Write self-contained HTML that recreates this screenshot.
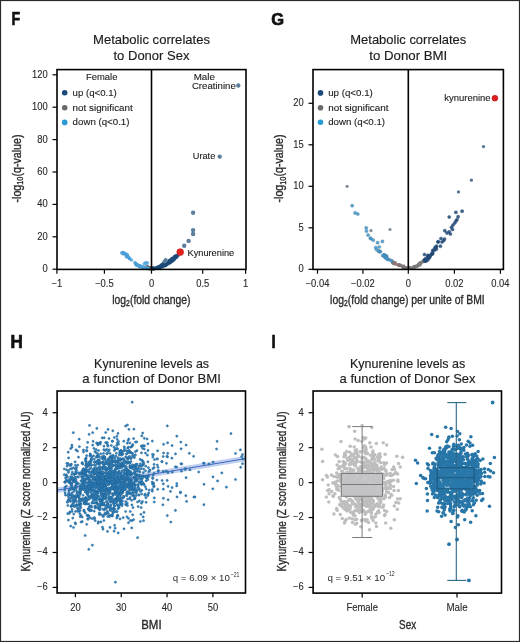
<!DOCTYPE html>
<html><head><meta charset="utf-8"><style>
html,body{margin:0;padding:0;background:#fff;}
svg{display:block;font-family:"Liberation Sans", sans-serif;will-change:transform;}
</style></head><body>
<svg width="520" height="642" viewBox="0 0 520 642">
<rect x="0.5" y="0.5" width="519" height="641" fill="#fff" stroke="#2a2a2a" stroke-width="1.2"/>
<text transform="translate(11.60,24.60) scale(0.800,1)" font-size="17.6" text-anchor="start" fill="#111" font-weight="bold" stroke="#111" stroke-width="0.7">F</text>
<text transform="translate(271.30,24.50) scale(0.970,1)" font-size="17.0" text-anchor="start" fill="#111" font-weight="bold" stroke="#111" stroke-width="0.7">G</text>
<text transform="translate(10.60,348.20) scale(0.970,1)" font-size="17.6" text-anchor="start" fill="#111" font-weight="bold" stroke="#111" stroke-width="0.7">H</text>
<text transform="translate(271.40,348.00) scale(0.850,1)" font-size="17.6" text-anchor="start" fill="#111" font-weight="bold" stroke="#111" stroke-width="0.7">I</text>
<text transform="translate(151.50,44.30)" font-size="13" text-anchor="middle" fill="#1e1b1c" textLength="117" lengthAdjust="spacingAndGlyphs" stroke="#1e1b1c" stroke-width="0.15">Metabolic correlates</text>
<text transform="translate(151.50,59.60)" font-size="13" text-anchor="middle" fill="#1e1b1c" textLength="76" lengthAdjust="spacingAndGlyphs" stroke="#1e1b1c" stroke-width="0.15">to Donor Sex</text>
<text transform="translate(408.30,44.30)" font-size="13" text-anchor="middle" fill="#1e1b1c" textLength="116" lengthAdjust="spacingAndGlyphs" stroke="#1e1b1c" stroke-width="0.15">Metabolic correlates</text>
<text transform="translate(408.30,59.60)" font-size="13" text-anchor="middle" fill="#1e1b1c" textLength="78" lengthAdjust="spacingAndGlyphs" stroke="#1e1b1c" stroke-width="0.15">to Donor BMI</text>
<text transform="translate(151.60,368.30)" font-size="13" text-anchor="middle" fill="#1e1b1c" textLength="115" lengthAdjust="spacingAndGlyphs" stroke="#1e1b1c" stroke-width="0.15">Kynurenine levels as</text>
<text transform="translate(151.60,383.40)" font-size="13" text-anchor="middle" fill="#1e1b1c" textLength="138.5" lengthAdjust="spacingAndGlyphs" stroke="#1e1b1c" stroke-width="0.15">a function of Donor BMI</text>
<text transform="translate(407.60,368.30)" font-size="13" text-anchor="middle" fill="#1e1b1c" textLength="115.4" lengthAdjust="spacingAndGlyphs" stroke="#1e1b1c" stroke-width="0.15">Kynurenine levels as</text>
<text transform="translate(407.60,383.40)" font-size="13" text-anchor="middle" fill="#1e1b1c" textLength="136" lengthAdjust="spacingAndGlyphs" stroke="#1e1b1c" stroke-width="0.15">a function of Donor Sex</text>
<line x1="52.50" y1="269.20" x2="57.00" y2="269.20" stroke="#000" stroke-width="1.2"/>
<text transform="translate(47.70,272.10) scale(0.940,1)" font-size="10" text-anchor="end" fill="#2a2a2a" stroke="#2a2a2a" stroke-width="0.12">0</text>
<line x1="52.50" y1="236.80" x2="57.00" y2="236.80" stroke="#000" stroke-width="1.2"/>
<text transform="translate(47.70,239.70) scale(0.940,1)" font-size="10" text-anchor="end" fill="#2a2a2a" stroke="#2a2a2a" stroke-width="0.12">20</text>
<line x1="52.50" y1="204.40" x2="57.00" y2="204.40" stroke="#000" stroke-width="1.2"/>
<text transform="translate(47.70,207.30) scale(0.940,1)" font-size="10" text-anchor="end" fill="#2a2a2a" stroke="#2a2a2a" stroke-width="0.12">40</text>
<line x1="52.50" y1="172.00" x2="57.00" y2="172.00" stroke="#000" stroke-width="1.2"/>
<text transform="translate(47.70,174.90) scale(0.940,1)" font-size="10" text-anchor="end" fill="#2a2a2a" stroke="#2a2a2a" stroke-width="0.12">60</text>
<line x1="52.50" y1="139.60" x2="57.00" y2="139.60" stroke="#000" stroke-width="1.2"/>
<text transform="translate(47.70,142.50) scale(0.940,1)" font-size="10" text-anchor="end" fill="#2a2a2a" stroke="#2a2a2a" stroke-width="0.12">80</text>
<line x1="52.50" y1="107.20" x2="57.00" y2="107.20" stroke="#000" stroke-width="1.2"/>
<text transform="translate(47.70,110.10) scale(0.940,1)" font-size="10" text-anchor="end" fill="#2a2a2a" stroke="#2a2a2a" stroke-width="0.12">100</text>
<line x1="52.50" y1="74.80" x2="57.00" y2="74.80" stroke="#000" stroke-width="1.2"/>
<text transform="translate(47.70,77.70) scale(0.940,1)" font-size="10" text-anchor="end" fill="#2a2a2a" stroke="#2a2a2a" stroke-width="0.12">120</text>
<line x1="56.90" y1="269.40" x2="56.90" y2="273.70" stroke="#000" stroke-width="1.2"/>
<text transform="translate(56.90,287.00) scale(0.940,1)" font-size="10" text-anchor="middle" fill="#2a2a2a" stroke="#2a2a2a" stroke-width="0.12">&#8722;1</text>
<line x1="104.40" y1="269.40" x2="104.40" y2="273.70" stroke="#000" stroke-width="1.2"/>
<text transform="translate(104.40,287.00) scale(0.940,1)" font-size="10" text-anchor="middle" fill="#2a2a2a" stroke="#2a2a2a" stroke-width="0.12">&#8722;0.5</text>
<line x1="151.50" y1="269.40" x2="151.50" y2="273.70" stroke="#000" stroke-width="1.2"/>
<text transform="translate(151.50,287.00) scale(0.940,1)" font-size="10" text-anchor="middle" fill="#2a2a2a" stroke="#2a2a2a" stroke-width="0.12">0</text>
<line x1="202.70" y1="269.40" x2="202.70" y2="273.70" stroke="#000" stroke-width="1.2"/>
<text transform="translate(202.70,287.00) scale(0.940,1)" font-size="10" text-anchor="middle" fill="#2a2a2a" stroke="#2a2a2a" stroke-width="0.12">0.5</text>
<line x1="245.60" y1="269.40" x2="245.60" y2="273.70" stroke="#000" stroke-width="1.2"/>
<text transform="translate(245.60,287.00) scale(0.940,1)" font-size="10" text-anchor="middle" fill="#2a2a2a" stroke="#2a2a2a" stroke-width="0.12">1</text>
<text transform="translate(151.4,303.8) scale(0.765,1)" font-size="13.6" text-anchor="middle" fill="#2a2a2a" stroke="#2a2a2a" stroke-width="0.35">log<tspan font-size="9" dy="2.6">2</tspan><tspan dy="-2.6">(fold change)</tspan></text>
<text transform="translate(20.8,168.5) rotate(-90) scale(0.81,1)" font-size="13.2" text-anchor="middle" fill="#2a2a2a" stroke="#2a2a2a" stroke-width="0.35">-log<tspan font-size="9" dy="2.6">10</tspan><tspan dy="-2.6">(q-value)</tspan></text>
<line x1="308.50" y1="269.30" x2="313.00" y2="269.30" stroke="#000" stroke-width="1.2"/>
<text transform="translate(303.70,272.20) scale(0.940,1)" font-size="10" text-anchor="end" fill="#2a2a2a" stroke="#2a2a2a" stroke-width="0.12">0</text>
<line x1="308.50" y1="227.80" x2="313.00" y2="227.80" stroke="#000" stroke-width="1.2"/>
<text transform="translate(303.70,230.70) scale(0.940,1)" font-size="10" text-anchor="end" fill="#2a2a2a" stroke="#2a2a2a" stroke-width="0.12">5</text>
<line x1="308.50" y1="186.30" x2="313.00" y2="186.30" stroke="#000" stroke-width="1.2"/>
<text transform="translate(303.70,189.20) scale(0.940,1)" font-size="10" text-anchor="end" fill="#2a2a2a" stroke="#2a2a2a" stroke-width="0.12">10</text>
<line x1="308.50" y1="144.80" x2="313.00" y2="144.80" stroke="#000" stroke-width="1.2"/>
<text transform="translate(303.70,147.70) scale(0.940,1)" font-size="10" text-anchor="end" fill="#2a2a2a" stroke="#2a2a2a" stroke-width="0.12">15</text>
<line x1="308.50" y1="103.30" x2="313.00" y2="103.30" stroke="#000" stroke-width="1.2"/>
<text transform="translate(303.70,106.20) scale(0.940,1)" font-size="10" text-anchor="end" fill="#2a2a2a" stroke="#2a2a2a" stroke-width="0.12">20</text>
<line x1="317.50" y1="269.40" x2="317.50" y2="273.70" stroke="#000" stroke-width="1.2"/>
<text transform="translate(317.50,287.00) scale(0.940,1)" font-size="10" text-anchor="middle" fill="#2a2a2a" stroke="#2a2a2a" stroke-width="0.12">&#8722;0.04</text>
<line x1="362.90" y1="269.40" x2="362.90" y2="273.70" stroke="#000" stroke-width="1.2"/>
<text transform="translate(362.90,287.00) scale(0.940,1)" font-size="10" text-anchor="middle" fill="#2a2a2a" stroke="#2a2a2a" stroke-width="0.12">&#8722;0.02</text>
<line x1="408.30" y1="269.40" x2="408.30" y2="273.70" stroke="#000" stroke-width="1.2"/>
<text transform="translate(408.30,287.00) scale(0.940,1)" font-size="10" text-anchor="middle" fill="#2a2a2a" stroke="#2a2a2a" stroke-width="0.12">0</text>
<line x1="454.40" y1="269.40" x2="454.40" y2="273.70" stroke="#000" stroke-width="1.2"/>
<text transform="translate(454.40,287.00) scale(0.940,1)" font-size="10" text-anchor="middle" fill="#2a2a2a" stroke="#2a2a2a" stroke-width="0.12">0.02</text>
<line x1="500.40" y1="269.40" x2="500.40" y2="273.70" stroke="#000" stroke-width="1.2"/>
<text transform="translate(500.40,287.00) scale(0.940,1)" font-size="10" text-anchor="middle" fill="#2a2a2a" stroke="#2a2a2a" stroke-width="0.12">0.04</text>
<text transform="translate(407.4,303.8) scale(0.765,1)" font-size="13.6" text-anchor="middle" fill="#2a2a2a" stroke="#2a2a2a" stroke-width="0.35">log<tspan font-size="9" dy="2.6">2</tspan><tspan dy="-2.6">(fold change) per unite of BMI</tspan></text>
<text transform="translate(283.2,168.5) rotate(-90) scale(0.81,1)" font-size="13.2" text-anchor="middle" fill="#2a2a2a" stroke="#2a2a2a" stroke-width="0.35">-log<tspan font-size="9" dy="2.6">10</tspan><tspan dy="-2.6">(q-value)</tspan></text>
<line x1="52.60" y1="587.42" x2="57.10" y2="587.42" stroke="#000" stroke-width="1.2"/>
<text transform="translate(47.80,590.32) scale(0.940,1)" font-size="10" text-anchor="end" fill="#2a2a2a" stroke="#2a2a2a" stroke-width="0.12">&#8722;6</text>
<line x1="52.60" y1="552.48" x2="57.10" y2="552.48" stroke="#000" stroke-width="1.2"/>
<text transform="translate(47.80,555.38) scale(0.940,1)" font-size="10" text-anchor="end" fill="#2a2a2a" stroke="#2a2a2a" stroke-width="0.12">&#8722;4</text>
<line x1="52.60" y1="517.54" x2="57.10" y2="517.54" stroke="#000" stroke-width="1.2"/>
<text transform="translate(47.80,520.44) scale(0.940,1)" font-size="10" text-anchor="end" fill="#2a2a2a" stroke="#2a2a2a" stroke-width="0.12">&#8722;2</text>
<line x1="52.60" y1="482.60" x2="57.10" y2="482.60" stroke="#000" stroke-width="1.2"/>
<text transform="translate(47.80,485.50) scale(0.940,1)" font-size="10" text-anchor="end" fill="#2a2a2a" stroke="#2a2a2a" stroke-width="0.12">0</text>
<line x1="52.60" y1="447.66" x2="57.10" y2="447.66" stroke="#000" stroke-width="1.2"/>
<text transform="translate(47.80,450.56) scale(0.940,1)" font-size="10" text-anchor="end" fill="#2a2a2a" stroke="#2a2a2a" stroke-width="0.12">2</text>
<line x1="52.60" y1="412.72" x2="57.10" y2="412.72" stroke="#000" stroke-width="1.2"/>
<text transform="translate(47.80,415.62) scale(0.940,1)" font-size="10" text-anchor="end" fill="#2a2a2a" stroke="#2a2a2a" stroke-width="0.12">4</text>
<line x1="75.40" y1="593.00" x2="75.40" y2="597.30" stroke="#000" stroke-width="1.2"/>
<text transform="translate(75.40,611.00) scale(0.940,1)" font-size="10" text-anchor="middle" fill="#2a2a2a" stroke="#2a2a2a" stroke-width="0.12">20</text>
<line x1="121.23" y1="593.00" x2="121.23" y2="597.30" stroke="#000" stroke-width="1.2"/>
<text transform="translate(121.23,611.00) scale(0.940,1)" font-size="10" text-anchor="middle" fill="#2a2a2a" stroke="#2a2a2a" stroke-width="0.12">30</text>
<line x1="167.06" y1="593.00" x2="167.06" y2="597.30" stroke="#000" stroke-width="1.2"/>
<text transform="translate(167.06,611.00) scale(0.940,1)" font-size="10" text-anchor="middle" fill="#2a2a2a" stroke="#2a2a2a" stroke-width="0.12">40</text>
<line x1="212.89" y1="593.00" x2="212.89" y2="597.30" stroke="#000" stroke-width="1.2"/>
<text transform="translate(212.89,611.00) scale(0.940,1)" font-size="10" text-anchor="middle" fill="#2a2a2a" stroke="#2a2a2a" stroke-width="0.12">50</text>
<text transform="translate(151.4,628.8) scale(0.87,1)" font-size="13.2" text-anchor="middle" fill="#2a2a2a" stroke="#2a2a2a" stroke-width="0.35">BMI</text>
<text transform="translate(30.2,491.4) rotate(-90) scale(0.765,1)" font-size="13" text-anchor="middle" fill="#2a2a2a" stroke="#2a2a2a" stroke-width="0.35">Kynurenine (Z score normalized AU)</text>
<line x1="308.60" y1="587.42" x2="313.10" y2="587.42" stroke="#000" stroke-width="1.2"/>
<text transform="translate(303.80,590.32) scale(0.940,1)" font-size="10" text-anchor="end" fill="#2a2a2a" stroke="#2a2a2a" stroke-width="0.12">&#8722;6</text>
<line x1="308.60" y1="552.48" x2="313.10" y2="552.48" stroke="#000" stroke-width="1.2"/>
<text transform="translate(303.80,555.38) scale(0.940,1)" font-size="10" text-anchor="end" fill="#2a2a2a" stroke="#2a2a2a" stroke-width="0.12">&#8722;4</text>
<line x1="308.60" y1="517.54" x2="313.10" y2="517.54" stroke="#000" stroke-width="1.2"/>
<text transform="translate(303.80,520.44) scale(0.940,1)" font-size="10" text-anchor="end" fill="#2a2a2a" stroke="#2a2a2a" stroke-width="0.12">&#8722;2</text>
<line x1="308.60" y1="482.60" x2="313.10" y2="482.60" stroke="#000" stroke-width="1.2"/>
<text transform="translate(303.80,485.50) scale(0.940,1)" font-size="10" text-anchor="end" fill="#2a2a2a" stroke="#2a2a2a" stroke-width="0.12">0</text>
<line x1="308.60" y1="447.66" x2="313.10" y2="447.66" stroke="#000" stroke-width="1.2"/>
<text transform="translate(303.80,450.56) scale(0.940,1)" font-size="10" text-anchor="end" fill="#2a2a2a" stroke="#2a2a2a" stroke-width="0.12">2</text>
<line x1="308.60" y1="412.72" x2="313.10" y2="412.72" stroke="#000" stroke-width="1.2"/>
<text transform="translate(303.80,415.62) scale(0.940,1)" font-size="10" text-anchor="end" fill="#2a2a2a" stroke="#2a2a2a" stroke-width="0.12">4</text>
<line x1="362.20" y1="593.10" x2="362.20" y2="597.40" stroke="#000" stroke-width="1.2"/>
<text transform="translate(362.20,610.70)" font-size="10" text-anchor="middle" fill="#2a2a2a" textLength="31.6" lengthAdjust="spacingAndGlyphs" stroke="#2a2a2a" stroke-width="0.12">Female</text>
<line x1="457.00" y1="593.10" x2="457.00" y2="597.40" stroke="#000" stroke-width="1.2"/>
<text transform="translate(457.00,610.70)" font-size="10" text-anchor="middle" fill="#2a2a2a" textLength="21.2" lengthAdjust="spacingAndGlyphs" stroke="#2a2a2a" stroke-width="0.12">Male</text>
<text transform="translate(407.6,629.3) scale(0.76,1)" font-size="13" text-anchor="middle" fill="#2a2a2a" stroke="#2a2a2a" stroke-width="0.35">Sex</text>
<text transform="translate(286.2,491.4) rotate(-90) scale(0.765,1)" font-size="13" text-anchor="middle" fill="#2a2a2a" stroke="#2a2a2a" stroke-width="0.35">Kynurenine (Z score normalized AU)</text>
<circle cx="149.2" cy="268.1" r="2.0" fill="#6a6a6a"/>
<circle cx="149.9" cy="268.6" r="2.0" fill="#6a6a6a"/>
<circle cx="147.0" cy="267.9" r="2.0" fill="#6a6a6a"/>
<circle cx="154.3" cy="268.5" r="2.0" fill="#6a6a6a"/>
<circle cx="147.2" cy="266.9" r="2.0" fill="#6a6a6a"/>
<circle cx="148.0" cy="267.4" r="2.0" fill="#6a6a6a"/>
<circle cx="152.3" cy="268.3" r="2.0" fill="#6a6a6a"/>
<circle cx="145.9" cy="267.5" r="2.0" fill="#6a6a6a"/>
<circle cx="147.9" cy="268.1" r="2.0" fill="#6a6a6a"/>
<circle cx="149.6" cy="268.6" r="2.0" fill="#6a6a6a"/>
<circle cx="150.7" cy="268.2" r="2.0" fill="#6a6a6a"/>
<circle cx="152.2" cy="268.6" r="2.0" fill="#6a6a6a"/>
<circle cx="157.1" cy="267.8" r="2.0" fill="#6a6a6a"/>
<circle cx="152.9" cy="268.6" r="2.0" fill="#6a6a6a"/>
<circle cx="129.3" cy="258.0" r="1.75" fill="#4a9fd6" fill-opacity="0.8"/>
<circle cx="131.5" cy="260.0" r="1.75" fill="#4a9fd6" fill-opacity="0.8"/>
<circle cx="147.6" cy="268.4" r="1.75" fill="#4a9fd6" fill-opacity="0.8"/>
<circle cx="127.4" cy="255.5" r="1.75" fill="#4a9fd6" fill-opacity="0.8"/>
<circle cx="148.2" cy="268.6" r="1.75" fill="#4a9fd6" fill-opacity="0.8"/>
<circle cx="137.4" cy="264.6" r="1.75" fill="#4a9fd6" fill-opacity="0.8"/>
<circle cx="123.4" cy="254.1" r="1.75" fill="#4a9fd6" fill-opacity="0.8"/>
<circle cx="141.4" cy="266.9" r="1.75" fill="#4a9fd6" fill-opacity="0.8"/>
<circle cx="125.1" cy="253.6" r="1.75" fill="#4a9fd6" fill-opacity="0.8"/>
<circle cx="125.9" cy="254.7" r="1.75" fill="#4a9fd6" fill-opacity="0.8"/>
<circle cx="126.5" cy="255.0" r="1.75" fill="#4a9fd6" fill-opacity="0.8"/>
<circle cx="138.1" cy="265.4" r="1.75" fill="#4a9fd6" fill-opacity="0.8"/>
<circle cx="126.9" cy="256.9" r="1.75" fill="#4a9fd6" fill-opacity="0.8"/>
<circle cx="142.4" cy="268.0" r="1.75" fill="#4a9fd6" fill-opacity="0.8"/>
<circle cx="126.4" cy="256.2" r="1.75" fill="#4a9fd6" fill-opacity="0.8"/>
<circle cx="138.7" cy="265.8" r="1.75" fill="#4a9fd6" fill-opacity="0.8"/>
<circle cx="127.0" cy="256.5" r="1.75" fill="#4a9fd6" fill-opacity="0.8"/>
<circle cx="129.6" cy="258.8" r="1.75" fill="#4a9fd6" fill-opacity="0.8"/>
<circle cx="123.8" cy="253.1" r="1.75" fill="#4a9fd6" fill-opacity="0.8"/>
<circle cx="136.2" cy="264.8" r="1.75" fill="#4a9fd6" fill-opacity="0.8"/>
<circle cx="147.1" cy="268.4" r="1.75" fill="#4a9fd6" fill-opacity="0.8"/>
<circle cx="144.7" cy="268.0" r="1.75" fill="#4a9fd6" fill-opacity="0.8"/>
<circle cx="146.1" cy="267.8" r="1.75" fill="#4a9fd6" fill-opacity="0.8"/>
<circle cx="126.5" cy="254.3" r="1.75" fill="#4a9fd6" fill-opacity="0.8"/>
<circle cx="127.5" cy="255.1" r="1.75" fill="#4a9fd6" fill-opacity="0.8"/>
<circle cx="136.4" cy="264.6" r="1.75" fill="#4a9fd6" fill-opacity="0.8"/>
<circle cx="122.7" cy="252.6" r="1.75" fill="#4a9fd6" fill-opacity="0.8"/>
<circle cx="139.6" cy="266.7" r="1.75" fill="#4a9fd6" fill-opacity="0.8"/>
<circle cx="136.3" cy="264.6" r="1.75" fill="#4a9fd6" fill-opacity="0.8"/>
<circle cx="140.3" cy="266.4" r="1.75" fill="#4a9fd6" fill-opacity="0.8"/>
<circle cx="135.7" cy="263.3" r="1.75" fill="#4a9fd6" fill-opacity="0.8"/>
<circle cx="128.7" cy="257.4" r="1.75" fill="#4a9fd6" fill-opacity="0.8"/>
<circle cx="121.7" cy="252.9" r="1.75" fill="#4a9fd6" fill-opacity="0.8"/>
<circle cx="123.3" cy="253.3" r="1.75" fill="#4a9fd6" fill-opacity="0.8"/>
<circle cx="136.0" cy="264.2" r="1.75" fill="#4a9fd6" fill-opacity="0.8"/>
<circle cx="146.0" cy="268.0" r="1.75" fill="#4a9fd6" fill-opacity="0.8"/>
<circle cx="139.0" cy="265.7" r="1.75" fill="#4a9fd6" fill-opacity="0.8"/>
<circle cx="123.2" cy="252.8" r="1.75" fill="#4a9fd6" fill-opacity="0.8"/>
<circle cx="139.6" cy="265.9" r="1.75" fill="#4a9fd6" fill-opacity="0.8"/>
<circle cx="136.9" cy="265.1" r="1.75" fill="#4a9fd6" fill-opacity="0.8"/>
<circle cx="129.6" cy="258.4" r="1.75" fill="#4a9fd6" fill-opacity="0.8"/>
<circle cx="134.9" cy="262.6" r="1.75" fill="#4a9fd6" fill-opacity="0.8"/>
<circle cx="140.4" cy="265.8" r="1.75" fill="#4a9fd6" fill-opacity="0.8"/>
<circle cx="145.8" cy="268.6" r="1.75" fill="#4a9fd6" fill-opacity="0.8"/>
<circle cx="146.0" cy="267.8" r="1.75" fill="#4a9fd6" fill-opacity="0.8"/>
<circle cx="142.6" cy="266.6" r="1.75" fill="#4a9fd6" fill-opacity="0.8"/>
<circle cx="136.8" cy="265.2" r="1.75" fill="#4a9fd6" fill-opacity="0.8"/>
<circle cx="137.2" cy="264.8" r="1.75" fill="#4a9fd6" fill-opacity="0.8"/>
<circle cx="144.5" cy="263.7" r="1.9" fill="#4ea3da" fill-opacity="0.8"/>
<circle cx="145.8" cy="262.8" r="1.9" fill="#4ea3da" fill-opacity="0.8"/>
<circle cx="147.2" cy="263.0" r="1.9" fill="#4ea3da" fill-opacity="0.8"/>
<circle cx="177.6" cy="255.5" r="2.0" fill="#1d4a78" fill-opacity="0.9"/>
<circle cx="162.8" cy="264.8" r="2.0" fill="#1d4a78" fill-opacity="0.9"/>
<circle cx="164.3" cy="264.7" r="2.0" fill="#1d4a78" fill-opacity="0.9"/>
<circle cx="172.3" cy="260.4" r="2.0" fill="#1d4a78" fill-opacity="0.9"/>
<circle cx="165.3" cy="265.2" r="2.0" fill="#1d4a78" fill-opacity="0.9"/>
<circle cx="164.5" cy="263.2" r="2.0" fill="#1d4a78" fill-opacity="0.9"/>
<circle cx="160.0" cy="267.2" r="2.0" fill="#1d4a78" fill-opacity="0.9"/>
<circle cx="169.9" cy="261.8" r="2.0" fill="#1d4a78" fill-opacity="0.9"/>
<circle cx="174.6" cy="257.1" r="2.0" fill="#1d4a78" fill-opacity="0.9"/>
<circle cx="174.2" cy="258.7" r="2.0" fill="#1d4a78" fill-opacity="0.9"/>
<circle cx="157.0" cy="268.1" r="2.0" fill="#1d4a78" fill-opacity="0.9"/>
<circle cx="175.6" cy="257.1" r="2.0" fill="#1d4a78" fill-opacity="0.9"/>
<circle cx="167.5" cy="263.1" r="2.0" fill="#1d4a78" fill-opacity="0.9"/>
<circle cx="166.1" cy="263.1" r="2.0" fill="#1d4a78" fill-opacity="0.9"/>
<circle cx="171.0" cy="260.7" r="2.0" fill="#1d4a78" fill-opacity="0.9"/>
<circle cx="156.8" cy="268.1" r="2.0" fill="#1d4a78" fill-opacity="0.9"/>
<circle cx="157.7" cy="267.9" r="2.0" fill="#1d4a78" fill-opacity="0.9"/>
<circle cx="165.0" cy="265.2" r="2.0" fill="#1d4a78" fill-opacity="0.9"/>
<circle cx="176.4" cy="256.4" r="2.0" fill="#1d4a78" fill-opacity="0.9"/>
<circle cx="153.6" cy="268.5" r="2.0" fill="#1d4a78" fill-opacity="0.9"/>
<circle cx="170.1" cy="260.7" r="2.0" fill="#1d4a78" fill-opacity="0.9"/>
<circle cx="172.7" cy="259.6" r="2.0" fill="#1d4a78" fill-opacity="0.9"/>
<circle cx="165.6" cy="264.8" r="2.0" fill="#1d4a78" fill-opacity="0.9"/>
<circle cx="159.2" cy="267.4" r="2.0" fill="#1d4a78" fill-opacity="0.9"/>
<circle cx="167.9" cy="262.5" r="2.0" fill="#1d4a78" fill-opacity="0.9"/>
<circle cx="169.8" cy="260.4" r="2.0" fill="#1d4a78" fill-opacity="0.9"/>
<circle cx="170.2" cy="262.0" r="2.0" fill="#1d4a78" fill-opacity="0.9"/>
<circle cx="158.2" cy="267.9" r="2.0" fill="#1d4a78" fill-opacity="0.9"/>
<circle cx="170.9" cy="261.3" r="2.0" fill="#1d4a78" fill-opacity="0.9"/>
<circle cx="161.6" cy="265.5" r="2.0" fill="#1d4a78" fill-opacity="0.9"/>
<circle cx="168.4" cy="261.8" r="2.0" fill="#1d4a78" fill-opacity="0.9"/>
<circle cx="172.6" cy="259.5" r="2.0" fill="#1d4a78" fill-opacity="0.9"/>
<circle cx="175.5" cy="256.9" r="2.0" fill="#1d4a78" fill-opacity="0.9"/>
<circle cx="163.5" cy="263.8" r="2.0" fill="#1d4a78" fill-opacity="0.9"/>
<circle cx="161.5" cy="265.2" r="2.0" fill="#1d4a78" fill-opacity="0.9"/>
<circle cx="173.2" cy="259.3" r="2.0" fill="#1d4a78" fill-opacity="0.9"/>
<circle cx="169.5" cy="262.8" r="2.0" fill="#1d4a78" fill-opacity="0.9"/>
<circle cx="172.4" cy="258.4" r="2.0" fill="#1d4a78" fill-opacity="0.9"/>
<circle cx="159.8" cy="266.5" r="2.0" fill="#1d4a78" fill-opacity="0.9"/>
<circle cx="175.5" cy="256.2" r="2.0" fill="#1d4a78" fill-opacity="0.9"/>
<circle cx="162.2" cy="265.8" r="2.0" fill="#1d4a78" fill-opacity="0.9"/>
<circle cx="162.5" cy="266.4" r="2.0" fill="#1d4a78" fill-opacity="0.9"/>
<circle cx="166.9" cy="262.6" r="2.0" fill="#1d4a78" fill-opacity="0.9"/>
<circle cx="153.5" cy="268.5" r="2.0" fill="#1d4a78" fill-opacity="0.9"/>
<circle cx="172.9" cy="259.9" r="2.0" fill="#1d4a78" fill-opacity="0.9"/>
<circle cx="172.6" cy="259.9" r="2.0" fill="#1d4a78" fill-opacity="0.9"/>
<circle cx="165.8" cy="262.7" r="2.0" fill="#1d4a78" fill-opacity="0.9"/>
<circle cx="170.7" cy="261.0" r="2.0" fill="#1d4a78" fill-opacity="0.9"/>
<circle cx="176.3" cy="257.1" r="2.0" fill="#1d4a78" fill-opacity="0.9"/>
<circle cx="166.0" cy="264.6" r="2.0" fill="#1d4a78" fill-opacity="0.9"/>
<circle cx="167.8" cy="261.9" r="2.0" fill="#1d4a78" fill-opacity="0.9"/>
<circle cx="166.8" cy="263.7" r="2.0" fill="#1d4a78" fill-opacity="0.9"/>
<circle cx="174.0" cy="258.5" r="2.0" fill="#1d4a78" fill-opacity="0.9"/>
<circle cx="174.5" cy="258.5" r="2.0" fill="#1d4a78" fill-opacity="0.9"/>
<circle cx="167.6" cy="263.7" r="2.0" fill="#1d4a78" fill-opacity="0.9"/>
<circle cx="165.6" cy="263.9" r="2.0" fill="#1d4a78" fill-opacity="0.9"/>
<circle cx="175.7" cy="256.5" r="2.0" fill="#1d4a78" fill-opacity="0.9"/>
<circle cx="172.0" cy="259.2" r="2.0" fill="#1d4a78" fill-opacity="0.9"/>
<circle cx="170.8" cy="261.5" r="2.0" fill="#1d4a78" fill-opacity="0.9"/>
<circle cx="164.8" cy="264.9" r="2.0" fill="#1d4a78" fill-opacity="0.9"/>
<circle cx="159.6" cy="267.0" r="2.0" fill="#1d4a78" fill-opacity="0.9"/>
<circle cx="164.5" cy="263.8" r="2.0" fill="#1d4a78" fill-opacity="0.9"/>
<circle cx="164.9" cy="264.7" r="2.0" fill="#1d4a78" fill-opacity="0.9"/>
<circle cx="168.7" cy="262.2" r="2.0" fill="#1d4a78" fill-opacity="0.9"/>
<circle cx="172.5" cy="259.9" r="2.0" fill="#1d4a78" fill-opacity="0.9"/>
<circle cx="158.6" cy="266.9" r="2.0" fill="#1d4a78" fill-opacity="0.9"/>
<circle cx="161.9" cy="265.8" r="2.0" fill="#1d4a78" fill-opacity="0.9"/>
<circle cx="171.5" cy="261.1" r="2.0" fill="#1d4a78" fill-opacity="0.9"/>
<circle cx="159.6" cy="267.9" r="2.0" fill="#1d4a78" fill-opacity="0.9"/>
<circle cx="163.6" cy="265.4" r="2.0" fill="#1d4a78" fill-opacity="0.9"/>
<circle cx="165.7" cy="260.2" r="2.1" fill="#5d7f9e"/>
<circle cx="164.5" cy="261.5" r="2.1" fill="#5d7f9e"/>
<circle cx="238.3" cy="85.5" r="2.2" fill="#5d7f9e"/>
<circle cx="219.7" cy="156.6" r="2.2" fill="#5d7f9e"/>
<circle cx="193.1" cy="212.8" r="2.2" fill="#5d7f9e"/>
<circle cx="193.1" cy="230.1" r="2.2" fill="#5d7f9e"/>
<circle cx="193.1" cy="234.0" r="2.2" fill="#5d7f9e"/>
<circle cx="188.6" cy="240.9" r="2.2" fill="#5d7f9e"/>
<circle cx="184.2" cy="245.7" r="2.2" fill="#5d7f9e"/>
<circle cx="180.2" cy="252.1" r="3.4" fill="#e2231a" stroke="#c01818" stroke-width="0.6"/>
<circle cx="400.0" cy="265.6" r="1.6" fill="#7d7676" fill-opacity="0.85"/>
<circle cx="400.9" cy="265.4" r="1.6" fill="#7d7676" fill-opacity="0.85"/>
<circle cx="403.9" cy="266.5" r="1.6" fill="#7d7676" fill-opacity="0.85"/>
<circle cx="395.3" cy="262.5" r="1.6" fill="#7d7676" fill-opacity="0.85"/>
<circle cx="405.3" cy="267.9" r="1.6" fill="#7d7676" fill-opacity="0.85"/>
<circle cx="406.2" cy="268.4" r="1.6" fill="#7d7676" fill-opacity="0.85"/>
<circle cx="405.5" cy="267.7" r="1.6" fill="#7d7676" fill-opacity="0.85"/>
<circle cx="402.8" cy="266.8" r="1.6" fill="#7d7676" fill-opacity="0.85"/>
<circle cx="403.6" cy="267.6" r="1.6" fill="#7d7676" fill-opacity="0.85"/>
<circle cx="393.1" cy="263.2" r="1.6" fill="#7d7676" fill-opacity="0.85"/>
<circle cx="392.5" cy="262.7" r="1.6" fill="#7d7676" fill-opacity="0.85"/>
<circle cx="405.9" cy="267.5" r="1.6" fill="#7d7676" fill-opacity="0.85"/>
<circle cx="399.5" cy="264.5" r="1.6" fill="#7d7676" fill-opacity="0.85"/>
<circle cx="402.3" cy="266.5" r="1.6" fill="#7d7676" fill-opacity="0.85"/>
<circle cx="394.2" cy="262.8" r="1.6" fill="#7d7676" fill-opacity="0.85"/>
<circle cx="399.3" cy="265.1" r="1.6" fill="#7d7676" fill-opacity="0.85"/>
<circle cx="394.9" cy="264.2" r="1.6" fill="#7d7676" fill-opacity="0.85"/>
<circle cx="407.1" cy="267.8" r="1.6" fill="#7d7676" fill-opacity="0.85"/>
<circle cx="393.5" cy="262.1" r="1.6" fill="#7d7676" fill-opacity="0.85"/>
<circle cx="403.1" cy="267.3" r="1.6" fill="#7d7676" fill-opacity="0.85"/>
<circle cx="398.9" cy="265.6" r="1.6" fill="#7d7676" fill-opacity="0.85"/>
<circle cx="391.9" cy="260.9" r="1.6" fill="#7d7676" fill-opacity="0.85"/>
<circle cx="393.7" cy="263.4" r="1.6" fill="#7d7676" fill-opacity="0.85"/>
<circle cx="398.1" cy="264.9" r="1.6" fill="#7d7676" fill-opacity="0.85"/>
<circle cx="400.7" cy="265.3" r="1.6" fill="#7d7676" fill-opacity="0.85"/>
<circle cx="403.6" cy="265.9" r="1.6" fill="#7d7676" fill-opacity="0.85"/>
<circle cx="395.0" cy="263.5" r="1.6" fill="#9a7070" fill-opacity="0.8"/>
<circle cx="397.5" cy="264.6" r="1.6" fill="#9a7070" fill-opacity="0.8"/>
<circle cx="418.2" cy="265.1" r="1.6" fill="#7a7a7a" fill-opacity="0.85"/>
<circle cx="418.0" cy="265.5" r="1.6" fill="#7a7a7a" fill-opacity="0.85"/>
<circle cx="414.2" cy="266.7" r="1.6" fill="#7a7a7a" fill-opacity="0.85"/>
<circle cx="421.0" cy="262.9" r="1.6" fill="#7a7a7a" fill-opacity="0.85"/>
<circle cx="423.0" cy="261.8" r="1.6" fill="#7a7a7a" fill-opacity="0.85"/>
<circle cx="420.7" cy="262.9" r="1.6" fill="#7a7a7a" fill-opacity="0.85"/>
<circle cx="420.5" cy="264.1" r="1.6" fill="#7a7a7a" fill-opacity="0.85"/>
<circle cx="417.1" cy="265.9" r="1.6" fill="#7a7a7a" fill-opacity="0.85"/>
<circle cx="418.6" cy="264.3" r="1.6" fill="#7a7a7a" fill-opacity="0.85"/>
<circle cx="422.7" cy="261.5" r="1.6" fill="#7a7a7a" fill-opacity="0.85"/>
<circle cx="418.6" cy="264.1" r="1.6" fill="#7a7a7a" fill-opacity="0.85"/>
<circle cx="416.2" cy="266.4" r="1.6" fill="#7a7a7a" fill-opacity="0.85"/>
<circle cx="419.9" cy="262.5" r="1.6" fill="#7a7a7a" fill-opacity="0.85"/>
<circle cx="409.2" cy="267.6" r="1.6" fill="#7a7a7a" fill-opacity="0.85"/>
<circle cx="413.3" cy="267.2" r="1.6" fill="#7a7a7a" fill-opacity="0.85"/>
<circle cx="412.3" cy="267.6" r="1.6" fill="#7a7a7a" fill-opacity="0.85"/>
<circle cx="413.9" cy="266.8" r="1.6" fill="#7a7a7a" fill-opacity="0.85"/>
<circle cx="417.8" cy="265.4" r="1.6" fill="#7a7a7a" fill-opacity="0.85"/>
<circle cx="423.0" cy="260.7" r="1.6" fill="#7a7a7a" fill-opacity="0.85"/>
<circle cx="409.9" cy="267.4" r="1.6" fill="#7a7a7a" fill-opacity="0.85"/>
<circle cx="410.5" cy="268.0" r="1.6" fill="#7a7a7a" fill-opacity="0.85"/>
<circle cx="416.9" cy="266.4" r="1.6" fill="#7a7a7a" fill-opacity="0.85"/>
<circle cx="419.8" cy="265.2" r="1.6" fill="#7a7a7a" fill-opacity="0.85"/>
<circle cx="415.1" cy="266.1" r="1.6" fill="#7a7a7a" fill-opacity="0.85"/>
<circle cx="414.9" cy="267.3" r="1.6" fill="#7a7a7a" fill-opacity="0.85"/>
<circle cx="417.6" cy="266.0" r="1.6" fill="#7a7a7a" fill-opacity="0.85"/>
<circle cx="414.4" cy="267.0" r="1.6" fill="#7a7a7a" fill-opacity="0.85"/>
<circle cx="410.7" cy="268.4" r="1.6" fill="#7a7a7a" fill-opacity="0.85"/>
<circle cx="384.0" cy="254.7" r="1.6" fill="#3f98cf" fill-opacity="0.85" stroke="#4d7d9c" stroke-width="0.4"/>
<circle cx="380.3" cy="251.5" r="1.6" fill="#3f98cf" fill-opacity="0.85" stroke="#4d7d9c" stroke-width="0.4"/>
<circle cx="379.8" cy="251.6" r="1.6" fill="#3f98cf" fill-opacity="0.85" stroke="#4d7d9c" stroke-width="0.4"/>
<circle cx="384.9" cy="255.9" r="1.6" fill="#3f98cf" fill-opacity="0.85" stroke="#4d7d9c" stroke-width="0.4"/>
<circle cx="386.0" cy="256.0" r="1.6" fill="#3f98cf" fill-opacity="0.85" stroke="#4d7d9c" stroke-width="0.4"/>
<circle cx="385.4" cy="255.7" r="1.6" fill="#3f98cf" fill-opacity="0.85" stroke="#4d7d9c" stroke-width="0.4"/>
<circle cx="386.6" cy="257.8" r="1.6" fill="#3f98cf" fill-opacity="0.85" stroke="#4d7d9c" stroke-width="0.4"/>
<circle cx="384.3" cy="255.9" r="1.6" fill="#3f98cf" fill-opacity="0.85" stroke="#4d7d9c" stroke-width="0.4"/>
<circle cx="385.7" cy="256.7" r="1.6" fill="#3f98cf" fill-opacity="0.85" stroke="#4d7d9c" stroke-width="0.4"/>
<circle cx="386.3" cy="258.2" r="1.6" fill="#3f98cf" fill-opacity="0.85" stroke="#4d7d9c" stroke-width="0.4"/>
<circle cx="385.1" cy="257.4" r="1.6" fill="#3f98cf" fill-opacity="0.85" stroke="#4d7d9c" stroke-width="0.4"/>
<circle cx="386.6" cy="256.3" r="1.6" fill="#3f98cf" fill-opacity="0.85" stroke="#4d7d9c" stroke-width="0.4"/>
<circle cx="387.5" cy="259.1" r="1.6" fill="#3f98cf" fill-opacity="0.85" stroke="#4d7d9c" stroke-width="0.4"/>
<circle cx="389.7" cy="259.8" r="1.6" fill="#3f98cf" fill-opacity="0.85" stroke="#4d7d9c" stroke-width="0.4"/>
<circle cx="382.8" cy="255.7" r="1.6" fill="#3f98cf" fill-opacity="0.85" stroke="#4d7d9c" stroke-width="0.4"/>
<circle cx="385.1" cy="256.4" r="1.6" fill="#3f98cf" fill-opacity="0.85" stroke="#4d7d9c" stroke-width="0.4"/>
<circle cx="387.9" cy="259.4" r="1.6" fill="#3f98cf" fill-opacity="0.85" stroke="#4d7d9c" stroke-width="0.4"/>
<circle cx="391.6" cy="260.8" r="1.6" fill="#3f98cf" fill-opacity="0.85" stroke="#4d7d9c" stroke-width="0.4"/>
<circle cx="379.3" cy="251.6" r="1.6" fill="#3f98cf" fill-opacity="0.85" stroke="#4d7d9c" stroke-width="0.4"/>
<circle cx="383.7" cy="255.3" r="1.6" fill="#3f98cf" fill-opacity="0.85" stroke="#4d7d9c" stroke-width="0.4"/>
<circle cx="385.7" cy="256.6" r="1.6" fill="#3f98cf" fill-opacity="0.85" stroke="#4d7d9c" stroke-width="0.4"/>
<circle cx="386.1" cy="258.0" r="1.6" fill="#3f98cf" fill-opacity="0.85" stroke="#4d7d9c" stroke-width="0.4"/>
<circle cx="352.2" cy="205.7" r="1.6" fill="#3f98cf" fill-opacity="0.85" stroke="#4d7d9c" stroke-width="0.4"/>
<circle cx="355.1" cy="212.9" r="1.6" fill="#3f98cf" fill-opacity="0.85" stroke="#4d7d9c" stroke-width="0.4"/>
<circle cx="357.8" cy="214.0" r="1.6" fill="#3f98cf" fill-opacity="0.85" stroke="#4d7d9c" stroke-width="0.4"/>
<circle cx="366.2" cy="227.9" r="1.6" fill="#3f98cf" fill-opacity="0.85" stroke="#4d7d9c" stroke-width="0.4"/>
<circle cx="366.5" cy="231.1" r="1.6" fill="#3f98cf" fill-opacity="0.85" stroke="#4d7d9c" stroke-width="0.4"/>
<circle cx="368.1" cy="235.1" r="1.6" fill="#3f98cf" fill-opacity="0.85" stroke="#4d7d9c" stroke-width="0.4"/>
<circle cx="370.5" cy="238.3" r="1.6" fill="#3f98cf" fill-opacity="0.85" stroke="#4d7d9c" stroke-width="0.4"/>
<circle cx="370.8" cy="238.5" r="1.6" fill="#3f98cf" fill-opacity="0.85" stroke="#4d7d9c" stroke-width="0.4"/>
<circle cx="373.2" cy="240.2" r="1.6" fill="#3f98cf" fill-opacity="0.85" stroke="#4d7d9c" stroke-width="0.4"/>
<circle cx="377.6" cy="242.7" r="1.6" fill="#3f98cf" fill-opacity="0.85" stroke="#4d7d9c" stroke-width="0.4"/>
<circle cx="382.4" cy="241.4" r="1.6" fill="#3f98cf" fill-opacity="0.85" stroke="#4d7d9c" stroke-width="0.4"/>
<circle cx="375.7" cy="247.5" r="1.6" fill="#3f98cf" fill-opacity="0.85" stroke="#4d7d9c" stroke-width="0.4"/>
<circle cx="379.2" cy="247.0" r="1.6" fill="#3f98cf" fill-opacity="0.85" stroke="#4d7d9c" stroke-width="0.4"/>
<circle cx="378.4" cy="251.0" r="1.6" fill="#3f98cf" fill-opacity="0.85" stroke="#4d7d9c" stroke-width="0.4"/>
<circle cx="376.5" cy="249.5" r="1.6" fill="#3f98cf" fill-opacity="0.85" stroke="#4d7d9c" stroke-width="0.4"/>
<circle cx="347.1" cy="186.3" r="1.6" fill="#7a8894" fill-opacity="0.95"/>
<circle cx="371.0" cy="230.6" r="1.6" fill="#7a8894" fill-opacity="0.95"/>
<circle cx="390.0" cy="229.5" r="1.6" fill="#7a8894" fill-opacity="0.95"/>
<circle cx="428.6" cy="256.9" r="1.6" fill="#1d4673" fill-opacity="0.85" stroke="#2a527c" stroke-width="0.4"/>
<circle cx="428.6" cy="256.0" r="1.6" fill="#1d4673" fill-opacity="0.85" stroke="#2a527c" stroke-width="0.4"/>
<circle cx="425.8" cy="260.9" r="1.6" fill="#1d4673" fill-opacity="0.85" stroke="#2a527c" stroke-width="0.4"/>
<circle cx="432.0" cy="253.3" r="1.6" fill="#1d4673" fill-opacity="0.85" stroke="#2a527c" stroke-width="0.4"/>
<circle cx="429.6" cy="257.4" r="1.6" fill="#1d4673" fill-opacity="0.85" stroke="#2a527c" stroke-width="0.4"/>
<circle cx="427.9" cy="255.4" r="1.6" fill="#1d4673" fill-opacity="0.85" stroke="#2a527c" stroke-width="0.4"/>
<circle cx="427.4" cy="257.1" r="1.6" fill="#1d4673" fill-opacity="0.85" stroke="#2a527c" stroke-width="0.4"/>
<circle cx="434.7" cy="249.9" r="1.6" fill="#1d4673" fill-opacity="0.85" stroke="#2a527c" stroke-width="0.4"/>
<circle cx="425.5" cy="259.7" r="1.6" fill="#1d4673" fill-opacity="0.85" stroke="#2a527c" stroke-width="0.4"/>
<circle cx="424.5" cy="259.8" r="1.6" fill="#1d4673" fill-opacity="0.85" stroke="#2a527c" stroke-width="0.4"/>
<circle cx="432.4" cy="253.9" r="1.6" fill="#1d4673" fill-opacity="0.85" stroke="#2a527c" stroke-width="0.4"/>
<circle cx="425.2" cy="261.0" r="1.6" fill="#1d4673" fill-opacity="0.85" stroke="#2a527c" stroke-width="0.4"/>
<circle cx="424.8" cy="261.0" r="1.6" fill="#1d4673" fill-opacity="0.85" stroke="#2a527c" stroke-width="0.4"/>
<circle cx="432.7" cy="253.1" r="1.6" fill="#1d4673" fill-opacity="0.85" stroke="#2a527c" stroke-width="0.4"/>
<circle cx="428.7" cy="256.4" r="1.6" fill="#1d4673" fill-opacity="0.85" stroke="#2a527c" stroke-width="0.4"/>
<circle cx="425.4" cy="258.9" r="1.6" fill="#1d4673" fill-opacity="0.85" stroke="#2a527c" stroke-width="0.4"/>
<circle cx="436.4" cy="249.1" r="1.6" fill="#1d4673" fill-opacity="0.85" stroke="#2a527c" stroke-width="0.4"/>
<circle cx="430.0" cy="255.6" r="1.6" fill="#1d4673" fill-opacity="0.85" stroke="#2a527c" stroke-width="0.4"/>
<circle cx="483.5" cy="146.6" r="1.6" fill="#4a6a8c" fill-opacity="0.95"/>
<circle cx="471.4" cy="180.2" r="1.6" fill="#4a6a8c" fill-opacity="0.95"/>
<circle cx="458.5" cy="191.9" r="1.6" fill="#4a6a8c" fill-opacity="0.95"/>
<circle cx="462.1" cy="211.2" r="1.6" fill="#1d4673" fill-opacity="0.85" stroke="#2a527c" stroke-width="0.4"/>
<circle cx="455.9" cy="212.3" r="1.6" fill="#1d4673" fill-opacity="0.85" stroke="#2a527c" stroke-width="0.4"/>
<circle cx="449.2" cy="217.0" r="1.6" fill="#1d4673" fill-opacity="0.85" stroke="#2a527c" stroke-width="0.4"/>
<circle cx="458.1" cy="216.7" r="1.6" fill="#1d4673" fill-opacity="0.85" stroke="#2a527c" stroke-width="0.4"/>
<circle cx="457.0" cy="219.6" r="1.6" fill="#1d4673" fill-opacity="0.85" stroke="#2a527c" stroke-width="0.4"/>
<circle cx="454.8" cy="222.9" r="1.6" fill="#1d4673" fill-opacity="0.85" stroke="#2a527c" stroke-width="0.4"/>
<circle cx="451.5" cy="227.3" r="1.6" fill="#1d4673" fill-opacity="0.85" stroke="#2a527c" stroke-width="0.4"/>
<circle cx="449.2" cy="231.8" r="1.6" fill="#1d4673" fill-opacity="0.85" stroke="#2a527c" stroke-width="0.4"/>
<circle cx="444.8" cy="230.7" r="1.6" fill="#1d4673" fill-opacity="0.85" stroke="#2a527c" stroke-width="0.4"/>
<circle cx="450.4" cy="234.0" r="1.6" fill="#1d4673" fill-opacity="0.85" stroke="#2a527c" stroke-width="0.4"/>
<circle cx="443.7" cy="240.6" r="1.6" fill="#1d4673" fill-opacity="0.85" stroke="#2a527c" stroke-width="0.4"/>
<circle cx="438.2" cy="241.7" r="1.6" fill="#1d4673" fill-opacity="0.85" stroke="#2a527c" stroke-width="0.4"/>
<circle cx="436.0" cy="247.3" r="1.6" fill="#1d4673" fill-opacity="0.85" stroke="#2a527c" stroke-width="0.4"/>
<circle cx="440.4" cy="246.2" r="1.6" fill="#1d4673" fill-opacity="0.85" stroke="#2a527c" stroke-width="0.4"/>
<circle cx="432.7" cy="250.6" r="1.6" fill="#1d4673" fill-opacity="0.85" stroke="#2a527c" stroke-width="0.4"/>
<circle cx="424.5" cy="254.5" r="1.6" fill="#1d4673" fill-opacity="0.85" stroke="#2a527c" stroke-width="0.4"/>
<circle cx="429.3" cy="256.1" r="1.6" fill="#1d4673" fill-opacity="0.85" stroke="#2a527c" stroke-width="0.4"/>
<circle cx="427.1" cy="260.5" r="1.6" fill="#1d4673" fill-opacity="0.85" stroke="#2a527c" stroke-width="0.4"/>
<circle cx="453.0" cy="225.0" r="1.6" fill="#1d4673" fill-opacity="0.85" stroke="#2a527c" stroke-width="0.4"/>
<circle cx="447.0" cy="233.0" r="1.6" fill="#1d4673" fill-opacity="0.85" stroke="#2a527c" stroke-width="0.4"/>
<circle cx="441.0" cy="238.5" r="1.6" fill="#1d4673" fill-opacity="0.85" stroke="#2a527c" stroke-width="0.4"/>
<circle cx="438.0" cy="242.0" r="1.6" fill="#1d4673" fill-opacity="0.85" stroke="#2a527c" stroke-width="0.4"/>
<circle cx="442.0" cy="242.0" r="1.6" fill="#1d4673" fill-opacity="0.85" stroke="#2a527c" stroke-width="0.4"/>
<circle cx="444.5" cy="239.0" r="1.6" fill="#1d4673" fill-opacity="0.85" stroke="#2a527c" stroke-width="0.4"/>
<circle cx="436.5" cy="246.0" r="1.6" fill="#1d4673" fill-opacity="0.85" stroke="#2a527c" stroke-width="0.4"/>
<circle cx="435.0" cy="247.5" r="1.6" fill="#1d4673" fill-opacity="0.85" stroke="#2a527c" stroke-width="0.4"/>
<circle cx="433.5" cy="250.0" r="1.6" fill="#1d4673" fill-opacity="0.85" stroke="#2a527c" stroke-width="0.4"/>
<circle cx="430.0" cy="256.0" r="1.6" fill="#1d4673" fill-opacity="0.85" stroke="#2a527c" stroke-width="0.4"/>
<circle cx="432.0" cy="254.0" r="1.6" fill="#1d4673" fill-opacity="0.85" stroke="#2a527c" stroke-width="0.4"/>
<circle cx="428.5" cy="259.0" r="1.6" fill="#1d4673" fill-opacity="0.85" stroke="#2a527c" stroke-width="0.4"/>
<circle cx="452.5" cy="229.5" r="1.6" fill="#1d4673" fill-opacity="0.85" stroke="#2a527c" stroke-width="0.4"/>
<circle cx="456.0" cy="221.0" r="1.6" fill="#1d4673" fill-opacity="0.85" stroke="#2a527c" stroke-width="0.4"/>
<circle cx="494.9" cy="98.2" r="2.9" fill="#dd1f1f" stroke="#b51515" stroke-width="0.6"/>
<polygon points="57.1,487.4 246,455.7 246,461.3 57.1,493.0" fill="#a9c0ea" fill-opacity="0.75"/>
<line x1="57.1" y1="490.2" x2="246" y2="458.5" stroke="#4466c4" stroke-width="1.0"/>
<circle cx="103.0" cy="529.2" r="1.1" fill="#2f86c6" stroke="#1f5c88" stroke-width="0.45"/>
<circle cx="109.5" cy="483.5" r="1.1" fill="#2f86c6" stroke="#1f5c88" stroke-width="0.45"/>
<circle cx="145.5" cy="453.1" r="1.1" fill="#2f86c6" stroke="#1f5c88" stroke-width="0.45"/>
<circle cx="120.8" cy="482.2" r="1.1" fill="#2f86c6" stroke="#1f5c88" stroke-width="0.45"/>
<circle cx="103.4" cy="456.8" r="1.1" fill="#2f86c6" stroke="#1f5c88" stroke-width="0.45"/>
<circle cx="86.2" cy="469.8" r="1.1" fill="#2f86c6" stroke="#1f5c88" stroke-width="0.45"/>
<circle cx="127.9" cy="470.2" r="1.1" fill="#2f86c6" stroke="#1f5c88" stroke-width="0.45"/>
<circle cx="94.0" cy="469.0" r="1.1" fill="#2f86c6" stroke="#1f5c88" stroke-width="0.45"/>
<circle cx="138.1" cy="487.1" r="1.1" fill="#2f86c6" stroke="#1f5c88" stroke-width="0.45"/>
<circle cx="135.5" cy="491.7" r="1.1" fill="#2f86c6" stroke="#1f5c88" stroke-width="0.45"/>
<circle cx="126.7" cy="473.7" r="1.1" fill="#2f86c6" stroke="#1f5c88" stroke-width="0.45"/>
<circle cx="114.9" cy="481.7" r="1.1" fill="#2f86c6" stroke="#1f5c88" stroke-width="0.45"/>
<circle cx="103.9" cy="494.3" r="1.1" fill="#2f86c6" stroke="#1f5c88" stroke-width="0.45"/>
<circle cx="141.5" cy="503.2" r="1.1" fill="#2f86c6" stroke="#1f5c88" stroke-width="0.45"/>
<circle cx="109.0" cy="438.5" r="1.1" fill="#2f86c6" stroke="#1f5c88" stroke-width="0.45"/>
<circle cx="110.1" cy="477.5" r="1.1" fill="#2f86c6" stroke="#1f5c88" stroke-width="0.45"/>
<circle cx="84.4" cy="475.1" r="1.1" fill="#2f86c6" stroke="#1f5c88" stroke-width="0.45"/>
<circle cx="122.5" cy="476.1" r="1.1" fill="#2f86c6" stroke="#1f5c88" stroke-width="0.45"/>
<circle cx="193.9" cy="497.1" r="1.1" fill="#2f86c6" stroke="#1f5c88" stroke-width="0.45"/>
<circle cx="99.1" cy="473.1" r="1.1" fill="#2f86c6" stroke="#1f5c88" stroke-width="0.45"/>
<circle cx="75.3" cy="500.2" r="1.1" fill="#2f86c6" stroke="#1f5c88" stroke-width="0.45"/>
<circle cx="127.8" cy="448.1" r="1.1" fill="#2f86c6" stroke="#1f5c88" stroke-width="0.45"/>
<circle cx="97.6" cy="469.4" r="1.1" fill="#2f86c6" stroke="#1f5c88" stroke-width="0.45"/>
<circle cx="124.3" cy="446.8" r="1.1" fill="#2f86c6" stroke="#1f5c88" stroke-width="0.45"/>
<circle cx="166.9" cy="456.4" r="1.1" fill="#2f86c6" stroke="#1f5c88" stroke-width="0.45"/>
<circle cx="71.2" cy="506.1" r="1.1" fill="#2f86c6" stroke="#1f5c88" stroke-width="0.45"/>
<circle cx="147.9" cy="461.8" r="1.1" fill="#2f86c6" stroke="#1f5c88" stroke-width="0.45"/>
<circle cx="128.4" cy="447.2" r="1.1" fill="#2f86c6" stroke="#1f5c88" stroke-width="0.45"/>
<circle cx="106.9" cy="489.9" r="1.1" fill="#2f86c6" stroke="#1f5c88" stroke-width="0.45"/>
<circle cx="114.9" cy="492.7" r="1.1" fill="#2f86c6" stroke="#1f5c88" stroke-width="0.45"/>
<circle cx="168.1" cy="499.8" r="1.1" fill="#2f86c6" stroke="#1f5c88" stroke-width="0.45"/>
<circle cx="107.4" cy="489.9" r="1.1" fill="#2f86c6" stroke="#1f5c88" stroke-width="0.45"/>
<circle cx="111.3" cy="445.5" r="1.1" fill="#2f86c6" stroke="#1f5c88" stroke-width="0.45"/>
<circle cx="97.3" cy="471.8" r="1.1" fill="#2f86c6" stroke="#1f5c88" stroke-width="0.45"/>
<circle cx="114.0" cy="500.5" r="1.1" fill="#2f86c6" stroke="#1f5c88" stroke-width="0.45"/>
<circle cx="133.7" cy="492.6" r="1.1" fill="#2f86c6" stroke="#1f5c88" stroke-width="0.45"/>
<circle cx="73.8" cy="491.4" r="1.1" fill="#2f86c6" stroke="#1f5c88" stroke-width="0.45"/>
<circle cx="129.4" cy="489.7" r="1.1" fill="#2f86c6" stroke="#1f5c88" stroke-width="0.45"/>
<circle cx="153.7" cy="486.8" r="1.1" fill="#2f86c6" stroke="#1f5c88" stroke-width="0.45"/>
<circle cx="100.3" cy="472.8" r="1.1" fill="#2f86c6" stroke="#1f5c88" stroke-width="0.45"/>
<circle cx="76.6" cy="504.7" r="1.1" fill="#2f86c6" stroke="#1f5c88" stroke-width="0.45"/>
<circle cx="76.7" cy="467.5" r="1.1" fill="#2f86c6" stroke="#1f5c88" stroke-width="0.45"/>
<circle cx="68.6" cy="457.9" r="1.1" fill="#2f86c6" stroke="#1f5c88" stroke-width="0.45"/>
<circle cx="98.0" cy="462.2" r="1.1" fill="#2f86c6" stroke="#1f5c88" stroke-width="0.45"/>
<circle cx="72.6" cy="489.0" r="1.1" fill="#2f86c6" stroke="#1f5c88" stroke-width="0.45"/>
<circle cx="91.5" cy="493.7" r="1.1" fill="#2f86c6" stroke="#1f5c88" stroke-width="0.45"/>
<circle cx="85.6" cy="503.7" r="1.1" fill="#2f86c6" stroke="#1f5c88" stroke-width="0.45"/>
<circle cx="78.9" cy="510.3" r="1.1" fill="#2f86c6" stroke="#1f5c88" stroke-width="0.45"/>
<circle cx="116.1" cy="483.9" r="1.1" fill="#2f86c6" stroke="#1f5c88" stroke-width="0.45"/>
<circle cx="100.2" cy="474.2" r="1.1" fill="#2f86c6" stroke="#1f5c88" stroke-width="0.45"/>
<circle cx="108.5" cy="480.0" r="1.1" fill="#2f86c6" stroke="#1f5c88" stroke-width="0.45"/>
<circle cx="110.1" cy="499.2" r="1.1" fill="#2f86c6" stroke="#1f5c88" stroke-width="0.45"/>
<circle cx="86.1" cy="458.7" r="1.1" fill="#2f86c6" stroke="#1f5c88" stroke-width="0.45"/>
<circle cx="105.0" cy="457.6" r="1.1" fill="#2f86c6" stroke="#1f5c88" stroke-width="0.45"/>
<circle cx="131.7" cy="483.7" r="1.1" fill="#2f86c6" stroke="#1f5c88" stroke-width="0.45"/>
<circle cx="98.4" cy="521.8" r="1.1" fill="#2f86c6" stroke="#1f5c88" stroke-width="0.45"/>
<circle cx="78.4" cy="477.1" r="1.1" fill="#2f86c6" stroke="#1f5c88" stroke-width="0.45"/>
<circle cx="76.4" cy="505.6" r="1.1" fill="#2f86c6" stroke="#1f5c88" stroke-width="0.45"/>
<circle cx="213.0" cy="476.9" r="1.1" fill="#2f86c6" stroke="#1f5c88" stroke-width="0.45"/>
<circle cx="116.5" cy="502.4" r="1.1" fill="#2f86c6" stroke="#1f5c88" stroke-width="0.45"/>
<circle cx="93.0" cy="471.1" r="1.1" fill="#2f86c6" stroke="#1f5c88" stroke-width="0.45"/>
<circle cx="91.3" cy="496.6" r="1.1" fill="#2f86c6" stroke="#1f5c88" stroke-width="0.45"/>
<circle cx="163.3" cy="489.2" r="1.1" fill="#2f86c6" stroke="#1f5c88" stroke-width="0.45"/>
<circle cx="135.7" cy="484.8" r="1.1" fill="#2f86c6" stroke="#1f5c88" stroke-width="0.45"/>
<circle cx="129.5" cy="480.1" r="1.1" fill="#2f86c6" stroke="#1f5c88" stroke-width="0.45"/>
<circle cx="126.5" cy="461.8" r="1.1" fill="#2f86c6" stroke="#1f5c88" stroke-width="0.45"/>
<circle cx="113.0" cy="513.0" r="1.1" fill="#2f86c6" stroke="#1f5c88" stroke-width="0.45"/>
<circle cx="97.2" cy="443.1" r="1.1" fill="#2f86c6" stroke="#1f5c88" stroke-width="0.45"/>
<circle cx="103.3" cy="467.4" r="1.1" fill="#2f86c6" stroke="#1f5c88" stroke-width="0.45"/>
<circle cx="85.5" cy="497.9" r="1.1" fill="#2f86c6" stroke="#1f5c88" stroke-width="0.45"/>
<circle cx="104.5" cy="491.1" r="1.1" fill="#2f86c6" stroke="#1f5c88" stroke-width="0.45"/>
<circle cx="85.8" cy="488.8" r="1.1" fill="#2f86c6" stroke="#1f5c88" stroke-width="0.45"/>
<circle cx="84.8" cy="482.0" r="1.1" fill="#2f86c6" stroke="#1f5c88" stroke-width="0.45"/>
<circle cx="120.8" cy="476.6" r="1.1" fill="#2f86c6" stroke="#1f5c88" stroke-width="0.45"/>
<circle cx="176.6" cy="467.0" r="1.1" fill="#2f86c6" stroke="#1f5c88" stroke-width="0.45"/>
<circle cx="82.3" cy="499.6" r="1.1" fill="#2f86c6" stroke="#1f5c88" stroke-width="0.45"/>
<circle cx="129.9" cy="492.8" r="1.1" fill="#2f86c6" stroke="#1f5c88" stroke-width="0.45"/>
<circle cx="122.7" cy="476.2" r="1.1" fill="#2f86c6" stroke="#1f5c88" stroke-width="0.45"/>
<circle cx="97.9" cy="496.6" r="1.1" fill="#2f86c6" stroke="#1f5c88" stroke-width="0.45"/>
<circle cx="112.1" cy="462.4" r="1.1" fill="#2f86c6" stroke="#1f5c88" stroke-width="0.45"/>
<circle cx="123.7" cy="484.0" r="1.1" fill="#2f86c6" stroke="#1f5c88" stroke-width="0.45"/>
<circle cx="115.6" cy="469.0" r="1.1" fill="#2f86c6" stroke="#1f5c88" stroke-width="0.45"/>
<circle cx="111.4" cy="483.3" r="1.1" fill="#2f86c6" stroke="#1f5c88" stroke-width="0.45"/>
<circle cx="100.6" cy="442.3" r="1.1" fill="#2f86c6" stroke="#1f5c88" stroke-width="0.45"/>
<circle cx="104.7" cy="477.5" r="1.1" fill="#2f86c6" stroke="#1f5c88" stroke-width="0.45"/>
<circle cx="148.0" cy="450.4" r="1.1" fill="#2f86c6" stroke="#1f5c88" stroke-width="0.45"/>
<circle cx="121.1" cy="488.4" r="1.1" fill="#2f86c6" stroke="#1f5c88" stroke-width="0.45"/>
<circle cx="111.1" cy="467.9" r="1.1" fill="#2f86c6" stroke="#1f5c88" stroke-width="0.45"/>
<circle cx="117.9" cy="505.7" r="1.1" fill="#2f86c6" stroke="#1f5c88" stroke-width="0.45"/>
<circle cx="120.7" cy="492.7" r="1.1" fill="#2f86c6" stroke="#1f5c88" stroke-width="0.45"/>
<circle cx="84.5" cy="503.6" r="1.1" fill="#2f86c6" stroke="#1f5c88" stroke-width="0.45"/>
<circle cx="136.0" cy="467.8" r="1.1" fill="#2f86c6" stroke="#1f5c88" stroke-width="0.45"/>
<circle cx="70.5" cy="489.4" r="1.1" fill="#2f86c6" stroke="#1f5c88" stroke-width="0.45"/>
<circle cx="89.3" cy="489.2" r="1.1" fill="#2f86c6" stroke="#1f5c88" stroke-width="0.45"/>
<circle cx="115.0" cy="471.0" r="1.1" fill="#2f86c6" stroke="#1f5c88" stroke-width="0.45"/>
<circle cx="119.4" cy="454.9" r="1.1" fill="#2f86c6" stroke="#1f5c88" stroke-width="0.45"/>
<circle cx="99.9" cy="489.7" r="1.1" fill="#2f86c6" stroke="#1f5c88" stroke-width="0.45"/>
<circle cx="108.0" cy="446.1" r="1.1" fill="#2f86c6" stroke="#1f5c88" stroke-width="0.45"/>
<circle cx="106.0" cy="486.1" r="1.1" fill="#2f86c6" stroke="#1f5c88" stroke-width="0.45"/>
<circle cx="135.5" cy="442.1" r="1.1" fill="#2f86c6" stroke="#1f5c88" stroke-width="0.45"/>
<circle cx="147.9" cy="443.8" r="1.1" fill="#2f86c6" stroke="#1f5c88" stroke-width="0.45"/>
<circle cx="124.0" cy="460.2" r="1.1" fill="#2f86c6" stroke="#1f5c88" stroke-width="0.45"/>
<circle cx="89.6" cy="463.9" r="1.1" fill="#2f86c6" stroke="#1f5c88" stroke-width="0.45"/>
<circle cx="131.4" cy="452.9" r="1.1" fill="#2f86c6" stroke="#1f5c88" stroke-width="0.45"/>
<circle cx="66.4" cy="474.9" r="1.1" fill="#2f86c6" stroke="#1f5c88" stroke-width="0.45"/>
<circle cx="73.2" cy="500.3" r="1.1" fill="#2f86c6" stroke="#1f5c88" stroke-width="0.45"/>
<circle cx="118.9" cy="477.5" r="1.1" fill="#2f86c6" stroke="#1f5c88" stroke-width="0.45"/>
<circle cx="134.4" cy="457.6" r="1.1" fill="#2f86c6" stroke="#1f5c88" stroke-width="0.45"/>
<circle cx="143.2" cy="475.8" r="1.1" fill="#2f86c6" stroke="#1f5c88" stroke-width="0.45"/>
<circle cx="114.8" cy="474.7" r="1.1" fill="#2f86c6" stroke="#1f5c88" stroke-width="0.45"/>
<circle cx="71.3" cy="464.2" r="1.1" fill="#2f86c6" stroke="#1f5c88" stroke-width="0.45"/>
<circle cx="102.3" cy="472.4" r="1.1" fill="#2f86c6" stroke="#1f5c88" stroke-width="0.45"/>
<circle cx="99.0" cy="482.5" r="1.1" fill="#2f86c6" stroke="#1f5c88" stroke-width="0.45"/>
<circle cx="135.2" cy="487.3" r="1.1" fill="#2f86c6" stroke="#1f5c88" stroke-width="0.45"/>
<circle cx="114.9" cy="483.5" r="1.1" fill="#2f86c6" stroke="#1f5c88" stroke-width="0.45"/>
<circle cx="88.9" cy="510.1" r="1.1" fill="#2f86c6" stroke="#1f5c88" stroke-width="0.45"/>
<circle cx="119.9" cy="477.7" r="1.1" fill="#2f86c6" stroke="#1f5c88" stroke-width="0.45"/>
<circle cx="124.8" cy="481.6" r="1.1" fill="#2f86c6" stroke="#1f5c88" stroke-width="0.45"/>
<circle cx="97.2" cy="455.8" r="1.1" fill="#2f86c6" stroke="#1f5c88" stroke-width="0.45"/>
<circle cx="106.8" cy="442.9" r="1.1" fill="#2f86c6" stroke="#1f5c88" stroke-width="0.45"/>
<circle cx="64.3" cy="469.0" r="1.1" fill="#2f86c6" stroke="#1f5c88" stroke-width="0.45"/>
<circle cx="99.1" cy="480.4" r="1.1" fill="#2f86c6" stroke="#1f5c88" stroke-width="0.45"/>
<circle cx="137.0" cy="471.3" r="1.1" fill="#2f86c6" stroke="#1f5c88" stroke-width="0.45"/>
<circle cx="135.0" cy="471.6" r="1.1" fill="#2f86c6" stroke="#1f5c88" stroke-width="0.45"/>
<circle cx="105.0" cy="476.6" r="1.1" fill="#2f86c6" stroke="#1f5c88" stroke-width="0.45"/>
<circle cx="104.2" cy="464.6" r="1.1" fill="#2f86c6" stroke="#1f5c88" stroke-width="0.45"/>
<circle cx="162.0" cy="461.8" r="1.1" fill="#2f86c6" stroke="#1f5c88" stroke-width="0.45"/>
<circle cx="95.6" cy="485.2" r="1.1" fill="#2f86c6" stroke="#1f5c88" stroke-width="0.45"/>
<circle cx="71.2" cy="498.2" r="1.1" fill="#2f86c6" stroke="#1f5c88" stroke-width="0.45"/>
<circle cx="131.3" cy="475.4" r="1.1" fill="#2f86c6" stroke="#1f5c88" stroke-width="0.45"/>
<circle cx="83.3" cy="468.8" r="1.1" fill="#2f86c6" stroke="#1f5c88" stroke-width="0.45"/>
<circle cx="127.0" cy="472.9" r="1.1" fill="#2f86c6" stroke="#1f5c88" stroke-width="0.45"/>
<circle cx="91.2" cy="459.0" r="1.1" fill="#2f86c6" stroke="#1f5c88" stroke-width="0.45"/>
<circle cx="124.3" cy="474.1" r="1.1" fill="#2f86c6" stroke="#1f5c88" stroke-width="0.45"/>
<circle cx="111.0" cy="501.9" r="1.1" fill="#2f86c6" stroke="#1f5c88" stroke-width="0.45"/>
<circle cx="116.8" cy="481.9" r="1.1" fill="#2f86c6" stroke="#1f5c88" stroke-width="0.45"/>
<circle cx="98.3" cy="489.0" r="1.1" fill="#2f86c6" stroke="#1f5c88" stroke-width="0.45"/>
<circle cx="111.8" cy="480.8" r="1.1" fill="#2f86c6" stroke="#1f5c88" stroke-width="0.45"/>
<circle cx="145.9" cy="497.7" r="1.1" fill="#2f86c6" stroke="#1f5c88" stroke-width="0.45"/>
<circle cx="67.5" cy="477.1" r="1.1" fill="#2f86c6" stroke="#1f5c88" stroke-width="0.45"/>
<circle cx="154.1" cy="467.5" r="1.1" fill="#2f86c6" stroke="#1f5c88" stroke-width="0.45"/>
<circle cx="85.4" cy="479.0" r="1.1" fill="#2f86c6" stroke="#1f5c88" stroke-width="0.45"/>
<circle cx="119.5" cy="452.5" r="1.1" fill="#2f86c6" stroke="#1f5c88" stroke-width="0.45"/>
<circle cx="119.1" cy="471.1" r="1.1" fill="#2f86c6" stroke="#1f5c88" stroke-width="0.45"/>
<circle cx="108.4" cy="458.9" r="1.1" fill="#2f86c6" stroke="#1f5c88" stroke-width="0.45"/>
<circle cx="95.5" cy="494.0" r="1.1" fill="#2f86c6" stroke="#1f5c88" stroke-width="0.45"/>
<circle cx="119.3" cy="466.8" r="1.1" fill="#2f86c6" stroke="#1f5c88" stroke-width="0.45"/>
<circle cx="74.1" cy="474.4" r="1.1" fill="#2f86c6" stroke="#1f5c88" stroke-width="0.45"/>
<circle cx="134.7" cy="473.6" r="1.1" fill="#2f86c6" stroke="#1f5c88" stroke-width="0.45"/>
<circle cx="94.2" cy="511.2" r="1.1" fill="#2f86c6" stroke="#1f5c88" stroke-width="0.45"/>
<circle cx="110.0" cy="461.5" r="1.1" fill="#2f86c6" stroke="#1f5c88" stroke-width="0.45"/>
<circle cx="141.6" cy="484.5" r="1.1" fill="#2f86c6" stroke="#1f5c88" stroke-width="0.45"/>
<circle cx="98.4" cy="479.2" r="1.1" fill="#2f86c6" stroke="#1f5c88" stroke-width="0.45"/>
<circle cx="83.1" cy="495.3" r="1.1" fill="#2f86c6" stroke="#1f5c88" stroke-width="0.45"/>
<circle cx="108.7" cy="467.9" r="1.1" fill="#2f86c6" stroke="#1f5c88" stroke-width="0.45"/>
<circle cx="82.1" cy="463.2" r="1.1" fill="#2f86c6" stroke="#1f5c88" stroke-width="0.45"/>
<circle cx="105.7" cy="432.5" r="1.1" fill="#2f86c6" stroke="#1f5c88" stroke-width="0.45"/>
<circle cx="88.6" cy="496.9" r="1.1" fill="#2f86c6" stroke="#1f5c88" stroke-width="0.45"/>
<circle cx="99.0" cy="483.0" r="1.1" fill="#2f86c6" stroke="#1f5c88" stroke-width="0.45"/>
<circle cx="95.2" cy="520.6" r="1.1" fill="#2f86c6" stroke="#1f5c88" stroke-width="0.45"/>
<circle cx="90.1" cy="461.1" r="1.1" fill="#2f86c6" stroke="#1f5c88" stroke-width="0.45"/>
<circle cx="111.5" cy="497.3" r="1.1" fill="#2f86c6" stroke="#1f5c88" stroke-width="0.45"/>
<circle cx="92.7" cy="490.1" r="1.1" fill="#2f86c6" stroke="#1f5c88" stroke-width="0.45"/>
<circle cx="122.8" cy="476.7" r="1.1" fill="#2f86c6" stroke="#1f5c88" stroke-width="0.45"/>
<circle cx="98.7" cy="508.7" r="1.1" fill="#2f86c6" stroke="#1f5c88" stroke-width="0.45"/>
<circle cx="134.0" cy="489.7" r="1.1" fill="#2f86c6" stroke="#1f5c88" stroke-width="0.45"/>
<circle cx="111.0" cy="497.1" r="1.1" fill="#2f86c6" stroke="#1f5c88" stroke-width="0.45"/>
<circle cx="87.4" cy="487.2" r="1.1" fill="#2f86c6" stroke="#1f5c88" stroke-width="0.45"/>
<circle cx="87.1" cy="467.1" r="1.1" fill="#2f86c6" stroke="#1f5c88" stroke-width="0.45"/>
<circle cx="87.1" cy="447.5" r="1.1" fill="#2f86c6" stroke="#1f5c88" stroke-width="0.45"/>
<circle cx="137.0" cy="464.1" r="1.1" fill="#2f86c6" stroke="#1f5c88" stroke-width="0.45"/>
<circle cx="181.5" cy="471.2" r="1.1" fill="#2f86c6" stroke="#1f5c88" stroke-width="0.45"/>
<circle cx="75.0" cy="477.0" r="1.1" fill="#2f86c6" stroke="#1f5c88" stroke-width="0.45"/>
<circle cx="138.1" cy="484.5" r="1.1" fill="#2f86c6" stroke="#1f5c88" stroke-width="0.45"/>
<circle cx="94.6" cy="477.1" r="1.1" fill="#2f86c6" stroke="#1f5c88" stroke-width="0.45"/>
<circle cx="181.1" cy="448.8" r="1.1" fill="#2f86c6" stroke="#1f5c88" stroke-width="0.45"/>
<circle cx="125.6" cy="504.4" r="1.1" fill="#2f86c6" stroke="#1f5c88" stroke-width="0.45"/>
<circle cx="136.6" cy="479.6" r="1.1" fill="#2f86c6" stroke="#1f5c88" stroke-width="0.45"/>
<circle cx="121.5" cy="455.2" r="1.1" fill="#2f86c6" stroke="#1f5c88" stroke-width="0.45"/>
<circle cx="106.0" cy="475.9" r="1.1" fill="#2f86c6" stroke="#1f5c88" stroke-width="0.45"/>
<circle cx="130.0" cy="497.6" r="1.1" fill="#2f86c6" stroke="#1f5c88" stroke-width="0.45"/>
<circle cx="67.7" cy="495.3" r="1.1" fill="#2f86c6" stroke="#1f5c88" stroke-width="0.45"/>
<circle cx="118.3" cy="482.4" r="1.1" fill="#2f86c6" stroke="#1f5c88" stroke-width="0.45"/>
<circle cx="77.7" cy="495.9" r="1.1" fill="#2f86c6" stroke="#1f5c88" stroke-width="0.45"/>
<circle cx="79.1" cy="500.7" r="1.1" fill="#2f86c6" stroke="#1f5c88" stroke-width="0.45"/>
<circle cx="127.6" cy="470.9" r="1.1" fill="#2f86c6" stroke="#1f5c88" stroke-width="0.45"/>
<circle cx="127.3" cy="503.0" r="1.1" fill="#2f86c6" stroke="#1f5c88" stroke-width="0.45"/>
<circle cx="65.6" cy="478.1" r="1.1" fill="#2f86c6" stroke="#1f5c88" stroke-width="0.45"/>
<circle cx="84.3" cy="481.5" r="1.1" fill="#2f86c6" stroke="#1f5c88" stroke-width="0.45"/>
<circle cx="112.8" cy="457.7" r="1.1" fill="#2f86c6" stroke="#1f5c88" stroke-width="0.45"/>
<circle cx="126.9" cy="469.4" r="1.1" fill="#2f86c6" stroke="#1f5c88" stroke-width="0.45"/>
<circle cx="203.9" cy="504.7" r="1.1" fill="#2f86c6" stroke="#1f5c88" stroke-width="0.45"/>
<circle cx="111.0" cy="477.4" r="1.1" fill="#2f86c6" stroke="#1f5c88" stroke-width="0.45"/>
<circle cx="73.4" cy="480.8" r="1.1" fill="#2f86c6" stroke="#1f5c88" stroke-width="0.45"/>
<circle cx="82.7" cy="473.5" r="1.1" fill="#2f86c6" stroke="#1f5c88" stroke-width="0.45"/>
<circle cx="87.7" cy="494.9" r="1.1" fill="#2f86c6" stroke="#1f5c88" stroke-width="0.45"/>
<circle cx="152.5" cy="484.1" r="1.1" fill="#2f86c6" stroke="#1f5c88" stroke-width="0.45"/>
<circle cx="101.7" cy="474.5" r="1.1" fill="#2f86c6" stroke="#1f5c88" stroke-width="0.45"/>
<circle cx="100.9" cy="521.9" r="1.1" fill="#2f86c6" stroke="#1f5c88" stroke-width="0.45"/>
<circle cx="71.2" cy="487.7" r="1.1" fill="#2f86c6" stroke="#1f5c88" stroke-width="0.45"/>
<circle cx="99.0" cy="468.0" r="1.1" fill="#2f86c6" stroke="#1f5c88" stroke-width="0.45"/>
<circle cx="126.1" cy="473.0" r="1.1" fill="#2f86c6" stroke="#1f5c88" stroke-width="0.45"/>
<circle cx="120.3" cy="473.5" r="1.1" fill="#2f86c6" stroke="#1f5c88" stroke-width="0.45"/>
<circle cx="131.8" cy="479.9" r="1.1" fill="#2f86c6" stroke="#1f5c88" stroke-width="0.45"/>
<circle cx="119.3" cy="479.2" r="1.1" fill="#2f86c6" stroke="#1f5c88" stroke-width="0.45"/>
<circle cx="102.7" cy="469.4" r="1.1" fill="#2f86c6" stroke="#1f5c88" stroke-width="0.45"/>
<circle cx="106.3" cy="487.8" r="1.1" fill="#2f86c6" stroke="#1f5c88" stroke-width="0.45"/>
<circle cx="104.2" cy="510.1" r="1.1" fill="#2f86c6" stroke="#1f5c88" stroke-width="0.45"/>
<circle cx="113.2" cy="455.3" r="1.1" fill="#2f86c6" stroke="#1f5c88" stroke-width="0.45"/>
<circle cx="95.6" cy="507.5" r="1.1" fill="#2f86c6" stroke="#1f5c88" stroke-width="0.45"/>
<circle cx="128.0" cy="457.8" r="1.1" fill="#2f86c6" stroke="#1f5c88" stroke-width="0.45"/>
<circle cx="86.7" cy="455.7" r="1.1" fill="#2f86c6" stroke="#1f5c88" stroke-width="0.45"/>
<circle cx="110.2" cy="463.6" r="1.1" fill="#2f86c6" stroke="#1f5c88" stroke-width="0.45"/>
<circle cx="75.7" cy="479.4" r="1.1" fill="#2f86c6" stroke="#1f5c88" stroke-width="0.45"/>
<circle cx="96.8" cy="428.4" r="1.1" fill="#2f86c6" stroke="#1f5c88" stroke-width="0.45"/>
<circle cx="92.7" cy="486.9" r="1.1" fill="#2f86c6" stroke="#1f5c88" stroke-width="0.45"/>
<circle cx="128.8" cy="470.7" r="1.1" fill="#2f86c6" stroke="#1f5c88" stroke-width="0.45"/>
<circle cx="113.8" cy="508.1" r="1.1" fill="#2f86c6" stroke="#1f5c88" stroke-width="0.45"/>
<circle cx="122.9" cy="454.0" r="1.1" fill="#2f86c6" stroke="#1f5c88" stroke-width="0.45"/>
<circle cx="133.2" cy="483.3" r="1.1" fill="#2f86c6" stroke="#1f5c88" stroke-width="0.45"/>
<circle cx="147.9" cy="494.9" r="1.1" fill="#2f86c6" stroke="#1f5c88" stroke-width="0.45"/>
<circle cx="100.8" cy="453.8" r="1.1" fill="#2f86c6" stroke="#1f5c88" stroke-width="0.45"/>
<circle cx="120.0" cy="453.9" r="1.1" fill="#2f86c6" stroke="#1f5c88" stroke-width="0.45"/>
<circle cx="113.5" cy="476.3" r="1.1" fill="#2f86c6" stroke="#1f5c88" stroke-width="0.45"/>
<circle cx="88.0" cy="470.5" r="1.1" fill="#2f86c6" stroke="#1f5c88" stroke-width="0.45"/>
<circle cx="124.1" cy="480.8" r="1.1" fill="#2f86c6" stroke="#1f5c88" stroke-width="0.45"/>
<circle cx="131.9" cy="504.9" r="1.1" fill="#2f86c6" stroke="#1f5c88" stroke-width="0.45"/>
<circle cx="108.6" cy="499.7" r="1.1" fill="#2f86c6" stroke="#1f5c88" stroke-width="0.45"/>
<circle cx="117.1" cy="460.9" r="1.1" fill="#2f86c6" stroke="#1f5c88" stroke-width="0.45"/>
<circle cx="113.7" cy="482.9" r="1.1" fill="#2f86c6" stroke="#1f5c88" stroke-width="0.45"/>
<circle cx="108.2" cy="504.0" r="1.1" fill="#2f86c6" stroke="#1f5c88" stroke-width="0.45"/>
<circle cx="70.7" cy="448.6" r="1.1" fill="#2f86c6" stroke="#1f5c88" stroke-width="0.45"/>
<circle cx="126.6" cy="495.0" r="1.1" fill="#2f86c6" stroke="#1f5c88" stroke-width="0.45"/>
<circle cx="118.9" cy="481.8" r="1.1" fill="#2f86c6" stroke="#1f5c88" stroke-width="0.45"/>
<circle cx="78.4" cy="496.8" r="1.1" fill="#2f86c6" stroke="#1f5c88" stroke-width="0.45"/>
<circle cx="130.5" cy="490.0" r="1.1" fill="#2f86c6" stroke="#1f5c88" stroke-width="0.45"/>
<circle cx="125.3" cy="484.8" r="1.1" fill="#2f86c6" stroke="#1f5c88" stroke-width="0.45"/>
<circle cx="106.7" cy="453.6" r="1.1" fill="#2f86c6" stroke="#1f5c88" stroke-width="0.45"/>
<circle cx="148.2" cy="475.8" r="1.1" fill="#2f86c6" stroke="#1f5c88" stroke-width="0.45"/>
<circle cx="87.8" cy="503.9" r="1.1" fill="#2f86c6" stroke="#1f5c88" stroke-width="0.45"/>
<circle cx="124.1" cy="465.6" r="1.1" fill="#2f86c6" stroke="#1f5c88" stroke-width="0.45"/>
<circle cx="122.0" cy="492.5" r="1.1" fill="#2f86c6" stroke="#1f5c88" stroke-width="0.45"/>
<circle cx="103.1" cy="505.0" r="1.1" fill="#2f86c6" stroke="#1f5c88" stroke-width="0.45"/>
<circle cx="115.8" cy="498.6" r="1.1" fill="#2f86c6" stroke="#1f5c88" stroke-width="0.45"/>
<circle cx="95.4" cy="488.5" r="1.1" fill="#2f86c6" stroke="#1f5c88" stroke-width="0.45"/>
<circle cx="93.1" cy="496.2" r="1.1" fill="#2f86c6" stroke="#1f5c88" stroke-width="0.45"/>
<circle cx="134.6" cy="466.9" r="1.1" fill="#2f86c6" stroke="#1f5c88" stroke-width="0.45"/>
<circle cx="74.6" cy="481.1" r="1.1" fill="#2f86c6" stroke="#1f5c88" stroke-width="0.45"/>
<circle cx="132.7" cy="467.0" r="1.1" fill="#2f86c6" stroke="#1f5c88" stroke-width="0.45"/>
<circle cx="105.0" cy="495.7" r="1.1" fill="#2f86c6" stroke="#1f5c88" stroke-width="0.45"/>
<circle cx="106.2" cy="513.6" r="1.1" fill="#2f86c6" stroke="#1f5c88" stroke-width="0.45"/>
<circle cx="113.0" cy="470.8" r="1.1" fill="#2f86c6" stroke="#1f5c88" stroke-width="0.45"/>
<circle cx="123.2" cy="483.5" r="1.1" fill="#2f86c6" stroke="#1f5c88" stroke-width="0.45"/>
<circle cx="111.9" cy="487.5" r="1.1" fill="#2f86c6" stroke="#1f5c88" stroke-width="0.45"/>
<circle cx="94.0" cy="491.4" r="1.1" fill="#2f86c6" stroke="#1f5c88" stroke-width="0.45"/>
<circle cx="83.3" cy="473.2" r="1.1" fill="#2f86c6" stroke="#1f5c88" stroke-width="0.45"/>
<circle cx="118.1" cy="462.0" r="1.1" fill="#2f86c6" stroke="#1f5c88" stroke-width="0.45"/>
<circle cx="88.8" cy="477.9" r="1.1" fill="#2f86c6" stroke="#1f5c88" stroke-width="0.45"/>
<circle cx="64.7" cy="490.0" r="1.1" fill="#2f86c6" stroke="#1f5c88" stroke-width="0.45"/>
<circle cx="125.0" cy="462.5" r="1.1" fill="#2f86c6" stroke="#1f5c88" stroke-width="0.45"/>
<circle cx="115.0" cy="482.9" r="1.1" fill="#2f86c6" stroke="#1f5c88" stroke-width="0.45"/>
<circle cx="129.2" cy="463.3" r="1.1" fill="#2f86c6" stroke="#1f5c88" stroke-width="0.45"/>
<circle cx="157.4" cy="459.0" r="1.1" fill="#2f86c6" stroke="#1f5c88" stroke-width="0.45"/>
<circle cx="103.4" cy="464.7" r="1.1" fill="#2f86c6" stroke="#1f5c88" stroke-width="0.45"/>
<circle cx="136.4" cy="466.1" r="1.1" fill="#2f86c6" stroke="#1f5c88" stroke-width="0.45"/>
<circle cx="118.5" cy="462.2" r="1.1" fill="#2f86c6" stroke="#1f5c88" stroke-width="0.45"/>
<circle cx="154.4" cy="459.6" r="1.1" fill="#2f86c6" stroke="#1f5c88" stroke-width="0.45"/>
<circle cx="118.4" cy="493.3" r="1.1" fill="#2f86c6" stroke="#1f5c88" stroke-width="0.45"/>
<circle cx="97.8" cy="444.9" r="1.1" fill="#2f86c6" stroke="#1f5c88" stroke-width="0.45"/>
<circle cx="83.4" cy="484.8" r="1.1" fill="#2f86c6" stroke="#1f5c88" stroke-width="0.45"/>
<circle cx="94.4" cy="462.3" r="1.1" fill="#2f86c6" stroke="#1f5c88" stroke-width="0.45"/>
<circle cx="102.5" cy="527.2" r="1.1" fill="#2f86c6" stroke="#1f5c88" stroke-width="0.45"/>
<circle cx="86.7" cy="524.3" r="1.1" fill="#2f86c6" stroke="#1f5c88" stroke-width="0.45"/>
<circle cx="100.4" cy="469.5" r="1.1" fill="#2f86c6" stroke="#1f5c88" stroke-width="0.45"/>
<circle cx="95.6" cy="480.1" r="1.1" fill="#2f86c6" stroke="#1f5c88" stroke-width="0.45"/>
<circle cx="134.2" cy="472.9" r="1.1" fill="#2f86c6" stroke="#1f5c88" stroke-width="0.45"/>
<circle cx="140.1" cy="482.5" r="1.1" fill="#2f86c6" stroke="#1f5c88" stroke-width="0.45"/>
<circle cx="139.3" cy="475.2" r="1.1" fill="#2f86c6" stroke="#1f5c88" stroke-width="0.45"/>
<circle cx="75.2" cy="496.8" r="1.1" fill="#2f86c6" stroke="#1f5c88" stroke-width="0.45"/>
<circle cx="72.1" cy="477.2" r="1.1" fill="#2f86c6" stroke="#1f5c88" stroke-width="0.45"/>
<circle cx="114.6" cy="505.9" r="1.1" fill="#2f86c6" stroke="#1f5c88" stroke-width="0.45"/>
<circle cx="75.5" cy="469.0" r="1.1" fill="#2f86c6" stroke="#1f5c88" stroke-width="0.45"/>
<circle cx="122.1" cy="453.0" r="1.1" fill="#2f86c6" stroke="#1f5c88" stroke-width="0.45"/>
<circle cx="116.0" cy="492.5" r="1.1" fill="#2f86c6" stroke="#1f5c88" stroke-width="0.45"/>
<circle cx="129.4" cy="450.7" r="1.1" fill="#2f86c6" stroke="#1f5c88" stroke-width="0.45"/>
<circle cx="70.0" cy="481.4" r="1.1" fill="#2f86c6" stroke="#1f5c88" stroke-width="0.45"/>
<circle cx="96.8" cy="474.6" r="1.1" fill="#2f86c6" stroke="#1f5c88" stroke-width="0.45"/>
<circle cx="102.8" cy="482.7" r="1.1" fill="#2f86c6" stroke="#1f5c88" stroke-width="0.45"/>
<circle cx="127.1" cy="479.4" r="1.1" fill="#2f86c6" stroke="#1f5c88" stroke-width="0.45"/>
<circle cx="68.4" cy="472.4" r="1.1" fill="#2f86c6" stroke="#1f5c88" stroke-width="0.45"/>
<circle cx="101.8" cy="503.4" r="1.1" fill="#2f86c6" stroke="#1f5c88" stroke-width="0.45"/>
<circle cx="108.4" cy="491.6" r="1.1" fill="#2f86c6" stroke="#1f5c88" stroke-width="0.45"/>
<circle cx="113.9" cy="509.8" r="1.1" fill="#2f86c6" stroke="#1f5c88" stroke-width="0.45"/>
<circle cx="80.7" cy="490.7" r="1.1" fill="#2f86c6" stroke="#1f5c88" stroke-width="0.45"/>
<circle cx="146.1" cy="480.8" r="1.1" fill="#2f86c6" stroke="#1f5c88" stroke-width="0.45"/>
<circle cx="92.6" cy="498.4" r="1.1" fill="#2f86c6" stroke="#1f5c88" stroke-width="0.45"/>
<circle cx="104.6" cy="479.9" r="1.1" fill="#2f86c6" stroke="#1f5c88" stroke-width="0.45"/>
<circle cx="104.0" cy="503.1" r="1.1" fill="#2f86c6" stroke="#1f5c88" stroke-width="0.45"/>
<circle cx="103.0" cy="499.4" r="1.1" fill="#2f86c6" stroke="#1f5c88" stroke-width="0.45"/>
<circle cx="74.0" cy="478.4" r="1.1" fill="#2f86c6" stroke="#1f5c88" stroke-width="0.45"/>
<circle cx="111.5" cy="489.5" r="1.1" fill="#2f86c6" stroke="#1f5c88" stroke-width="0.45"/>
<circle cx="106.1" cy="490.4" r="1.1" fill="#2f86c6" stroke="#1f5c88" stroke-width="0.45"/>
<circle cx="112.6" cy="499.7" r="1.1" fill="#2f86c6" stroke="#1f5c88" stroke-width="0.45"/>
<circle cx="114.8" cy="509.2" r="1.1" fill="#2f86c6" stroke="#1f5c88" stroke-width="0.45"/>
<circle cx="79.1" cy="504.8" r="1.1" fill="#2f86c6" stroke="#1f5c88" stroke-width="0.45"/>
<circle cx="149.8" cy="470.1" r="1.1" fill="#2f86c6" stroke="#1f5c88" stroke-width="0.45"/>
<circle cx="99.5" cy="476.4" r="1.1" fill="#2f86c6" stroke="#1f5c88" stroke-width="0.45"/>
<circle cx="105.0" cy="480.8" r="1.1" fill="#2f86c6" stroke="#1f5c88" stroke-width="0.45"/>
<circle cx="101.9" cy="499.9" r="1.1" fill="#2f86c6" stroke="#1f5c88" stroke-width="0.45"/>
<circle cx="176.7" cy="485.9" r="1.1" fill="#2f86c6" stroke="#1f5c88" stroke-width="0.45"/>
<circle cx="118.0" cy="508.7" r="1.1" fill="#2f86c6" stroke="#1f5c88" stroke-width="0.45"/>
<circle cx="115.1" cy="492.7" r="1.1" fill="#2f86c6" stroke="#1f5c88" stroke-width="0.45"/>
<circle cx="185.8" cy="495.7" r="1.1" fill="#2f86c6" stroke="#1f5c88" stroke-width="0.45"/>
<circle cx="80.2" cy="516.7" r="1.1" fill="#2f86c6" stroke="#1f5c88" stroke-width="0.45"/>
<circle cx="111.9" cy="466.6" r="1.1" fill="#2f86c6" stroke="#1f5c88" stroke-width="0.45"/>
<circle cx="106.2" cy="493.3" r="1.1" fill="#2f86c6" stroke="#1f5c88" stroke-width="0.45"/>
<circle cx="98.3" cy="477.5" r="1.1" fill="#2f86c6" stroke="#1f5c88" stroke-width="0.45"/>
<circle cx="116.0" cy="469.1" r="1.1" fill="#2f86c6" stroke="#1f5c88" stroke-width="0.45"/>
<circle cx="95.7" cy="480.1" r="1.1" fill="#2f86c6" stroke="#1f5c88" stroke-width="0.45"/>
<circle cx="144.1" cy="484.4" r="1.1" fill="#2f86c6" stroke="#1f5c88" stroke-width="0.45"/>
<circle cx="118.7" cy="473.9" r="1.1" fill="#2f86c6" stroke="#1f5c88" stroke-width="0.45"/>
<circle cx="105.2" cy="513.4" r="1.1" fill="#2f86c6" stroke="#1f5c88" stroke-width="0.45"/>
<circle cx="110.4" cy="506.7" r="1.1" fill="#2f86c6" stroke="#1f5c88" stroke-width="0.45"/>
<circle cx="88.1" cy="515.3" r="1.1" fill="#2f86c6" stroke="#1f5c88" stroke-width="0.45"/>
<circle cx="119.3" cy="477.1" r="1.1" fill="#2f86c6" stroke="#1f5c88" stroke-width="0.45"/>
<circle cx="97.3" cy="495.5" r="1.1" fill="#2f86c6" stroke="#1f5c88" stroke-width="0.45"/>
<circle cx="80.1" cy="499.3" r="1.1" fill="#2f86c6" stroke="#1f5c88" stroke-width="0.45"/>
<circle cx="157.3" cy="465.0" r="1.1" fill="#2f86c6" stroke="#1f5c88" stroke-width="0.45"/>
<circle cx="96.1" cy="484.6" r="1.1" fill="#2f86c6" stroke="#1f5c88" stroke-width="0.45"/>
<circle cx="144.7" cy="495.2" r="1.1" fill="#2f86c6" stroke="#1f5c88" stroke-width="0.45"/>
<circle cx="102.9" cy="486.0" r="1.1" fill="#2f86c6" stroke="#1f5c88" stroke-width="0.45"/>
<circle cx="127.7" cy="477.8" r="1.1" fill="#2f86c6" stroke="#1f5c88" stroke-width="0.45"/>
<circle cx="122.7" cy="466.1" r="1.1" fill="#2f86c6" stroke="#1f5c88" stroke-width="0.45"/>
<circle cx="97.4" cy="476.5" r="1.1" fill="#2f86c6" stroke="#1f5c88" stroke-width="0.45"/>
<circle cx="101.6" cy="490.9" r="1.1" fill="#2f86c6" stroke="#1f5c88" stroke-width="0.45"/>
<circle cx="82.7" cy="498.5" r="1.1" fill="#2f86c6" stroke="#1f5c88" stroke-width="0.45"/>
<circle cx="133.9" cy="465.7" r="1.1" fill="#2f86c6" stroke="#1f5c88" stroke-width="0.45"/>
<circle cx="110.5" cy="472.3" r="1.1" fill="#2f86c6" stroke="#1f5c88" stroke-width="0.45"/>
<circle cx="81.8" cy="473.3" r="1.1" fill="#2f86c6" stroke="#1f5c88" stroke-width="0.45"/>
<circle cx="81.5" cy="499.5" r="1.1" fill="#2f86c6" stroke="#1f5c88" stroke-width="0.45"/>
<circle cx="90.2" cy="518.0" r="1.1" fill="#2f86c6" stroke="#1f5c88" stroke-width="0.45"/>
<circle cx="121.5" cy="498.1" r="1.1" fill="#2f86c6" stroke="#1f5c88" stroke-width="0.45"/>
<circle cx="87.6" cy="485.7" r="1.1" fill="#2f86c6" stroke="#1f5c88" stroke-width="0.45"/>
<circle cx="98.8" cy="477.9" r="1.1" fill="#2f86c6" stroke="#1f5c88" stroke-width="0.45"/>
<circle cx="100.4" cy="488.5" r="1.1" fill="#2f86c6" stroke="#1f5c88" stroke-width="0.45"/>
<circle cx="135.5" cy="468.9" r="1.1" fill="#2f86c6" stroke="#1f5c88" stroke-width="0.45"/>
<circle cx="121.0" cy="459.2" r="1.1" fill="#2f86c6" stroke="#1f5c88" stroke-width="0.45"/>
<circle cx="71.8" cy="479.1" r="1.1" fill="#2f86c6" stroke="#1f5c88" stroke-width="0.45"/>
<circle cx="126.5" cy="450.8" r="1.1" fill="#2f86c6" stroke="#1f5c88" stroke-width="0.45"/>
<circle cx="133.6" cy="438.6" r="1.1" fill="#2f86c6" stroke="#1f5c88" stroke-width="0.45"/>
<circle cx="87.0" cy="476.1" r="1.1" fill="#2f86c6" stroke="#1f5c88" stroke-width="0.45"/>
<circle cx="104.7" cy="495.9" r="1.1" fill="#2f86c6" stroke="#1f5c88" stroke-width="0.45"/>
<circle cx="109.6" cy="465.4" r="1.1" fill="#2f86c6" stroke="#1f5c88" stroke-width="0.45"/>
<circle cx="95.4" cy="506.1" r="1.1" fill="#2f86c6" stroke="#1f5c88" stroke-width="0.45"/>
<circle cx="115.9" cy="448.9" r="1.1" fill="#2f86c6" stroke="#1f5c88" stroke-width="0.45"/>
<circle cx="113.7" cy="503.9" r="1.1" fill="#2f86c6" stroke="#1f5c88" stroke-width="0.45"/>
<circle cx="104.7" cy="478.3" r="1.1" fill="#2f86c6" stroke="#1f5c88" stroke-width="0.45"/>
<circle cx="86.4" cy="464.0" r="1.1" fill="#2f86c6" stroke="#1f5c88" stroke-width="0.45"/>
<circle cx="147.3" cy="478.2" r="1.1" fill="#2f86c6" stroke="#1f5c88" stroke-width="0.45"/>
<circle cx="130.7" cy="447.2" r="1.1" fill="#2f86c6" stroke="#1f5c88" stroke-width="0.45"/>
<circle cx="102.1" cy="474.0" r="1.1" fill="#2f86c6" stroke="#1f5c88" stroke-width="0.45"/>
<circle cx="107.2" cy="489.4" r="1.1" fill="#2f86c6" stroke="#1f5c88" stroke-width="0.45"/>
<circle cx="119.9" cy="451.1" r="1.1" fill="#2f86c6" stroke="#1f5c88" stroke-width="0.45"/>
<circle cx="168.0" cy="472.6" r="1.1" fill="#2f86c6" stroke="#1f5c88" stroke-width="0.45"/>
<circle cx="103.7" cy="476.1" r="1.1" fill="#2f86c6" stroke="#1f5c88" stroke-width="0.45"/>
<circle cx="101.8" cy="482.7" r="1.1" fill="#2f86c6" stroke="#1f5c88" stroke-width="0.45"/>
<circle cx="125.6" cy="501.6" r="1.1" fill="#2f86c6" stroke="#1f5c88" stroke-width="0.45"/>
<circle cx="139.3" cy="489.3" r="1.1" fill="#2f86c6" stroke="#1f5c88" stroke-width="0.45"/>
<circle cx="97.0" cy="492.1" r="1.1" fill="#2f86c6" stroke="#1f5c88" stroke-width="0.45"/>
<circle cx="107.3" cy="511.4" r="1.1" fill="#2f86c6" stroke="#1f5c88" stroke-width="0.45"/>
<circle cx="144.7" cy="476.4" r="1.1" fill="#2f86c6" stroke="#1f5c88" stroke-width="0.45"/>
<circle cx="75.9" cy="497.3" r="1.1" fill="#2f86c6" stroke="#1f5c88" stroke-width="0.45"/>
<circle cx="157.6" cy="450.8" r="1.1" fill="#2f86c6" stroke="#1f5c88" stroke-width="0.45"/>
<circle cx="91.6" cy="490.9" r="1.1" fill="#2f86c6" stroke="#1f5c88" stroke-width="0.45"/>
<circle cx="106.7" cy="470.2" r="1.1" fill="#2f86c6" stroke="#1f5c88" stroke-width="0.45"/>
<circle cx="97.9" cy="455.7" r="1.1" fill="#2f86c6" stroke="#1f5c88" stroke-width="0.45"/>
<circle cx="120.2" cy="487.6" r="1.1" fill="#2f86c6" stroke="#1f5c88" stroke-width="0.45"/>
<circle cx="71.1" cy="506.4" r="1.1" fill="#2f86c6" stroke="#1f5c88" stroke-width="0.45"/>
<circle cx="80.6" cy="507.7" r="1.1" fill="#2f86c6" stroke="#1f5c88" stroke-width="0.45"/>
<circle cx="110.2" cy="492.6" r="1.1" fill="#2f86c6" stroke="#1f5c88" stroke-width="0.45"/>
<circle cx="125.0" cy="486.1" r="1.1" fill="#2f86c6" stroke="#1f5c88" stroke-width="0.45"/>
<circle cx="131.1" cy="483.3" r="1.1" fill="#2f86c6" stroke="#1f5c88" stroke-width="0.45"/>
<circle cx="120.6" cy="485.3" r="1.1" fill="#2f86c6" stroke="#1f5c88" stroke-width="0.45"/>
<circle cx="95.7" cy="481.1" r="1.1" fill="#2f86c6" stroke="#1f5c88" stroke-width="0.45"/>
<circle cx="117.3" cy="472.6" r="1.1" fill="#2f86c6" stroke="#1f5c88" stroke-width="0.45"/>
<circle cx="121.6" cy="476.8" r="1.1" fill="#2f86c6" stroke="#1f5c88" stroke-width="0.45"/>
<circle cx="112.3" cy="484.9" r="1.1" fill="#2f86c6" stroke="#1f5c88" stroke-width="0.45"/>
<circle cx="101.6" cy="485.3" r="1.1" fill="#2f86c6" stroke="#1f5c88" stroke-width="0.45"/>
<circle cx="123.0" cy="490.8" r="1.1" fill="#2f86c6" stroke="#1f5c88" stroke-width="0.45"/>
<circle cx="92.6" cy="483.4" r="1.1" fill="#2f86c6" stroke="#1f5c88" stroke-width="0.45"/>
<circle cx="78.5" cy="483.6" r="1.1" fill="#2f86c6" stroke="#1f5c88" stroke-width="0.45"/>
<circle cx="142.5" cy="501.6" r="1.1" fill="#2f86c6" stroke="#1f5c88" stroke-width="0.45"/>
<circle cx="103.6" cy="498.8" r="1.1" fill="#2f86c6" stroke="#1f5c88" stroke-width="0.45"/>
<circle cx="126.5" cy="454.1" r="1.1" fill="#2f86c6" stroke="#1f5c88" stroke-width="0.45"/>
<circle cx="89.4" cy="481.9" r="1.1" fill="#2f86c6" stroke="#1f5c88" stroke-width="0.45"/>
<circle cx="134.5" cy="477.0" r="1.1" fill="#2f86c6" stroke="#1f5c88" stroke-width="0.45"/>
<circle cx="89.0" cy="490.0" r="1.1" fill="#2f86c6" stroke="#1f5c88" stroke-width="0.45"/>
<circle cx="68.4" cy="520.1" r="1.1" fill="#2f86c6" stroke="#1f5c88" stroke-width="0.45"/>
<circle cx="127.3" cy="470.6" r="1.1" fill="#2f86c6" stroke="#1f5c88" stroke-width="0.45"/>
<circle cx="119.2" cy="492.5" r="1.1" fill="#2f86c6" stroke="#1f5c88" stroke-width="0.45"/>
<circle cx="82.7" cy="473.8" r="1.1" fill="#2f86c6" stroke="#1f5c88" stroke-width="0.45"/>
<circle cx="124.6" cy="448.6" r="1.1" fill="#2f86c6" stroke="#1f5c88" stroke-width="0.45"/>
<circle cx="94.5" cy="518.6" r="1.1" fill="#2f86c6" stroke="#1f5c88" stroke-width="0.45"/>
<circle cx="152.8" cy="457.0" r="1.1" fill="#2f86c6" stroke="#1f5c88" stroke-width="0.45"/>
<circle cx="89.7" cy="506.5" r="1.1" fill="#2f86c6" stroke="#1f5c88" stroke-width="0.45"/>
<circle cx="129.7" cy="481.9" r="1.1" fill="#2f86c6" stroke="#1f5c88" stroke-width="0.45"/>
<circle cx="98.7" cy="486.5" r="1.1" fill="#2f86c6" stroke="#1f5c88" stroke-width="0.45"/>
<circle cx="98.2" cy="483.3" r="1.1" fill="#2f86c6" stroke="#1f5c88" stroke-width="0.45"/>
<circle cx="125.5" cy="473.9" r="1.1" fill="#2f86c6" stroke="#1f5c88" stroke-width="0.45"/>
<circle cx="89.7" cy="469.0" r="1.1" fill="#2f86c6" stroke="#1f5c88" stroke-width="0.45"/>
<circle cx="89.7" cy="485.0" r="1.1" fill="#2f86c6" stroke="#1f5c88" stroke-width="0.45"/>
<circle cx="105.2" cy="494.0" r="1.1" fill="#2f86c6" stroke="#1f5c88" stroke-width="0.45"/>
<circle cx="128.6" cy="450.8" r="1.1" fill="#2f86c6" stroke="#1f5c88" stroke-width="0.45"/>
<circle cx="87.7" cy="499.6" r="1.1" fill="#2f86c6" stroke="#1f5c88" stroke-width="0.45"/>
<circle cx="103.5" cy="472.9" r="1.1" fill="#2f86c6" stroke="#1f5c88" stroke-width="0.45"/>
<circle cx="70.6" cy="476.9" r="1.1" fill="#2f86c6" stroke="#1f5c88" stroke-width="0.45"/>
<circle cx="127.4" cy="425.0" r="1.1" fill="#2f86c6" stroke="#1f5c88" stroke-width="0.45"/>
<circle cx="117.0" cy="483.3" r="1.1" fill="#2f86c6" stroke="#1f5c88" stroke-width="0.45"/>
<circle cx="167.5" cy="456.8" r="1.1" fill="#2f86c6" stroke="#1f5c88" stroke-width="0.45"/>
<circle cx="105.5" cy="469.7" r="1.1" fill="#2f86c6" stroke="#1f5c88" stroke-width="0.45"/>
<circle cx="139.0" cy="482.0" r="1.1" fill="#2f86c6" stroke="#1f5c88" stroke-width="0.45"/>
<circle cx="81.5" cy="476.8" r="1.1" fill="#2f86c6" stroke="#1f5c88" stroke-width="0.45"/>
<circle cx="128.1" cy="484.8" r="1.1" fill="#2f86c6" stroke="#1f5c88" stroke-width="0.45"/>
<circle cx="105.3" cy="463.9" r="1.1" fill="#2f86c6" stroke="#1f5c88" stroke-width="0.45"/>
<circle cx="134.7" cy="477.7" r="1.1" fill="#2f86c6" stroke="#1f5c88" stroke-width="0.45"/>
<circle cx="92.6" cy="503.1" r="1.1" fill="#2f86c6" stroke="#1f5c88" stroke-width="0.45"/>
<circle cx="115.8" cy="478.9" r="1.1" fill="#2f86c6" stroke="#1f5c88" stroke-width="0.45"/>
<circle cx="95.7" cy="497.9" r="1.1" fill="#2f86c6" stroke="#1f5c88" stroke-width="0.45"/>
<circle cx="90.1" cy="484.2" r="1.1" fill="#2f86c6" stroke="#1f5c88" stroke-width="0.45"/>
<circle cx="112.8" cy="477.8" r="1.1" fill="#2f86c6" stroke="#1f5c88" stroke-width="0.45"/>
<circle cx="96.3" cy="457.1" r="1.1" fill="#2f86c6" stroke="#1f5c88" stroke-width="0.45"/>
<circle cx="194.9" cy="496.9" r="1.1" fill="#2f86c6" stroke="#1f5c88" stroke-width="0.45"/>
<circle cx="123.4" cy="478.6" r="1.1" fill="#2f86c6" stroke="#1f5c88" stroke-width="0.45"/>
<circle cx="112.5" cy="516.0" r="1.1" fill="#2f86c6" stroke="#1f5c88" stroke-width="0.45"/>
<circle cx="135.5" cy="464.7" r="1.1" fill="#2f86c6" stroke="#1f5c88" stroke-width="0.45"/>
<circle cx="145.4" cy="486.7" r="1.1" fill="#2f86c6" stroke="#1f5c88" stroke-width="0.45"/>
<circle cx="126.6" cy="505.0" r="1.1" fill="#2f86c6" stroke="#1f5c88" stroke-width="0.45"/>
<circle cx="148.6" cy="476.4" r="1.1" fill="#2f86c6" stroke="#1f5c88" stroke-width="0.45"/>
<circle cx="96.2" cy="461.5" r="1.1" fill="#2f86c6" stroke="#1f5c88" stroke-width="0.45"/>
<circle cx="87.0" cy="491.3" r="1.1" fill="#2f86c6" stroke="#1f5c88" stroke-width="0.45"/>
<circle cx="115.6" cy="490.1" r="1.1" fill="#2f86c6" stroke="#1f5c88" stroke-width="0.45"/>
<circle cx="117.1" cy="516.2" r="1.1" fill="#2f86c6" stroke="#1f5c88" stroke-width="0.45"/>
<circle cx="117.7" cy="496.8" r="1.1" fill="#2f86c6" stroke="#1f5c88" stroke-width="0.45"/>
<circle cx="116.3" cy="453.3" r="1.1" fill="#2f86c6" stroke="#1f5c88" stroke-width="0.45"/>
<circle cx="70.7" cy="483.8" r="1.1" fill="#2f86c6" stroke="#1f5c88" stroke-width="0.45"/>
<circle cx="106.5" cy="473.6" r="1.1" fill="#2f86c6" stroke="#1f5c88" stroke-width="0.45"/>
<circle cx="198.7" cy="472.0" r="1.1" fill="#2f86c6" stroke="#1f5c88" stroke-width="0.45"/>
<circle cx="141.8" cy="446.1" r="1.1" fill="#2f86c6" stroke="#1f5c88" stroke-width="0.45"/>
<circle cx="71.7" cy="483.3" r="1.1" fill="#2f86c6" stroke="#1f5c88" stroke-width="0.45"/>
<circle cx="134.9" cy="484.9" r="1.1" fill="#2f86c6" stroke="#1f5c88" stroke-width="0.45"/>
<circle cx="132.3" cy="486.0" r="1.1" fill="#2f86c6" stroke="#1f5c88" stroke-width="0.45"/>
<circle cx="132.4" cy="495.6" r="1.1" fill="#2f86c6" stroke="#1f5c88" stroke-width="0.45"/>
<circle cx="143.6" cy="469.0" r="1.1" fill="#2f86c6" stroke="#1f5c88" stroke-width="0.45"/>
<circle cx="71.9" cy="485.8" r="1.1" fill="#2f86c6" stroke="#1f5c88" stroke-width="0.45"/>
<circle cx="108.2" cy="481.8" r="1.1" fill="#2f86c6" stroke="#1f5c88" stroke-width="0.45"/>
<circle cx="109.7" cy="493.2" r="1.1" fill="#2f86c6" stroke="#1f5c88" stroke-width="0.45"/>
<circle cx="122.5" cy="484.9" r="1.1" fill="#2f86c6" stroke="#1f5c88" stroke-width="0.45"/>
<circle cx="122.5" cy="491.1" r="1.1" fill="#2f86c6" stroke="#1f5c88" stroke-width="0.45"/>
<circle cx="93.9" cy="448.4" r="1.1" fill="#2f86c6" stroke="#1f5c88" stroke-width="0.45"/>
<circle cx="130.8" cy="452.6" r="1.1" fill="#2f86c6" stroke="#1f5c88" stroke-width="0.45"/>
<circle cx="103.0" cy="497.9" r="1.1" fill="#2f86c6" stroke="#1f5c88" stroke-width="0.45"/>
<circle cx="136.2" cy="480.5" r="1.1" fill="#2f86c6" stroke="#1f5c88" stroke-width="0.45"/>
<circle cx="95.5" cy="495.2" r="1.1" fill="#2f86c6" stroke="#1f5c88" stroke-width="0.45"/>
<circle cx="79.6" cy="504.0" r="1.1" fill="#2f86c6" stroke="#1f5c88" stroke-width="0.45"/>
<circle cx="143.2" cy="516.9" r="1.1" fill="#2f86c6" stroke="#1f5c88" stroke-width="0.45"/>
<circle cx="84.1" cy="482.7" r="1.1" fill="#2f86c6" stroke="#1f5c88" stroke-width="0.45"/>
<circle cx="143.3" cy="445.5" r="1.1" fill="#2f86c6" stroke="#1f5c88" stroke-width="0.45"/>
<circle cx="77.1" cy="493.7" r="1.1" fill="#2f86c6" stroke="#1f5c88" stroke-width="0.45"/>
<circle cx="128.6" cy="457.6" r="1.1" fill="#2f86c6" stroke="#1f5c88" stroke-width="0.45"/>
<circle cx="119.0" cy="506.5" r="1.1" fill="#2f86c6" stroke="#1f5c88" stroke-width="0.45"/>
<circle cx="129.5" cy="456.4" r="1.1" fill="#2f86c6" stroke="#1f5c88" stroke-width="0.45"/>
<circle cx="99.1" cy="496.4" r="1.1" fill="#2f86c6" stroke="#1f5c88" stroke-width="0.45"/>
<circle cx="112.2" cy="514.9" r="1.1" fill="#2f86c6" stroke="#1f5c88" stroke-width="0.45"/>
<circle cx="102.1" cy="501.3" r="1.1" fill="#2f86c6" stroke="#1f5c88" stroke-width="0.45"/>
<circle cx="107.9" cy="459.9" r="1.1" fill="#2f86c6" stroke="#1f5c88" stroke-width="0.45"/>
<circle cx="141.9" cy="490.3" r="1.1" fill="#2f86c6" stroke="#1f5c88" stroke-width="0.45"/>
<circle cx="80.0" cy="493.5" r="1.1" fill="#2f86c6" stroke="#1f5c88" stroke-width="0.45"/>
<circle cx="85.2" cy="502.4" r="1.1" fill="#2f86c6" stroke="#1f5c88" stroke-width="0.45"/>
<circle cx="130.2" cy="471.7" r="1.1" fill="#2f86c6" stroke="#1f5c88" stroke-width="0.45"/>
<circle cx="87.3" cy="493.1" r="1.1" fill="#2f86c6" stroke="#1f5c88" stroke-width="0.45"/>
<circle cx="117.5" cy="496.8" r="1.1" fill="#2f86c6" stroke="#1f5c88" stroke-width="0.45"/>
<circle cx="175.4" cy="510.4" r="1.1" fill="#2f86c6" stroke="#1f5c88" stroke-width="0.45"/>
<circle cx="94.4" cy="517.5" r="1.1" fill="#2f86c6" stroke="#1f5c88" stroke-width="0.45"/>
<circle cx="69.1" cy="491.0" r="1.1" fill="#2f86c6" stroke="#1f5c88" stroke-width="0.45"/>
<circle cx="97.3" cy="468.0" r="1.1" fill="#2f86c6" stroke="#1f5c88" stroke-width="0.45"/>
<circle cx="154.2" cy="473.3" r="1.1" fill="#2f86c6" stroke="#1f5c88" stroke-width="0.45"/>
<circle cx="122.5" cy="454.2" r="1.1" fill="#2f86c6" stroke="#1f5c88" stroke-width="0.45"/>
<circle cx="147.8" cy="479.7" r="1.1" fill="#2f86c6" stroke="#1f5c88" stroke-width="0.45"/>
<circle cx="67.1" cy="466.1" r="1.1" fill="#2f86c6" stroke="#1f5c88" stroke-width="0.45"/>
<circle cx="96.7" cy="487.3" r="1.1" fill="#2f86c6" stroke="#1f5c88" stroke-width="0.45"/>
<circle cx="100.0" cy="484.1" r="1.1" fill="#2f86c6" stroke="#1f5c88" stroke-width="0.45"/>
<circle cx="129.9" cy="485.0" r="1.1" fill="#2f86c6" stroke="#1f5c88" stroke-width="0.45"/>
<circle cx="88.1" cy="479.5" r="1.1" fill="#2f86c6" stroke="#1f5c88" stroke-width="0.45"/>
<circle cx="77.4" cy="483.4" r="1.1" fill="#2f86c6" stroke="#1f5c88" stroke-width="0.45"/>
<circle cx="95.9" cy="482.6" r="1.1" fill="#2f86c6" stroke="#1f5c88" stroke-width="0.45"/>
<circle cx="142.5" cy="477.9" r="1.1" fill="#2f86c6" stroke="#1f5c88" stroke-width="0.45"/>
<circle cx="97.2" cy="477.5" r="1.1" fill="#2f86c6" stroke="#1f5c88" stroke-width="0.45"/>
<circle cx="87.8" cy="482.5" r="1.1" fill="#2f86c6" stroke="#1f5c88" stroke-width="0.45"/>
<circle cx="133.9" cy="429.2" r="1.1" fill="#2f86c6" stroke="#1f5c88" stroke-width="0.45"/>
<circle cx="99.4" cy="485.3" r="1.1" fill="#2f86c6" stroke="#1f5c88" stroke-width="0.45"/>
<circle cx="83.3" cy="489.2" r="1.1" fill="#2f86c6" stroke="#1f5c88" stroke-width="0.45"/>
<circle cx="133.5" cy="495.2" r="1.1" fill="#2f86c6" stroke="#1f5c88" stroke-width="0.45"/>
<circle cx="121.0" cy="487.4" r="1.1" fill="#2f86c6" stroke="#1f5c88" stroke-width="0.45"/>
<circle cx="99.0" cy="476.3" r="1.1" fill="#2f86c6" stroke="#1f5c88" stroke-width="0.45"/>
<circle cx="129.0" cy="451.6" r="1.1" fill="#2f86c6" stroke="#1f5c88" stroke-width="0.45"/>
<circle cx="99.7" cy="476.5" r="1.1" fill="#2f86c6" stroke="#1f5c88" stroke-width="0.45"/>
<circle cx="118.8" cy="489.0" r="1.1" fill="#2f86c6" stroke="#1f5c88" stroke-width="0.45"/>
<circle cx="81.0" cy="480.9" r="1.1" fill="#2f86c6" stroke="#1f5c88" stroke-width="0.45"/>
<circle cx="113.2" cy="494.2" r="1.1" fill="#2f86c6" stroke="#1f5c88" stroke-width="0.45"/>
<circle cx="102.4" cy="456.6" r="1.1" fill="#2f86c6" stroke="#1f5c88" stroke-width="0.45"/>
<circle cx="124.0" cy="528.8" r="1.1" fill="#2f86c6" stroke="#1f5c88" stroke-width="0.45"/>
<circle cx="122.9" cy="492.2" r="1.1" fill="#2f86c6" stroke="#1f5c88" stroke-width="0.45"/>
<circle cx="105.6" cy="498.8" r="1.1" fill="#2f86c6" stroke="#1f5c88" stroke-width="0.45"/>
<circle cx="99.9" cy="481.2" r="1.1" fill="#2f86c6" stroke="#1f5c88" stroke-width="0.45"/>
<circle cx="85.3" cy="468.8" r="1.1" fill="#2f86c6" stroke="#1f5c88" stroke-width="0.45"/>
<circle cx="146.1" cy="502.3" r="1.1" fill="#2f86c6" stroke="#1f5c88" stroke-width="0.45"/>
<circle cx="73.5" cy="527.5" r="1.1" fill="#2f86c6" stroke="#1f5c88" stroke-width="0.45"/>
<circle cx="130.3" cy="486.3" r="1.1" fill="#2f86c6" stroke="#1f5c88" stroke-width="0.45"/>
<circle cx="91.7" cy="510.5" r="1.1" fill="#2f86c6" stroke="#1f5c88" stroke-width="0.45"/>
<circle cx="117.9" cy="497.5" r="1.1" fill="#2f86c6" stroke="#1f5c88" stroke-width="0.45"/>
<circle cx="139.1" cy="465.9" r="1.1" fill="#2f86c6" stroke="#1f5c88" stroke-width="0.45"/>
<circle cx="114.4" cy="481.0" r="1.1" fill="#2f86c6" stroke="#1f5c88" stroke-width="0.45"/>
<circle cx="90.8" cy="462.1" r="1.1" fill="#2f86c6" stroke="#1f5c88" stroke-width="0.45"/>
<circle cx="134.6" cy="481.6" r="1.1" fill="#2f86c6" stroke="#1f5c88" stroke-width="0.45"/>
<circle cx="70.1" cy="500.8" r="1.1" fill="#2f86c6" stroke="#1f5c88" stroke-width="0.45"/>
<circle cx="132.7" cy="465.7" r="1.1" fill="#2f86c6" stroke="#1f5c88" stroke-width="0.45"/>
<circle cx="117.8" cy="474.2" r="1.1" fill="#2f86c6" stroke="#1f5c88" stroke-width="0.45"/>
<circle cx="106.7" cy="468.8" r="1.1" fill="#2f86c6" stroke="#1f5c88" stroke-width="0.45"/>
<circle cx="71.6" cy="468.7" r="1.1" fill="#2f86c6" stroke="#1f5c88" stroke-width="0.45"/>
<circle cx="92.1" cy="484.9" r="1.1" fill="#2f86c6" stroke="#1f5c88" stroke-width="0.45"/>
<circle cx="81.0" cy="515.5" r="1.1" fill="#2f86c6" stroke="#1f5c88" stroke-width="0.45"/>
<circle cx="84.4" cy="470.9" r="1.1" fill="#2f86c6" stroke="#1f5c88" stroke-width="0.45"/>
<circle cx="80.2" cy="491.5" r="1.1" fill="#2f86c6" stroke="#1f5c88" stroke-width="0.45"/>
<circle cx="120.7" cy="501.1" r="1.1" fill="#2f86c6" stroke="#1f5c88" stroke-width="0.45"/>
<circle cx="86.4" cy="501.6" r="1.1" fill="#2f86c6" stroke="#1f5c88" stroke-width="0.45"/>
<circle cx="79.7" cy="473.0" r="1.1" fill="#2f86c6" stroke="#1f5c88" stroke-width="0.45"/>
<circle cx="77.7" cy="492.1" r="1.1" fill="#2f86c6" stroke="#1f5c88" stroke-width="0.45"/>
<circle cx="105.6" cy="442.6" r="1.1" fill="#2f86c6" stroke="#1f5c88" stroke-width="0.45"/>
<circle cx="103.0" cy="462.3" r="1.1" fill="#2f86c6" stroke="#1f5c88" stroke-width="0.45"/>
<circle cx="128.8" cy="439.0" r="1.1" fill="#2f86c6" stroke="#1f5c88" stroke-width="0.45"/>
<circle cx="103.3" cy="499.3" r="1.1" fill="#2f86c6" stroke="#1f5c88" stroke-width="0.45"/>
<circle cx="119.3" cy="481.2" r="1.1" fill="#2f86c6" stroke="#1f5c88" stroke-width="0.45"/>
<circle cx="133.9" cy="477.8" r="1.1" fill="#2f86c6" stroke="#1f5c88" stroke-width="0.45"/>
<circle cx="120.5" cy="465.8" r="1.1" fill="#2f86c6" stroke="#1f5c88" stroke-width="0.45"/>
<circle cx="163.6" cy="444.3" r="1.1" fill="#2f86c6" stroke="#1f5c88" stroke-width="0.45"/>
<circle cx="85.2" cy="535.5" r="1.1" fill="#2f86c6" stroke="#1f5c88" stroke-width="0.45"/>
<circle cx="76.2" cy="473.4" r="1.1" fill="#2f86c6" stroke="#1f5c88" stroke-width="0.45"/>
<circle cx="115.3" cy="473.9" r="1.1" fill="#2f86c6" stroke="#1f5c88" stroke-width="0.45"/>
<circle cx="115.7" cy="484.3" r="1.1" fill="#2f86c6" stroke="#1f5c88" stroke-width="0.45"/>
<circle cx="82.9" cy="477.4" r="1.1" fill="#2f86c6" stroke="#1f5c88" stroke-width="0.45"/>
<circle cx="111.5" cy="508.7" r="1.1" fill="#2f86c6" stroke="#1f5c88" stroke-width="0.45"/>
<circle cx="85.4" cy="473.6" r="1.1" fill="#2f86c6" stroke="#1f5c88" stroke-width="0.45"/>
<circle cx="142.5" cy="483.4" r="1.1" fill="#2f86c6" stroke="#1f5c88" stroke-width="0.45"/>
<circle cx="113.3" cy="495.4" r="1.1" fill="#2f86c6" stroke="#1f5c88" stroke-width="0.45"/>
<circle cx="118.6" cy="494.3" r="1.1" fill="#2f86c6" stroke="#1f5c88" stroke-width="0.45"/>
<circle cx="121.3" cy="504.4" r="1.1" fill="#2f86c6" stroke="#1f5c88" stroke-width="0.45"/>
<circle cx="72.0" cy="496.5" r="1.1" fill="#2f86c6" stroke="#1f5c88" stroke-width="0.45"/>
<circle cx="113.6" cy="475.2" r="1.1" fill="#2f86c6" stroke="#1f5c88" stroke-width="0.45"/>
<circle cx="149.2" cy="490.1" r="1.1" fill="#2f86c6" stroke="#1f5c88" stroke-width="0.45"/>
<circle cx="128.5" cy="522.7" r="1.1" fill="#2f86c6" stroke="#1f5c88" stroke-width="0.45"/>
<circle cx="93.1" cy="494.1" r="1.1" fill="#2f86c6" stroke="#1f5c88" stroke-width="0.45"/>
<circle cx="77.6" cy="508.5" r="1.1" fill="#2f86c6" stroke="#1f5c88" stroke-width="0.45"/>
<circle cx="131.3" cy="481.0" r="1.1" fill="#2f86c6" stroke="#1f5c88" stroke-width="0.45"/>
<circle cx="117.2" cy="439.4" r="1.1" fill="#2f86c6" stroke="#1f5c88" stroke-width="0.45"/>
<circle cx="66.9" cy="480.8" r="1.1" fill="#2f86c6" stroke="#1f5c88" stroke-width="0.45"/>
<circle cx="91.7" cy="476.4" r="1.1" fill="#2f86c6" stroke="#1f5c88" stroke-width="0.45"/>
<circle cx="115.5" cy="465.8" r="1.1" fill="#2f86c6" stroke="#1f5c88" stroke-width="0.45"/>
<circle cx="128.1" cy="440.5" r="1.1" fill="#2f86c6" stroke="#1f5c88" stroke-width="0.45"/>
<circle cx="96.9" cy="502.3" r="1.1" fill="#2f86c6" stroke="#1f5c88" stroke-width="0.45"/>
<circle cx="141.7" cy="476.0" r="1.1" fill="#2f86c6" stroke="#1f5c88" stroke-width="0.45"/>
<circle cx="71.4" cy="478.2" r="1.1" fill="#2f86c6" stroke="#1f5c88" stroke-width="0.45"/>
<circle cx="117.7" cy="466.5" r="1.1" fill="#2f86c6" stroke="#1f5c88" stroke-width="0.45"/>
<circle cx="66.1" cy="475.8" r="1.1" fill="#2f86c6" stroke="#1f5c88" stroke-width="0.45"/>
<circle cx="86.2" cy="461.6" r="1.1" fill="#2f86c6" stroke="#1f5c88" stroke-width="0.45"/>
<circle cx="84.1" cy="487.0" r="1.1" fill="#2f86c6" stroke="#1f5c88" stroke-width="0.45"/>
<circle cx="138.3" cy="485.1" r="1.1" fill="#2f86c6" stroke="#1f5c88" stroke-width="0.45"/>
<circle cx="110.0" cy="501.7" r="1.1" fill="#2f86c6" stroke="#1f5c88" stroke-width="0.45"/>
<circle cx="129.3" cy="452.5" r="1.1" fill="#2f86c6" stroke="#1f5c88" stroke-width="0.45"/>
<circle cx="104.3" cy="514.5" r="1.1" fill="#2f86c6" stroke="#1f5c88" stroke-width="0.45"/>
<circle cx="102.9" cy="497.1" r="1.1" fill="#2f86c6" stroke="#1f5c88" stroke-width="0.45"/>
<circle cx="66.6" cy="469.8" r="1.1" fill="#2f86c6" stroke="#1f5c88" stroke-width="0.45"/>
<circle cx="147.6" cy="495.6" r="1.1" fill="#2f86c6" stroke="#1f5c88" stroke-width="0.45"/>
<circle cx="120.5" cy="478.6" r="1.1" fill="#2f86c6" stroke="#1f5c88" stroke-width="0.45"/>
<circle cx="141.3" cy="446.2" r="1.1" fill="#2f86c6" stroke="#1f5c88" stroke-width="0.45"/>
<circle cx="103.8" cy="494.5" r="1.1" fill="#2f86c6" stroke="#1f5c88" stroke-width="0.45"/>
<circle cx="101.9" cy="489.4" r="1.1" fill="#2f86c6" stroke="#1f5c88" stroke-width="0.45"/>
<circle cx="103.7" cy="503.9" r="1.1" fill="#2f86c6" stroke="#1f5c88" stroke-width="0.45"/>
<circle cx="86.7" cy="500.5" r="1.1" fill="#2f86c6" stroke="#1f5c88" stroke-width="0.45"/>
<circle cx="176.8" cy="483.6" r="1.1" fill="#2f86c6" stroke="#1f5c88" stroke-width="0.45"/>
<circle cx="113.0" cy="461.7" r="1.1" fill="#2f86c6" stroke="#1f5c88" stroke-width="0.45"/>
<circle cx="119.5" cy="483.7" r="1.1" fill="#2f86c6" stroke="#1f5c88" stroke-width="0.45"/>
<circle cx="100.9" cy="480.8" r="1.1" fill="#2f86c6" stroke="#1f5c88" stroke-width="0.45"/>
<circle cx="99.5" cy="499.0" r="1.1" fill="#2f86c6" stroke="#1f5c88" stroke-width="0.45"/>
<circle cx="84.1" cy="511.3" r="1.1" fill="#2f86c6" stroke="#1f5c88" stroke-width="0.45"/>
<circle cx="103.4" cy="483.0" r="1.1" fill="#2f86c6" stroke="#1f5c88" stroke-width="0.45"/>
<circle cx="112.5" cy="476.5" r="1.1" fill="#2f86c6" stroke="#1f5c88" stroke-width="0.45"/>
<circle cx="74.2" cy="497.6" r="1.1" fill="#2f86c6" stroke="#1f5c88" stroke-width="0.45"/>
<circle cx="85.7" cy="473.9" r="1.1" fill="#2f86c6" stroke="#1f5c88" stroke-width="0.45"/>
<circle cx="121.0" cy="489.5" r="1.1" fill="#2f86c6" stroke="#1f5c88" stroke-width="0.45"/>
<circle cx="89.3" cy="485.5" r="1.1" fill="#2f86c6" stroke="#1f5c88" stroke-width="0.45"/>
<circle cx="77.5" cy="451.1" r="1.1" fill="#2f86c6" stroke="#1f5c88" stroke-width="0.45"/>
<circle cx="73.8" cy="488.9" r="1.1" fill="#2f86c6" stroke="#1f5c88" stroke-width="0.45"/>
<circle cx="94.1" cy="498.3" r="1.1" fill="#2f86c6" stroke="#1f5c88" stroke-width="0.45"/>
<circle cx="107.9" cy="480.9" r="1.1" fill="#2f86c6" stroke="#1f5c88" stroke-width="0.45"/>
<circle cx="118.0" cy="433.4" r="1.1" fill="#2f86c6" stroke="#1f5c88" stroke-width="0.45"/>
<circle cx="113.0" cy="488.7" r="1.1" fill="#2f86c6" stroke="#1f5c88" stroke-width="0.45"/>
<circle cx="110.1" cy="460.9" r="1.1" fill="#2f86c6" stroke="#1f5c88" stroke-width="0.45"/>
<circle cx="114.0" cy="488.9" r="1.1" fill="#2f86c6" stroke="#1f5c88" stroke-width="0.45"/>
<circle cx="64.3" cy="474.7" r="1.1" fill="#2f86c6" stroke="#1f5c88" stroke-width="0.45"/>
<circle cx="98.4" cy="472.6" r="1.1" fill="#2f86c6" stroke="#1f5c88" stroke-width="0.45"/>
<circle cx="89.9" cy="497.3" r="1.1" fill="#2f86c6" stroke="#1f5c88" stroke-width="0.45"/>
<circle cx="95.0" cy="507.9" r="1.1" fill="#2f86c6" stroke="#1f5c88" stroke-width="0.45"/>
<circle cx="148.8" cy="471.8" r="1.1" fill="#2f86c6" stroke="#1f5c88" stroke-width="0.45"/>
<circle cx="116.0" cy="456.0" r="1.1" fill="#2f86c6" stroke="#1f5c88" stroke-width="0.45"/>
<circle cx="85.5" cy="472.5" r="1.1" fill="#2f86c6" stroke="#1f5c88" stroke-width="0.45"/>
<circle cx="129.9" cy="483.2" r="1.1" fill="#2f86c6" stroke="#1f5c88" stroke-width="0.45"/>
<circle cx="96.8" cy="503.2" r="1.1" fill="#2f86c6" stroke="#1f5c88" stroke-width="0.45"/>
<circle cx="99.4" cy="457.0" r="1.1" fill="#2f86c6" stroke="#1f5c88" stroke-width="0.45"/>
<circle cx="86.7" cy="464.9" r="1.1" fill="#2f86c6" stroke="#1f5c88" stroke-width="0.45"/>
<circle cx="100.7" cy="482.8" r="1.1" fill="#2f86c6" stroke="#1f5c88" stroke-width="0.45"/>
<circle cx="108.3" cy="513.4" r="1.1" fill="#2f86c6" stroke="#1f5c88" stroke-width="0.45"/>
<circle cx="118.4" cy="482.4" r="1.1" fill="#2f86c6" stroke="#1f5c88" stroke-width="0.45"/>
<circle cx="108.7" cy="492.6" r="1.1" fill="#2f86c6" stroke="#1f5c88" stroke-width="0.45"/>
<circle cx="117.4" cy="486.7" r="1.1" fill="#2f86c6" stroke="#1f5c88" stroke-width="0.45"/>
<circle cx="102.9" cy="487.3" r="1.1" fill="#2f86c6" stroke="#1f5c88" stroke-width="0.45"/>
<circle cx="80.5" cy="493.4" r="1.1" fill="#2f86c6" stroke="#1f5c88" stroke-width="0.45"/>
<circle cx="117.3" cy="492.2" r="1.1" fill="#2f86c6" stroke="#1f5c88" stroke-width="0.45"/>
<circle cx="134.8" cy="473.1" r="1.1" fill="#2f86c6" stroke="#1f5c88" stroke-width="0.45"/>
<circle cx="122.2" cy="503.9" r="1.1" fill="#2f86c6" stroke="#1f5c88" stroke-width="0.45"/>
<circle cx="99.9" cy="507.7" r="1.1" fill="#2f86c6" stroke="#1f5c88" stroke-width="0.45"/>
<circle cx="134.4" cy="466.7" r="1.1" fill="#2f86c6" stroke="#1f5c88" stroke-width="0.45"/>
<circle cx="143.0" cy="464.3" r="1.1" fill="#2f86c6" stroke="#1f5c88" stroke-width="0.45"/>
<circle cx="82.9" cy="483.5" r="1.1" fill="#2f86c6" stroke="#1f5c88" stroke-width="0.45"/>
<circle cx="117.4" cy="448.9" r="1.1" fill="#2f86c6" stroke="#1f5c88" stroke-width="0.45"/>
<circle cx="125.2" cy="469.9" r="1.1" fill="#2f86c6" stroke="#1f5c88" stroke-width="0.45"/>
<circle cx="109.2" cy="515.7" r="1.1" fill="#2f86c6" stroke="#1f5c88" stroke-width="0.45"/>
<circle cx="83.1" cy="469.4" r="1.1" fill="#2f86c6" stroke="#1f5c88" stroke-width="0.45"/>
<circle cx="112.8" cy="465.0" r="1.1" fill="#2f86c6" stroke="#1f5c88" stroke-width="0.45"/>
<circle cx="145.7" cy="466.2" r="1.1" fill="#2f86c6" stroke="#1f5c88" stroke-width="0.45"/>
<circle cx="84.8" cy="488.6" r="1.1" fill="#2f86c6" stroke="#1f5c88" stroke-width="0.45"/>
<circle cx="83.2" cy="489.5" r="1.1" fill="#2f86c6" stroke="#1f5c88" stroke-width="0.45"/>
<circle cx="120.9" cy="504.4" r="1.1" fill="#2f86c6" stroke="#1f5c88" stroke-width="0.45"/>
<circle cx="64.7" cy="481.9" r="1.1" fill="#2f86c6" stroke="#1f5c88" stroke-width="0.45"/>
<circle cx="96.9" cy="491.1" r="1.1" fill="#2f86c6" stroke="#1f5c88" stroke-width="0.45"/>
<circle cx="115.4" cy="482.5" r="1.1" fill="#2f86c6" stroke="#1f5c88" stroke-width="0.45"/>
<circle cx="82.5" cy="471.2" r="1.1" fill="#2f86c6" stroke="#1f5c88" stroke-width="0.45"/>
<circle cx="107.9" cy="468.6" r="1.1" fill="#2f86c6" stroke="#1f5c88" stroke-width="0.45"/>
<circle cx="107.5" cy="531.4" r="1.1" fill="#2f86c6" stroke="#1f5c88" stroke-width="0.45"/>
<circle cx="92.9" cy="472.5" r="1.1" fill="#2f86c6" stroke="#1f5c88" stroke-width="0.45"/>
<circle cx="94.9" cy="451.7" r="1.1" fill="#2f86c6" stroke="#1f5c88" stroke-width="0.45"/>
<circle cx="73.8" cy="506.3" r="1.1" fill="#2f86c6" stroke="#1f5c88" stroke-width="0.45"/>
<circle cx="129.1" cy="483.2" r="1.1" fill="#2f86c6" stroke="#1f5c88" stroke-width="0.45"/>
<circle cx="109.1" cy="496.4" r="1.1" fill="#2f86c6" stroke="#1f5c88" stroke-width="0.45"/>
<circle cx="120.5" cy="494.6" r="1.1" fill="#2f86c6" stroke="#1f5c88" stroke-width="0.45"/>
<circle cx="115.1" cy="458.4" r="1.1" fill="#2f86c6" stroke="#1f5c88" stroke-width="0.45"/>
<circle cx="119.4" cy="500.4" r="1.1" fill="#2f86c6" stroke="#1f5c88" stroke-width="0.45"/>
<circle cx="141.6" cy="466.2" r="1.1" fill="#2f86c6" stroke="#1f5c88" stroke-width="0.45"/>
<circle cx="117.8" cy="516.2" r="1.1" fill="#2f86c6" stroke="#1f5c88" stroke-width="0.45"/>
<circle cx="65.1" cy="492.9" r="1.1" fill="#2f86c6" stroke="#1f5c88" stroke-width="0.45"/>
<circle cx="110.0" cy="470.3" r="1.1" fill="#2f86c6" stroke="#1f5c88" stroke-width="0.45"/>
<circle cx="97.4" cy="472.4" r="1.1" fill="#2f86c6" stroke="#1f5c88" stroke-width="0.45"/>
<circle cx="120.7" cy="460.6" r="1.1" fill="#2f86c6" stroke="#1f5c88" stroke-width="0.45"/>
<circle cx="109.6" cy="490.8" r="1.1" fill="#2f86c6" stroke="#1f5c88" stroke-width="0.45"/>
<circle cx="105.1" cy="459.3" r="1.1" fill="#2f86c6" stroke="#1f5c88" stroke-width="0.45"/>
<circle cx="85.9" cy="458.1" r="1.1" fill="#2f86c6" stroke="#1f5c88" stroke-width="0.45"/>
<circle cx="120.3" cy="485.9" r="1.1" fill="#2f86c6" stroke="#1f5c88" stroke-width="0.45"/>
<circle cx="139.0" cy="495.0" r="1.1" fill="#2f86c6" stroke="#1f5c88" stroke-width="0.45"/>
<circle cx="106.3" cy="508.6" r="1.1" fill="#2f86c6" stroke="#1f5c88" stroke-width="0.45"/>
<circle cx="98.3" cy="476.6" r="1.1" fill="#2f86c6" stroke="#1f5c88" stroke-width="0.45"/>
<circle cx="129.5" cy="472.9" r="1.1" fill="#2f86c6" stroke="#1f5c88" stroke-width="0.45"/>
<circle cx="121.2" cy="491.7" r="1.1" fill="#2f86c6" stroke="#1f5c88" stroke-width="0.45"/>
<circle cx="100.6" cy="487.5" r="1.1" fill="#2f86c6" stroke="#1f5c88" stroke-width="0.45"/>
<circle cx="118.8" cy="480.8" r="1.1" fill="#2f86c6" stroke="#1f5c88" stroke-width="0.45"/>
<circle cx="68.2" cy="463.7" r="1.1" fill="#2f86c6" stroke="#1f5c88" stroke-width="0.45"/>
<circle cx="116.3" cy="462.0" r="1.1" fill="#2f86c6" stroke="#1f5c88" stroke-width="0.45"/>
<circle cx="77.5" cy="496.5" r="1.1" fill="#2f86c6" stroke="#1f5c88" stroke-width="0.45"/>
<circle cx="136.4" cy="480.9" r="1.1" fill="#2f86c6" stroke="#1f5c88" stroke-width="0.45"/>
<circle cx="143.4" cy="462.0" r="1.1" fill="#2f86c6" stroke="#1f5c88" stroke-width="0.45"/>
<circle cx="80.0" cy="492.1" r="1.1" fill="#2f86c6" stroke="#1f5c88" stroke-width="0.45"/>
<circle cx="120.9" cy="485.9" r="1.1" fill="#2f86c6" stroke="#1f5c88" stroke-width="0.45"/>
<circle cx="81.5" cy="474.2" r="1.1" fill="#2f86c6" stroke="#1f5c88" stroke-width="0.45"/>
<circle cx="163.6" cy="453.0" r="1.1" fill="#2f86c6" stroke="#1f5c88" stroke-width="0.45"/>
<circle cx="94.6" cy="462.0" r="1.1" fill="#2f86c6" stroke="#1f5c88" stroke-width="0.45"/>
<circle cx="84.6" cy="501.5" r="1.1" fill="#2f86c6" stroke="#1f5c88" stroke-width="0.45"/>
<circle cx="117.8" cy="515.1" r="1.1" fill="#2f86c6" stroke="#1f5c88" stroke-width="0.45"/>
<circle cx="117.7" cy="500.3" r="1.1" fill="#2f86c6" stroke="#1f5c88" stroke-width="0.45"/>
<circle cx="69.2" cy="482.6" r="1.1" fill="#2f86c6" stroke="#1f5c88" stroke-width="0.45"/>
<circle cx="91.0" cy="475.6" r="1.1" fill="#2f86c6" stroke="#1f5c88" stroke-width="0.45"/>
<circle cx="93.8" cy="496.7" r="1.1" fill="#2f86c6" stroke="#1f5c88" stroke-width="0.45"/>
<circle cx="143.4" cy="484.2" r="1.1" fill="#2f86c6" stroke="#1f5c88" stroke-width="0.45"/>
<circle cx="121.2" cy="474.4" r="1.1" fill="#2f86c6" stroke="#1f5c88" stroke-width="0.45"/>
<circle cx="101.7" cy="479.5" r="1.1" fill="#2f86c6" stroke="#1f5c88" stroke-width="0.45"/>
<circle cx="124.4" cy="478.3" r="1.1" fill="#2f86c6" stroke="#1f5c88" stroke-width="0.45"/>
<circle cx="108.0" cy="463.2" r="1.1" fill="#2f86c6" stroke="#1f5c88" stroke-width="0.45"/>
<circle cx="97.9" cy="493.0" r="1.1" fill="#2f86c6" stroke="#1f5c88" stroke-width="0.45"/>
<circle cx="90.4" cy="488.6" r="1.1" fill="#2f86c6" stroke="#1f5c88" stroke-width="0.45"/>
<circle cx="85.4" cy="490.3" r="1.1" fill="#2f86c6" stroke="#1f5c88" stroke-width="0.45"/>
<circle cx="190.0" cy="469.8" r="1.1" fill="#2f86c6" stroke="#1f5c88" stroke-width="0.45"/>
<circle cx="104.6" cy="505.3" r="1.1" fill="#2f86c6" stroke="#1f5c88" stroke-width="0.45"/>
<circle cx="76.6" cy="470.5" r="1.1" fill="#2f86c6" stroke="#1f5c88" stroke-width="0.45"/>
<circle cx="105.9" cy="470.3" r="1.1" fill="#2f86c6" stroke="#1f5c88" stroke-width="0.45"/>
<circle cx="104.3" cy="490.6" r="1.1" fill="#2f86c6" stroke="#1f5c88" stroke-width="0.45"/>
<circle cx="104.2" cy="490.6" r="1.1" fill="#2f86c6" stroke="#1f5c88" stroke-width="0.45"/>
<circle cx="102.4" cy="475.2" r="1.1" fill="#2f86c6" stroke="#1f5c88" stroke-width="0.45"/>
<circle cx="105.0" cy="488.5" r="1.1" fill="#2f86c6" stroke="#1f5c88" stroke-width="0.45"/>
<circle cx="125.8" cy="456.8" r="1.1" fill="#2f86c6" stroke="#1f5c88" stroke-width="0.45"/>
<circle cx="75.5" cy="487.0" r="1.1" fill="#2f86c6" stroke="#1f5c88" stroke-width="0.45"/>
<circle cx="72.7" cy="480.0" r="1.1" fill="#2f86c6" stroke="#1f5c88" stroke-width="0.45"/>
<circle cx="79.2" cy="439.2" r="1.1" fill="#2f86c6" stroke="#1f5c88" stroke-width="0.45"/>
<circle cx="103.1" cy="468.0" r="1.1" fill="#2f86c6" stroke="#1f5c88" stroke-width="0.45"/>
<circle cx="86.5" cy="474.9" r="1.1" fill="#2f86c6" stroke="#1f5c88" stroke-width="0.45"/>
<circle cx="119.0" cy="499.8" r="1.1" fill="#2f86c6" stroke="#1f5c88" stroke-width="0.45"/>
<circle cx="127.0" cy="516.8" r="1.1" fill="#2f86c6" stroke="#1f5c88" stroke-width="0.45"/>
<circle cx="83.4" cy="450.0" r="1.1" fill="#2f86c6" stroke="#1f5c88" stroke-width="0.45"/>
<circle cx="116.1" cy="511.7" r="1.1" fill="#2f86c6" stroke="#1f5c88" stroke-width="0.45"/>
<circle cx="108.7" cy="483.0" r="1.1" fill="#2f86c6" stroke="#1f5c88" stroke-width="0.45"/>
<circle cx="139.4" cy="471.4" r="1.1" fill="#2f86c6" stroke="#1f5c88" stroke-width="0.45"/>
<circle cx="82.0" cy="484.4" r="1.1" fill="#2f86c6" stroke="#1f5c88" stroke-width="0.45"/>
<circle cx="73.7" cy="480.4" r="1.1" fill="#2f86c6" stroke="#1f5c88" stroke-width="0.45"/>
<circle cx="104.5" cy="457.7" r="1.1" fill="#2f86c6" stroke="#1f5c88" stroke-width="0.45"/>
<circle cx="92.1" cy="495.7" r="1.1" fill="#2f86c6" stroke="#1f5c88" stroke-width="0.45"/>
<circle cx="80.3" cy="499.5" r="1.1" fill="#2f86c6" stroke="#1f5c88" stroke-width="0.45"/>
<circle cx="100.8" cy="462.6" r="1.1" fill="#2f86c6" stroke="#1f5c88" stroke-width="0.45"/>
<circle cx="121.7" cy="472.5" r="1.1" fill="#2f86c6" stroke="#1f5c88" stroke-width="0.45"/>
<circle cx="127.3" cy="487.1" r="1.1" fill="#2f86c6" stroke="#1f5c88" stroke-width="0.45"/>
<circle cx="95.1" cy="473.0" r="1.1" fill="#2f86c6" stroke="#1f5c88" stroke-width="0.45"/>
<circle cx="116.9" cy="436.3" r="1.1" fill="#2f86c6" stroke="#1f5c88" stroke-width="0.45"/>
<circle cx="118.0" cy="476.7" r="1.1" fill="#2f86c6" stroke="#1f5c88" stroke-width="0.45"/>
<circle cx="116.7" cy="445.4" r="1.1" fill="#2f86c6" stroke="#1f5c88" stroke-width="0.45"/>
<circle cx="88.9" cy="508.8" r="1.1" fill="#2f86c6" stroke="#1f5c88" stroke-width="0.45"/>
<circle cx="92.8" cy="495.0" r="1.1" fill="#2f86c6" stroke="#1f5c88" stroke-width="0.45"/>
<circle cx="138.5" cy="468.1" r="1.1" fill="#2f86c6" stroke="#1f5c88" stroke-width="0.45"/>
<circle cx="87.8" cy="492.2" r="1.1" fill="#2f86c6" stroke="#1f5c88" stroke-width="0.45"/>
<circle cx="125.2" cy="466.7" r="1.1" fill="#2f86c6" stroke="#1f5c88" stroke-width="0.45"/>
<circle cx="118.6" cy="441.5" r="1.1" fill="#2f86c6" stroke="#1f5c88" stroke-width="0.45"/>
<circle cx="104.6" cy="489.6" r="1.1" fill="#2f86c6" stroke="#1f5c88" stroke-width="0.45"/>
<circle cx="103.6" cy="463.3" r="1.1" fill="#2f86c6" stroke="#1f5c88" stroke-width="0.45"/>
<circle cx="133.6" cy="483.4" r="1.1" fill="#2f86c6" stroke="#1f5c88" stroke-width="0.45"/>
<circle cx="132.7" cy="514.8" r="1.1" fill="#2f86c6" stroke="#1f5c88" stroke-width="0.45"/>
<circle cx="98.9" cy="483.6" r="1.1" fill="#2f86c6" stroke="#1f5c88" stroke-width="0.45"/>
<circle cx="79.1" cy="498.2" r="1.1" fill="#2f86c6" stroke="#1f5c88" stroke-width="0.45"/>
<circle cx="104.0" cy="480.2" r="1.1" fill="#2f86c6" stroke="#1f5c88" stroke-width="0.45"/>
<circle cx="98.1" cy="523.2" r="1.1" fill="#2f86c6" stroke="#1f5c88" stroke-width="0.45"/>
<circle cx="125.1" cy="489.8" r="1.1" fill="#2f86c6" stroke="#1f5c88" stroke-width="0.45"/>
<circle cx="69.3" cy="499.7" r="1.1" fill="#2f86c6" stroke="#1f5c88" stroke-width="0.45"/>
<circle cx="131.1" cy="487.8" r="1.1" fill="#2f86c6" stroke="#1f5c88" stroke-width="0.45"/>
<circle cx="154.2" cy="502.0" r="1.1" fill="#2f86c6" stroke="#1f5c88" stroke-width="0.45"/>
<circle cx="114.8" cy="481.5" r="1.1" fill="#2f86c6" stroke="#1f5c88" stroke-width="0.45"/>
<circle cx="109.9" cy="481.7" r="1.1" fill="#2f86c6" stroke="#1f5c88" stroke-width="0.45"/>
<circle cx="93.1" cy="482.8" r="1.1" fill="#2f86c6" stroke="#1f5c88" stroke-width="0.45"/>
<circle cx="118.5" cy="444.2" r="1.1" fill="#2f86c6" stroke="#1f5c88" stroke-width="0.45"/>
<circle cx="83.9" cy="510.3" r="1.1" fill="#2f86c6" stroke="#1f5c88" stroke-width="0.45"/>
<circle cx="175.5" cy="453.9" r="1.1" fill="#2f86c6" stroke="#1f5c88" stroke-width="0.45"/>
<circle cx="134.2" cy="496.0" r="1.1" fill="#2f86c6" stroke="#1f5c88" stroke-width="0.45"/>
<circle cx="172.1" cy="487.6" r="1.1" fill="#2f86c6" stroke="#1f5c88" stroke-width="0.45"/>
<circle cx="99.6" cy="483.6" r="1.1" fill="#2f86c6" stroke="#1f5c88" stroke-width="0.45"/>
<circle cx="84.7" cy="475.9" r="1.1" fill="#2f86c6" stroke="#1f5c88" stroke-width="0.45"/>
<circle cx="99.3" cy="514.4" r="1.1" fill="#2f86c6" stroke="#1f5c88" stroke-width="0.45"/>
<circle cx="85.8" cy="497.7" r="1.1" fill="#2f86c6" stroke="#1f5c88" stroke-width="0.45"/>
<circle cx="110.8" cy="469.1" r="1.1" fill="#2f86c6" stroke="#1f5c88" stroke-width="0.45"/>
<circle cx="83.2" cy="470.0" r="1.1" fill="#2f86c6" stroke="#1f5c88" stroke-width="0.45"/>
<circle cx="102.8" cy="458.7" r="1.1" fill="#2f86c6" stroke="#1f5c88" stroke-width="0.45"/>
<circle cx="120.0" cy="467.2" r="1.1" fill="#2f86c6" stroke="#1f5c88" stroke-width="0.45"/>
<circle cx="87.0" cy="515.3" r="1.1" fill="#2f86c6" stroke="#1f5c88" stroke-width="0.45"/>
<circle cx="76.4" cy="487.5" r="1.1" fill="#2f86c6" stroke="#1f5c88" stroke-width="0.45"/>
<circle cx="113.0" cy="473.4" r="1.1" fill="#2f86c6" stroke="#1f5c88" stroke-width="0.45"/>
<circle cx="122.5" cy="501.1" r="1.1" fill="#2f86c6" stroke="#1f5c88" stroke-width="0.45"/>
<circle cx="76.6" cy="501.6" r="1.1" fill="#2f86c6" stroke="#1f5c88" stroke-width="0.45"/>
<circle cx="112.6" cy="511.5" r="1.1" fill="#2f86c6" stroke="#1f5c88" stroke-width="0.45"/>
<circle cx="137.2" cy="475.8" r="1.1" fill="#2f86c6" stroke="#1f5c88" stroke-width="0.45"/>
<circle cx="119.1" cy="472.7" r="1.1" fill="#2f86c6" stroke="#1f5c88" stroke-width="0.45"/>
<circle cx="109.8" cy="491.3" r="1.1" fill="#2f86c6" stroke="#1f5c88" stroke-width="0.45"/>
<circle cx="118.0" cy="477.1" r="1.1" fill="#2f86c6" stroke="#1f5c88" stroke-width="0.45"/>
<circle cx="161.9" cy="461.5" r="1.1" fill="#2f86c6" stroke="#1f5c88" stroke-width="0.45"/>
<circle cx="88.3" cy="486.4" r="1.1" fill="#2f86c6" stroke="#1f5c88" stroke-width="0.45"/>
<circle cx="141.1" cy="483.8" r="1.1" fill="#2f86c6" stroke="#1f5c88" stroke-width="0.45"/>
<circle cx="135.7" cy="479.2" r="1.1" fill="#2f86c6" stroke="#1f5c88" stroke-width="0.45"/>
<circle cx="75.4" cy="465.4" r="1.1" fill="#2f86c6" stroke="#1f5c88" stroke-width="0.45"/>
<circle cx="72.0" cy="492.9" r="1.1" fill="#2f86c6" stroke="#1f5c88" stroke-width="0.45"/>
<circle cx="152.3" cy="489.5" r="1.1" fill="#2f86c6" stroke="#1f5c88" stroke-width="0.45"/>
<circle cx="125.6" cy="511.5" r="1.1" fill="#2f86c6" stroke="#1f5c88" stroke-width="0.45"/>
<circle cx="94.1" cy="474.2" r="1.1" fill="#2f86c6" stroke="#1f5c88" stroke-width="0.45"/>
<circle cx="94.8" cy="480.2" r="1.1" fill="#2f86c6" stroke="#1f5c88" stroke-width="0.45"/>
<circle cx="114.1" cy="471.9" r="1.1" fill="#2f86c6" stroke="#1f5c88" stroke-width="0.45"/>
<circle cx="131.9" cy="520.6" r="1.1" fill="#2f86c6" stroke="#1f5c88" stroke-width="0.45"/>
<circle cx="90.6" cy="454.9" r="1.1" fill="#2f86c6" stroke="#1f5c88" stroke-width="0.45"/>
<circle cx="127.6" cy="499.1" r="1.1" fill="#2f86c6" stroke="#1f5c88" stroke-width="0.45"/>
<circle cx="120.1" cy="489.1" r="1.1" fill="#2f86c6" stroke="#1f5c88" stroke-width="0.45"/>
<circle cx="85.8" cy="461.2" r="1.1" fill="#2f86c6" stroke="#1f5c88" stroke-width="0.45"/>
<circle cx="135.4" cy="451.6" r="1.1" fill="#2f86c6" stroke="#1f5c88" stroke-width="0.45"/>
<circle cx="117.5" cy="497.3" r="1.1" fill="#2f86c6" stroke="#1f5c88" stroke-width="0.45"/>
<circle cx="131.6" cy="487.1" r="1.1" fill="#2f86c6" stroke="#1f5c88" stroke-width="0.45"/>
<circle cx="99.5" cy="499.7" r="1.1" fill="#2f86c6" stroke="#1f5c88" stroke-width="0.45"/>
<circle cx="107.8" cy="516.6" r="1.1" fill="#2f86c6" stroke="#1f5c88" stroke-width="0.45"/>
<circle cx="133.0" cy="492.7" r="1.1" fill="#2f86c6" stroke="#1f5c88" stroke-width="0.45"/>
<circle cx="129.9" cy="499.0" r="1.1" fill="#2f86c6" stroke="#1f5c88" stroke-width="0.45"/>
<circle cx="106.8" cy="479.2" r="1.1" fill="#2f86c6" stroke="#1f5c88" stroke-width="0.45"/>
<circle cx="130.3" cy="511.5" r="1.1" fill="#2f86c6" stroke="#1f5c88" stroke-width="0.45"/>
<circle cx="120.2" cy="487.5" r="1.1" fill="#2f86c6" stroke="#1f5c88" stroke-width="0.45"/>
<circle cx="121.6" cy="493.4" r="1.1" fill="#2f86c6" stroke="#1f5c88" stroke-width="0.45"/>
<circle cx="141.8" cy="435.9" r="1.1" fill="#2f86c6" stroke="#1f5c88" stroke-width="0.45"/>
<circle cx="103.9" cy="473.1" r="1.1" fill="#2f86c6" stroke="#1f5c88" stroke-width="0.45"/>
<circle cx="176.8" cy="436.2" r="1.1" fill="#2f86c6" stroke="#1f5c88" stroke-width="0.45"/>
<circle cx="167.2" cy="480.4" r="1.1" fill="#2f86c6" stroke="#1f5c88" stroke-width="0.45"/>
<circle cx="128.7" cy="480.8" r="1.1" fill="#2f86c6" stroke="#1f5c88" stroke-width="0.45"/>
<circle cx="107.3" cy="469.1" r="1.1" fill="#2f86c6" stroke="#1f5c88" stroke-width="0.45"/>
<circle cx="117.9" cy="487.5" r="1.1" fill="#2f86c6" stroke="#1f5c88" stroke-width="0.45"/>
<circle cx="110.0" cy="527.4" r="1.1" fill="#2f86c6" stroke="#1f5c88" stroke-width="0.45"/>
<circle cx="110.9" cy="472.1" r="1.1" fill="#2f86c6" stroke="#1f5c88" stroke-width="0.45"/>
<circle cx="107.2" cy="478.1" r="1.1" fill="#2f86c6" stroke="#1f5c88" stroke-width="0.45"/>
<circle cx="141.1" cy="468.8" r="1.1" fill="#2f86c6" stroke="#1f5c88" stroke-width="0.45"/>
<circle cx="96.1" cy="449.5" r="1.1" fill="#2f86c6" stroke="#1f5c88" stroke-width="0.45"/>
<circle cx="105.2" cy="482.2" r="1.1" fill="#2f86c6" stroke="#1f5c88" stroke-width="0.45"/>
<circle cx="127.5" cy="474.7" r="1.1" fill="#2f86c6" stroke="#1f5c88" stroke-width="0.45"/>
<circle cx="89.5" cy="425.4" r="1.1" fill="#2f86c6" stroke="#1f5c88" stroke-width="0.45"/>
<circle cx="72.3" cy="497.7" r="1.1" fill="#2f86c6" stroke="#1f5c88" stroke-width="0.45"/>
<circle cx="110.8" cy="474.8" r="1.1" fill="#2f86c6" stroke="#1f5c88" stroke-width="0.45"/>
<circle cx="106.9" cy="475.0" r="1.1" fill="#2f86c6" stroke="#1f5c88" stroke-width="0.45"/>
<circle cx="137.5" cy="502.0" r="1.1" fill="#2f86c6" stroke="#1f5c88" stroke-width="0.45"/>
<circle cx="112.6" cy="493.7" r="1.1" fill="#2f86c6" stroke="#1f5c88" stroke-width="0.45"/>
<circle cx="107.8" cy="460.1" r="1.1" fill="#2f86c6" stroke="#1f5c88" stroke-width="0.45"/>
<circle cx="108.2" cy="451.4" r="1.1" fill="#2f86c6" stroke="#1f5c88" stroke-width="0.45"/>
<circle cx="71.8" cy="474.3" r="1.1" fill="#2f86c6" stroke="#1f5c88" stroke-width="0.45"/>
<circle cx="89.0" cy="462.4" r="1.1" fill="#2f86c6" stroke="#1f5c88" stroke-width="0.45"/>
<circle cx="110.8" cy="481.3" r="1.1" fill="#2f86c6" stroke="#1f5c88" stroke-width="0.45"/>
<circle cx="91.4" cy="465.3" r="1.1" fill="#2f86c6" stroke="#1f5c88" stroke-width="0.45"/>
<circle cx="120.9" cy="503.7" r="1.1" fill="#2f86c6" stroke="#1f5c88" stroke-width="0.45"/>
<circle cx="124.3" cy="465.5" r="1.1" fill="#2f86c6" stroke="#1f5c88" stroke-width="0.45"/>
<circle cx="108.0" cy="429.4" r="1.1" fill="#2f86c6" stroke="#1f5c88" stroke-width="0.45"/>
<circle cx="114.6" cy="473.3" r="1.1" fill="#2f86c6" stroke="#1f5c88" stroke-width="0.45"/>
<circle cx="80.4" cy="505.9" r="1.1" fill="#2f86c6" stroke="#1f5c88" stroke-width="0.45"/>
<circle cx="106.1" cy="463.3" r="1.1" fill="#2f86c6" stroke="#1f5c88" stroke-width="0.45"/>
<circle cx="101.9" cy="481.0" r="1.1" fill="#2f86c6" stroke="#1f5c88" stroke-width="0.45"/>
<circle cx="92.7" cy="445.1" r="1.1" fill="#2f86c6" stroke="#1f5c88" stroke-width="0.45"/>
<circle cx="81.1" cy="522.0" r="1.1" fill="#2f86c6" stroke="#1f5c88" stroke-width="0.45"/>
<circle cx="98.7" cy="491.0" r="1.1" fill="#2f86c6" stroke="#1f5c88" stroke-width="0.45"/>
<circle cx="86.9" cy="450.8" r="1.1" fill="#2f86c6" stroke="#1f5c88" stroke-width="0.45"/>
<circle cx="75.1" cy="461.9" r="1.1" fill="#2f86c6" stroke="#1f5c88" stroke-width="0.45"/>
<circle cx="94.8" cy="484.9" r="1.1" fill="#2f86c6" stroke="#1f5c88" stroke-width="0.45"/>
<circle cx="76.4" cy="481.7" r="1.1" fill="#2f86c6" stroke="#1f5c88" stroke-width="0.45"/>
<circle cx="87.8" cy="518.7" r="1.1" fill="#2f86c6" stroke="#1f5c88" stroke-width="0.45"/>
<circle cx="152.3" cy="491.2" r="1.1" fill="#2f86c6" stroke="#1f5c88" stroke-width="0.45"/>
<circle cx="127.0" cy="495.7" r="1.1" fill="#2f86c6" stroke="#1f5c88" stroke-width="0.45"/>
<circle cx="101.7" cy="472.2" r="1.1" fill="#2f86c6" stroke="#1f5c88" stroke-width="0.45"/>
<circle cx="124.3" cy="450.7" r="1.1" fill="#2f86c6" stroke="#1f5c88" stroke-width="0.45"/>
<circle cx="235.5" cy="453.5" r="1.1" fill="#2f86c6" stroke="#1f5c88" stroke-width="0.45"/>
<circle cx="98.6" cy="473.6" r="1.1" fill="#2f86c6" stroke="#1f5c88" stroke-width="0.45"/>
<circle cx="116.9" cy="461.1" r="1.1" fill="#2f86c6" stroke="#1f5c88" stroke-width="0.45"/>
<circle cx="77.7" cy="465.1" r="1.1" fill="#2f86c6" stroke="#1f5c88" stroke-width="0.45"/>
<circle cx="136.6" cy="469.3" r="1.1" fill="#2f86c6" stroke="#1f5c88" stroke-width="0.45"/>
<circle cx="82.9" cy="464.1" r="1.1" fill="#2f86c6" stroke="#1f5c88" stroke-width="0.45"/>
<circle cx="111.0" cy="504.9" r="1.1" fill="#2f86c6" stroke="#1f5c88" stroke-width="0.45"/>
<circle cx="120.8" cy="475.6" r="1.1" fill="#2f86c6" stroke="#1f5c88" stroke-width="0.45"/>
<circle cx="141.6" cy="479.6" r="1.1" fill="#2f86c6" stroke="#1f5c88" stroke-width="0.45"/>
<circle cx="74.8" cy="506.5" r="1.1" fill="#2f86c6" stroke="#1f5c88" stroke-width="0.45"/>
<circle cx="75.5" cy="495.7" r="1.1" fill="#2f86c6" stroke="#1f5c88" stroke-width="0.45"/>
<circle cx="124.2" cy="496.6" r="1.1" fill="#2f86c6" stroke="#1f5c88" stroke-width="0.45"/>
<circle cx="132.1" cy="473.7" r="1.1" fill="#2f86c6" stroke="#1f5c88" stroke-width="0.45"/>
<circle cx="86.0" cy="498.0" r="1.1" fill="#2f86c6" stroke="#1f5c88" stroke-width="0.45"/>
<circle cx="114.4" cy="505.9" r="1.1" fill="#2f86c6" stroke="#1f5c88" stroke-width="0.45"/>
<circle cx="97.5" cy="493.5" r="1.1" fill="#2f86c6" stroke="#1f5c88" stroke-width="0.45"/>
<circle cx="103.5" cy="475.3" r="1.1" fill="#2f86c6" stroke="#1f5c88" stroke-width="0.45"/>
<circle cx="114.1" cy="531.2" r="1.1" fill="#2f86c6" stroke="#1f5c88" stroke-width="0.45"/>
<circle cx="231.0" cy="433.6" r="1.1" fill="#2f86c6" stroke="#1f5c88" stroke-width="0.45"/>
<circle cx="111.2" cy="487.3" r="1.1" fill="#2f86c6" stroke="#1f5c88" stroke-width="0.45"/>
<circle cx="131.9" cy="482.7" r="1.1" fill="#2f86c6" stroke="#1f5c88" stroke-width="0.45"/>
<circle cx="141.2" cy="507.6" r="1.1" fill="#2f86c6" stroke="#1f5c88" stroke-width="0.45"/>
<circle cx="97.3" cy="457.1" r="1.1" fill="#2f86c6" stroke="#1f5c88" stroke-width="0.45"/>
<circle cx="130.0" cy="474.6" r="1.1" fill="#2f86c6" stroke="#1f5c88" stroke-width="0.45"/>
<circle cx="89.9" cy="496.8" r="1.1" fill="#2f86c6" stroke="#1f5c88" stroke-width="0.45"/>
<circle cx="119.0" cy="482.7" r="1.1" fill="#2f86c6" stroke="#1f5c88" stroke-width="0.45"/>
<circle cx="119.7" cy="499.2" r="1.1" fill="#2f86c6" stroke="#1f5c88" stroke-width="0.45"/>
<circle cx="86.5" cy="482.8" r="1.1" fill="#2f86c6" stroke="#1f5c88" stroke-width="0.45"/>
<circle cx="75.7" cy="468.7" r="1.1" fill="#2f86c6" stroke="#1f5c88" stroke-width="0.45"/>
<circle cx="186.6" cy="501.4" r="1.1" fill="#2f86c6" stroke="#1f5c88" stroke-width="0.45"/>
<circle cx="73.3" cy="432.7" r="1.1" fill="#2f86c6" stroke="#1f5c88" stroke-width="0.45"/>
<circle cx="90.4" cy="483.8" r="1.1" fill="#2f86c6" stroke="#1f5c88" stroke-width="0.45"/>
<circle cx="89.7" cy="481.0" r="1.1" fill="#2f86c6" stroke="#1f5c88" stroke-width="0.45"/>
<circle cx="96.9" cy="475.1" r="1.1" fill="#2f86c6" stroke="#1f5c88" stroke-width="0.45"/>
<circle cx="104.1" cy="456.5" r="1.1" fill="#2f86c6" stroke="#1f5c88" stroke-width="0.45"/>
<circle cx="131.4" cy="457.8" r="1.1" fill="#2f86c6" stroke="#1f5c88" stroke-width="0.45"/>
<circle cx="102.4" cy="515.6" r="1.1" fill="#2f86c6" stroke="#1f5c88" stroke-width="0.45"/>
<circle cx="69.5" cy="465.3" r="1.1" fill="#2f86c6" stroke="#1f5c88" stroke-width="0.45"/>
<circle cx="82.2" cy="488.4" r="1.1" fill="#2f86c6" stroke="#1f5c88" stroke-width="0.45"/>
<circle cx="127.5" cy="505.5" r="1.1" fill="#2f86c6" stroke="#1f5c88" stroke-width="0.45"/>
<circle cx="111.7" cy="456.5" r="1.1" fill="#2f86c6" stroke="#1f5c88" stroke-width="0.45"/>
<circle cx="85.9" cy="486.3" r="1.1" fill="#2f86c6" stroke="#1f5c88" stroke-width="0.45"/>
<circle cx="94.3" cy="459.1" r="1.1" fill="#2f86c6" stroke="#1f5c88" stroke-width="0.45"/>
<circle cx="131.8" cy="446.6" r="1.1" fill="#2f86c6" stroke="#1f5c88" stroke-width="0.45"/>
<circle cx="142.0" cy="460.2" r="1.1" fill="#2f86c6" stroke="#1f5c88" stroke-width="0.45"/>
<circle cx="107.7" cy="475.3" r="1.1" fill="#2f86c6" stroke="#1f5c88" stroke-width="0.45"/>
<circle cx="142.9" cy="465.1" r="1.1" fill="#2f86c6" stroke="#1f5c88" stroke-width="0.45"/>
<circle cx="85.7" cy="492.1" r="1.1" fill="#2f86c6" stroke="#1f5c88" stroke-width="0.45"/>
<circle cx="88.1" cy="488.6" r="1.1" fill="#2f86c6" stroke="#1f5c88" stroke-width="0.45"/>
<circle cx="123.3" cy="497.8" r="1.1" fill="#2f86c6" stroke="#1f5c88" stroke-width="0.45"/>
<circle cx="110.0" cy="472.3" r="1.1" fill="#2f86c6" stroke="#1f5c88" stroke-width="0.45"/>
<circle cx="99.7" cy="442.9" r="1.1" fill="#2f86c6" stroke="#1f5c88" stroke-width="0.45"/>
<circle cx="104.9" cy="484.2" r="1.1" fill="#2f86c6" stroke="#1f5c88" stroke-width="0.45"/>
<circle cx="88.3" cy="465.9" r="1.1" fill="#2f86c6" stroke="#1f5c88" stroke-width="0.45"/>
<circle cx="136.5" cy="478.5" r="1.1" fill="#2f86c6" stroke="#1f5c88" stroke-width="0.45"/>
<circle cx="108.1" cy="506.9" r="1.1" fill="#2f86c6" stroke="#1f5c88" stroke-width="0.45"/>
<circle cx="104.0" cy="446.2" r="1.1" fill="#2f86c6" stroke="#1f5c88" stroke-width="0.45"/>
<circle cx="91.1" cy="496.4" r="1.1" fill="#2f86c6" stroke="#1f5c88" stroke-width="0.45"/>
<circle cx="123.4" cy="496.4" r="1.1" fill="#2f86c6" stroke="#1f5c88" stroke-width="0.45"/>
<circle cx="91.3" cy="483.6" r="1.1" fill="#2f86c6" stroke="#1f5c88" stroke-width="0.45"/>
<circle cx="93.1" cy="441.3" r="1.1" fill="#2f86c6" stroke="#1f5c88" stroke-width="0.45"/>
<circle cx="132.1" cy="468.4" r="1.1" fill="#2f86c6" stroke="#1f5c88" stroke-width="0.45"/>
<circle cx="110.2" cy="456.9" r="1.1" fill="#2f86c6" stroke="#1f5c88" stroke-width="0.45"/>
<circle cx="96.5" cy="478.9" r="1.1" fill="#2f86c6" stroke="#1f5c88" stroke-width="0.45"/>
<circle cx="94.3" cy="486.4" r="1.1" fill="#2f86c6" stroke="#1f5c88" stroke-width="0.45"/>
<circle cx="68.2" cy="452.2" r="1.1" fill="#2f86c6" stroke="#1f5c88" stroke-width="0.45"/>
<circle cx="125.9" cy="480.9" r="1.1" fill="#2f86c6" stroke="#1f5c88" stroke-width="0.45"/>
<circle cx="127.3" cy="443.2" r="1.1" fill="#2f86c6" stroke="#1f5c88" stroke-width="0.45"/>
<circle cx="129.9" cy="467.6" r="1.1" fill="#2f86c6" stroke="#1f5c88" stroke-width="0.45"/>
<circle cx="130.9" cy="461.5" r="1.1" fill="#2f86c6" stroke="#1f5c88" stroke-width="0.45"/>
<circle cx="102.4" cy="493.1" r="1.1" fill="#2f86c6" stroke="#1f5c88" stroke-width="0.45"/>
<circle cx="88.0" cy="519.3" r="1.1" fill="#2f86c6" stroke="#1f5c88" stroke-width="0.45"/>
<circle cx="78.5" cy="457.2" r="1.1" fill="#2f86c6" stroke="#1f5c88" stroke-width="0.45"/>
<circle cx="117.5" cy="464.2" r="1.1" fill="#2f86c6" stroke="#1f5c88" stroke-width="0.45"/>
<circle cx="73.8" cy="514.1" r="1.1" fill="#2f86c6" stroke="#1f5c88" stroke-width="0.45"/>
<circle cx="143.5" cy="520.7" r="1.1" fill="#2f86c6" stroke="#1f5c88" stroke-width="0.45"/>
<circle cx="113.1" cy="465.8" r="1.1" fill="#2f86c6" stroke="#1f5c88" stroke-width="0.45"/>
<circle cx="113.8" cy="512.2" r="1.1" fill="#2f86c6" stroke="#1f5c88" stroke-width="0.45"/>
<circle cx="124.6" cy="479.7" r="1.1" fill="#2f86c6" stroke="#1f5c88" stroke-width="0.45"/>
<circle cx="104.1" cy="484.1" r="1.1" fill="#2f86c6" stroke="#1f5c88" stroke-width="0.45"/>
<circle cx="148.4" cy="467.7" r="1.1" fill="#2f86c6" stroke="#1f5c88" stroke-width="0.45"/>
<circle cx="140.3" cy="475.9" r="1.1" fill="#2f86c6" stroke="#1f5c88" stroke-width="0.45"/>
<circle cx="71.5" cy="484.4" r="1.1" fill="#2f86c6" stroke="#1f5c88" stroke-width="0.45"/>
<circle cx="65.1" cy="482.5" r="1.1" fill="#2f86c6" stroke="#1f5c88" stroke-width="0.45"/>
<circle cx="152.7" cy="478.3" r="1.1" fill="#2f86c6" stroke="#1f5c88" stroke-width="0.45"/>
<circle cx="109.1" cy="465.9" r="1.1" fill="#2f86c6" stroke="#1f5c88" stroke-width="0.45"/>
<circle cx="67.8" cy="505.5" r="1.1" fill="#2f86c6" stroke="#1f5c88" stroke-width="0.45"/>
<circle cx="209.0" cy="464.1" r="1.1" fill="#2f86c6" stroke="#1f5c88" stroke-width="0.45"/>
<circle cx="130.0" cy="465.7" r="1.1" fill="#2f86c6" stroke="#1f5c88" stroke-width="0.45"/>
<circle cx="114.3" cy="488.8" r="1.1" fill="#2f86c6" stroke="#1f5c88" stroke-width="0.45"/>
<circle cx="130.0" cy="462.6" r="1.1" fill="#2f86c6" stroke="#1f5c88" stroke-width="0.45"/>
<circle cx="127.7" cy="491.7" r="1.1" fill="#2f86c6" stroke="#1f5c88" stroke-width="0.45"/>
<circle cx="111.7" cy="515.0" r="1.1" fill="#2f86c6" stroke="#1f5c88" stroke-width="0.45"/>
<circle cx="105.8" cy="497.7" r="1.1" fill="#2f86c6" stroke="#1f5c88" stroke-width="0.45"/>
<circle cx="128.9" cy="429.3" r="1.1" fill="#2f86c6" stroke="#1f5c88" stroke-width="0.45"/>
<circle cx="71.0" cy="465.4" r="1.1" fill="#2f86c6" stroke="#1f5c88" stroke-width="0.45"/>
<circle cx="123.7" cy="489.2" r="1.1" fill="#2f86c6" stroke="#1f5c88" stroke-width="0.45"/>
<circle cx="96.7" cy="493.7" r="1.1" fill="#2f86c6" stroke="#1f5c88" stroke-width="0.45"/>
<circle cx="127.6" cy="475.1" r="1.1" fill="#2f86c6" stroke="#1f5c88" stroke-width="0.45"/>
<circle cx="127.9" cy="477.7" r="1.1" fill="#2f86c6" stroke="#1f5c88" stroke-width="0.45"/>
<circle cx="77.8" cy="505.2" r="1.1" fill="#2f86c6" stroke="#1f5c88" stroke-width="0.45"/>
<circle cx="98.0" cy="460.1" r="1.1" fill="#2f86c6" stroke="#1f5c88" stroke-width="0.45"/>
<circle cx="128.2" cy="458.9" r="1.1" fill="#2f86c6" stroke="#1f5c88" stroke-width="0.45"/>
<circle cx="95.7" cy="486.4" r="1.1" fill="#2f86c6" stroke="#1f5c88" stroke-width="0.45"/>
<circle cx="167.3" cy="425.9" r="1.1" fill="#2f86c6" stroke="#1f5c88" stroke-width="0.45"/>
<circle cx="135.7" cy="478.5" r="1.1" fill="#2f86c6" stroke="#1f5c88" stroke-width="0.45"/>
<circle cx="163.4" cy="498.3" r="1.1" fill="#2f86c6" stroke="#1f5c88" stroke-width="0.45"/>
<circle cx="100.2" cy="490.7" r="1.1" fill="#2f86c6" stroke="#1f5c88" stroke-width="0.45"/>
<circle cx="136.2" cy="495.6" r="1.1" fill="#2f86c6" stroke="#1f5c88" stroke-width="0.45"/>
<circle cx="99.4" cy="459.8" r="1.1" fill="#2f86c6" stroke="#1f5c88" stroke-width="0.45"/>
<circle cx="141.9" cy="482.2" r="1.1" fill="#2f86c6" stroke="#1f5c88" stroke-width="0.45"/>
<circle cx="68.2" cy="499.9" r="1.1" fill="#2f86c6" stroke="#1f5c88" stroke-width="0.45"/>
<circle cx="80.7" cy="473.7" r="1.1" fill="#2f86c6" stroke="#1f5c88" stroke-width="0.45"/>
<circle cx="125.3" cy="486.8" r="1.1" fill="#2f86c6" stroke="#1f5c88" stroke-width="0.45"/>
<circle cx="98.4" cy="455.5" r="1.1" fill="#2f86c6" stroke="#1f5c88" stroke-width="0.45"/>
<circle cx="112.2" cy="460.1" r="1.1" fill="#2f86c6" stroke="#1f5c88" stroke-width="0.45"/>
<circle cx="89.9" cy="486.8" r="1.1" fill="#2f86c6" stroke="#1f5c88" stroke-width="0.45"/>
<circle cx="71.2" cy="486.3" r="1.1" fill="#2f86c6" stroke="#1f5c88" stroke-width="0.45"/>
<circle cx="125.6" cy="489.3" r="1.1" fill="#2f86c6" stroke="#1f5c88" stroke-width="0.45"/>
<circle cx="77.6" cy="511.3" r="1.1" fill="#2f86c6" stroke="#1f5c88" stroke-width="0.45"/>
<circle cx="80.9" cy="489.6" r="1.1" fill="#2f86c6" stroke="#1f5c88" stroke-width="0.45"/>
<circle cx="122.9" cy="487.8" r="1.1" fill="#2f86c6" stroke="#1f5c88" stroke-width="0.45"/>
<circle cx="140.4" cy="463.8" r="1.1" fill="#2f86c6" stroke="#1f5c88" stroke-width="0.45"/>
<circle cx="110.9" cy="474.5" r="1.1" fill="#2f86c6" stroke="#1f5c88" stroke-width="0.45"/>
<circle cx="130.8" cy="467.2" r="1.1" fill="#2f86c6" stroke="#1f5c88" stroke-width="0.45"/>
<circle cx="89.5" cy="465.3" r="1.1" fill="#2f86c6" stroke="#1f5c88" stroke-width="0.45"/>
<circle cx="105.7" cy="461.4" r="1.1" fill="#2f86c6" stroke="#1f5c88" stroke-width="0.45"/>
<circle cx="105.8" cy="514.2" r="1.1" fill="#2f86c6" stroke="#1f5c88" stroke-width="0.45"/>
<circle cx="115.3" cy="499.0" r="1.1" fill="#2f86c6" stroke="#1f5c88" stroke-width="0.45"/>
<circle cx="124.9" cy="470.5" r="1.1" fill="#2f86c6" stroke="#1f5c88" stroke-width="0.45"/>
<circle cx="72.3" cy="472.2" r="1.1" fill="#2f86c6" stroke="#1f5c88" stroke-width="0.45"/>
<circle cx="82.3" cy="521.6" r="1.1" fill="#2f86c6" stroke="#1f5c88" stroke-width="0.45"/>
<circle cx="97.1" cy="484.6" r="1.1" fill="#2f86c6" stroke="#1f5c88" stroke-width="0.45"/>
<circle cx="106.3" cy="489.0" r="1.1" fill="#2f86c6" stroke="#1f5c88" stroke-width="0.45"/>
<circle cx="121.6" cy="451.9" r="1.1" fill="#2f86c6" stroke="#1f5c88" stroke-width="0.45"/>
<circle cx="126.8" cy="484.3" r="1.1" fill="#2f86c6" stroke="#1f5c88" stroke-width="0.45"/>
<circle cx="110.1" cy="488.2" r="1.1" fill="#2f86c6" stroke="#1f5c88" stroke-width="0.45"/>
<circle cx="158.0" cy="467.3" r="1.1" fill="#2f86c6" stroke="#1f5c88" stroke-width="0.45"/>
<circle cx="92.7" cy="432.7" r="1.1" fill="#2f86c6" stroke="#1f5c88" stroke-width="0.45"/>
<circle cx="71.4" cy="506.2" r="1.1" fill="#2f86c6" stroke="#1f5c88" stroke-width="0.45"/>
<circle cx="110.0" cy="510.1" r="1.1" fill="#2f86c6" stroke="#1f5c88" stroke-width="0.45"/>
<circle cx="128.1" cy="483.4" r="1.1" fill="#2f86c6" stroke="#1f5c88" stroke-width="0.45"/>
<circle cx="102.7" cy="494.4" r="1.1" fill="#2f86c6" stroke="#1f5c88" stroke-width="0.45"/>
<circle cx="136.2" cy="489.7" r="1.1" fill="#2f86c6" stroke="#1f5c88" stroke-width="0.45"/>
<circle cx="83.5" cy="471.8" r="1.1" fill="#2f86c6" stroke="#1f5c88" stroke-width="0.45"/>
<circle cx="97.9" cy="484.4" r="1.1" fill="#2f86c6" stroke="#1f5c88" stroke-width="0.45"/>
<circle cx="80.1" cy="486.1" r="1.1" fill="#2f86c6" stroke="#1f5c88" stroke-width="0.45"/>
<circle cx="158.5" cy="470.5" r="1.1" fill="#2f86c6" stroke="#1f5c88" stroke-width="0.45"/>
<circle cx="153.4" cy="484.0" r="1.1" fill="#2f86c6" stroke="#1f5c88" stroke-width="0.45"/>
<circle cx="66.2" cy="480.2" r="1.1" fill="#2f86c6" stroke="#1f5c88" stroke-width="0.45"/>
<circle cx="93.7" cy="468.9" r="1.1" fill="#2f86c6" stroke="#1f5c88" stroke-width="0.45"/>
<circle cx="107.9" cy="479.4" r="1.1" fill="#2f86c6" stroke="#1f5c88" stroke-width="0.45"/>
<circle cx="241.6" cy="456.6" r="1.1" fill="#2f86c6" stroke="#1f5c88" stroke-width="0.45"/>
<circle cx="85.4" cy="479.9" r="1.1" fill="#2f86c6" stroke="#1f5c88" stroke-width="0.45"/>
<circle cx="94.6" cy="477.7" r="1.1" fill="#2f86c6" stroke="#1f5c88" stroke-width="0.45"/>
<circle cx="74.2" cy="474.2" r="1.1" fill="#2f86c6" stroke="#1f5c88" stroke-width="0.45"/>
<circle cx="177.0" cy="496.9" r="1.1" fill="#2f86c6" stroke="#1f5c88" stroke-width="0.45"/>
<circle cx="101.3" cy="501.3" r="1.1" fill="#2f86c6" stroke="#1f5c88" stroke-width="0.45"/>
<circle cx="98.1" cy="507.3" r="1.1" fill="#2f86c6" stroke="#1f5c88" stroke-width="0.45"/>
<circle cx="103.5" cy="453.4" r="1.1" fill="#2f86c6" stroke="#1f5c88" stroke-width="0.45"/>
<circle cx="103.7" cy="479.1" r="1.1" fill="#2f86c6" stroke="#1f5c88" stroke-width="0.45"/>
<circle cx="85.8" cy="472.3" r="1.1" fill="#2f86c6" stroke="#1f5c88" stroke-width="0.45"/>
<circle cx="213.1" cy="462.0" r="1.1" fill="#2f86c6" stroke="#1f5c88" stroke-width="0.45"/>
<circle cx="67.3" cy="502.1" r="1.1" fill="#2f86c6" stroke="#1f5c88" stroke-width="0.45"/>
<circle cx="142.7" cy="433.1" r="1.1" fill="#2f86c6" stroke="#1f5c88" stroke-width="0.45"/>
<circle cx="125.0" cy="480.5" r="1.1" fill="#2f86c6" stroke="#1f5c88" stroke-width="0.45"/>
<circle cx="109.5" cy="475.9" r="1.1" fill="#2f86c6" stroke="#1f5c88" stroke-width="0.45"/>
<circle cx="115.4" cy="479.3" r="1.1" fill="#2f86c6" stroke="#1f5c88" stroke-width="0.45"/>
<circle cx="95.6" cy="483.1" r="1.1" fill="#2f86c6" stroke="#1f5c88" stroke-width="0.45"/>
<circle cx="133.7" cy="484.0" r="1.1" fill="#2f86c6" stroke="#1f5c88" stroke-width="0.45"/>
<circle cx="100.0" cy="482.3" r="1.1" fill="#2f86c6" stroke="#1f5c88" stroke-width="0.45"/>
<circle cx="116.3" cy="472.3" r="1.1" fill="#2f86c6" stroke="#1f5c88" stroke-width="0.45"/>
<circle cx="108.5" cy="467.9" r="1.1" fill="#2f86c6" stroke="#1f5c88" stroke-width="0.45"/>
<circle cx="91.7" cy="472.3" r="1.1" fill="#2f86c6" stroke="#1f5c88" stroke-width="0.45"/>
<circle cx="102.2" cy="482.8" r="1.1" fill="#2f86c6" stroke="#1f5c88" stroke-width="0.45"/>
<circle cx="98.2" cy="487.5" r="1.1" fill="#2f86c6" stroke="#1f5c88" stroke-width="0.45"/>
<circle cx="101.2" cy="505.2" r="1.1" fill="#2f86c6" stroke="#1f5c88" stroke-width="0.45"/>
<circle cx="95.0" cy="491.9" r="1.1" fill="#2f86c6" stroke="#1f5c88" stroke-width="0.45"/>
<circle cx="111.2" cy="478.6" r="1.1" fill="#2f86c6" stroke="#1f5c88" stroke-width="0.45"/>
<circle cx="119.0" cy="479.1" r="1.1" fill="#2f86c6" stroke="#1f5c88" stroke-width="0.45"/>
<circle cx="116.7" cy="489.4" r="1.1" fill="#2f86c6" stroke="#1f5c88" stroke-width="0.45"/>
<circle cx="110.0" cy="488.8" r="1.1" fill="#2f86c6" stroke="#1f5c88" stroke-width="0.45"/>
<circle cx="100.2" cy="471.0" r="1.1" fill="#2f86c6" stroke="#1f5c88" stroke-width="0.45"/>
<circle cx="153.4" cy="454.7" r="1.1" fill="#2f86c6" stroke="#1f5c88" stroke-width="0.45"/>
<circle cx="98.9" cy="487.2" r="1.1" fill="#2f86c6" stroke="#1f5c88" stroke-width="0.45"/>
<circle cx="128.1" cy="475.0" r="1.1" fill="#2f86c6" stroke="#1f5c88" stroke-width="0.45"/>
<circle cx="189.3" cy="453.3" r="1.1" fill="#2f86c6" stroke="#1f5c88" stroke-width="0.45"/>
<circle cx="106.3" cy="501.6" r="1.1" fill="#2f86c6" stroke="#1f5c88" stroke-width="0.45"/>
<circle cx="130.1" cy="473.6" r="1.1" fill="#2f86c6" stroke="#1f5c88" stroke-width="0.45"/>
<circle cx="143.8" cy="463.7" r="1.1" fill="#2f86c6" stroke="#1f5c88" stroke-width="0.45"/>
<circle cx="80.7" cy="487.9" r="1.1" fill="#2f86c6" stroke="#1f5c88" stroke-width="0.45"/>
<circle cx="154.1" cy="486.1" r="1.1" fill="#2f86c6" stroke="#1f5c88" stroke-width="0.45"/>
<circle cx="139.4" cy="481.5" r="1.1" fill="#2f86c6" stroke="#1f5c88" stroke-width="0.45"/>
<circle cx="89.1" cy="434.3" r="1.1" fill="#2f86c6" stroke="#1f5c88" stroke-width="0.45"/>
<circle cx="115.2" cy="468.9" r="1.1" fill="#2f86c6" stroke="#1f5c88" stroke-width="0.45"/>
<circle cx="89.9" cy="455.9" r="1.1" fill="#2f86c6" stroke="#1f5c88" stroke-width="0.45"/>
<circle cx="116.2" cy="487.8" r="1.1" fill="#2f86c6" stroke="#1f5c88" stroke-width="0.45"/>
<circle cx="104.6" cy="456.8" r="1.1" fill="#2f86c6" stroke="#1f5c88" stroke-width="0.45"/>
<circle cx="102.7" cy="488.8" r="1.1" fill="#2f86c6" stroke="#1f5c88" stroke-width="0.45"/>
<circle cx="69.3" cy="489.7" r="1.1" fill="#2f86c6" stroke="#1f5c88" stroke-width="0.45"/>
<circle cx="185.3" cy="468.7" r="1.1" fill="#2f86c6" stroke="#1f5c88" stroke-width="0.45"/>
<circle cx="109.0" cy="479.5" r="1.1" fill="#2f86c6" stroke="#1f5c88" stroke-width="0.45"/>
<circle cx="92.9" cy="485.3" r="1.1" fill="#2f86c6" stroke="#1f5c88" stroke-width="0.45"/>
<circle cx="124.8" cy="479.9" r="1.1" fill="#2f86c6" stroke="#1f5c88" stroke-width="0.45"/>
<circle cx="140.9" cy="514.3" r="1.1" fill="#2f86c6" stroke="#1f5c88" stroke-width="0.45"/>
<circle cx="91.1" cy="488.0" r="1.1" fill="#2f86c6" stroke="#1f5c88" stroke-width="0.45"/>
<circle cx="133.0" cy="507.6" r="1.1" fill="#2f86c6" stroke="#1f5c88" stroke-width="0.45"/>
<circle cx="91.4" cy="464.6" r="1.1" fill="#2f86c6" stroke="#1f5c88" stroke-width="0.45"/>
<circle cx="148.7" cy="492.9" r="1.1" fill="#2f86c6" stroke="#1f5c88" stroke-width="0.45"/>
<circle cx="122.0" cy="487.1" r="1.1" fill="#2f86c6" stroke="#1f5c88" stroke-width="0.45"/>
<circle cx="99.7" cy="480.0" r="1.1" fill="#2f86c6" stroke="#1f5c88" stroke-width="0.45"/>
<circle cx="101.7" cy="458.1" r="1.1" fill="#2f86c6" stroke="#1f5c88" stroke-width="0.45"/>
<circle cx="79.1" cy="492.3" r="1.1" fill="#2f86c6" stroke="#1f5c88" stroke-width="0.45"/>
<circle cx="102.3" cy="437.9" r="1.1" fill="#2f86c6" stroke="#1f5c88" stroke-width="0.45"/>
<circle cx="142.6" cy="448.3" r="1.1" fill="#2f86c6" stroke="#1f5c88" stroke-width="0.45"/>
<circle cx="132.8" cy="485.6" r="1.1" fill="#2f86c6" stroke="#1f5c88" stroke-width="0.45"/>
<circle cx="145.5" cy="470.8" r="1.1" fill="#2f86c6" stroke="#1f5c88" stroke-width="0.45"/>
<circle cx="105.0" cy="483.1" r="1.1" fill="#2f86c6" stroke="#1f5c88" stroke-width="0.45"/>
<circle cx="103.2" cy="503.5" r="1.1" fill="#2f86c6" stroke="#1f5c88" stroke-width="0.45"/>
<circle cx="103.7" cy="466.3" r="1.1" fill="#2f86c6" stroke="#1f5c88" stroke-width="0.45"/>
<circle cx="116.8" cy="518.1" r="1.1" fill="#2f86c6" stroke="#1f5c88" stroke-width="0.45"/>
<circle cx="98.4" cy="460.6" r="1.1" fill="#2f86c6" stroke="#1f5c88" stroke-width="0.45"/>
<circle cx="125.9" cy="476.7" r="1.1" fill="#2f86c6" stroke="#1f5c88" stroke-width="0.45"/>
<circle cx="141.7" cy="479.8" r="1.1" fill="#2f86c6" stroke="#1f5c88" stroke-width="0.45"/>
<circle cx="90.7" cy="510.0" r="1.1" fill="#2f86c6" stroke="#1f5c88" stroke-width="0.45"/>
<circle cx="99.7" cy="506.2" r="1.1" fill="#2f86c6" stroke="#1f5c88" stroke-width="0.45"/>
<circle cx="103.0" cy="467.3" r="1.1" fill="#2f86c6" stroke="#1f5c88" stroke-width="0.45"/>
<circle cx="106.8" cy="473.3" r="1.1" fill="#2f86c6" stroke="#1f5c88" stroke-width="0.45"/>
<circle cx="139.4" cy="500.9" r="1.1" fill="#2f86c6" stroke="#1f5c88" stroke-width="0.45"/>
<circle cx="105.0" cy="481.0" r="1.1" fill="#2f86c6" stroke="#1f5c88" stroke-width="0.45"/>
<circle cx="100.6" cy="493.2" r="1.1" fill="#2f86c6" stroke="#1f5c88" stroke-width="0.45"/>
<circle cx="99.5" cy="509.4" r="1.1" fill="#2f86c6" stroke="#1f5c88" stroke-width="0.45"/>
<circle cx="128.7" cy="457.9" r="1.1" fill="#2f86c6" stroke="#1f5c88" stroke-width="0.45"/>
<circle cx="99.4" cy="512.9" r="1.1" fill="#2f86c6" stroke="#1f5c88" stroke-width="0.45"/>
<circle cx="130.9" cy="493.0" r="1.1" fill="#2f86c6" stroke="#1f5c88" stroke-width="0.45"/>
<circle cx="93.9" cy="470.7" r="1.1" fill="#2f86c6" stroke="#1f5c88" stroke-width="0.45"/>
<circle cx="122.4" cy="459.1" r="1.1" fill="#2f86c6" stroke="#1f5c88" stroke-width="0.45"/>
<circle cx="123.6" cy="489.6" r="1.1" fill="#2f86c6" stroke="#1f5c88" stroke-width="0.45"/>
<circle cx="120.6" cy="489.4" r="1.1" fill="#2f86c6" stroke="#1f5c88" stroke-width="0.45"/>
<circle cx="106.5" cy="494.9" r="1.1" fill="#2f86c6" stroke="#1f5c88" stroke-width="0.45"/>
<circle cx="114.6" cy="525.3" r="1.1" fill="#2f86c6" stroke="#1f5c88" stroke-width="0.45"/>
<circle cx="95.5" cy="492.3" r="1.1" fill="#2f86c6" stroke="#1f5c88" stroke-width="0.45"/>
<circle cx="81.6" cy="484.2" r="1.1" fill="#2f86c6" stroke="#1f5c88" stroke-width="0.45"/>
<circle cx="129.9" cy="485.5" r="1.1" fill="#2f86c6" stroke="#1f5c88" stroke-width="0.45"/>
<circle cx="94.0" cy="498.0" r="1.1" fill="#2f86c6" stroke="#1f5c88" stroke-width="0.45"/>
<circle cx="112.0" cy="497.8" r="1.1" fill="#2f86c6" stroke="#1f5c88" stroke-width="0.45"/>
<circle cx="91.9" cy="502.6" r="1.1" fill="#2f86c6" stroke="#1f5c88" stroke-width="0.45"/>
<circle cx="88.1" cy="478.5" r="1.1" fill="#2f86c6" stroke="#1f5c88" stroke-width="0.45"/>
<circle cx="78.3" cy="496.6" r="1.1" fill="#2f86c6" stroke="#1f5c88" stroke-width="0.45"/>
<circle cx="116.3" cy="500.6" r="1.1" fill="#2f86c6" stroke="#1f5c88" stroke-width="0.45"/>
<circle cx="98.5" cy="450.6" r="1.1" fill="#2f86c6" stroke="#1f5c88" stroke-width="0.45"/>
<circle cx="111.3" cy="458.5" r="1.1" fill="#2f86c6" stroke="#1f5c88" stroke-width="0.45"/>
<circle cx="98.8" cy="464.2" r="1.1" fill="#2f86c6" stroke="#1f5c88" stroke-width="0.45"/>
<circle cx="117.7" cy="481.4" r="1.1" fill="#2f86c6" stroke="#1f5c88" stroke-width="0.45"/>
<circle cx="106.4" cy="479.9" r="1.1" fill="#2f86c6" stroke="#1f5c88" stroke-width="0.45"/>
<circle cx="113.9" cy="489.4" r="1.1" fill="#2f86c6" stroke="#1f5c88" stroke-width="0.45"/>
<circle cx="158.1" cy="471.4" r="1.1" fill="#2f86c6" stroke="#1f5c88" stroke-width="0.45"/>
<circle cx="121.6" cy="483.3" r="1.1" fill="#2f86c6" stroke="#1f5c88" stroke-width="0.45"/>
<circle cx="89.3" cy="499.1" r="1.1" fill="#2f86c6" stroke="#1f5c88" stroke-width="0.45"/>
<circle cx="131.7" cy="527.9" r="1.1" fill="#2f86c6" stroke="#1f5c88" stroke-width="0.45"/>
<circle cx="90.7" cy="475.7" r="1.1" fill="#2f86c6" stroke="#1f5c88" stroke-width="0.45"/>
<circle cx="86.4" cy="467.3" r="1.1" fill="#2f86c6" stroke="#1f5c88" stroke-width="0.45"/>
<circle cx="133.2" cy="489.7" r="1.1" fill="#2f86c6" stroke="#1f5c88" stroke-width="0.45"/>
<circle cx="82.2" cy="462.7" r="1.1" fill="#2f86c6" stroke="#1f5c88" stroke-width="0.45"/>
<circle cx="88.1" cy="508.9" r="1.1" fill="#2f86c6" stroke="#1f5c88" stroke-width="0.45"/>
<circle cx="109.9" cy="483.3" r="1.1" fill="#2f86c6" stroke="#1f5c88" stroke-width="0.45"/>
<circle cx="124.0" cy="486.4" r="1.1" fill="#2f86c6" stroke="#1f5c88" stroke-width="0.45"/>
<circle cx="99.8" cy="471.0" r="1.1" fill="#2f86c6" stroke="#1f5c88" stroke-width="0.45"/>
<circle cx="122.3" cy="477.0" r="1.1" fill="#2f86c6" stroke="#1f5c88" stroke-width="0.45"/>
<circle cx="121.8" cy="463.9" r="1.1" fill="#2f86c6" stroke="#1f5c88" stroke-width="0.45"/>
<circle cx="130.3" cy="520.5" r="1.1" fill="#2f86c6" stroke="#1f5c88" stroke-width="0.45"/>
<circle cx="91.5" cy="477.1" r="1.1" fill="#2f86c6" stroke="#1f5c88" stroke-width="0.45"/>
<circle cx="152.3" cy="441.1" r="1.1" fill="#2f86c6" stroke="#1f5c88" stroke-width="0.45"/>
<circle cx="86.2" cy="462.7" r="1.1" fill="#2f86c6" stroke="#1f5c88" stroke-width="0.45"/>
<circle cx="129.8" cy="466.7" r="1.1" fill="#2f86c6" stroke="#1f5c88" stroke-width="0.45"/>
<circle cx="122.9" cy="476.5" r="1.1" fill="#2f86c6" stroke="#1f5c88" stroke-width="0.45"/>
<circle cx="69.9" cy="495.0" r="1.1" fill="#2f86c6" stroke="#1f5c88" stroke-width="0.45"/>
<circle cx="111.0" cy="515.5" r="1.1" fill="#2f86c6" stroke="#1f5c88" stroke-width="0.45"/>
<circle cx="93.9" cy="473.7" r="1.1" fill="#2f86c6" stroke="#1f5c88" stroke-width="0.45"/>
<circle cx="114.9" cy="471.9" r="1.1" fill="#2f86c6" stroke="#1f5c88" stroke-width="0.45"/>
<circle cx="93.6" cy="491.7" r="1.1" fill="#2f86c6" stroke="#1f5c88" stroke-width="0.45"/>
<circle cx="135.8" cy="475.6" r="1.1" fill="#2f86c6" stroke="#1f5c88" stroke-width="0.45"/>
<circle cx="96.1" cy="499.6" r="1.1" fill="#2f86c6" stroke="#1f5c88" stroke-width="0.45"/>
<circle cx="117.2" cy="483.3" r="1.1" fill="#2f86c6" stroke="#1f5c88" stroke-width="0.45"/>
<circle cx="85.8" cy="503.9" r="1.1" fill="#2f86c6" stroke="#1f5c88" stroke-width="0.45"/>
<circle cx="80.1" cy="503.3" r="1.1" fill="#2f86c6" stroke="#1f5c88" stroke-width="0.45"/>
<circle cx="112.8" cy="508.6" r="1.1" fill="#2f86c6" stroke="#1f5c88" stroke-width="0.45"/>
<circle cx="128.5" cy="474.2" r="1.1" fill="#2f86c6" stroke="#1f5c88" stroke-width="0.45"/>
<circle cx="99.2" cy="464.0" r="1.1" fill="#2f86c6" stroke="#1f5c88" stroke-width="0.45"/>
<circle cx="124.1" cy="472.6" r="1.1" fill="#2f86c6" stroke="#1f5c88" stroke-width="0.45"/>
<circle cx="101.1" cy="486.3" r="1.1" fill="#2f86c6" stroke="#1f5c88" stroke-width="0.45"/>
<circle cx="90.0" cy="461.9" r="1.1" fill="#2f86c6" stroke="#1f5c88" stroke-width="0.45"/>
<circle cx="96.4" cy="498.8" r="1.1" fill="#2f86c6" stroke="#1f5c88" stroke-width="0.45"/>
<circle cx="140.4" cy="491.4" r="1.1" fill="#2f86c6" stroke="#1f5c88" stroke-width="0.45"/>
<circle cx="118.1" cy="467.1" r="1.1" fill="#2f86c6" stroke="#1f5c88" stroke-width="0.45"/>
<circle cx="152.9" cy="468.6" r="1.1" fill="#2f86c6" stroke="#1f5c88" stroke-width="0.45"/>
<circle cx="84.7" cy="483.6" r="1.1" fill="#2f86c6" stroke="#1f5c88" stroke-width="0.45"/>
<circle cx="132.5" cy="464.8" r="1.1" fill="#2f86c6" stroke="#1f5c88" stroke-width="0.45"/>
<circle cx="109.4" cy="477.4" r="1.1" fill="#2f86c6" stroke="#1f5c88" stroke-width="0.45"/>
<circle cx="73.3" cy="495.5" r="1.1" fill="#2f86c6" stroke="#1f5c88" stroke-width="0.45"/>
<circle cx="81.7" cy="499.1" r="1.1" fill="#2f86c6" stroke="#1f5c88" stroke-width="0.45"/>
<circle cx="100.2" cy="444.1" r="1.1" fill="#2f86c6" stroke="#1f5c88" stroke-width="0.45"/>
<circle cx="126.9" cy="469.3" r="1.1" fill="#2f86c6" stroke="#1f5c88" stroke-width="0.45"/>
<circle cx="123.6" cy="450.8" r="1.1" fill="#2f86c6" stroke="#1f5c88" stroke-width="0.45"/>
<circle cx="121.7" cy="493.3" r="1.1" fill="#2f86c6" stroke="#1f5c88" stroke-width="0.45"/>
<circle cx="119.6" cy="487.4" r="1.1" fill="#2f86c6" stroke="#1f5c88" stroke-width="0.45"/>
<circle cx="116.3" cy="465.6" r="1.1" fill="#2f86c6" stroke="#1f5c88" stroke-width="0.45"/>
<circle cx="73.2" cy="500.5" r="1.1" fill="#2f86c6" stroke="#1f5c88" stroke-width="0.45"/>
<circle cx="109.1" cy="474.3" r="1.1" fill="#2f86c6" stroke="#1f5c88" stroke-width="0.45"/>
<circle cx="129.9" cy="443.0" r="1.1" fill="#2f86c6" stroke="#1f5c88" stroke-width="0.45"/>
<circle cx="123.2" cy="462.6" r="1.1" fill="#2f86c6" stroke="#1f5c88" stroke-width="0.45"/>
<circle cx="116.3" cy="492.0" r="1.1" fill="#2f86c6" stroke="#1f5c88" stroke-width="0.45"/>
<circle cx="129.1" cy="475.4" r="1.1" fill="#2f86c6" stroke="#1f5c88" stroke-width="0.45"/>
<circle cx="124.1" cy="481.2" r="1.1" fill="#2f86c6" stroke="#1f5c88" stroke-width="0.45"/>
<circle cx="115.7" cy="494.2" r="1.1" fill="#2f86c6" stroke="#1f5c88" stroke-width="0.45"/>
<circle cx="106.3" cy="497.1" r="1.1" fill="#2f86c6" stroke="#1f5c88" stroke-width="0.45"/>
<circle cx="85.5" cy="471.2" r="1.1" fill="#2f86c6" stroke="#1f5c88" stroke-width="0.45"/>
<circle cx="77.0" cy="492.7" r="1.1" fill="#2f86c6" stroke="#1f5c88" stroke-width="0.45"/>
<circle cx="171.9" cy="458.2" r="1.1" fill="#2f86c6" stroke="#1f5c88" stroke-width="0.45"/>
<circle cx="113.6" cy="480.1" r="1.1" fill="#2f86c6" stroke="#1f5c88" stroke-width="0.45"/>
<circle cx="114.6" cy="481.1" r="1.1" fill="#2f86c6" stroke="#1f5c88" stroke-width="0.45"/>
<circle cx="120.9" cy="450.4" r="1.1" fill="#2f86c6" stroke="#1f5c88" stroke-width="0.45"/>
<circle cx="94.0" cy="483.2" r="1.1" fill="#2f86c6" stroke="#1f5c88" stroke-width="0.45"/>
<circle cx="135.1" cy="498.4" r="1.1" fill="#2f86c6" stroke="#1f5c88" stroke-width="0.45"/>
<circle cx="112.9" cy="484.5" r="1.1" fill="#2f86c6" stroke="#1f5c88" stroke-width="0.45"/>
<circle cx="97.6" cy="507.8" r="1.1" fill="#2f86c6" stroke="#1f5c88" stroke-width="0.45"/>
<circle cx="99.4" cy="480.2" r="1.1" fill="#2f86c6" stroke="#1f5c88" stroke-width="0.45"/>
<circle cx="100.4" cy="500.5" r="1.1" fill="#2f86c6" stroke="#1f5c88" stroke-width="0.45"/>
<circle cx="142.7" cy="482.6" r="1.1" fill="#2f86c6" stroke="#1f5c88" stroke-width="0.45"/>
<circle cx="110.6" cy="510.5" r="1.1" fill="#2f86c6" stroke="#1f5c88" stroke-width="0.45"/>
<circle cx="103.3" cy="494.8" r="1.1" fill="#2f86c6" stroke="#1f5c88" stroke-width="0.45"/>
<circle cx="110.2" cy="472.9" r="1.1" fill="#2f86c6" stroke="#1f5c88" stroke-width="0.45"/>
<circle cx="69.8" cy="511.9" r="1.1" fill="#2f86c6" stroke="#1f5c88" stroke-width="0.45"/>
<circle cx="96.2" cy="498.4" r="1.1" fill="#2f86c6" stroke="#1f5c88" stroke-width="0.45"/>
<circle cx="128.4" cy="487.4" r="1.1" fill="#2f86c6" stroke="#1f5c88" stroke-width="0.45"/>
<circle cx="106.8" cy="484.7" r="1.1" fill="#2f86c6" stroke="#1f5c88" stroke-width="0.45"/>
<circle cx="85.6" cy="465.5" r="1.1" fill="#2f86c6" stroke="#1f5c88" stroke-width="0.45"/>
<circle cx="134.2" cy="478.1" r="1.1" fill="#2f86c6" stroke="#1f5c88" stroke-width="0.45"/>
<circle cx="79.1" cy="511.3" r="1.1" fill="#2f86c6" stroke="#1f5c88" stroke-width="0.45"/>
<circle cx="96.8" cy="463.2" r="1.1" fill="#2f86c6" stroke="#1f5c88" stroke-width="0.45"/>
<circle cx="135.0" cy="489.3" r="1.1" fill="#2f86c6" stroke="#1f5c88" stroke-width="0.45"/>
<circle cx="69.7" cy="494.2" r="1.1" fill="#2f86c6" stroke="#1f5c88" stroke-width="0.45"/>
<circle cx="131.0" cy="479.7" r="1.1" fill="#2f86c6" stroke="#1f5c88" stroke-width="0.45"/>
<circle cx="170.8" cy="522.1" r="1.1" fill="#2f86c6" stroke="#1f5c88" stroke-width="0.45"/>
<circle cx="126.7" cy="492.9" r="1.1" fill="#2f86c6" stroke="#1f5c88" stroke-width="0.45"/>
<circle cx="119.6" cy="489.3" r="1.1" fill="#2f86c6" stroke="#1f5c88" stroke-width="0.45"/>
<circle cx="107.1" cy="501.8" r="1.1" fill="#2f86c6" stroke="#1f5c88" stroke-width="0.45"/>
<circle cx="105.1" cy="477.3" r="1.1" fill="#2f86c6" stroke="#1f5c88" stroke-width="0.45"/>
<circle cx="85.7" cy="498.3" r="1.1" fill="#2f86c6" stroke="#1f5c88" stroke-width="0.45"/>
<circle cx="132.6" cy="455.8" r="1.1" fill="#2f86c6" stroke="#1f5c88" stroke-width="0.45"/>
<circle cx="98.1" cy="484.8" r="1.1" fill="#2f86c6" stroke="#1f5c88" stroke-width="0.45"/>
<circle cx="97.3" cy="471.4" r="1.1" fill="#2f86c6" stroke="#1f5c88" stroke-width="0.45"/>
<circle cx="85.3" cy="512.9" r="1.1" fill="#2f86c6" stroke="#1f5c88" stroke-width="0.45"/>
<circle cx="130.9" cy="472.0" r="1.1" fill="#2f86c6" stroke="#1f5c88" stroke-width="0.45"/>
<circle cx="87.7" cy="442.4" r="1.1" fill="#2f86c6" stroke="#1f5c88" stroke-width="0.45"/>
<circle cx="123.8" cy="441.2" r="1.1" fill="#2f86c6" stroke="#1f5c88" stroke-width="0.45"/>
<circle cx="108.5" cy="485.0" r="1.1" fill="#2f86c6" stroke="#1f5c88" stroke-width="0.45"/>
<circle cx="107.8" cy="477.6" r="1.1" fill="#2f86c6" stroke="#1f5c88" stroke-width="0.45"/>
<circle cx="94.2" cy="465.2" r="1.1" fill="#2f86c6" stroke="#1f5c88" stroke-width="0.45"/>
<circle cx="127.7" cy="462.6" r="1.1" fill="#2f86c6" stroke="#1f5c88" stroke-width="0.45"/>
<circle cx="163.2" cy="456.5" r="1.1" fill="#2f86c6" stroke="#1f5c88" stroke-width="0.45"/>
<circle cx="80.1" cy="487.6" r="1.1" fill="#2f86c6" stroke="#1f5c88" stroke-width="0.45"/>
<circle cx="111.3" cy="468.3" r="1.1" fill="#2f86c6" stroke="#1f5c88" stroke-width="0.45"/>
<circle cx="132.5" cy="445.5" r="1.1" fill="#2f86c6" stroke="#1f5c88" stroke-width="0.45"/>
<circle cx="129.7" cy="472.9" r="1.1" fill="#2f86c6" stroke="#1f5c88" stroke-width="0.45"/>
<circle cx="86.1" cy="498.6" r="1.1" fill="#2f86c6" stroke="#1f5c88" stroke-width="0.45"/>
<circle cx="70.4" cy="479.6" r="1.1" fill="#2f86c6" stroke="#1f5c88" stroke-width="0.45"/>
<circle cx="81.2" cy="504.0" r="1.1" fill="#2f86c6" stroke="#1f5c88" stroke-width="0.45"/>
<circle cx="111.7" cy="463.5" r="1.1" fill="#2f86c6" stroke="#1f5c88" stroke-width="0.45"/>
<circle cx="119.1" cy="480.1" r="1.1" fill="#2f86c6" stroke="#1f5c88" stroke-width="0.45"/>
<circle cx="96.7" cy="499.5" r="1.1" fill="#2f86c6" stroke="#1f5c88" stroke-width="0.45"/>
<circle cx="120.8" cy="467.6" r="1.1" fill="#2f86c6" stroke="#1f5c88" stroke-width="0.45"/>
<circle cx="96.9" cy="474.9" r="1.1" fill="#2f86c6" stroke="#1f5c88" stroke-width="0.45"/>
<circle cx="123.4" cy="458.5" r="1.1" fill="#2f86c6" stroke="#1f5c88" stroke-width="0.45"/>
<circle cx="71.9" cy="445.2" r="1.1" fill="#2f86c6" stroke="#1f5c88" stroke-width="0.45"/>
<circle cx="123.2" cy="517.7" r="1.1" fill="#2f86c6" stroke="#1f5c88" stroke-width="0.45"/>
<circle cx="128.4" cy="518.3" r="1.1" fill="#2f86c6" stroke="#1f5c88" stroke-width="0.45"/>
<circle cx="112.8" cy="494.6" r="1.1" fill="#2f86c6" stroke="#1f5c88" stroke-width="0.45"/>
<circle cx="146.5" cy="476.7" r="1.1" fill="#2f86c6" stroke="#1f5c88" stroke-width="0.45"/>
<circle cx="102.6" cy="495.9" r="1.1" fill="#2f86c6" stroke="#1f5c88" stroke-width="0.45"/>
<circle cx="170.5" cy="491.4" r="1.1" fill="#2f86c6" stroke="#1f5c88" stroke-width="0.45"/>
<circle cx="120.2" cy="502.5" r="1.1" fill="#2f86c6" stroke="#1f5c88" stroke-width="0.45"/>
<circle cx="129.4" cy="480.2" r="1.1" fill="#2f86c6" stroke="#1f5c88" stroke-width="0.45"/>
<circle cx="122.3" cy="488.6" r="1.1" fill="#2f86c6" stroke="#1f5c88" stroke-width="0.45"/>
<circle cx="88.9" cy="504.1" r="1.1" fill="#2f86c6" stroke="#1f5c88" stroke-width="0.45"/>
<circle cx="91.3" cy="475.0" r="1.1" fill="#2f86c6" stroke="#1f5c88" stroke-width="0.45"/>
<circle cx="89.0" cy="483.8" r="1.1" fill="#2f86c6" stroke="#1f5c88" stroke-width="0.45"/>
<circle cx="117.5" cy="468.8" r="1.1" fill="#2f86c6" stroke="#1f5c88" stroke-width="0.45"/>
<circle cx="81.7" cy="471.5" r="1.1" fill="#2f86c6" stroke="#1f5c88" stroke-width="0.45"/>
<circle cx="109.2" cy="449.9" r="1.1" fill="#2f86c6" stroke="#1f5c88" stroke-width="0.45"/>
<circle cx="167.7" cy="453.4" r="1.1" fill="#2f86c6" stroke="#1f5c88" stroke-width="0.45"/>
<circle cx="89.3" cy="471.9" r="1.1" fill="#2f86c6" stroke="#1f5c88" stroke-width="0.45"/>
<circle cx="89.0" cy="516.2" r="1.1" fill="#2f86c6" stroke="#1f5c88" stroke-width="0.45"/>
<circle cx="106.7" cy="449.3" r="1.1" fill="#2f86c6" stroke="#1f5c88" stroke-width="0.45"/>
<circle cx="78.0" cy="505.2" r="1.1" fill="#2f86c6" stroke="#1f5c88" stroke-width="0.45"/>
<circle cx="113.1" cy="502.0" r="1.1" fill="#2f86c6" stroke="#1f5c88" stroke-width="0.45"/>
<circle cx="138.2" cy="506.6" r="1.1" fill="#2f86c6" stroke="#1f5c88" stroke-width="0.45"/>
<circle cx="112.9" cy="486.8" r="1.1" fill="#2f86c6" stroke="#1f5c88" stroke-width="0.45"/>
<circle cx="73.1" cy="503.4" r="1.1" fill="#2f86c6" stroke="#1f5c88" stroke-width="0.45"/>
<circle cx="108.6" cy="497.9" r="1.1" fill="#2f86c6" stroke="#1f5c88" stroke-width="0.45"/>
<circle cx="69.3" cy="482.3" r="1.1" fill="#2f86c6" stroke="#1f5c88" stroke-width="0.45"/>
<circle cx="100.0" cy="509.7" r="1.1" fill="#2f86c6" stroke="#1f5c88" stroke-width="0.45"/>
<circle cx="82.2" cy="517.1" r="1.1" fill="#2f86c6" stroke="#1f5c88" stroke-width="0.45"/>
<circle cx="111.7" cy="455.9" r="1.1" fill="#2f86c6" stroke="#1f5c88" stroke-width="0.45"/>
<circle cx="134.0" cy="469.8" r="1.1" fill="#2f86c6" stroke="#1f5c88" stroke-width="0.45"/>
<circle cx="116.8" cy="467.7" r="1.1" fill="#2f86c6" stroke="#1f5c88" stroke-width="0.45"/>
<circle cx="88.1" cy="493.2" r="1.1" fill="#2f86c6" stroke="#1f5c88" stroke-width="0.45"/>
<circle cx="113.2" cy="494.3" r="1.1" fill="#2f86c6" stroke="#1f5c88" stroke-width="0.45"/>
<circle cx="118.5" cy="460.1" r="1.1" fill="#2f86c6" stroke="#1f5c88" stroke-width="0.45"/>
<circle cx="87.2" cy="494.2" r="1.1" fill="#2f86c6" stroke="#1f5c88" stroke-width="0.45"/>
<circle cx="104.2" cy="437.8" r="1.1" fill="#2f86c6" stroke="#1f5c88" stroke-width="0.45"/>
<circle cx="96.3" cy="452.8" r="1.1" fill="#2f86c6" stroke="#1f5c88" stroke-width="0.45"/>
<circle cx="108.4" cy="464.3" r="1.1" fill="#2f86c6" stroke="#1f5c88" stroke-width="0.45"/>
<circle cx="139.0" cy="488.9" r="1.1" fill="#2f86c6" stroke="#1f5c88" stroke-width="0.45"/>
<circle cx="172.3" cy="472.1" r="1.1" fill="#2f86c6" stroke="#1f5c88" stroke-width="0.45"/>
<circle cx="138.2" cy="487.6" r="1.1" fill="#2f86c6" stroke="#1f5c88" stroke-width="0.45"/>
<circle cx="99.4" cy="486.9" r="1.1" fill="#2f86c6" stroke="#1f5c88" stroke-width="0.45"/>
<circle cx="111.5" cy="487.2" r="1.1" fill="#2f86c6" stroke="#1f5c88" stroke-width="0.45"/>
<circle cx="112.5" cy="471.5" r="1.1" fill="#2f86c6" stroke="#1f5c88" stroke-width="0.45"/>
<circle cx="216.6" cy="449.0" r="1.1" fill="#2f86c6" stroke="#1f5c88" stroke-width="0.45"/>
<circle cx="138.8" cy="495.0" r="1.1" fill="#2f86c6" stroke="#1f5c88" stroke-width="0.45"/>
<circle cx="103.7" cy="472.5" r="1.1" fill="#2f86c6" stroke="#1f5c88" stroke-width="0.45"/>
<circle cx="79.3" cy="502.3" r="1.1" fill="#2f86c6" stroke="#1f5c88" stroke-width="0.45"/>
<circle cx="117.9" cy="478.5" r="1.1" fill="#2f86c6" stroke="#1f5c88" stroke-width="0.45"/>
<circle cx="91.7" cy="460.3" r="1.1" fill="#2f86c6" stroke="#1f5c88" stroke-width="0.45"/>
<circle cx="130.4" cy="467.5" r="1.1" fill="#2f86c6" stroke="#1f5c88" stroke-width="0.45"/>
<circle cx="99.5" cy="476.3" r="1.1" fill="#2f86c6" stroke="#1f5c88" stroke-width="0.45"/>
<circle cx="129.5" cy="471.8" r="1.1" fill="#2f86c6" stroke="#1f5c88" stroke-width="0.45"/>
<circle cx="118.9" cy="482.4" r="1.1" fill="#2f86c6" stroke="#1f5c88" stroke-width="0.45"/>
<circle cx="127.8" cy="461.6" r="1.1" fill="#2f86c6" stroke="#1f5c88" stroke-width="0.45"/>
<circle cx="101.4" cy="495.2" r="1.1" fill="#2f86c6" stroke="#1f5c88" stroke-width="0.45"/>
<circle cx="92.4" cy="518.7" r="1.1" fill="#2f86c6" stroke="#1f5c88" stroke-width="0.45"/>
<circle cx="142.5" cy="461.2" r="1.1" fill="#2f86c6" stroke="#1f5c88" stroke-width="0.45"/>
<circle cx="130.7" cy="467.1" r="1.1" fill="#2f86c6" stroke="#1f5c88" stroke-width="0.45"/>
<circle cx="74.2" cy="502.2" r="1.1" fill="#2f86c6" stroke="#1f5c88" stroke-width="0.45"/>
<circle cx="112.8" cy="430.8" r="1.1" fill="#2f86c6" stroke="#1f5c88" stroke-width="0.45"/>
<circle cx="101.9" cy="475.6" r="1.1" fill="#2f86c6" stroke="#1f5c88" stroke-width="0.45"/>
<circle cx="85.8" cy="479.4" r="1.1" fill="#2f86c6" stroke="#1f5c88" stroke-width="0.45"/>
<circle cx="105.8" cy="481.3" r="1.1" fill="#2f86c6" stroke="#1f5c88" stroke-width="0.45"/>
<circle cx="99.4" cy="488.4" r="1.1" fill="#2f86c6" stroke="#1f5c88" stroke-width="0.45"/>
<circle cx="72.8" cy="518.1" r="1.1" fill="#2f86c6" stroke="#1f5c88" stroke-width="0.45"/>
<circle cx="217.1" cy="441.3" r="1.1" fill="#2f86c6" stroke="#1f5c88" stroke-width="0.45"/>
<circle cx="121.4" cy="491.7" r="1.1" fill="#2f86c6" stroke="#1f5c88" stroke-width="0.45"/>
<circle cx="92.4" cy="487.8" r="1.1" fill="#2f86c6" stroke="#1f5c88" stroke-width="0.45"/>
<circle cx="100.6" cy="514.3" r="1.1" fill="#2f86c6" stroke="#1f5c88" stroke-width="0.45"/>
<circle cx="75.8" cy="485.8" r="1.1" fill="#2f86c6" stroke="#1f5c88" stroke-width="0.45"/>
<circle cx="144.3" cy="438.3" r="1.1" fill="#2f86c6" stroke="#1f5c88" stroke-width="0.45"/>
<circle cx="115.3" cy="448.7" r="1.1" fill="#2f86c6" stroke="#1f5c88" stroke-width="0.45"/>
<circle cx="114.5" cy="485.4" r="1.1" fill="#2f86c6" stroke="#1f5c88" stroke-width="0.45"/>
<circle cx="116.7" cy="499.2" r="1.1" fill="#2f86c6" stroke="#1f5c88" stroke-width="0.45"/>
<circle cx="103.4" cy="516.7" r="1.1" fill="#2f86c6" stroke="#1f5c88" stroke-width="0.45"/>
<circle cx="97.3" cy="497.7" r="1.1" fill="#2f86c6" stroke="#1f5c88" stroke-width="0.45"/>
<circle cx="162.1" cy="480.5" r="1.1" fill="#2f86c6" stroke="#1f5c88" stroke-width="0.45"/>
<circle cx="93.0" cy="479.7" r="1.1" fill="#2f86c6" stroke="#1f5c88" stroke-width="0.45"/>
<circle cx="95.3" cy="484.2" r="1.1" fill="#2f86c6" stroke="#1f5c88" stroke-width="0.45"/>
<circle cx="110.3" cy="473.9" r="1.1" fill="#2f86c6" stroke="#1f5c88" stroke-width="0.45"/>
<circle cx="82.2" cy="487.3" r="1.1" fill="#2f86c6" stroke="#1f5c88" stroke-width="0.45"/>
<circle cx="78.4" cy="472.8" r="1.1" fill="#2f86c6" stroke="#1f5c88" stroke-width="0.45"/>
<circle cx="154.3" cy="497.9" r="1.1" fill="#2f86c6" stroke="#1f5c88" stroke-width="0.45"/>
<circle cx="111.3" cy="478.1" r="1.1" fill="#2f86c6" stroke="#1f5c88" stroke-width="0.45"/>
<circle cx="138.4" cy="469.3" r="1.1" fill="#2f86c6" stroke="#1f5c88" stroke-width="0.45"/>
<circle cx="88.9" cy="475.7" r="1.1" fill="#2f86c6" stroke="#1f5c88" stroke-width="0.45"/>
<circle cx="146.4" cy="477.9" r="1.1" fill="#2f86c6" stroke="#1f5c88" stroke-width="0.45"/>
<circle cx="117.2" cy="487.8" r="1.1" fill="#2f86c6" stroke="#1f5c88" stroke-width="0.45"/>
<circle cx="114.2" cy="477.2" r="1.1" fill="#2f86c6" stroke="#1f5c88" stroke-width="0.45"/>
<circle cx="75.5" cy="473.8" r="1.1" fill="#2f86c6" stroke="#1f5c88" stroke-width="0.45"/>
<circle cx="117.1" cy="504.7" r="1.1" fill="#2f86c6" stroke="#1f5c88" stroke-width="0.45"/>
<circle cx="104.7" cy="491.7" r="1.1" fill="#2f86c6" stroke="#1f5c88" stroke-width="0.45"/>
<circle cx="77.6" cy="508.0" r="1.1" fill="#2f86c6" stroke="#1f5c88" stroke-width="0.45"/>
<circle cx="122.0" cy="505.7" r="1.1" fill="#2f86c6" stroke="#1f5c88" stroke-width="0.45"/>
<circle cx="168.1" cy="486.3" r="1.1" fill="#2f86c6" stroke="#1f5c88" stroke-width="0.45"/>
<circle cx="82.2" cy="477.7" r="1.1" fill="#2f86c6" stroke="#1f5c88" stroke-width="0.45"/>
<circle cx="110.8" cy="483.3" r="1.1" fill="#2f86c6" stroke="#1f5c88" stroke-width="0.45"/>
<circle cx="90.8" cy="472.6" r="1.1" fill="#2f86c6" stroke="#1f5c88" stroke-width="0.45"/>
<circle cx="112.1" cy="459.8" r="1.1" fill="#2f86c6" stroke="#1f5c88" stroke-width="0.45"/>
<circle cx="138.1" cy="475.3" r="1.1" fill="#2f86c6" stroke="#1f5c88" stroke-width="0.45"/>
<circle cx="112.6" cy="441.2" r="1.1" fill="#2f86c6" stroke="#1f5c88" stroke-width="0.45"/>
<circle cx="130.5" cy="493.9" r="1.1" fill="#2f86c6" stroke="#1f5c88" stroke-width="0.45"/>
<circle cx="145.2" cy="494.0" r="1.1" fill="#2f86c6" stroke="#1f5c88" stroke-width="0.45"/>
<circle cx="115.8" cy="484.6" r="1.1" fill="#2f86c6" stroke="#1f5c88" stroke-width="0.45"/>
<circle cx="95.7" cy="495.6" r="1.1" fill="#2f86c6" stroke="#1f5c88" stroke-width="0.45"/>
<circle cx="123.3" cy="464.1" r="1.1" fill="#2f86c6" stroke="#1f5c88" stroke-width="0.45"/>
<circle cx="121.1" cy="450.8" r="1.1" fill="#2f86c6" stroke="#1f5c88" stroke-width="0.45"/>
<circle cx="136.4" cy="464.6" r="1.1" fill="#2f86c6" stroke="#1f5c88" stroke-width="0.45"/>
<circle cx="74.5" cy="499.8" r="1.1" fill="#2f86c6" stroke="#1f5c88" stroke-width="0.45"/>
<circle cx="144.2" cy="449.0" r="1.1" fill="#2f86c6" stroke="#1f5c88" stroke-width="0.45"/>
<circle cx="104.9" cy="468.6" r="1.1" fill="#2f86c6" stroke="#1f5c88" stroke-width="0.45"/>
<circle cx="91.5" cy="458.6" r="1.1" fill="#2f86c6" stroke="#1f5c88" stroke-width="0.45"/>
<circle cx="94.4" cy="485.2" r="1.1" fill="#2f86c6" stroke="#1f5c88" stroke-width="0.45"/>
<circle cx="133.6" cy="519.7" r="1.1" fill="#2f86c6" stroke="#1f5c88" stroke-width="0.45"/>
<circle cx="126.2" cy="472.7" r="1.1" fill="#2f86c6" stroke="#1f5c88" stroke-width="0.45"/>
<circle cx="152.2" cy="482.1" r="1.1" fill="#2f86c6" stroke="#1f5c88" stroke-width="0.45"/>
<circle cx="91.8" cy="487.0" r="1.1" fill="#2f86c6" stroke="#1f5c88" stroke-width="0.45"/>
<circle cx="180.4" cy="492.8" r="1.1" fill="#2f86c6" stroke="#1f5c88" stroke-width="0.45"/>
<circle cx="90.1" cy="510.9" r="1.1" fill="#2f86c6" stroke="#1f5c88" stroke-width="0.45"/>
<circle cx="115.1" cy="502.8" r="1.1" fill="#2f86c6" stroke="#1f5c88" stroke-width="0.45"/>
<circle cx="100.5" cy="504.4" r="1.1" fill="#2f86c6" stroke="#1f5c88" stroke-width="0.45"/>
<circle cx="90.8" cy="480.4" r="1.1" fill="#2f86c6" stroke="#1f5c88" stroke-width="0.45"/>
<circle cx="102.9" cy="490.1" r="1.1" fill="#2f86c6" stroke="#1f5c88" stroke-width="0.45"/>
<circle cx="76.0" cy="483.1" r="1.1" fill="#2f86c6" stroke="#1f5c88" stroke-width="0.45"/>
<circle cx="110.0" cy="453.3" r="1.1" fill="#2f86c6" stroke="#1f5c88" stroke-width="0.45"/>
<circle cx="70.7" cy="526.1" r="1.1" fill="#2f86c6" stroke="#1f5c88" stroke-width="0.45"/>
<circle cx="97.9" cy="504.3" r="1.1" fill="#2f86c6" stroke="#1f5c88" stroke-width="0.45"/>
<circle cx="84.2" cy="479.2" r="1.1" fill="#2f86c6" stroke="#1f5c88" stroke-width="0.45"/>
<circle cx="126.7" cy="463.6" r="1.1" fill="#2f86c6" stroke="#1f5c88" stroke-width="0.45"/>
<circle cx="110.2" cy="473.5" r="1.1" fill="#2f86c6" stroke="#1f5c88" stroke-width="0.45"/>
<circle cx="119.7" cy="504.2" r="1.1" fill="#2f86c6" stroke="#1f5c88" stroke-width="0.45"/>
<circle cx="111.0" cy="499.8" r="1.1" fill="#2f86c6" stroke="#1f5c88" stroke-width="0.45"/>
<circle cx="117.3" cy="448.6" r="1.1" fill="#2f86c6" stroke="#1f5c88" stroke-width="0.45"/>
<circle cx="101.1" cy="478.2" r="1.1" fill="#2f86c6" stroke="#1f5c88" stroke-width="0.45"/>
<circle cx="132.8" cy="453.7" r="1.1" fill="#2f86c6" stroke="#1f5c88" stroke-width="0.45"/>
<circle cx="163.3" cy="471.3" r="1.1" fill="#2f86c6" stroke="#1f5c88" stroke-width="0.45"/>
<circle cx="113.5" cy="456.7" r="1.1" fill="#2f86c6" stroke="#1f5c88" stroke-width="0.45"/>
<circle cx="111.4" cy="488.5" r="1.1" fill="#2f86c6" stroke="#1f5c88" stroke-width="0.45"/>
<circle cx="104.2" cy="486.1" r="1.1" fill="#2f86c6" stroke="#1f5c88" stroke-width="0.45"/>
<circle cx="79.8" cy="489.4" r="1.1" fill="#2f86c6" stroke="#1f5c88" stroke-width="0.45"/>
<circle cx="107.8" cy="503.8" r="1.1" fill="#2f86c6" stroke="#1f5c88" stroke-width="0.45"/>
<circle cx="114.4" cy="460.7" r="1.1" fill="#2f86c6" stroke="#1f5c88" stroke-width="0.45"/>
<circle cx="100.2" cy="475.6" r="1.1" fill="#2f86c6" stroke="#1f5c88" stroke-width="0.45"/>
<circle cx="118.0" cy="467.4" r="1.1" fill="#2f86c6" stroke="#1f5c88" stroke-width="0.45"/>
<circle cx="133.7" cy="482.9" r="1.1" fill="#2f86c6" stroke="#1f5c88" stroke-width="0.45"/>
<circle cx="88.8" cy="549.3" r="1.1" fill="#2f86c6" stroke="#1f5c88" stroke-width="0.45"/>
<circle cx="121.7" cy="503.3" r="1.1" fill="#2f86c6" stroke="#1f5c88" stroke-width="0.45"/>
<circle cx="127.2" cy="483.9" r="1.1" fill="#2f86c6" stroke="#1f5c88" stroke-width="0.45"/>
<circle cx="125.1" cy="480.6" r="1.1" fill="#2f86c6" stroke="#1f5c88" stroke-width="0.45"/>
<circle cx="125.7" cy="485.2" r="1.1" fill="#2f86c6" stroke="#1f5c88" stroke-width="0.45"/>
<circle cx="114.6" cy="499.6" r="1.1" fill="#2f86c6" stroke="#1f5c88" stroke-width="0.45"/>
<circle cx="90.8" cy="467.8" r="1.1" fill="#2f86c6" stroke="#1f5c88" stroke-width="0.45"/>
<circle cx="94.3" cy="500.1" r="1.1" fill="#2f86c6" stroke="#1f5c88" stroke-width="0.45"/>
<circle cx="121.8" cy="471.0" r="1.1" fill="#2f86c6" stroke="#1f5c88" stroke-width="0.45"/>
<circle cx="122.2" cy="467.2" r="1.1" fill="#2f86c6" stroke="#1f5c88" stroke-width="0.45"/>
<circle cx="139.9" cy="478.3" r="1.1" fill="#2f86c6" stroke="#1f5c88" stroke-width="0.45"/>
<circle cx="128.2" cy="480.1" r="1.1" fill="#2f86c6" stroke="#1f5c88" stroke-width="0.45"/>
<circle cx="79.6" cy="474.6" r="1.1" fill="#2f86c6" stroke="#1f5c88" stroke-width="0.45"/>
<circle cx="109.8" cy="458.2" r="1.1" fill="#2f86c6" stroke="#1f5c88" stroke-width="0.45"/>
<circle cx="90.2" cy="453.9" r="1.1" fill="#2f86c6" stroke="#1f5c88" stroke-width="0.45"/>
<circle cx="99.7" cy="466.5" r="1.1" fill="#2f86c6" stroke="#1f5c88" stroke-width="0.45"/>
<circle cx="124.4" cy="489.1" r="1.1" fill="#2f86c6" stroke="#1f5c88" stroke-width="0.45"/>
<circle cx="129.2" cy="480.9" r="1.1" fill="#2f86c6" stroke="#1f5c88" stroke-width="0.45"/>
<circle cx="193.6" cy="456.3" r="1.1" fill="#2f86c6" stroke="#1f5c88" stroke-width="0.45"/>
<circle cx="117.1" cy="511.6" r="1.1" fill="#2f86c6" stroke="#1f5c88" stroke-width="0.45"/>
<circle cx="93.6" cy="478.2" r="1.1" fill="#2f86c6" stroke="#1f5c88" stroke-width="0.45"/>
<circle cx="107.3" cy="442.7" r="1.1" fill="#2f86c6" stroke="#1f5c88" stroke-width="0.45"/>
<circle cx="115.5" cy="490.9" r="1.1" fill="#2f86c6" stroke="#1f5c88" stroke-width="0.45"/>
<circle cx="180.4" cy="492.0" r="1.1" fill="#2f86c6" stroke="#1f5c88" stroke-width="0.45"/>
<circle cx="79.9" cy="490.2" r="1.1" fill="#2f86c6" stroke="#1f5c88" stroke-width="0.45"/>
<circle cx="93.1" cy="476.5" r="1.1" fill="#2f86c6" stroke="#1f5c88" stroke-width="0.45"/>
<circle cx="128.6" cy="486.1" r="1.1" fill="#2f86c6" stroke="#1f5c88" stroke-width="0.45"/>
<circle cx="112.6" cy="482.3" r="1.1" fill="#2f86c6" stroke="#1f5c88" stroke-width="0.45"/>
<circle cx="108.6" cy="472.4" r="1.1" fill="#2f86c6" stroke="#1f5c88" stroke-width="0.45"/>
<circle cx="114.4" cy="461.3" r="1.1" fill="#2f86c6" stroke="#1f5c88" stroke-width="0.45"/>
<circle cx="91.3" cy="488.4" r="1.1" fill="#2f86c6" stroke="#1f5c88" stroke-width="0.45"/>
<circle cx="90.3" cy="496.2" r="1.1" fill="#2f86c6" stroke="#1f5c88" stroke-width="0.45"/>
<circle cx="83.3" cy="480.6" r="1.1" fill="#2f86c6" stroke="#1f5c88" stroke-width="0.45"/>
<circle cx="113.0" cy="502.5" r="1.1" fill="#2f86c6" stroke="#1f5c88" stroke-width="0.45"/>
<circle cx="152.8" cy="478.1" r="1.1" fill="#2f86c6" stroke="#1f5c88" stroke-width="0.45"/>
<circle cx="102.7" cy="485.0" r="1.1" fill="#2f86c6" stroke="#1f5c88" stroke-width="0.45"/>
<circle cx="108.6" cy="494.3" r="1.1" fill="#2f86c6" stroke="#1f5c88" stroke-width="0.45"/>
<circle cx="98.0" cy="504.4" r="1.1" fill="#2f86c6" stroke="#1f5c88" stroke-width="0.45"/>
<circle cx="110.0" cy="464.7" r="1.1" fill="#2f86c6" stroke="#1f5c88" stroke-width="0.45"/>
<circle cx="88.5" cy="463.8" r="1.1" fill="#2f86c6" stroke="#1f5c88" stroke-width="0.45"/>
<circle cx="75.7" cy="471.8" r="1.1" fill="#2f86c6" stroke="#1f5c88" stroke-width="0.45"/>
<circle cx="88.1" cy="515.7" r="1.1" fill="#2f86c6" stroke="#1f5c88" stroke-width="0.45"/>
<circle cx="102.2" cy="494.8" r="1.1" fill="#2f86c6" stroke="#1f5c88" stroke-width="0.45"/>
<circle cx="181.7" cy="463.9" r="1.1" fill="#2f86c6" stroke="#1f5c88" stroke-width="0.45"/>
<circle cx="117.1" cy="476.0" r="1.1" fill="#2f86c6" stroke="#1f5c88" stroke-width="0.45"/>
<circle cx="118.1" cy="481.1" r="1.1" fill="#2f86c6" stroke="#1f5c88" stroke-width="0.45"/>
<circle cx="119.1" cy="507.7" r="1.1" fill="#2f86c6" stroke="#1f5c88" stroke-width="0.45"/>
<circle cx="118.5" cy="491.8" r="1.1" fill="#2f86c6" stroke="#1f5c88" stroke-width="0.45"/>
<circle cx="112.2" cy="483.4" r="1.1" fill="#2f86c6" stroke="#1f5c88" stroke-width="0.45"/>
<circle cx="110.9" cy="468.8" r="1.1" fill="#2f86c6" stroke="#1f5c88" stroke-width="0.45"/>
<circle cx="95.3" cy="490.5" r="1.1" fill="#2f86c6" stroke="#1f5c88" stroke-width="0.45"/>
<circle cx="94.0" cy="490.6" r="1.1" fill="#2f86c6" stroke="#1f5c88" stroke-width="0.45"/>
<circle cx="73.3" cy="500.7" r="1.1" fill="#2f86c6" stroke="#1f5c88" stroke-width="0.45"/>
<circle cx="103.8" cy="449.7" r="1.1" fill="#2f86c6" stroke="#1f5c88" stroke-width="0.45"/>
<circle cx="124.7" cy="482.1" r="1.1" fill="#2f86c6" stroke="#1f5c88" stroke-width="0.45"/>
<circle cx="124.6" cy="482.3" r="1.1" fill="#2f86c6" stroke="#1f5c88" stroke-width="0.45"/>
<circle cx="123.5" cy="470.0" r="1.1" fill="#2f86c6" stroke="#1f5c88" stroke-width="0.45"/>
<circle cx="69.6" cy="479.3" r="1.1" fill="#2f86c6" stroke="#1f5c88" stroke-width="0.45"/>
<circle cx="68.6" cy="470.8" r="1.1" fill="#2f86c6" stroke="#1f5c88" stroke-width="0.45"/>
<circle cx="121.8" cy="488.6" r="1.1" fill="#2f86c6" stroke="#1f5c88" stroke-width="0.45"/>
<circle cx="128.9" cy="493.6" r="1.1" fill="#2f86c6" stroke="#1f5c88" stroke-width="0.45"/>
<circle cx="84.6" cy="503.5" r="1.1" fill="#2f86c6" stroke="#1f5c88" stroke-width="0.45"/>
<circle cx="123.4" cy="482.3" r="1.1" fill="#2f86c6" stroke="#1f5c88" stroke-width="0.45"/>
<circle cx="85.0" cy="500.9" r="1.1" fill="#2f86c6" stroke="#1f5c88" stroke-width="0.45"/>
<circle cx="68.1" cy="480.7" r="1.1" fill="#2f86c6" stroke="#1f5c88" stroke-width="0.45"/>
<circle cx="128.4" cy="462.4" r="1.1" fill="#2f86c6" stroke="#1f5c88" stroke-width="0.45"/>
<circle cx="120.2" cy="458.7" r="1.1" fill="#2f86c6" stroke="#1f5c88" stroke-width="0.45"/>
<circle cx="103.5" cy="478.6" r="1.1" fill="#2f86c6" stroke="#1f5c88" stroke-width="0.45"/>
<circle cx="105.0" cy="508.8" r="1.1" fill="#2f86c6" stroke="#1f5c88" stroke-width="0.45"/>
<circle cx="167.6" cy="442.8" r="1.1" fill="#2f86c6" stroke="#1f5c88" stroke-width="0.45"/>
<circle cx="125.6" cy="426.1" r="1.1" fill="#2f86c6" stroke="#1f5c88" stroke-width="0.45"/>
<circle cx="97.0" cy="481.5" r="1.1" fill="#2f86c6" stroke="#1f5c88" stroke-width="0.45"/>
<circle cx="123.1" cy="485.7" r="1.1" fill="#2f86c6" stroke="#1f5c88" stroke-width="0.45"/>
<circle cx="67.1" cy="481.3" r="1.1" fill="#2f86c6" stroke="#1f5c88" stroke-width="0.45"/>
<circle cx="108.5" cy="505.9" r="1.1" fill="#2f86c6" stroke="#1f5c88" stroke-width="0.45"/>
<circle cx="73.9" cy="481.3" r="1.1" fill="#2f86c6" stroke="#1f5c88" stroke-width="0.45"/>
<circle cx="144.0" cy="512.4" r="1.1" fill="#2f86c6" stroke="#1f5c88" stroke-width="0.45"/>
<circle cx="112.8" cy="478.0" r="1.1" fill="#2f86c6" stroke="#1f5c88" stroke-width="0.45"/>
<circle cx="69.2" cy="499.6" r="1.1" fill="#2f86c6" stroke="#1f5c88" stroke-width="0.45"/>
<circle cx="98.2" cy="443.7" r="1.1" fill="#2f86c6" stroke="#1f5c88" stroke-width="0.45"/>
<circle cx="79.4" cy="446.7" r="1.1" fill="#2f86c6" stroke="#1f5c88" stroke-width="0.45"/>
<circle cx="121.0" cy="451.5" r="1.1" fill="#2f86c6" stroke="#1f5c88" stroke-width="0.45"/>
<circle cx="100.1" cy="501.0" r="1.1" fill="#2f86c6" stroke="#1f5c88" stroke-width="0.45"/>
<circle cx="119.5" cy="477.4" r="1.1" fill="#2f86c6" stroke="#1f5c88" stroke-width="0.45"/>
<circle cx="105.4" cy="482.5" r="1.1" fill="#2f86c6" stroke="#1f5c88" stroke-width="0.45"/>
<circle cx="94.3" cy="473.1" r="1.1" fill="#2f86c6" stroke="#1f5c88" stroke-width="0.45"/>
<circle cx="97.9" cy="463.3" r="1.1" fill="#2f86c6" stroke="#1f5c88" stroke-width="0.45"/>
<circle cx="117.4" cy="442.9" r="1.1" fill="#2f86c6" stroke="#1f5c88" stroke-width="0.45"/>
<circle cx="135.4" cy="454.9" r="1.1" fill="#2f86c6" stroke="#1f5c88" stroke-width="0.45"/>
<circle cx="105.2" cy="450.5" r="1.1" fill="#2f86c6" stroke="#1f5c88" stroke-width="0.45"/>
<circle cx="140.4" cy="466.0" r="1.1" fill="#2f86c6" stroke="#1f5c88" stroke-width="0.45"/>
<circle cx="70.9" cy="483.1" r="1.1" fill="#2f86c6" stroke="#1f5c88" stroke-width="0.45"/>
<circle cx="98.4" cy="481.5" r="1.1" fill="#2f86c6" stroke="#1f5c88" stroke-width="0.45"/>
<circle cx="146.2" cy="489.0" r="1.1" fill="#2f86c6" stroke="#1f5c88" stroke-width="0.45"/>
<circle cx="83.5" cy="452.0" r="1.1" fill="#2f86c6" stroke="#1f5c88" stroke-width="0.45"/>
<circle cx="110.0" cy="457.0" r="1.1" fill="#2f86c6" stroke="#1f5c88" stroke-width="0.45"/>
<circle cx="117.5" cy="500.6" r="1.1" fill="#2f86c6" stroke="#1f5c88" stroke-width="0.45"/>
<circle cx="131.4" cy="467.9" r="1.1" fill="#2f86c6" stroke="#1f5c88" stroke-width="0.45"/>
<circle cx="124.0" cy="475.8" r="1.1" fill="#2f86c6" stroke="#1f5c88" stroke-width="0.45"/>
<circle cx="102.7" cy="509.0" r="1.1" fill="#2f86c6" stroke="#1f5c88" stroke-width="0.45"/>
<circle cx="74.5" cy="505.6" r="1.1" fill="#2f86c6" stroke="#1f5c88" stroke-width="0.45"/>
<circle cx="129.0" cy="472.9" r="1.1" fill="#2f86c6" stroke="#1f5c88" stroke-width="0.45"/>
<circle cx="121.6" cy="478.4" r="1.1" fill="#2f86c6" stroke="#1f5c88" stroke-width="0.45"/>
<circle cx="117.1" cy="486.7" r="1.1" fill="#2f86c6" stroke="#1f5c88" stroke-width="0.45"/>
<circle cx="100.2" cy="481.9" r="1.1" fill="#2f86c6" stroke="#1f5c88" stroke-width="0.45"/>
<circle cx="83.9" cy="510.3" r="1.1" fill="#2f86c6" stroke="#1f5c88" stroke-width="0.45"/>
<circle cx="137.6" cy="537.7" r="1.1" fill="#2f86c6" stroke="#1f5c88" stroke-width="0.45"/>
<circle cx="101.6" cy="494.2" r="1.1" fill="#2f86c6" stroke="#1f5c88" stroke-width="0.45"/>
<circle cx="101.1" cy="467.5" r="1.1" fill="#2f86c6" stroke="#1f5c88" stroke-width="0.45"/>
<circle cx="136.9" cy="450.7" r="1.1" fill="#2f86c6" stroke="#1f5c88" stroke-width="0.45"/>
<circle cx="103.9" cy="520.5" r="1.1" fill="#2f86c6" stroke="#1f5c88" stroke-width="0.45"/>
<circle cx="113.5" cy="486.4" r="1.1" fill="#2f86c6" stroke="#1f5c88" stroke-width="0.45"/>
<circle cx="118.0" cy="496.3" r="1.1" fill="#2f86c6" stroke="#1f5c88" stroke-width="0.45"/>
<circle cx="134.7" cy="498.0" r="1.1" fill="#2f86c6" stroke="#1f5c88" stroke-width="0.45"/>
<circle cx="121.3" cy="464.4" r="1.1" fill="#2f86c6" stroke="#1f5c88" stroke-width="0.45"/>
<circle cx="75.5" cy="523.8" r="1.1" fill="#2f86c6" stroke="#1f5c88" stroke-width="0.45"/>
<circle cx="136.3" cy="481.3" r="1.1" fill="#2f86c6" stroke="#1f5c88" stroke-width="0.45"/>
<circle cx="133.5" cy="489.0" r="1.1" fill="#2f86c6" stroke="#1f5c88" stroke-width="0.45"/>
<circle cx="172.1" cy="445.6" r="1.1" fill="#2f86c6" stroke="#1f5c88" stroke-width="0.45"/>
<circle cx="89.5" cy="490.0" r="1.1" fill="#2f86c6" stroke="#1f5c88" stroke-width="0.45"/>
<circle cx="92.4" cy="470.3" r="1.1" fill="#2f86c6" stroke="#1f5c88" stroke-width="0.45"/>
<circle cx="107.6" cy="479.6" r="1.1" fill="#2f86c6" stroke="#1f5c88" stroke-width="0.45"/>
<circle cx="84.2" cy="499.9" r="1.1" fill="#2f86c6" stroke="#1f5c88" stroke-width="0.45"/>
<circle cx="74.9" cy="480.4" r="1.1" fill="#2f86c6" stroke="#1f5c88" stroke-width="0.45"/>
<circle cx="156.9" cy="480.0" r="1.1" fill="#2f86c6" stroke="#1f5c88" stroke-width="0.45"/>
<circle cx="120.3" cy="495.0" r="1.1" fill="#2f86c6" stroke="#1f5c88" stroke-width="0.45"/>
<circle cx="124.7" cy="460.6" r="1.1" fill="#2f86c6" stroke="#1f5c88" stroke-width="0.45"/>
<circle cx="105.1" cy="486.0" r="1.1" fill="#2f86c6" stroke="#1f5c88" stroke-width="0.45"/>
<circle cx="180.9" cy="463.8" r="1.1" fill="#2f86c6" stroke="#1f5c88" stroke-width="0.45"/>
<circle cx="153.6" cy="483.1" r="1.1" fill="#2f86c6" stroke="#1f5c88" stroke-width="0.45"/>
<circle cx="126.1" cy="487.0" r="1.1" fill="#2f86c6" stroke="#1f5c88" stroke-width="0.45"/>
<circle cx="120.8" cy="493.9" r="1.1" fill="#2f86c6" stroke="#1f5c88" stroke-width="0.45"/>
<circle cx="163.3" cy="483.8" r="1.1" fill="#2f86c6" stroke="#1f5c88" stroke-width="0.45"/>
<circle cx="116.4" cy="476.9" r="1.1" fill="#2f86c6" stroke="#1f5c88" stroke-width="0.45"/>
<circle cx="117.4" cy="490.6" r="1.1" fill="#2f86c6" stroke="#1f5c88" stroke-width="0.45"/>
<circle cx="162.9" cy="504.8" r="1.1" fill="#2f86c6" stroke="#1f5c88" stroke-width="0.45"/>
<circle cx="110.3" cy="465.0" r="1.1" fill="#2f86c6" stroke="#1f5c88" stroke-width="0.45"/>
<circle cx="77.3" cy="476.9" r="1.1" fill="#2f86c6" stroke="#1f5c88" stroke-width="0.45"/>
<circle cx="107.4" cy="491.3" r="1.1" fill="#2f86c6" stroke="#1f5c88" stroke-width="0.45"/>
<circle cx="114.2" cy="476.5" r="1.1" fill="#2f86c6" stroke="#1f5c88" stroke-width="0.45"/>
<circle cx="121.8" cy="463.8" r="1.1" fill="#2f86c6" stroke="#1f5c88" stroke-width="0.45"/>
<circle cx="67.5" cy="502.1" r="1.1" fill="#2f86c6" stroke="#1f5c88" stroke-width="0.45"/>
<circle cx="133.5" cy="486.6" r="1.1" fill="#2f86c6" stroke="#1f5c88" stroke-width="0.45"/>
<circle cx="141.5" cy="452.8" r="1.1" fill="#2f86c6" stroke="#1f5c88" stroke-width="0.45"/>
<circle cx="73.5" cy="481.8" r="1.1" fill="#2f86c6" stroke="#1f5c88" stroke-width="0.45"/>
<circle cx="118.2" cy="532.9" r="1.1" fill="#2f86c6" stroke="#1f5c88" stroke-width="0.45"/>
<circle cx="130.9" cy="458.7" r="1.1" fill="#2f86c6" stroke="#1f5c88" stroke-width="0.45"/>
<circle cx="74.3" cy="488.4" r="1.1" fill="#2f86c6" stroke="#1f5c88" stroke-width="0.45"/>
<circle cx="138.7" cy="478.5" r="1.1" fill="#2f86c6" stroke="#1f5c88" stroke-width="0.45"/>
<circle cx="114.4" cy="450.4" r="1.1" fill="#2f86c6" stroke="#1f5c88" stroke-width="0.45"/>
<circle cx="147.1" cy="439.0" r="1.1" fill="#2f86c6" stroke="#1f5c88" stroke-width="0.45"/>
<circle cx="87.6" cy="471.1" r="1.1" fill="#2f86c6" stroke="#1f5c88" stroke-width="0.45"/>
<circle cx="116.3" cy="500.8" r="1.1" fill="#2f86c6" stroke="#1f5c88" stroke-width="0.45"/>
<circle cx="107.1" cy="512.7" r="1.1" fill="#2f86c6" stroke="#1f5c88" stroke-width="0.45"/>
<circle cx="115.2" cy="528.2" r="1.1" fill="#2f86c6" stroke="#1f5c88" stroke-width="0.45"/>
<circle cx="98.0" cy="454.1" r="1.1" fill="#2f86c6" stroke="#1f5c88" stroke-width="0.45"/>
<circle cx="147.4" cy="455.2" r="1.1" fill="#2f86c6" stroke="#1f5c88" stroke-width="0.45"/>
<circle cx="134.1" cy="499.2" r="1.1" fill="#2f86c6" stroke="#1f5c88" stroke-width="0.45"/>
<circle cx="122.5" cy="490.9" r="1.1" fill="#2f86c6" stroke="#1f5c88" stroke-width="0.45"/>
<circle cx="90.6" cy="484.3" r="1.1" fill="#2f86c6" stroke="#1f5c88" stroke-width="0.45"/>
<circle cx="100.4" cy="463.1" r="1.1" fill="#2f86c6" stroke="#1f5c88" stroke-width="0.45"/>
<circle cx="133.9" cy="473.2" r="1.1" fill="#2f86c6" stroke="#1f5c88" stroke-width="0.45"/>
<circle cx="92.4" cy="545.2" r="1.1" fill="#2f86c6" stroke="#1f5c88" stroke-width="0.45"/>
<circle cx="125.0" cy="469.4" r="1.1" fill="#2f86c6" stroke="#1f5c88" stroke-width="0.45"/>
<circle cx="89.9" cy="497.7" r="1.1" fill="#2f86c6" stroke="#1f5c88" stroke-width="0.45"/>
<circle cx="70.6" cy="501.5" r="1.1" fill="#2f86c6" stroke="#1f5c88" stroke-width="0.45"/>
<circle cx="66.8" cy="463.4" r="1.1" fill="#2f86c6" stroke="#1f5c88" stroke-width="0.45"/>
<circle cx="137.1" cy="490.9" r="1.1" fill="#2f86c6" stroke="#1f5c88" stroke-width="0.45"/>
<circle cx="114.8" cy="486.4" r="1.1" fill="#2f86c6" stroke="#1f5c88" stroke-width="0.45"/>
<circle cx="119.9" cy="482.8" r="1.1" fill="#2f86c6" stroke="#1f5c88" stroke-width="0.45"/>
<circle cx="79.8" cy="513.7" r="1.1" fill="#2f86c6" stroke="#1f5c88" stroke-width="0.45"/>
<circle cx="124.8" cy="482.4" r="1.1" fill="#2f86c6" stroke="#1f5c88" stroke-width="0.45"/>
<circle cx="119.6" cy="464.0" r="1.1" fill="#2f86c6" stroke="#1f5c88" stroke-width="0.45"/>
<circle cx="79.7" cy="494.3" r="1.1" fill="#2f86c6" stroke="#1f5c88" stroke-width="0.45"/>
<circle cx="72.0" cy="509.3" r="1.1" fill="#2f86c6" stroke="#1f5c88" stroke-width="0.45"/>
<circle cx="186.1" cy="477.7" r="1.1" fill="#2f86c6" stroke="#1f5c88" stroke-width="0.45"/>
<circle cx="92.0" cy="482.1" r="1.1" fill="#2f86c6" stroke="#1f5c88" stroke-width="0.45"/>
<circle cx="106.2" cy="472.5" r="1.1" fill="#2f86c6" stroke="#1f5c88" stroke-width="0.45"/>
<circle cx="105.8" cy="487.5" r="1.1" fill="#2f86c6" stroke="#1f5c88" stroke-width="0.45"/>
<circle cx="94.8" cy="468.1" r="1.1" fill="#2f86c6" stroke="#1f5c88" stroke-width="0.45"/>
<circle cx="99.6" cy="507.6" r="1.1" fill="#2f86c6" stroke="#1f5c88" stroke-width="0.45"/>
<circle cx="83.5" cy="487.4" r="1.1" fill="#2f86c6" stroke="#1f5c88" stroke-width="0.45"/>
<circle cx="112.3" cy="479.8" r="1.1" fill="#2f86c6" stroke="#1f5c88" stroke-width="0.45"/>
<circle cx="81.4" cy="501.1" r="1.1" fill="#2f86c6" stroke="#1f5c88" stroke-width="0.45"/>
<circle cx="90.2" cy="491.8" r="1.1" fill="#2f86c6" stroke="#1f5c88" stroke-width="0.45"/>
<circle cx="76.0" cy="473.4" r="1.1" fill="#2f86c6" stroke="#1f5c88" stroke-width="0.45"/>
<circle cx="96.3" cy="481.0" r="1.1" fill="#2f86c6" stroke="#1f5c88" stroke-width="0.45"/>
<circle cx="132.3" cy="490.3" r="1.1" fill="#2f86c6" stroke="#1f5c88" stroke-width="0.45"/>
<circle cx="98.1" cy="482.6" r="1.1" fill="#2f86c6" stroke="#1f5c88" stroke-width="0.45"/>
<circle cx="127.9" cy="492.1" r="1.1" fill="#2f86c6" stroke="#1f5c88" stroke-width="0.45"/>
<circle cx="73.4" cy="467.9" r="1.1" fill="#2f86c6" stroke="#1f5c88" stroke-width="0.45"/>
<circle cx="131.7" cy="500.3" r="1.1" fill="#2f86c6" stroke="#1f5c88" stroke-width="0.45"/>
<circle cx="120.9" cy="480.2" r="1.1" fill="#2f86c6" stroke="#1f5c88" stroke-width="0.45"/>
<circle cx="108.2" cy="474.1" r="1.1" fill="#2f86c6" stroke="#1f5c88" stroke-width="0.45"/>
<circle cx="109.8" cy="516.5" r="1.1" fill="#2f86c6" stroke="#1f5c88" stroke-width="0.45"/>
<circle cx="82.2" cy="474.5" r="1.1" fill="#2f86c6" stroke="#1f5c88" stroke-width="0.45"/>
<circle cx="140.1" cy="459.4" r="1.1" fill="#2f86c6" stroke="#1f5c88" stroke-width="0.45"/>
<circle cx="86.1" cy="499.5" r="1.1" fill="#2f86c6" stroke="#1f5c88" stroke-width="0.45"/>
<circle cx="157.0" cy="458.9" r="1.1" fill="#2f86c6" stroke="#1f5c88" stroke-width="0.45"/>
<circle cx="95.8" cy="472.5" r="1.1" fill="#2f86c6" stroke="#1f5c88" stroke-width="0.45"/>
<circle cx="121.5" cy="479.0" r="1.1" fill="#2f86c6" stroke="#1f5c88" stroke-width="0.45"/>
<circle cx="119.9" cy="465.9" r="1.1" fill="#2f86c6" stroke="#1f5c88" stroke-width="0.45"/>
<circle cx="91.9" cy="456.9" r="1.1" fill="#2f86c6" stroke="#1f5c88" stroke-width="0.45"/>
<circle cx="93.5" cy="478.4" r="1.1" fill="#2f86c6" stroke="#1f5c88" stroke-width="0.45"/>
<circle cx="118.0" cy="457.7" r="1.1" fill="#2f86c6" stroke="#1f5c88" stroke-width="0.45"/>
<circle cx="106.0" cy="507.2" r="1.1" fill="#2f86c6" stroke="#1f5c88" stroke-width="0.45"/>
<circle cx="92.5" cy="488.7" r="1.1" fill="#2f86c6" stroke="#1f5c88" stroke-width="0.45"/>
<circle cx="94.8" cy="506.3" r="1.1" fill="#2f86c6" stroke="#1f5c88" stroke-width="0.45"/>
<circle cx="127.5" cy="492.5" r="1.1" fill="#2f86c6" stroke="#1f5c88" stroke-width="0.45"/>
<circle cx="96.6" cy="443.1" r="1.1" fill="#2f86c6" stroke="#1f5c88" stroke-width="0.45"/>
<circle cx="166.3" cy="471.0" r="1.1" fill="#2f86c6" stroke="#1f5c88" stroke-width="0.45"/>
<circle cx="136.9" cy="474.3" r="1.1" fill="#2f86c6" stroke="#1f5c88" stroke-width="0.45"/>
<circle cx="85.2" cy="459.6" r="1.1" fill="#2f86c6" stroke="#1f5c88" stroke-width="0.45"/>
<circle cx="89.3" cy="472.6" r="1.1" fill="#2f86c6" stroke="#1f5c88" stroke-width="0.45"/>
<circle cx="93.4" cy="486.7" r="1.1" fill="#2f86c6" stroke="#1f5c88" stroke-width="0.45"/>
<circle cx="129.8" cy="478.5" r="1.1" fill="#2f86c6" stroke="#1f5c88" stroke-width="0.45"/>
<circle cx="108.7" cy="472.0" r="1.1" fill="#2f86c6" stroke="#1f5c88" stroke-width="0.45"/>
<circle cx="126.4" cy="466.9" r="1.1" fill="#2f86c6" stroke="#1f5c88" stroke-width="0.45"/>
<circle cx="106.7" cy="505.1" r="1.1" fill="#2f86c6" stroke="#1f5c88" stroke-width="0.45"/>
<circle cx="101.3" cy="479.6" r="1.1" fill="#2f86c6" stroke="#1f5c88" stroke-width="0.45"/>
<circle cx="102.2" cy="483.2" r="1.1" fill="#2f86c6" stroke="#1f5c88" stroke-width="0.45"/>
<circle cx="105.6" cy="481.2" r="1.1" fill="#2f86c6" stroke="#1f5c88" stroke-width="0.45"/>
<circle cx="100.5" cy="477.7" r="1.1" fill="#2f86c6" stroke="#1f5c88" stroke-width="0.45"/>
<circle cx="109.7" cy="508.1" r="1.1" fill="#2f86c6" stroke="#1f5c88" stroke-width="0.45"/>
<circle cx="167.3" cy="515.6" r="1.1" fill="#2f86c6" stroke="#1f5c88" stroke-width="0.45"/>
<circle cx="114.4" cy="488.4" r="1.1" fill="#2f86c6" stroke="#1f5c88" stroke-width="0.45"/>
<circle cx="82.4" cy="479.8" r="1.1" fill="#2f86c6" stroke="#1f5c88" stroke-width="0.45"/>
<circle cx="80.1" cy="507.6" r="1.1" fill="#2f86c6" stroke="#1f5c88" stroke-width="0.45"/>
<circle cx="67.7" cy="513.6" r="1.1" fill="#2f86c6" stroke="#1f5c88" stroke-width="0.45"/>
<circle cx="84.8" cy="472.8" r="1.1" fill="#2f86c6" stroke="#1f5c88" stroke-width="0.45"/>
<circle cx="112.2" cy="441.3" r="1.1" fill="#2f86c6" stroke="#1f5c88" stroke-width="0.45"/>
<circle cx="84.0" cy="502.3" r="1.1" fill="#2f86c6" stroke="#1f5c88" stroke-width="0.45"/>
<circle cx="70.1" cy="469.0" r="1.1" fill="#2f86c6" stroke="#1f5c88" stroke-width="0.45"/>
<circle cx="68.6" cy="493.2" r="1.1" fill="#2f86c6" stroke="#1f5c88" stroke-width="0.45"/>
<circle cx="95.7" cy="481.3" r="1.1" fill="#2f86c6" stroke="#1f5c88" stroke-width="0.45"/>
<circle cx="117.4" cy="497.5" r="1.1" fill="#2f86c6" stroke="#1f5c88" stroke-width="0.45"/>
<circle cx="79.4" cy="496.0" r="1.1" fill="#2f86c6" stroke="#1f5c88" stroke-width="0.45"/>
<circle cx="115.2" cy="464.8" r="1.1" fill="#2f86c6" stroke="#1f5c88" stroke-width="0.45"/>
<circle cx="130.6" cy="489.4" r="1.1" fill="#2f86c6" stroke="#1f5c88" stroke-width="0.45"/>
<circle cx="129.6" cy="462.8" r="1.1" fill="#2f86c6" stroke="#1f5c88" stroke-width="0.45"/>
<circle cx="98.2" cy="475.5" r="1.1" fill="#2f86c6" stroke="#1f5c88" stroke-width="0.45"/>
<circle cx="114.0" cy="447.1" r="1.1" fill="#2f86c6" stroke="#1f5c88" stroke-width="0.45"/>
<circle cx="72.2" cy="495.7" r="1.1" fill="#2f86c6" stroke="#1f5c88" stroke-width="0.45"/>
<circle cx="72.0" cy="511.6" r="1.1" fill="#2f86c6" stroke="#1f5c88" stroke-width="0.45"/>
<circle cx="119.7" cy="466.1" r="1.1" fill="#2f86c6" stroke="#1f5c88" stroke-width="0.45"/>
<circle cx="75.5" cy="511.4" r="1.1" fill="#2f86c6" stroke="#1f5c88" stroke-width="0.45"/>
<circle cx="91.7" cy="507.1" r="1.1" fill="#2f86c6" stroke="#1f5c88" stroke-width="0.45"/>
<circle cx="127.3" cy="472.0" r="1.1" fill="#2f86c6" stroke="#1f5c88" stroke-width="0.45"/>
<circle cx="118.2" cy="486.2" r="1.1" fill="#2f86c6" stroke="#1f5c88" stroke-width="0.45"/>
<circle cx="66.3" cy="486.0" r="1.1" fill="#2f86c6" stroke="#1f5c88" stroke-width="0.45"/>
<circle cx="69.4" cy="513.5" r="1.1" fill="#2f86c6" stroke="#1f5c88" stroke-width="0.45"/>
<circle cx="107.5" cy="479.4" r="1.1" fill="#2f86c6" stroke="#1f5c88" stroke-width="0.45"/>
<circle cx="89.0" cy="488.0" r="1.1" fill="#2f86c6" stroke="#1f5c88" stroke-width="0.45"/>
<circle cx="105.7" cy="467.1" r="1.1" fill="#2f86c6" stroke="#1f5c88" stroke-width="0.45"/>
<circle cx="136.4" cy="493.2" r="1.1" fill="#2f86c6" stroke="#1f5c88" stroke-width="0.45"/>
<circle cx="107.8" cy="464.3" r="1.1" fill="#2f86c6" stroke="#1f5c88" stroke-width="0.45"/>
<circle cx="68.7" cy="497.2" r="1.1" fill="#2f86c6" stroke="#1f5c88" stroke-width="0.45"/>
<circle cx="110.3" cy="476.1" r="1.1" fill="#2f86c6" stroke="#1f5c88" stroke-width="0.45"/>
<circle cx="100.0" cy="500.7" r="1.1" fill="#2f86c6" stroke="#1f5c88" stroke-width="0.45"/>
<circle cx="86.3" cy="450.5" r="1.1" fill="#2f86c6" stroke="#1f5c88" stroke-width="0.45"/>
<circle cx="97.3" cy="478.9" r="1.1" fill="#2f86c6" stroke="#1f5c88" stroke-width="0.45"/>
<circle cx="149.8" cy="470.4" r="1.1" fill="#2f86c6" stroke="#1f5c88" stroke-width="0.45"/>
<circle cx="95.8" cy="502.7" r="1.1" fill="#2f86c6" stroke="#1f5c88" stroke-width="0.45"/>
<circle cx="153.1" cy="475.1" r="1.1" fill="#2f86c6" stroke="#1f5c88" stroke-width="0.45"/>
<circle cx="96.9" cy="486.0" r="1.1" fill="#2f86c6" stroke="#1f5c88" stroke-width="0.45"/>
<circle cx="85.3" cy="492.0" r="1.1" fill="#2f86c6" stroke="#1f5c88" stroke-width="0.45"/>
<circle cx="128.9" cy="451.4" r="1.1" fill="#2f86c6" stroke="#1f5c88" stroke-width="0.45"/>
<circle cx="115.0" cy="489.9" r="1.1" fill="#2f86c6" stroke="#1f5c88" stroke-width="0.45"/>
<circle cx="114.7" cy="499.4" r="1.1" fill="#2f86c6" stroke="#1f5c88" stroke-width="0.45"/>
<circle cx="134.0" cy="456.5" r="1.1" fill="#2f86c6" stroke="#1f5c88" stroke-width="0.45"/>
<circle cx="122.7" cy="481.8" r="1.1" fill="#2f86c6" stroke="#1f5c88" stroke-width="0.45"/>
<circle cx="139.8" cy="472.0" r="1.1" fill="#2f86c6" stroke="#1f5c88" stroke-width="0.45"/>
<circle cx="80.1" cy="510.5" r="1.1" fill="#2f86c6" stroke="#1f5c88" stroke-width="0.45"/>
<circle cx="131.8" cy="487.8" r="1.1" fill="#2f86c6" stroke="#1f5c88" stroke-width="0.45"/>
<circle cx="101.4" cy="477.0" r="1.1" fill="#2f86c6" stroke="#1f5c88" stroke-width="0.45"/>
<circle cx="121.8" cy="478.0" r="1.1" fill="#2f86c6" stroke="#1f5c88" stroke-width="0.45"/>
<circle cx="132.8" cy="444.6" r="1.1" fill="#2f86c6" stroke="#1f5c88" stroke-width="0.45"/>
<circle cx="101.4" cy="497.7" r="1.1" fill="#2f86c6" stroke="#1f5c88" stroke-width="0.45"/>
<circle cx="82.3" cy="482.4" r="1.1" fill="#2f86c6" stroke="#1f5c88" stroke-width="0.45"/>
<circle cx="127.3" cy="453.2" r="1.1" fill="#2f86c6" stroke="#1f5c88" stroke-width="0.45"/>
<circle cx="121.3" cy="486.8" r="1.1" fill="#2f86c6" stroke="#1f5c88" stroke-width="0.45"/>
<circle cx="65.5" cy="495.1" r="1.1" fill="#2f86c6" stroke="#1f5c88" stroke-width="0.45"/>
<circle cx="108.4" cy="492.0" r="1.1" fill="#2f86c6" stroke="#1f5c88" stroke-width="0.45"/>
<circle cx="75.6" cy="499.1" r="1.1" fill="#2f86c6" stroke="#1f5c88" stroke-width="0.45"/>
<circle cx="118.5" cy="459.6" r="1.1" fill="#2f86c6" stroke="#1f5c88" stroke-width="0.45"/>
<circle cx="120.2" cy="496.9" r="1.1" fill="#2f86c6" stroke="#1f5c88" stroke-width="0.45"/>
<circle cx="141.6" cy="494.0" r="1.1" fill="#2f86c6" stroke="#1f5c88" stroke-width="0.45"/>
<circle cx="94.9" cy="498.6" r="1.1" fill="#2f86c6" stroke="#1f5c88" stroke-width="0.45"/>
<circle cx="113.6" cy="484.2" r="1.1" fill="#2f86c6" stroke="#1f5c88" stroke-width="0.45"/>
<circle cx="101.0" cy="491.0" r="1.1" fill="#2f86c6" stroke="#1f5c88" stroke-width="0.45"/>
<circle cx="101.5" cy="486.0" r="1.1" fill="#2f86c6" stroke="#1f5c88" stroke-width="0.45"/>
<circle cx="119.9" cy="468.2" r="1.1" fill="#2f86c6" stroke="#1f5c88" stroke-width="0.45"/>
<circle cx="116.8" cy="495.2" r="1.1" fill="#2f86c6" stroke="#1f5c88" stroke-width="0.45"/>
<circle cx="114.4" cy="488.9" r="1.1" fill="#2f86c6" stroke="#1f5c88" stroke-width="0.45"/>
<circle cx="65.0" cy="487.4" r="1.1" fill="#2f86c6" stroke="#1f5c88" stroke-width="0.45"/>
<circle cx="93.3" cy="500.6" r="1.1" fill="#2f86c6" stroke="#1f5c88" stroke-width="0.45"/>
<circle cx="90.0" cy="482.1" r="1.1" fill="#2f86c6" stroke="#1f5c88" stroke-width="0.45"/>
<circle cx="76.1" cy="485.1" r="1.1" fill="#2f86c6" stroke="#1f5c88" stroke-width="0.45"/>
<circle cx="106.4" cy="477.1" r="1.1" fill="#2f86c6" stroke="#1f5c88" stroke-width="0.45"/>
<circle cx="120.0" cy="518.9" r="1.1" fill="#2f86c6" stroke="#1f5c88" stroke-width="0.45"/>
<circle cx="103.1" cy="461.9" r="1.1" fill="#2f86c6" stroke="#1f5c88" stroke-width="0.45"/>
<circle cx="175.3" cy="466.8" r="1.1" fill="#2f86c6" stroke="#1f5c88" stroke-width="0.45"/>
<circle cx="109.7" cy="471.9" r="1.1" fill="#2f86c6" stroke="#1f5c88" stroke-width="0.45"/>
<circle cx="76.0" cy="449.9" r="1.1" fill="#2f86c6" stroke="#1f5c88" stroke-width="0.45"/>
<circle cx="116.6" cy="489.5" r="1.1" fill="#2f86c6" stroke="#1f5c88" stroke-width="0.45"/>
<circle cx="101.6" cy="478.2" r="1.1" fill="#2f86c6" stroke="#1f5c88" stroke-width="0.45"/>
<circle cx="112.0" cy="460.8" r="1.1" fill="#2f86c6" stroke="#1f5c88" stroke-width="0.45"/>
<circle cx="135.3" cy="480.2" r="1.1" fill="#2f86c6" stroke="#1f5c88" stroke-width="0.45"/>
<circle cx="140.4" cy="521.5" r="1.1" fill="#2f86c6" stroke="#1f5c88" stroke-width="0.45"/>
<circle cx="98.5" cy="474.1" r="1.1" fill="#2f86c6" stroke="#1f5c88" stroke-width="0.45"/>
<circle cx="84.8" cy="503.6" r="1.1" fill="#2f86c6" stroke="#1f5c88" stroke-width="0.45"/>
<circle cx="152.5" cy="454.5" r="1.1" fill="#2f86c6" stroke="#1f5c88" stroke-width="0.45"/>
<circle cx="129.1" cy="487.5" r="1.1" fill="#2f86c6" stroke="#1f5c88" stroke-width="0.45"/>
<circle cx="107.6" cy="445.1" r="1.1" fill="#2f86c6" stroke="#1f5c88" stroke-width="0.45"/>
<circle cx="186.1" cy="445.1" r="1.1" fill="#2f86c6" stroke="#1f5c88" stroke-width="0.45"/>
<circle cx="117.7" cy="474.3" r="1.1" fill="#2f86c6" stroke="#1f5c88" stroke-width="0.45"/>
<circle cx="89.4" cy="507.4" r="1.1" fill="#2f86c6" stroke="#1f5c88" stroke-width="0.45"/>
<circle cx="94.3" cy="502.9" r="1.1" fill="#2f86c6" stroke="#1f5c88" stroke-width="0.45"/>
<circle cx="104.6" cy="488.1" r="1.1" fill="#2f86c6" stroke="#1f5c88" stroke-width="0.45"/>
<circle cx="166.5" cy="463.3" r="1.1" fill="#2f86c6" stroke="#1f5c88" stroke-width="0.45"/>
<circle cx="75.1" cy="488.0" r="1.1" fill="#2f86c6" stroke="#1f5c88" stroke-width="0.45"/>
<circle cx="76.1" cy="490.3" r="1.1" fill="#2f86c6" stroke="#1f5c88" stroke-width="0.45"/>
<circle cx="86.8" cy="477.4" r="1.1" fill="#2f86c6" stroke="#1f5c88" stroke-width="0.45"/>
<circle cx="101.3" cy="480.4" r="1.1" fill="#2f86c6" stroke="#1f5c88" stroke-width="0.45"/>
<circle cx="111.7" cy="482.3" r="1.1" fill="#2f86c6" stroke="#1f5c88" stroke-width="0.45"/>
<circle cx="72.0" cy="447.2" r="1.1" fill="#2f86c6" stroke="#1f5c88" stroke-width="0.45"/>
<circle cx="89.6" cy="479.2" r="1.1" fill="#2f86c6" stroke="#1f5c88" stroke-width="0.45"/>
<circle cx="101.3" cy="462.8" r="1.1" fill="#2f86c6" stroke="#1f5c88" stroke-width="0.45"/>
<circle cx="143.3" cy="472.6" r="1.1" fill="#2f86c6" stroke="#1f5c88" stroke-width="0.45"/>
<circle cx="126.7" cy="477.0" r="1.1" fill="#2f86c6" stroke="#1f5c88" stroke-width="0.45"/>
<circle cx="107.6" cy="504.4" r="1.1" fill="#2f86c6" stroke="#1f5c88" stroke-width="0.45"/>
<circle cx="119.4" cy="499.6" r="1.1" fill="#2f86c6" stroke="#1f5c88" stroke-width="0.45"/>
<circle cx="75.5" cy="479.3" r="1.1" fill="#2f86c6" stroke="#1f5c88" stroke-width="0.45"/>
<circle cx="117.8" cy="492.6" r="1.1" fill="#2f86c6" stroke="#1f5c88" stroke-width="0.45"/>
<circle cx="123.9" cy="481.9" r="1.1" fill="#2f86c6" stroke="#1f5c88" stroke-width="0.45"/>
<circle cx="98.3" cy="481.9" r="1.1" fill="#2f86c6" stroke="#1f5c88" stroke-width="0.45"/>
<circle cx="144.5" cy="445.9" r="1.1" fill="#2f86c6" stroke="#1f5c88" stroke-width="0.45"/>
<circle cx="154.0" cy="464.3" r="1.1" fill="#2f86c6" stroke="#1f5c88" stroke-width="0.45"/>
<circle cx="90.1" cy="481.1" r="1.1" fill="#2f86c6" stroke="#1f5c88" stroke-width="0.45"/>
<circle cx="96.7" cy="477.3" r="1.1" fill="#2f86c6" stroke="#1f5c88" stroke-width="0.45"/>
<circle cx="70.8" cy="495.0" r="1.1" fill="#2f86c6" stroke="#1f5c88" stroke-width="0.45"/>
<circle cx="114.3" cy="437.5" r="1.1" fill="#2f86c6" stroke="#1f5c88" stroke-width="0.45"/>
<circle cx="112.8" cy="482.0" r="1.1" fill="#2f86c6" stroke="#1f5c88" stroke-width="0.45"/>
<circle cx="100.4" cy="503.2" r="1.1" fill="#2f86c6" stroke="#1f5c88" stroke-width="0.45"/>
<circle cx="75.2" cy="522.8" r="1.1" fill="#2f86c6" stroke="#1f5c88" stroke-width="0.45"/>
<circle cx="103.5" cy="459.3" r="1.1" fill="#2f86c6" stroke="#1f5c88" stroke-width="0.45"/>
<circle cx="98.4" cy="487.1" r="1.1" fill="#2f86c6" stroke="#1f5c88" stroke-width="0.45"/>
<circle cx="116.3" cy="479.0" r="1.1" fill="#2f86c6" stroke="#1f5c88" stroke-width="0.45"/>
<circle cx="108.6" cy="488.2" r="1.1" fill="#2f86c6" stroke="#1f5c88" stroke-width="0.45"/>
<circle cx="110.8" cy="475.7" r="1.1" fill="#2f86c6" stroke="#1f5c88" stroke-width="0.45"/>
<circle cx="97.1" cy="462.6" r="1.1" fill="#2f86c6" stroke="#1f5c88" stroke-width="0.45"/>
<circle cx="114.2" cy="473.7" r="1.1" fill="#2f86c6" stroke="#1f5c88" stroke-width="0.45"/>
<circle cx="91.1" cy="505.9" r="1.1" fill="#2f86c6" stroke="#1f5c88" stroke-width="0.45"/>
<circle cx="112.8" cy="487.7" r="1.1" fill="#2f86c6" stroke="#1f5c88" stroke-width="0.45"/>
<circle cx="115.3" cy="491.4" r="1.1" fill="#2f86c6" stroke="#1f5c88" stroke-width="0.45"/>
<circle cx="98.8" cy="468.5" r="1.1" fill="#2f86c6" stroke="#1f5c88" stroke-width="0.45"/>
<circle cx="85.4" cy="473.3" r="1.1" fill="#2f86c6" stroke="#1f5c88" stroke-width="0.45"/>
<circle cx="87.1" cy="489.6" r="1.1" fill="#2f86c6" stroke="#1f5c88" stroke-width="0.45"/>
<circle cx="113.2" cy="485.8" r="1.1" fill="#2f86c6" stroke="#1f5c88" stroke-width="0.45"/>
<circle cx="121.1" cy="499.5" r="1.1" fill="#2f86c6" stroke="#1f5c88" stroke-width="0.45"/>
<circle cx="126.9" cy="458.5" r="1.1" fill="#2f86c6" stroke="#1f5c88" stroke-width="0.45"/>
<circle cx="116.4" cy="486.2" r="1.1" fill="#2f86c6" stroke="#1f5c88" stroke-width="0.45"/>
<circle cx="101.4" cy="476.9" r="1.1" fill="#2f86c6" stroke="#1f5c88" stroke-width="0.45"/>
<circle cx="204.0" cy="484.3" r="1.1" fill="#2f86c6" stroke="#1f5c88" stroke-width="0.45"/>
<circle cx="93.6" cy="455.8" r="1.1" fill="#2f86c6" stroke="#1f5c88" stroke-width="0.45"/>
<circle cx="95.8" cy="465.4" r="1.1" fill="#2f86c6" stroke="#1f5c88" stroke-width="0.45"/>
<circle cx="107.4" cy="462.0" r="1.1" fill="#2f86c6" stroke="#1f5c88" stroke-width="0.45"/>
<circle cx="110.3" cy="472.9" r="1.1" fill="#2f86c6" stroke="#1f5c88" stroke-width="0.45"/>
<circle cx="124.1" cy="484.5" r="1.1" fill="#2f86c6" stroke="#1f5c88" stroke-width="0.45"/>
<circle cx="136.8" cy="441.9" r="1.1" fill="#2f86c6" stroke="#1f5c88" stroke-width="0.45"/>
<circle cx="99.1" cy="461.7" r="1.1" fill="#2f86c6" stroke="#1f5c88" stroke-width="0.45"/>
<circle cx="115.1" cy="462.5" r="1.1" fill="#2f86c6" stroke="#1f5c88" stroke-width="0.45"/>
<circle cx="105.9" cy="490.0" r="1.1" fill="#2f86c6" stroke="#1f5c88" stroke-width="0.45"/>
<circle cx="105.0" cy="495.5" r="1.1" fill="#2f86c6" stroke="#1f5c88" stroke-width="0.45"/>
<circle cx="95.6" cy="468.5" r="1.1" fill="#2f86c6" stroke="#1f5c88" stroke-width="0.45"/>
<circle cx="107.3" cy="453.7" r="1.1" fill="#2f86c6" stroke="#1f5c88" stroke-width="0.45"/>
<circle cx="95.5" cy="470.4" r="1.1" fill="#2f86c6" stroke="#1f5c88" stroke-width="0.45"/>
<circle cx="72.2" cy="504.8" r="1.1" fill="#2f86c6" stroke="#1f5c88" stroke-width="0.45"/>
<circle cx="88.3" cy="470.5" r="1.1" fill="#2f86c6" stroke="#1f5c88" stroke-width="0.45"/>
<circle cx="121.6" cy="463.0" r="1.1" fill="#2f86c6" stroke="#1f5c88" stroke-width="0.45"/>
<circle cx="119.4" cy="473.9" r="1.1" fill="#2f86c6" stroke="#1f5c88" stroke-width="0.45"/>
<circle cx="203.6" cy="463.1" r="1.1" fill="#2f86c6" stroke="#1f5c88" stroke-width="0.45"/>
<circle cx="204.0" cy="463.4" r="1.1" fill="#2f86c6" stroke="#1f5c88" stroke-width="0.45"/>
<circle cx="235.5" cy="479.5" r="1.1" fill="#2f86c6" stroke="#1f5c88" stroke-width="0.45"/>
<circle cx="217.6" cy="480.9" r="1.1" fill="#2f86c6" stroke="#1f5c88" stroke-width="0.45"/>
<circle cx="240.4" cy="449.8" r="1.1" fill="#2f86c6" stroke="#1f5c88" stroke-width="0.45"/>
<circle cx="240.7" cy="467.3" r="1.1" fill="#2f86c6" stroke="#1f5c88" stroke-width="0.45"/>
<circle cx="157.7" cy="489.3" r="1.1" fill="#2f86c6" stroke="#1f5c88" stroke-width="0.45"/>
<circle cx="185.2" cy="469.4" r="1.1" fill="#2f86c6" stroke="#1f5c88" stroke-width="0.45"/>
<circle cx="180.8" cy="442.1" r="1.1" fill="#2f86c6" stroke="#1f5c88" stroke-width="0.45"/>
<circle cx="221.8" cy="472.9" r="1.1" fill="#2f86c6" stroke="#1f5c88" stroke-width="0.45"/>
<circle cx="212.8" cy="488.8" r="1.1" fill="#2f86c6" stroke="#1f5c88" stroke-width="0.45"/>
<circle cx="226.4" cy="487.2" r="1.1" fill="#2f86c6" stroke="#1f5c88" stroke-width="0.45"/>
<circle cx="132.2" cy="402.2" r="1.1" fill="#2f86c6" stroke="#1f5c88" stroke-width="0.45"/>
<circle cx="115.4" cy="582.2" r="1.1" fill="#2f86c6" stroke="#1f5c88" stroke-width="0.45"/>
<circle cx="242.5" cy="454.6" r="1.1" fill="#2f86c6" stroke="#1f5c88" stroke-width="0.45"/>
<circle cx="242.8" cy="459.0" r="1.1" fill="#2f86c6" stroke="#1f5c88" stroke-width="0.45"/>
<circle cx="242.5" cy="463.7" r="1.1" fill="#2f86c6" stroke="#1f5c88" stroke-width="0.45"/>
<circle cx="380.4" cy="501.6" r="1.75" fill="#bebebe"/>
<circle cx="362.9" cy="462.7" r="1.75" fill="#bebebe"/>
<circle cx="372.6" cy="464.0" r="1.75" fill="#bebebe"/>
<circle cx="366.3" cy="467.0" r="1.75" fill="#bebebe"/>
<circle cx="352.5" cy="512.5" r="1.75" fill="#bebebe"/>
<circle cx="375.1" cy="467.6" r="1.75" fill="#bebebe"/>
<circle cx="370.7" cy="511.0" r="1.75" fill="#bebebe"/>
<circle cx="370.5" cy="472.1" r="1.75" fill="#bebebe"/>
<circle cx="347.5" cy="487.3" r="1.75" fill="#bebebe"/>
<circle cx="375.5" cy="480.6" r="1.75" fill="#bebebe"/>
<circle cx="395.8" cy="472.4" r="1.75" fill="#bebebe"/>
<circle cx="367.7" cy="467.5" r="1.75" fill="#bebebe"/>
<circle cx="364.7" cy="465.3" r="1.75" fill="#bebebe"/>
<circle cx="367.2" cy="465.5" r="1.75" fill="#bebebe"/>
<circle cx="339.1" cy="474.6" r="1.75" fill="#bebebe"/>
<circle cx="361.8" cy="487.7" r="1.75" fill="#bebebe"/>
<circle cx="368.2" cy="467.5" r="1.75" fill="#bebebe"/>
<circle cx="368.3" cy="464.2" r="1.75" fill="#bebebe"/>
<circle cx="360.6" cy="478.4" r="1.75" fill="#bebebe"/>
<circle cx="388.5" cy="492.5" r="1.75" fill="#bebebe"/>
<circle cx="362.0" cy="475.0" r="1.75" fill="#bebebe"/>
<circle cx="358.3" cy="471.5" r="1.75" fill="#bebebe"/>
<circle cx="366.4" cy="467.5" r="1.75" fill="#bebebe"/>
<circle cx="354.5" cy="511.1" r="1.75" fill="#bebebe"/>
<circle cx="345.1" cy="468.4" r="1.75" fill="#bebebe"/>
<circle cx="390.8" cy="528.2" r="1.75" fill="#bebebe"/>
<circle cx="360.1" cy="451.7" r="1.75" fill="#bebebe"/>
<circle cx="340.9" cy="479.8" r="1.75" fill="#bebebe"/>
<circle cx="356.3" cy="490.2" r="1.75" fill="#bebebe"/>
<circle cx="366.8" cy="452.8" r="1.75" fill="#bebebe"/>
<circle cx="371.3" cy="513.2" r="1.75" fill="#bebebe"/>
<circle cx="367.7" cy="496.2" r="1.75" fill="#bebebe"/>
<circle cx="371.7" cy="498.7" r="1.75" fill="#bebebe"/>
<circle cx="380.2" cy="502.9" r="1.75" fill="#bebebe"/>
<circle cx="367.6" cy="484.7" r="1.75" fill="#bebebe"/>
<circle cx="398.5" cy="463.6" r="1.75" fill="#bebebe"/>
<circle cx="345.7" cy="486.6" r="1.75" fill="#bebebe"/>
<circle cx="377.1" cy="503.7" r="1.75" fill="#bebebe"/>
<circle cx="369.5" cy="490.5" r="1.75" fill="#bebebe"/>
<circle cx="367.6" cy="479.3" r="1.75" fill="#bebebe"/>
<circle cx="356.2" cy="486.6" r="1.75" fill="#bebebe"/>
<circle cx="380.6" cy="493.3" r="1.75" fill="#bebebe"/>
<circle cx="385.6" cy="470.2" r="1.75" fill="#bebebe"/>
<circle cx="338.2" cy="468.7" r="1.75" fill="#bebebe"/>
<circle cx="360.2" cy="495.5" r="1.75" fill="#bebebe"/>
<circle cx="344.0" cy="456.8" r="1.75" fill="#bebebe"/>
<circle cx="378.9" cy="475.2" r="1.75" fill="#bebebe"/>
<circle cx="368.9" cy="493.0" r="1.75" fill="#bebebe"/>
<circle cx="355.1" cy="462.9" r="1.75" fill="#bebebe"/>
<circle cx="371.8" cy="427.4" r="1.75" fill="#bebebe"/>
<circle cx="356.4" cy="505.8" r="1.75" fill="#bebebe"/>
<circle cx="358.7" cy="478.7" r="1.75" fill="#bebebe"/>
<circle cx="358.3" cy="499.3" r="1.75" fill="#bebebe"/>
<circle cx="354.3" cy="485.9" r="1.75" fill="#bebebe"/>
<circle cx="367.8" cy="504.7" r="1.75" fill="#bebebe"/>
<circle cx="379.3" cy="460.8" r="1.75" fill="#bebebe"/>
<circle cx="393.5" cy="480.3" r="1.75" fill="#bebebe"/>
<circle cx="363.9" cy="510.8" r="1.75" fill="#bebebe"/>
<circle cx="340.8" cy="505.3" r="1.75" fill="#bebebe"/>
<circle cx="340.6" cy="475.0" r="1.75" fill="#bebebe"/>
<circle cx="377.3" cy="497.0" r="1.75" fill="#bebebe"/>
<circle cx="372.8" cy="453.1" r="1.75" fill="#bebebe"/>
<circle cx="364.4" cy="438.9" r="1.75" fill="#bebebe"/>
<circle cx="354.7" cy="431.2" r="1.75" fill="#bebebe"/>
<circle cx="377.4" cy="471.0" r="1.75" fill="#bebebe"/>
<circle cx="342.0" cy="479.7" r="1.75" fill="#bebebe"/>
<circle cx="365.7" cy="437.9" r="1.75" fill="#bebebe"/>
<circle cx="368.6" cy="506.2" r="1.75" fill="#bebebe"/>
<circle cx="375.1" cy="483.1" r="1.75" fill="#bebebe"/>
<circle cx="379.4" cy="477.9" r="1.75" fill="#bebebe"/>
<circle cx="363.2" cy="475.9" r="1.75" fill="#bebebe"/>
<circle cx="366.7" cy="471.3" r="1.75" fill="#bebebe"/>
<circle cx="349.4" cy="494.6" r="1.75" fill="#bebebe"/>
<circle cx="391.1" cy="494.6" r="1.75" fill="#bebebe"/>
<circle cx="326.4" cy="475.4" r="1.75" fill="#bebebe"/>
<circle cx="335.4" cy="454.9" r="1.75" fill="#bebebe"/>
<circle cx="368.2" cy="471.0" r="1.75" fill="#bebebe"/>
<circle cx="362.9" cy="501.3" r="1.75" fill="#bebebe"/>
<circle cx="360.7" cy="494.5" r="1.75" fill="#bebebe"/>
<circle cx="345.7" cy="502.6" r="1.75" fill="#bebebe"/>
<circle cx="365.1" cy="497.6" r="1.75" fill="#bebebe"/>
<circle cx="386.9" cy="473.5" r="1.75" fill="#bebebe"/>
<circle cx="361.1" cy="467.7" r="1.75" fill="#bebebe"/>
<circle cx="344.2" cy="508.7" r="1.75" fill="#bebebe"/>
<circle cx="350.5" cy="485.7" r="1.75" fill="#bebebe"/>
<circle cx="365.0" cy="486.2" r="1.75" fill="#bebebe"/>
<circle cx="373.1" cy="520.6" r="1.75" fill="#bebebe"/>
<circle cx="361.4" cy="492.7" r="1.75" fill="#bebebe"/>
<circle cx="336.8" cy="489.2" r="1.75" fill="#bebebe"/>
<circle cx="343.2" cy="479.6" r="1.75" fill="#bebebe"/>
<circle cx="380.1" cy="456.2" r="1.75" fill="#bebebe"/>
<circle cx="348.4" cy="495.2" r="1.75" fill="#bebebe"/>
<circle cx="361.7" cy="494.2" r="1.75" fill="#bebebe"/>
<circle cx="356.8" cy="493.6" r="1.75" fill="#bebebe"/>
<circle cx="383.4" cy="473.9" r="1.75" fill="#bebebe"/>
<circle cx="361.1" cy="486.6" r="1.75" fill="#bebebe"/>
<circle cx="364.5" cy="463.6" r="1.75" fill="#bebebe"/>
<circle cx="328.8" cy="502.1" r="1.75" fill="#bebebe"/>
<circle cx="371.5" cy="485.8" r="1.75" fill="#bebebe"/>
<circle cx="374.8" cy="490.0" r="1.75" fill="#bebebe"/>
<circle cx="380.9" cy="498.7" r="1.75" fill="#bebebe"/>
<circle cx="377.4" cy="480.5" r="1.75" fill="#bebebe"/>
<circle cx="345.4" cy="488.4" r="1.75" fill="#bebebe"/>
<circle cx="352.5" cy="522.5" r="1.75" fill="#bebebe"/>
<circle cx="345.7" cy="491.9" r="1.75" fill="#bebebe"/>
<circle cx="361.8" cy="441.3" r="1.75" fill="#bebebe"/>
<circle cx="362.2" cy="490.8" r="1.75" fill="#bebebe"/>
<circle cx="373.4" cy="500.8" r="1.75" fill="#bebebe"/>
<circle cx="357.3" cy="461.6" r="1.75" fill="#bebebe"/>
<circle cx="383.2" cy="476.8" r="1.75" fill="#bebebe"/>
<circle cx="359.9" cy="479.1" r="1.75" fill="#bebebe"/>
<circle cx="353.4" cy="463.5" r="1.75" fill="#bebebe"/>
<circle cx="380.7" cy="473.2" r="1.75" fill="#bebebe"/>
<circle cx="356.6" cy="495.1" r="1.75" fill="#bebebe"/>
<circle cx="336.9" cy="486.4" r="1.75" fill="#bebebe"/>
<circle cx="378.6" cy="510.8" r="1.75" fill="#bebebe"/>
<circle cx="342.3" cy="479.1" r="1.75" fill="#bebebe"/>
<circle cx="357.0" cy="495.3" r="1.75" fill="#bebebe"/>
<circle cx="358.8" cy="508.3" r="1.75" fill="#bebebe"/>
<circle cx="352.4" cy="474.1" r="1.75" fill="#bebebe"/>
<circle cx="360.8" cy="466.5" r="1.75" fill="#bebebe"/>
<circle cx="392.1" cy="469.4" r="1.75" fill="#bebebe"/>
<circle cx="386.7" cy="445.1" r="1.75" fill="#bebebe"/>
<circle cx="385.5" cy="484.9" r="1.75" fill="#bebebe"/>
<circle cx="337.6" cy="486.1" r="1.75" fill="#bebebe"/>
<circle cx="359.5" cy="499.9" r="1.75" fill="#bebebe"/>
<circle cx="365.0" cy="483.5" r="1.75" fill="#bebebe"/>
<circle cx="346.0" cy="473.0" r="1.75" fill="#bebebe"/>
<circle cx="364.9" cy="512.6" r="1.75" fill="#bebebe"/>
<circle cx="395.9" cy="502.4" r="1.75" fill="#bebebe"/>
<circle cx="345.4" cy="454.7" r="1.75" fill="#bebebe"/>
<circle cx="366.1" cy="449.5" r="1.75" fill="#bebebe"/>
<circle cx="379.0" cy="499.1" r="1.75" fill="#bebebe"/>
<circle cx="374.2" cy="458.8" r="1.75" fill="#bebebe"/>
<circle cx="360.0" cy="478.4" r="1.75" fill="#bebebe"/>
<circle cx="367.1" cy="519.8" r="1.75" fill="#bebebe"/>
<circle cx="352.6" cy="470.8" r="1.75" fill="#bebebe"/>
<circle cx="359.3" cy="480.6" r="1.75" fill="#bebebe"/>
<circle cx="379.9" cy="492.2" r="1.75" fill="#bebebe"/>
<circle cx="375.9" cy="514.2" r="1.75" fill="#bebebe"/>
<circle cx="347.4" cy="472.4" r="1.75" fill="#bebebe"/>
<circle cx="364.0" cy="490.8" r="1.75" fill="#bebebe"/>
<circle cx="368.5" cy="522.4" r="1.75" fill="#bebebe"/>
<circle cx="333.9" cy="476.4" r="1.75" fill="#bebebe"/>
<circle cx="368.8" cy="501.1" r="1.75" fill="#bebebe"/>
<circle cx="355.1" cy="439.0" r="1.75" fill="#bebebe"/>
<circle cx="334.9" cy="482.2" r="1.75" fill="#bebebe"/>
<circle cx="368.8" cy="466.7" r="1.75" fill="#bebebe"/>
<circle cx="371.4" cy="495.1" r="1.75" fill="#bebebe"/>
<circle cx="394.5" cy="469.6" r="1.75" fill="#bebebe"/>
<circle cx="354.0" cy="489.7" r="1.75" fill="#bebebe"/>
<circle cx="354.9" cy="475.0" r="1.75" fill="#bebebe"/>
<circle cx="346.3" cy="496.2" r="1.75" fill="#bebebe"/>
<circle cx="350.5" cy="494.2" r="1.75" fill="#bebebe"/>
<circle cx="343.3" cy="481.4" r="1.75" fill="#bebebe"/>
<circle cx="356.1" cy="498.2" r="1.75" fill="#bebebe"/>
<circle cx="358.5" cy="479.2" r="1.75" fill="#bebebe"/>
<circle cx="368.1" cy="503.6" r="1.75" fill="#bebebe"/>
<circle cx="342.2" cy="491.7" r="1.75" fill="#bebebe"/>
<circle cx="373.3" cy="486.9" r="1.75" fill="#bebebe"/>
<circle cx="383.3" cy="442.7" r="1.75" fill="#bebebe"/>
<circle cx="382.1" cy="483.3" r="1.75" fill="#bebebe"/>
<circle cx="360.8" cy="504.1" r="1.75" fill="#bebebe"/>
<circle cx="345.8" cy="482.3" r="1.75" fill="#bebebe"/>
<circle cx="402.6" cy="457.3" r="1.75" fill="#bebebe"/>
<circle cx="379.7" cy="493.1" r="1.75" fill="#bebebe"/>
<circle cx="385.5" cy="497.3" r="1.75" fill="#bebebe"/>
<circle cx="358.9" cy="470.7" r="1.75" fill="#bebebe"/>
<circle cx="356.8" cy="510.2" r="1.75" fill="#bebebe"/>
<circle cx="371.5" cy="516.5" r="1.75" fill="#bebebe"/>
<circle cx="365.1" cy="472.2" r="1.75" fill="#bebebe"/>
<circle cx="374.1" cy="466.6" r="1.75" fill="#bebebe"/>
<circle cx="351.7" cy="474.3" r="1.75" fill="#bebebe"/>
<circle cx="367.6" cy="485.9" r="1.75" fill="#bebebe"/>
<circle cx="368.2" cy="480.1" r="1.75" fill="#bebebe"/>
<circle cx="378.4" cy="458.9" r="1.75" fill="#bebebe"/>
<circle cx="375.2" cy="484.4" r="1.75" fill="#bebebe"/>
<circle cx="357.5" cy="454.5" r="1.75" fill="#bebebe"/>
<circle cx="358.0" cy="502.6" r="1.75" fill="#bebebe"/>
<circle cx="374.8" cy="486.0" r="1.75" fill="#bebebe"/>
<circle cx="363.5" cy="486.0" r="1.75" fill="#bebebe"/>
<circle cx="375.4" cy="480.9" r="1.75" fill="#bebebe"/>
<circle cx="368.2" cy="468.2" r="1.75" fill="#bebebe"/>
<circle cx="365.7" cy="501.3" r="1.75" fill="#bebebe"/>
<circle cx="376.6" cy="493.4" r="1.75" fill="#bebebe"/>
<circle cx="346.7" cy="451.4" r="1.75" fill="#bebebe"/>
<circle cx="345.0" cy="468.8" r="1.75" fill="#bebebe"/>
<circle cx="352.9" cy="471.8" r="1.75" fill="#bebebe"/>
<circle cx="365.5" cy="494.4" r="1.75" fill="#bebebe"/>
<circle cx="361.0" cy="478.8" r="1.75" fill="#bebebe"/>
<circle cx="371.1" cy="473.6" r="1.75" fill="#bebebe"/>
<circle cx="382.8" cy="475.0" r="1.75" fill="#bebebe"/>
<circle cx="385.4" cy="494.9" r="1.75" fill="#bebebe"/>
<circle cx="345.6" cy="463.4" r="1.75" fill="#bebebe"/>
<circle cx="350.0" cy="495.4" r="1.75" fill="#bebebe"/>
<circle cx="361.1" cy="492.7" r="1.75" fill="#bebebe"/>
<circle cx="339.8" cy="466.8" r="1.75" fill="#bebebe"/>
<circle cx="391.8" cy="495.2" r="1.75" fill="#bebebe"/>
<circle cx="361.6" cy="484.1" r="1.75" fill="#bebebe"/>
<circle cx="375.0" cy="506.6" r="1.75" fill="#bebebe"/>
<circle cx="354.2" cy="489.4" r="1.75" fill="#bebebe"/>
<circle cx="334.5" cy="482.8" r="1.75" fill="#bebebe"/>
<circle cx="378.0" cy="483.1" r="1.75" fill="#bebebe"/>
<circle cx="373.1" cy="507.7" r="1.75" fill="#bebebe"/>
<circle cx="344.6" cy="453.5" r="1.75" fill="#bebebe"/>
<circle cx="371.2" cy="489.7" r="1.75" fill="#bebebe"/>
<circle cx="350.2" cy="446.3" r="1.75" fill="#bebebe"/>
<circle cx="370.9" cy="479.4" r="1.75" fill="#bebebe"/>
<circle cx="356.1" cy="462.4" r="1.75" fill="#bebebe"/>
<circle cx="373.3" cy="506.9" r="1.75" fill="#bebebe"/>
<circle cx="379.5" cy="480.2" r="1.75" fill="#bebebe"/>
<circle cx="397.3" cy="509.3" r="1.75" fill="#bebebe"/>
<circle cx="372.0" cy="502.0" r="1.75" fill="#bebebe"/>
<circle cx="371.2" cy="462.7" r="1.75" fill="#bebebe"/>
<circle cx="342.1" cy="478.6" r="1.75" fill="#bebebe"/>
<circle cx="350.7" cy="512.2" r="1.75" fill="#bebebe"/>
<circle cx="363.6" cy="457.4" r="1.75" fill="#bebebe"/>
<circle cx="362.2" cy="425.4" r="1.75" fill="#bebebe"/>
<circle cx="337.1" cy="465.0" r="1.75" fill="#bebebe"/>
<circle cx="368.0" cy="470.6" r="1.75" fill="#bebebe"/>
<circle cx="374.0" cy="493.0" r="1.75" fill="#bebebe"/>
<circle cx="372.1" cy="478.3" r="1.75" fill="#bebebe"/>
<circle cx="387.0" cy="474.3" r="1.75" fill="#bebebe"/>
<circle cx="371.9" cy="486.8" r="1.75" fill="#bebebe"/>
<circle cx="346.0" cy="503.7" r="1.75" fill="#bebebe"/>
<circle cx="374.1" cy="482.0" r="1.75" fill="#bebebe"/>
<circle cx="379.6" cy="488.1" r="1.75" fill="#bebebe"/>
<circle cx="381.8" cy="486.0" r="1.75" fill="#bebebe"/>
<circle cx="371.1" cy="510.5" r="1.75" fill="#bebebe"/>
<circle cx="349.0" cy="482.2" r="1.75" fill="#bebebe"/>
<circle cx="352.8" cy="469.9" r="1.75" fill="#bebebe"/>
<circle cx="336.5" cy="476.8" r="1.75" fill="#bebebe"/>
<circle cx="362.8" cy="473.6" r="1.75" fill="#bebebe"/>
<circle cx="368.0" cy="481.4" r="1.75" fill="#bebebe"/>
<circle cx="347.7" cy="474.7" r="1.75" fill="#bebebe"/>
<circle cx="359.7" cy="476.9" r="1.75" fill="#bebebe"/>
<circle cx="358.8" cy="510.0" r="1.75" fill="#bebebe"/>
<circle cx="373.0" cy="500.7" r="1.75" fill="#bebebe"/>
<circle cx="354.6" cy="483.2" r="1.75" fill="#bebebe"/>
<circle cx="350.8" cy="469.9" r="1.75" fill="#bebebe"/>
<circle cx="400.3" cy="467.1" r="1.75" fill="#bebebe"/>
<circle cx="359.6" cy="504.9" r="1.75" fill="#bebebe"/>
<circle cx="372.7" cy="486.3" r="1.75" fill="#bebebe"/>
<circle cx="348.4" cy="474.4" r="1.75" fill="#bebebe"/>
<circle cx="361.5" cy="474.4" r="1.75" fill="#bebebe"/>
<circle cx="364.6" cy="462.5" r="1.75" fill="#bebebe"/>
<circle cx="369.6" cy="478.5" r="1.75" fill="#bebebe"/>
<circle cx="340.4" cy="498.9" r="1.75" fill="#bebebe"/>
<circle cx="352.4" cy="501.2" r="1.75" fill="#bebebe"/>
<circle cx="394.3" cy="505.9" r="1.75" fill="#bebebe"/>
<circle cx="345.3" cy="506.6" r="1.75" fill="#bebebe"/>
<circle cx="381.6" cy="482.2" r="1.75" fill="#bebebe"/>
<circle cx="349.1" cy="489.3" r="1.75" fill="#bebebe"/>
<circle cx="382.2" cy="507.2" r="1.75" fill="#bebebe"/>
<circle cx="378.3" cy="476.5" r="1.75" fill="#bebebe"/>
<circle cx="364.5" cy="519.6" r="1.75" fill="#bebebe"/>
<circle cx="381.3" cy="467.1" r="1.75" fill="#bebebe"/>
<circle cx="361.3" cy="484.2" r="1.75" fill="#bebebe"/>
<circle cx="343.9" cy="485.4" r="1.75" fill="#bebebe"/>
<circle cx="374.9" cy="462.8" r="1.75" fill="#bebebe"/>
<circle cx="383.7" cy="478.6" r="1.75" fill="#bebebe"/>
<circle cx="360.7" cy="462.0" r="1.75" fill="#bebebe"/>
<circle cx="361.1" cy="494.8" r="1.75" fill="#bebebe"/>
<circle cx="338.5" cy="490.2" r="1.75" fill="#bebebe"/>
<circle cx="374.1" cy="484.5" r="1.75" fill="#bebebe"/>
<circle cx="390.0" cy="481.6" r="1.75" fill="#bebebe"/>
<circle cx="367.1" cy="460.6" r="1.75" fill="#bebebe"/>
<circle cx="352.7" cy="460.1" r="1.75" fill="#bebebe"/>
<circle cx="367.8" cy="504.8" r="1.75" fill="#bebebe"/>
<circle cx="359.4" cy="484.3" r="1.75" fill="#bebebe"/>
<circle cx="363.2" cy="488.6" r="1.75" fill="#bebebe"/>
<circle cx="339.0" cy="477.6" r="1.75" fill="#bebebe"/>
<circle cx="374.2" cy="481.1" r="1.75" fill="#bebebe"/>
<circle cx="385.1" cy="454.3" r="1.75" fill="#bebebe"/>
<circle cx="363.1" cy="481.6" r="1.75" fill="#bebebe"/>
<circle cx="362.4" cy="493.6" r="1.75" fill="#bebebe"/>
<circle cx="354.0" cy="495.2" r="1.75" fill="#bebebe"/>
<circle cx="366.3" cy="492.9" r="1.75" fill="#bebebe"/>
<circle cx="360.3" cy="490.0" r="1.75" fill="#bebebe"/>
<circle cx="376.2" cy="485.6" r="1.75" fill="#bebebe"/>
<circle cx="394.0" cy="490.6" r="1.75" fill="#bebebe"/>
<circle cx="400.1" cy="498.7" r="1.75" fill="#bebebe"/>
<circle cx="380.0" cy="492.8" r="1.75" fill="#bebebe"/>
<circle cx="352.1" cy="501.6" r="1.75" fill="#bebebe"/>
<circle cx="371.4" cy="508.5" r="1.75" fill="#bebebe"/>
<circle cx="365.6" cy="484.6" r="1.75" fill="#bebebe"/>
<circle cx="379.8" cy="457.4" r="1.75" fill="#bebebe"/>
<circle cx="350.3" cy="507.0" r="1.75" fill="#bebebe"/>
<circle cx="343.2" cy="461.6" r="1.75" fill="#bebebe"/>
<circle cx="363.3" cy="489.1" r="1.75" fill="#bebebe"/>
<circle cx="358.3" cy="468.8" r="1.75" fill="#bebebe"/>
<circle cx="396.8" cy="456.2" r="1.75" fill="#bebebe"/>
<circle cx="372.3" cy="458.1" r="1.75" fill="#bebebe"/>
<circle cx="370.9" cy="506.7" r="1.75" fill="#bebebe"/>
<circle cx="344.6" cy="493.0" r="1.75" fill="#bebebe"/>
<circle cx="339.6" cy="504.8" r="1.75" fill="#bebebe"/>
<circle cx="332.8" cy="483.0" r="1.75" fill="#bebebe"/>
<circle cx="364.6" cy="496.2" r="1.75" fill="#bebebe"/>
<circle cx="372.0" cy="487.1" r="1.75" fill="#bebebe"/>
<circle cx="379.7" cy="500.2" r="1.75" fill="#bebebe"/>
<circle cx="346.7" cy="488.8" r="1.75" fill="#bebebe"/>
<circle cx="361.7" cy="486.2" r="1.75" fill="#bebebe"/>
<circle cx="370.8" cy="479.5" r="1.75" fill="#bebebe"/>
<circle cx="384.2" cy="482.2" r="1.75" fill="#bebebe"/>
<circle cx="367.3" cy="482.6" r="1.75" fill="#bebebe"/>
<circle cx="352.9" cy="460.8" r="1.75" fill="#bebebe"/>
<circle cx="363.4" cy="488.9" r="1.75" fill="#bebebe"/>
<circle cx="322.6" cy="461.5" r="1.75" fill="#bebebe"/>
<circle cx="349.9" cy="476.3" r="1.75" fill="#bebebe"/>
<circle cx="389.2" cy="482.7" r="1.75" fill="#bebebe"/>
<circle cx="355.2" cy="450.7" r="1.75" fill="#bebebe"/>
<circle cx="386.8" cy="511.4" r="1.75" fill="#bebebe"/>
<circle cx="378.1" cy="460.2" r="1.75" fill="#bebebe"/>
<circle cx="361.7" cy="520.8" r="1.75" fill="#bebebe"/>
<circle cx="342.3" cy="518.4" r="1.75" fill="#bebebe"/>
<circle cx="356.0" cy="490.8" r="1.75" fill="#bebebe"/>
<circle cx="389.6" cy="497.4" r="1.75" fill="#bebebe"/>
<circle cx="345.2" cy="521.0" r="1.75" fill="#bebebe"/>
<circle cx="366.5" cy="485.1" r="1.75" fill="#bebebe"/>
<circle cx="350.0" cy="499.2" r="1.75" fill="#bebebe"/>
<circle cx="372.5" cy="467.4" r="1.75" fill="#bebebe"/>
<circle cx="372.0" cy="517.1" r="1.75" fill="#bebebe"/>
<circle cx="341.9" cy="483.7" r="1.75" fill="#bebebe"/>
<circle cx="387.9" cy="481.6" r="1.75" fill="#bebebe"/>
<circle cx="356.6" cy="451.9" r="1.75" fill="#bebebe"/>
<circle cx="352.7" cy="501.8" r="1.75" fill="#bebebe"/>
<circle cx="356.4" cy="487.7" r="1.75" fill="#bebebe"/>
<circle cx="365.4" cy="514.2" r="1.75" fill="#bebebe"/>
<circle cx="348.7" cy="505.1" r="1.75" fill="#bebebe"/>
<circle cx="377.7" cy="506.0" r="1.75" fill="#bebebe"/>
<circle cx="379.8" cy="453.7" r="1.75" fill="#bebebe"/>
<circle cx="363.8" cy="489.1" r="1.75" fill="#bebebe"/>
<circle cx="371.7" cy="478.2" r="1.75" fill="#bebebe"/>
<circle cx="333.9" cy="514.1" r="1.75" fill="#bebebe"/>
<circle cx="350.7" cy="481.8" r="1.75" fill="#bebebe"/>
<circle cx="368.8" cy="465.9" r="1.75" fill="#bebebe"/>
<circle cx="386.6" cy="487.2" r="1.75" fill="#bebebe"/>
<circle cx="369.9" cy="510.1" r="1.75" fill="#bebebe"/>
<circle cx="368.2" cy="511.3" r="1.75" fill="#bebebe"/>
<circle cx="350.1" cy="506.2" r="1.75" fill="#bebebe"/>
<circle cx="351.9" cy="461.7" r="1.75" fill="#bebebe"/>
<circle cx="358.5" cy="501.6" r="1.75" fill="#bebebe"/>
<circle cx="351.4" cy="463.8" r="1.75" fill="#bebebe"/>
<circle cx="361.9" cy="458.1" r="1.75" fill="#bebebe"/>
<circle cx="333.0" cy="495.6" r="1.75" fill="#bebebe"/>
<circle cx="368.9" cy="461.2" r="1.75" fill="#bebebe"/>
<circle cx="372.0" cy="468.3" r="1.75" fill="#bebebe"/>
<circle cx="369.5" cy="472.8" r="1.75" fill="#bebebe"/>
<circle cx="350.2" cy="474.5" r="1.75" fill="#bebebe"/>
<circle cx="369.5" cy="471.0" r="1.75" fill="#bebebe"/>
<circle cx="337.6" cy="456.6" r="1.75" fill="#bebebe"/>
<circle cx="393.6" cy="486.6" r="1.75" fill="#bebebe"/>
<circle cx="337.8" cy="477.2" r="1.75" fill="#bebebe"/>
<circle cx="373.1" cy="503.1" r="1.75" fill="#bebebe"/>
<circle cx="352.1" cy="473.1" r="1.75" fill="#bebebe"/>
<circle cx="350.9" cy="478.0" r="1.75" fill="#bebebe"/>
<circle cx="368.9" cy="501.0" r="1.75" fill="#bebebe"/>
<circle cx="356.6" cy="449.7" r="1.75" fill="#bebebe"/>
<circle cx="365.8" cy="503.8" r="1.75" fill="#bebebe"/>
<circle cx="347.9" cy="460.2" r="1.75" fill="#bebebe"/>
<circle cx="382.1" cy="488.7" r="1.75" fill="#bebebe"/>
<circle cx="347.2" cy="479.9" r="1.75" fill="#bebebe"/>
<circle cx="331.7" cy="491.4" r="1.75" fill="#bebebe"/>
<circle cx="363.2" cy="437.6" r="1.75" fill="#bebebe"/>
<circle cx="377.6" cy="468.6" r="1.75" fill="#bebebe"/>
<circle cx="356.5" cy="519.3" r="1.75" fill="#bebebe"/>
<circle cx="356.3" cy="457.6" r="1.75" fill="#bebebe"/>
<circle cx="356.2" cy="483.4" r="1.75" fill="#bebebe"/>
<circle cx="363.2" cy="463.4" r="1.75" fill="#bebebe"/>
<circle cx="344.3" cy="462.5" r="1.75" fill="#bebebe"/>
<circle cx="365.9" cy="497.2" r="1.75" fill="#bebebe"/>
<circle cx="359.5" cy="480.3" r="1.75" fill="#bebebe"/>
<circle cx="369.5" cy="529.8" r="1.75" fill="#bebebe"/>
<circle cx="376.4" cy="470.1" r="1.75" fill="#bebebe"/>
<circle cx="386.0" cy="470.9" r="1.75" fill="#bebebe"/>
<circle cx="344.1" cy="501.6" r="1.75" fill="#bebebe"/>
<circle cx="377.5" cy="512.2" r="1.75" fill="#bebebe"/>
<circle cx="370.6" cy="495.0" r="1.75" fill="#bebebe"/>
<circle cx="339.4" cy="497.4" r="1.75" fill="#bebebe"/>
<circle cx="377.6" cy="457.3" r="1.75" fill="#bebebe"/>
<circle cx="347.9" cy="475.5" r="1.75" fill="#bebebe"/>
<circle cx="364.4" cy="502.8" r="1.75" fill="#bebebe"/>
<circle cx="372.9" cy="466.3" r="1.75" fill="#bebebe"/>
<circle cx="341.0" cy="441.5" r="1.75" fill="#bebebe"/>
<circle cx="331.4" cy="474.9" r="1.75" fill="#bebebe"/>
<circle cx="351.0" cy="488.8" r="1.75" fill="#bebebe"/>
<circle cx="390.9" cy="481.4" r="1.75" fill="#bebebe"/>
<circle cx="350.8" cy="471.6" r="1.75" fill="#bebebe"/>
<circle cx="365.7" cy="447.0" r="1.75" fill="#bebebe"/>
<circle cx="361.8" cy="473.8" r="1.75" fill="#bebebe"/>
<circle cx="374.7" cy="489.2" r="1.75" fill="#bebebe"/>
<circle cx="353.9" cy="483.7" r="1.75" fill="#bebebe"/>
<circle cx="351.2" cy="455.6" r="1.75" fill="#bebebe"/>
<circle cx="370.5" cy="455.3" r="1.75" fill="#bebebe"/>
<circle cx="363.4" cy="491.8" r="1.75" fill="#bebebe"/>
<circle cx="351.8" cy="486.0" r="1.75" fill="#bebebe"/>
<circle cx="356.2" cy="484.7" r="1.75" fill="#bebebe"/>
<circle cx="379.0" cy="484.2" r="1.75" fill="#bebebe"/>
<circle cx="360.2" cy="508.2" r="1.75" fill="#bebebe"/>
<circle cx="398.0" cy="481.5" r="1.75" fill="#bebebe"/>
<circle cx="353.4" cy="491.9" r="1.75" fill="#bebebe"/>
<circle cx="357.1" cy="506.3" r="1.75" fill="#bebebe"/>
<circle cx="375.6" cy="483.1" r="1.75" fill="#bebebe"/>
<circle cx="360.7" cy="480.0" r="1.75" fill="#bebebe"/>
<circle cx="349.4" cy="517.9" r="1.75" fill="#bebebe"/>
<circle cx="354.1" cy="515.1" r="1.75" fill="#bebebe"/>
<circle cx="359.8" cy="486.8" r="1.75" fill="#bebebe"/>
<circle cx="370.0" cy="505.6" r="1.75" fill="#bebebe"/>
<circle cx="352.1" cy="482.2" r="1.75" fill="#bebebe"/>
<circle cx="386.6" cy="462.9" r="1.75" fill="#bebebe"/>
<circle cx="366.9" cy="461.7" r="1.75" fill="#bebebe"/>
<circle cx="371.1" cy="488.6" r="1.75" fill="#bebebe"/>
<circle cx="390.4" cy="473.6" r="1.75" fill="#bebebe"/>
<circle cx="367.9" cy="491.2" r="1.75" fill="#bebebe"/>
<circle cx="341.7" cy="471.2" r="1.75" fill="#bebebe"/>
<circle cx="355.2" cy="463.5" r="1.75" fill="#bebebe"/>
<circle cx="376.8" cy="465.2" r="1.75" fill="#bebebe"/>
<circle cx="328.2" cy="485.1" r="1.75" fill="#bebebe"/>
<circle cx="373.3" cy="493.6" r="1.75" fill="#bebebe"/>
<circle cx="355.6" cy="489.9" r="1.75" fill="#bebebe"/>
<circle cx="359.4" cy="481.0" r="1.75" fill="#bebebe"/>
<circle cx="352.8" cy="478.9" r="1.75" fill="#bebebe"/>
<circle cx="368.2" cy="473.2" r="1.75" fill="#bebebe"/>
<circle cx="352.5" cy="471.1" r="1.75" fill="#bebebe"/>
<circle cx="354.3" cy="457.6" r="1.75" fill="#bebebe"/>
<circle cx="360.9" cy="481.4" r="1.75" fill="#bebebe"/>
<circle cx="370.1" cy="491.9" r="1.75" fill="#bebebe"/>
<circle cx="374.7" cy="490.1" r="1.75" fill="#bebebe"/>
<circle cx="375.3" cy="495.7" r="1.75" fill="#bebebe"/>
<circle cx="365.5" cy="505.7" r="1.75" fill="#bebebe"/>
<circle cx="356.8" cy="523.2" r="1.75" fill="#bebebe"/>
<circle cx="364.7" cy="451.0" r="1.75" fill="#bebebe"/>
<circle cx="362.9" cy="510.1" r="1.75" fill="#bebebe"/>
<circle cx="350.1" cy="491.9" r="1.75" fill="#bebebe"/>
<circle cx="346.2" cy="504.4" r="1.75" fill="#bebebe"/>
<circle cx="377.4" cy="497.2" r="1.75" fill="#bebebe"/>
<circle cx="384.5" cy="488.3" r="1.75" fill="#bebebe"/>
<circle cx="369.8" cy="442.7" r="1.75" fill="#bebebe"/>
<circle cx="353.7" cy="476.7" r="1.75" fill="#bebebe"/>
<circle cx="354.7" cy="504.0" r="1.75" fill="#bebebe"/>
<circle cx="349.4" cy="490.0" r="1.75" fill="#bebebe"/>
<circle cx="327.5" cy="476.9" r="1.75" fill="#bebebe"/>
<circle cx="338.4" cy="486.0" r="1.75" fill="#bebebe"/>
<circle cx="361.4" cy="511.2" r="1.75" fill="#bebebe"/>
<circle cx="386.8" cy="486.9" r="1.75" fill="#bebebe"/>
<circle cx="343.1" cy="488.8" r="1.75" fill="#bebebe"/>
<circle cx="376.5" cy="526.4" r="1.75" fill="#bebebe"/>
<circle cx="353.5" cy="488.8" r="1.75" fill="#bebebe"/>
<circle cx="383.9" cy="498.8" r="1.75" fill="#bebebe"/>
<circle cx="352.7" cy="479.4" r="1.75" fill="#bebebe"/>
<circle cx="394.6" cy="473.8" r="1.75" fill="#bebebe"/>
<circle cx="352.2" cy="480.9" r="1.75" fill="#bebebe"/>
<circle cx="355.4" cy="524.3" r="1.75" fill="#bebebe"/>
<circle cx="374.9" cy="454.9" r="1.75" fill="#bebebe"/>
<circle cx="364.2" cy="462.5" r="1.75" fill="#bebebe"/>
<circle cx="367.6" cy="489.9" r="1.75" fill="#bebebe"/>
<circle cx="361.0" cy="510.0" r="1.75" fill="#bebebe"/>
<circle cx="384.6" cy="515.6" r="1.75" fill="#bebebe"/>
<circle cx="350.2" cy="468.8" r="1.75" fill="#bebebe"/>
<circle cx="368.8" cy="504.1" r="1.75" fill="#bebebe"/>
<circle cx="342.3" cy="503.4" r="1.75" fill="#bebebe"/>
<circle cx="382.0" cy="494.3" r="1.75" fill="#bebebe"/>
<circle cx="393.7" cy="467.1" r="1.75" fill="#bebebe"/>
<circle cx="342.8" cy="485.3" r="1.75" fill="#bebebe"/>
<circle cx="347.0" cy="511.1" r="1.75" fill="#bebebe"/>
<circle cx="364.4" cy="445.8" r="1.75" fill="#bebebe"/>
<circle cx="379.6" cy="473.1" r="1.75" fill="#bebebe"/>
<circle cx="349.1" cy="472.5" r="1.75" fill="#bebebe"/>
<circle cx="345.7" cy="478.2" r="1.75" fill="#bebebe"/>
<circle cx="345.4" cy="509.5" r="1.75" fill="#bebebe"/>
<circle cx="374.0" cy="487.4" r="1.75" fill="#bebebe"/>
<circle cx="374.7" cy="474.8" r="1.75" fill="#bebebe"/>
<circle cx="351.7" cy="484.2" r="1.75" fill="#bebebe"/>
<circle cx="397.7" cy="474.1" r="1.75" fill="#bebebe"/>
<circle cx="364.2" cy="467.4" r="1.75" fill="#bebebe"/>
<circle cx="353.9" cy="470.0" r="1.75" fill="#bebebe"/>
<circle cx="373.6" cy="478.3" r="1.75" fill="#bebebe"/>
<circle cx="362.7" cy="499.3" r="1.75" fill="#bebebe"/>
<circle cx="397.8" cy="479.9" r="1.75" fill="#bebebe"/>
<circle cx="339.3" cy="498.1" r="1.75" fill="#bebebe"/>
<circle cx="370.1" cy="500.1" r="1.75" fill="#bebebe"/>
<circle cx="354.6" cy="465.5" r="1.75" fill="#bebebe"/>
<circle cx="342.5" cy="471.6" r="1.75" fill="#bebebe"/>
<circle cx="340.5" cy="481.2" r="1.75" fill="#bebebe"/>
<circle cx="360.6" cy="474.9" r="1.75" fill="#bebebe"/>
<circle cx="362.3" cy="504.9" r="1.75" fill="#bebebe"/>
<circle cx="353.2" cy="514.7" r="1.75" fill="#bebebe"/>
<circle cx="347.8" cy="477.1" r="1.75" fill="#bebebe"/>
<circle cx="349.8" cy="509.2" r="1.75" fill="#bebebe"/>
<circle cx="344.5" cy="491.0" r="1.75" fill="#bebebe"/>
<circle cx="359.8" cy="483.1" r="1.75" fill="#bebebe"/>
<circle cx="376.0" cy="487.5" r="1.75" fill="#bebebe"/>
<circle cx="348.9" cy="458.1" r="1.75" fill="#bebebe"/>
<circle cx="371.0" cy="512.1" r="1.75" fill="#bebebe"/>
<circle cx="371.2" cy="503.9" r="1.75" fill="#bebebe"/>
<circle cx="367.4" cy="466.2" r="1.75" fill="#bebebe"/>
<circle cx="363.6" cy="462.3" r="1.75" fill="#bebebe"/>
<circle cx="353.6" cy="487.0" r="1.75" fill="#bebebe"/>
<circle cx="378.7" cy="494.7" r="1.75" fill="#bebebe"/>
<circle cx="361.5" cy="520.3" r="1.75" fill="#bebebe"/>
<circle cx="365.7" cy="458.8" r="1.75" fill="#bebebe"/>
<circle cx="398.6" cy="503.1" r="1.75" fill="#bebebe"/>
<circle cx="361.1" cy="470.6" r="1.75" fill="#bebebe"/>
<circle cx="371.7" cy="496.2" r="1.75" fill="#bebebe"/>
<circle cx="358.8" cy="473.1" r="1.75" fill="#bebebe"/>
<circle cx="344.8" cy="455.0" r="1.75" fill="#bebebe"/>
<circle cx="377.2" cy="473.7" r="1.75" fill="#bebebe"/>
<circle cx="343.1" cy="466.6" r="1.75" fill="#bebebe"/>
<circle cx="321.9" cy="449.2" r="1.75" fill="#bebebe"/>
<circle cx="370.4" cy="469.6" r="1.75" fill="#bebebe"/>
<circle cx="355.0" cy="515.7" r="1.75" fill="#bebebe"/>
<circle cx="346.7" cy="504.7" r="1.75" fill="#bebebe"/>
<circle cx="366.8" cy="501.6" r="1.75" fill="#bebebe"/>
<circle cx="356.0" cy="499.1" r="1.75" fill="#bebebe"/>
<circle cx="346.7" cy="482.6" r="1.75" fill="#bebebe"/>
<circle cx="383.8" cy="462.7" r="1.75" fill="#bebebe"/>
<circle cx="391.0" cy="475.6" r="1.75" fill="#bebebe"/>
<circle cx="375.1" cy="495.3" r="1.75" fill="#bebebe"/>
<circle cx="352.1" cy="454.0" r="1.75" fill="#bebebe"/>
<circle cx="356.6" cy="459.4" r="1.75" fill="#bebebe"/>
<circle cx="366.5" cy="499.2" r="1.75" fill="#bebebe"/>
<circle cx="384.5" cy="464.9" r="1.75" fill="#bebebe"/>
<circle cx="354.4" cy="486.4" r="1.75" fill="#bebebe"/>
<circle cx="357.9" cy="480.3" r="1.75" fill="#bebebe"/>
<circle cx="353.8" cy="488.5" r="1.75" fill="#bebebe"/>
<circle cx="352.4" cy="504.0" r="1.75" fill="#bebebe"/>
<circle cx="350.2" cy="476.9" r="1.75" fill="#bebebe"/>
<circle cx="374.3" cy="459.4" r="1.75" fill="#bebebe"/>
<circle cx="368.9" cy="498.1" r="1.75" fill="#bebebe"/>
<circle cx="355.5" cy="486.8" r="1.75" fill="#bebebe"/>
<circle cx="355.1" cy="453.6" r="1.75" fill="#bebebe"/>
<circle cx="371.0" cy="475.8" r="1.75" fill="#bebebe"/>
<circle cx="357.8" cy="493.4" r="1.75" fill="#bebebe"/>
<circle cx="367.5" cy="482.4" r="1.75" fill="#bebebe"/>
<circle cx="353.6" cy="480.8" r="1.75" fill="#bebebe"/>
<circle cx="394.3" cy="519.7" r="1.75" fill="#bebebe"/>
<circle cx="356.2" cy="492.4" r="1.75" fill="#bebebe"/>
<circle cx="341.9" cy="477.6" r="1.75" fill="#bebebe"/>
<circle cx="373.3" cy="492.9" r="1.75" fill="#bebebe"/>
<circle cx="342.5" cy="493.7" r="1.75" fill="#bebebe"/>
<circle cx="360.9" cy="488.3" r="1.75" fill="#bebebe"/>
<circle cx="366.9" cy="485.7" r="1.75" fill="#bebebe"/>
<circle cx="347.3" cy="468.8" r="1.75" fill="#bebebe"/>
<circle cx="345.5" cy="484.0" r="1.75" fill="#bebebe"/>
<circle cx="361.7" cy="471.3" r="1.75" fill="#bebebe"/>
<circle cx="375.8" cy="522.9" r="1.75" fill="#bebebe"/>
<circle cx="349.4" cy="499.8" r="1.75" fill="#bebebe"/>
<circle cx="376.3" cy="474.8" r="1.75" fill="#bebebe"/>
<circle cx="397.6" cy="499.1" r="1.75" fill="#bebebe"/>
<circle cx="344.5" cy="522.9" r="1.75" fill="#bebebe"/>
<circle cx="345.5" cy="504.5" r="1.75" fill="#bebebe"/>
<circle cx="371.9" cy="508.9" r="1.75" fill="#bebebe"/>
<circle cx="375.2" cy="517.1" r="1.75" fill="#bebebe"/>
<circle cx="384.1" cy="468.4" r="1.75" fill="#bebebe"/>
<circle cx="343.2" cy="474.3" r="1.75" fill="#bebebe"/>
<circle cx="343.1" cy="493.3" r="1.75" fill="#bebebe"/>
<circle cx="365.9" cy="475.4" r="1.75" fill="#bebebe"/>
<circle cx="347.9" cy="510.1" r="1.75" fill="#bebebe"/>
<circle cx="337.1" cy="510.3" r="1.75" fill="#bebebe"/>
<circle cx="356.9" cy="499.3" r="1.75" fill="#bebebe"/>
<circle cx="353.4" cy="484.7" r="1.75" fill="#bebebe"/>
<circle cx="370.2" cy="510.0" r="1.75" fill="#bebebe"/>
<circle cx="379.2" cy="505.2" r="1.75" fill="#bebebe"/>
<circle cx="371.6" cy="480.3" r="1.75" fill="#bebebe"/>
<circle cx="349.5" cy="464.7" r="1.75" fill="#bebebe"/>
<circle cx="362.4" cy="470.6" r="1.75" fill="#bebebe"/>
<circle cx="376.3" cy="443.4" r="1.75" fill="#bebebe"/>
<circle cx="346.2" cy="519.5" r="1.75" fill="#bebebe"/>
<circle cx="379.2" cy="506.8" r="1.75" fill="#bebebe"/>
<circle cx="360.3" cy="474.0" r="1.75" fill="#bebebe"/>
<circle cx="365.4" cy="495.1" r="1.75" fill="#bebebe"/>
<circle cx="379.1" cy="512.5" r="1.75" fill="#bebebe"/>
<circle cx="344.0" cy="474.2" r="1.75" fill="#bebebe"/>
<circle cx="353.9" cy="495.7" r="1.75" fill="#bebebe"/>
<circle cx="355.7" cy="507.1" r="1.75" fill="#bebebe"/>
<circle cx="339.9" cy="477.5" r="1.75" fill="#bebebe"/>
<circle cx="329.1" cy="489.8" r="1.75" fill="#bebebe"/>
<circle cx="351.4" cy="486.8" r="1.75" fill="#bebebe"/>
<circle cx="371.2" cy="479.0" r="1.75" fill="#bebebe"/>
<circle cx="386.2" cy="475.3" r="1.75" fill="#bebebe"/>
<circle cx="355.0" cy="519.7" r="1.75" fill="#bebebe"/>
<circle cx="367.0" cy="487.0" r="1.75" fill="#bebebe"/>
<circle cx="380.6" cy="489.9" r="1.75" fill="#bebebe"/>
<circle cx="381.9" cy="469.3" r="1.75" fill="#bebebe"/>
<circle cx="356.4" cy="482.0" r="1.75" fill="#bebebe"/>
<circle cx="350.5" cy="486.2" r="1.75" fill="#bebebe"/>
<circle cx="390.5" cy="485.2" r="1.75" fill="#bebebe"/>
<circle cx="360.5" cy="487.4" r="1.75" fill="#bebebe"/>
<circle cx="372.9" cy="451.1" r="1.75" fill="#bebebe"/>
<circle cx="389.7" cy="488.4" r="1.75" fill="#bebebe"/>
<circle cx="329.1" cy="493.8" r="1.75" fill="#bebebe"/>
<circle cx="378.2" cy="470.7" r="1.75" fill="#bebebe"/>
<circle cx="373.9" cy="454.3" r="1.75" fill="#bebebe"/>
<circle cx="371.9" cy="459.4" r="1.75" fill="#bebebe"/>
<circle cx="344.0" cy="464.3" r="1.75" fill="#bebebe"/>
<circle cx="379.1" cy="483.8" r="1.75" fill="#bebebe"/>
<circle cx="336.7" cy="472.9" r="1.75" fill="#bebebe"/>
<circle cx="361.5" cy="511.3" r="1.75" fill="#bebebe"/>
<circle cx="346.8" cy="484.8" r="1.75" fill="#bebebe"/>
<circle cx="359.3" cy="512.4" r="1.75" fill="#bebebe"/>
<circle cx="387.7" cy="481.5" r="1.75" fill="#bebebe"/>
<circle cx="351.9" cy="471.2" r="1.75" fill="#bebebe"/>
<circle cx="355.3" cy="491.1" r="1.75" fill="#bebebe"/>
<circle cx="347.1" cy="458.6" r="1.75" fill="#bebebe"/>
<circle cx="355.4" cy="490.6" r="1.75" fill="#bebebe"/>
<circle cx="353.8" cy="488.3" r="1.75" fill="#bebebe"/>
<circle cx="368.7" cy="487.2" r="1.75" fill="#bebebe"/>
<circle cx="359.8" cy="497.4" r="1.75" fill="#bebebe"/>
<circle cx="348.6" cy="477.9" r="1.75" fill="#bebebe"/>
<circle cx="379.1" cy="472.5" r="1.75" fill="#bebebe"/>
<circle cx="369.4" cy="496.6" r="1.75" fill="#bebebe"/>
<circle cx="372.6" cy="500.0" r="1.75" fill="#bebebe"/>
<circle cx="370.9" cy="477.4" r="1.75" fill="#bebebe"/>
<circle cx="368.7" cy="464.3" r="1.75" fill="#bebebe"/>
<circle cx="347.9" cy="501.0" r="1.75" fill="#bebebe"/>
<circle cx="357.5" cy="510.8" r="1.75" fill="#bebebe"/>
<circle cx="356.6" cy="494.6" r="1.75" fill="#bebebe"/>
<circle cx="349.6" cy="483.7" r="1.75" fill="#bebebe"/>
<circle cx="385.0" cy="514.6" r="1.75" fill="#bebebe"/>
<circle cx="352.2" cy="518.8" r="1.75" fill="#bebebe"/>
<circle cx="357.5" cy="482.2" r="1.75" fill="#bebebe"/>
<circle cx="390.7" cy="480.5" r="1.75" fill="#bebebe"/>
<circle cx="351.3" cy="476.5" r="1.75" fill="#bebebe"/>
<circle cx="374.8" cy="505.3" r="1.75" fill="#bebebe"/>
<circle cx="370.3" cy="469.4" r="1.75" fill="#bebebe"/>
<circle cx="379.0" cy="468.7" r="1.75" fill="#bebebe"/>
<circle cx="347.7" cy="488.7" r="1.75" fill="#bebebe"/>
<circle cx="346.2" cy="486.6" r="1.75" fill="#bebebe"/>
<circle cx="384.5" cy="510.6" r="1.75" fill="#bebebe"/>
<circle cx="343.3" cy="480.7" r="1.75" fill="#bebebe"/>
<circle cx="326.3" cy="497.0" r="1.75" fill="#bebebe"/>
<circle cx="361.7" cy="485.3" r="1.75" fill="#bebebe"/>
<circle cx="376.6" cy="493.2" r="1.75" fill="#bebebe"/>
<circle cx="340.4" cy="480.4" r="1.75" fill="#bebebe"/>
<circle cx="349.7" cy="452.2" r="1.75" fill="#bebebe"/>
<circle cx="382.4" cy="491.1" r="1.75" fill="#bebebe"/>
<circle cx="360.7" cy="506.0" r="1.75" fill="#bebebe"/>
<circle cx="389.5" cy="481.1" r="1.75" fill="#bebebe"/>
<circle cx="359.6" cy="496.1" r="1.75" fill="#bebebe"/>
<circle cx="360.1" cy="494.4" r="1.75" fill="#bebebe"/>
<circle cx="364.5" cy="485.8" r="1.75" fill="#bebebe"/>
<circle cx="364.9" cy="458.0" r="1.75" fill="#bebebe"/>
<circle cx="345.3" cy="455.8" r="1.75" fill="#bebebe"/>
<circle cx="343.2" cy="494.3" r="1.75" fill="#bebebe"/>
<circle cx="386.7" cy="488.9" r="1.75" fill="#bebebe"/>
<circle cx="350.5" cy="460.0" r="1.75" fill="#bebebe"/>
<circle cx="362.2" cy="467.0" r="1.75" fill="#bebebe"/>
<circle cx="386.2" cy="475.1" r="1.75" fill="#bebebe"/>
<circle cx="353.9" cy="495.3" r="1.75" fill="#bebebe"/>
<circle cx="379.0" cy="499.7" r="1.75" fill="#bebebe"/>
<circle cx="398.4" cy="490.5" r="1.75" fill="#bebebe"/>
<circle cx="334.9" cy="493.7" r="1.75" fill="#bebebe"/>
<circle cx="358.2" cy="440.4" r="1.75" fill="#bebebe"/>
<circle cx="339.1" cy="461.5" r="1.75" fill="#bebebe"/>
<circle cx="373.0" cy="509.3" r="1.75" fill="#bebebe"/>
<circle cx="341.4" cy="487.0" r="1.75" fill="#bebebe"/>
<circle cx="355.0" cy="496.9" r="1.75" fill="#bebebe"/>
<circle cx="346.6" cy="496.8" r="1.75" fill="#bebebe"/>
<circle cx="335.1" cy="482.7" r="1.75" fill="#bebebe"/>
<circle cx="370.6" cy="500.4" r="1.75" fill="#bebebe"/>
<circle cx="364.6" cy="487.2" r="1.75" fill="#bebebe"/>
<circle cx="360.8" cy="526.7" r="1.75" fill="#bebebe"/>
<circle cx="346.8" cy="504.6" r="1.75" fill="#bebebe"/>
<circle cx="349.7" cy="457.2" r="1.75" fill="#bebebe"/>
<circle cx="373.4" cy="455.8" r="1.75" fill="#bebebe"/>
<circle cx="340.3" cy="514.4" r="1.75" fill="#bebebe"/>
<circle cx="364.9" cy="482.5" r="1.75" fill="#bebebe"/>
<circle cx="351.8" cy="478.4" r="1.75" fill="#bebebe"/>
<circle cx="354.2" cy="487.8" r="1.75" fill="#bebebe"/>
<circle cx="347.2" cy="488.5" r="1.75" fill="#bebebe"/>
<circle cx="360.1" cy="469.5" r="1.75" fill="#bebebe"/>
<circle cx="359.9" cy="474.7" r="1.75" fill="#bebebe"/>
<circle cx="359.4" cy="495.8" r="1.75" fill="#bebebe"/>
<circle cx="348.1" cy="490.0" r="1.75" fill="#bebebe"/>
<circle cx="390.2" cy="488.5" r="1.75" fill="#bebebe"/>
<circle cx="355.6" cy="465.8" r="1.75" fill="#bebebe"/>
<circle cx="388.5" cy="482.9" r="1.75" fill="#bebebe"/>
<circle cx="371.1" cy="486.0" r="1.75" fill="#bebebe"/>
<circle cx="354.6" cy="485.0" r="1.75" fill="#bebebe"/>
<circle cx="368.1" cy="490.8" r="1.75" fill="#bebebe"/>
<circle cx="368.8" cy="474.2" r="1.75" fill="#bebebe"/>
<circle cx="367.5" cy="453.6" r="1.75" fill="#bebebe"/>
<circle cx="353.9" cy="487.7" r="1.75" fill="#bebebe"/>
<circle cx="384.8" cy="483.2" r="1.75" fill="#bebebe"/>
<circle cx="353.3" cy="455.7" r="1.75" fill="#bebebe"/>
<circle cx="378.2" cy="461.0" r="1.75" fill="#bebebe"/>
<circle cx="361.5" cy="482.0" r="1.75" fill="#bebebe"/>
<circle cx="370.9" cy="470.0" r="1.75" fill="#bebebe"/>
<circle cx="367.3" cy="506.3" r="1.75" fill="#bebebe"/>
<circle cx="389.7" cy="487.3" r="1.75" fill="#bebebe"/>
<circle cx="350.8" cy="491.0" r="1.75" fill="#bebebe"/>
<circle cx="343.3" cy="474.2" r="1.75" fill="#bebebe"/>
<circle cx="358.3" cy="508.9" r="1.75" fill="#bebebe"/>
<circle cx="358.8" cy="491.7" r="1.75" fill="#bebebe"/>
<circle cx="345.0" cy="486.2" r="1.75" fill="#bebebe"/>
<circle cx="363.0" cy="500.7" r="1.75" fill="#bebebe"/>
<circle cx="360.8" cy="489.2" r="1.75" fill="#bebebe"/>
<circle cx="373.7" cy="469.8" r="1.75" fill="#bebebe"/>
<circle cx="352.9" cy="493.5" r="1.75" fill="#bebebe"/>
<circle cx="382.5" cy="483.5" r="1.75" fill="#bebebe"/>
<circle cx="363.5" cy="491.6" r="1.75" fill="#bebebe"/>
<circle cx="365.3" cy="489.8" r="1.75" fill="#bebebe"/>
<circle cx="378.6" cy="454.8" r="1.75" fill="#bebebe"/>
<circle cx="384.2" cy="498.1" r="1.75" fill="#bebebe"/>
<circle cx="356.1" cy="481.5" r="1.75" fill="#bebebe"/>
<circle cx="359.0" cy="456.5" r="1.75" fill="#bebebe"/>
<circle cx="367.2" cy="506.2" r="1.75" fill="#bebebe"/>
<circle cx="373.5" cy="480.7" r="1.75" fill="#bebebe"/>
<circle cx="340.2" cy="475.4" r="1.75" fill="#bebebe"/>
<circle cx="371.0" cy="512.3" r="1.75" fill="#bebebe"/>
<circle cx="377.4" cy="475.0" r="1.75" fill="#bebebe"/>
<circle cx="347.6" cy="494.2" r="1.75" fill="#bebebe"/>
<circle cx="352.1" cy="459.7" r="1.75" fill="#bebebe"/>
<circle cx="343.2" cy="503.7" r="1.75" fill="#bebebe"/>
<circle cx="336.6" cy="508.4" r="1.75" fill="#bebebe"/>
<circle cx="375.2" cy="505.4" r="1.75" fill="#bebebe"/>
<circle cx="383.1" cy="506.8" r="1.75" fill="#bebebe"/>
<circle cx="367.7" cy="504.2" r="1.75" fill="#bebebe"/>
<circle cx="390.2" cy="475.6" r="1.75" fill="#bebebe"/>
<circle cx="358.6" cy="505.0" r="1.75" fill="#bebebe"/>
<circle cx="369.6" cy="475.7" r="1.75" fill="#bebebe"/>
<circle cx="337.3" cy="481.1" r="1.75" fill="#bebebe"/>
<circle cx="364.9" cy="465.9" r="1.75" fill="#bebebe"/>
<circle cx="373.6" cy="484.3" r="1.75" fill="#bebebe"/>
<circle cx="358.0" cy="468.3" r="1.75" fill="#bebebe"/>
<circle cx="392.3" cy="475.0" r="1.75" fill="#bebebe"/>
<circle cx="371.0" cy="446.9" r="1.75" fill="#bebebe"/>
<circle cx="377.4" cy="505.2" r="1.75" fill="#bebebe"/>
<circle cx="342.9" cy="466.0" r="1.75" fill="#bebebe"/>
<circle cx="351.3" cy="500.0" r="1.75" fill="#bebebe"/>
<circle cx="349.5" cy="473.1" r="1.75" fill="#bebebe"/>
<circle cx="364.3" cy="451.5" r="1.75" fill="#bebebe"/>
<circle cx="355.5" cy="480.1" r="1.75" fill="#bebebe"/>
<circle cx="383.5" cy="505.0" r="1.75" fill="#bebebe"/>
<circle cx="335.9" cy="484.2" r="1.75" fill="#bebebe"/>
<circle cx="371.0" cy="503.6" r="1.75" fill="#bebebe"/>
<circle cx="363.9" cy="447.7" r="1.75" fill="#bebebe"/>
<circle cx="361.5" cy="493.1" r="1.75" fill="#bebebe"/>
<circle cx="350.1" cy="471.7" r="1.75" fill="#bebebe"/>
<circle cx="386.5" cy="491.7" r="1.75" fill="#bebebe"/>
<circle cx="368.9" cy="474.1" r="1.75" fill="#bebebe"/>
<circle cx="322.6" cy="479.7" r="1.75" fill="#bebebe"/>
<circle cx="348.9" cy="480.9" r="1.75" fill="#bebebe"/>
<circle cx="365.5" cy="475.5" r="1.75" fill="#bebebe"/>
<circle cx="385.7" cy="522.9" r="1.75" fill="#bebebe"/>
<circle cx="356.1" cy="473.2" r="1.75" fill="#bebebe"/>
<circle cx="342.5" cy="507.1" r="1.75" fill="#bebebe"/>
<circle cx="369.8" cy="474.9" r="1.75" fill="#bebebe"/>
<circle cx="373.4" cy="491.7" r="1.75" fill="#bebebe"/>
<circle cx="385.2" cy="482.6" r="1.75" fill="#bebebe"/>
<circle cx="376.8" cy="466.8" r="1.75" fill="#bebebe"/>
<circle cx="344.2" cy="465.6" r="1.75" fill="#bebebe"/>
<circle cx="347.9" cy="491.4" r="1.75" fill="#bebebe"/>
<circle cx="358.1" cy="489.7" r="1.75" fill="#bebebe"/>
<circle cx="373.8" cy="473.0" r="1.75" fill="#bebebe"/>
<circle cx="333.3" cy="496.5" r="1.75" fill="#bebebe"/>
<circle cx="345.8" cy="485.5" r="1.75" fill="#bebebe"/>
<circle cx="341.2" cy="474.9" r="1.75" fill="#bebebe"/>
<circle cx="366.9" cy="506.3" r="1.75" fill="#bebebe"/>
<circle cx="372.9" cy="467.6" r="1.75" fill="#bebebe"/>
<circle cx="352.4" cy="461.5" r="1.75" fill="#bebebe"/>
<circle cx="350.3" cy="463.0" r="1.75" fill="#bebebe"/>
<circle cx="358.3" cy="491.5" r="1.75" fill="#bebebe"/>
<circle cx="365.5" cy="521.0" r="1.75" fill="#bebebe"/>
<circle cx="360.4" cy="499.6" r="1.75" fill="#bebebe"/>
<circle cx="352.9" cy="485.1" r="1.75" fill="#bebebe"/>
<circle cx="337.8" cy="489.1" r="1.75" fill="#bebebe"/>
<circle cx="380.8" cy="501.8" r="1.75" fill="#bebebe"/>
<circle cx="367.3" cy="498.8" r="1.75" fill="#bebebe"/>
<circle cx="374.5" cy="465.4" r="1.75" fill="#bebebe"/>
<circle cx="346.8" cy="507.6" r="1.75" fill="#bebebe"/>
<circle cx="369.0" cy="504.7" r="1.75" fill="#bebebe"/>
<circle cx="353.5" cy="512.7" r="1.75" fill="#bebebe"/>
<circle cx="343.1" cy="490.0" r="1.75" fill="#bebebe"/>
<circle cx="366.1" cy="512.6" r="1.75" fill="#bebebe"/>
<circle cx="362.9" cy="490.6" r="1.75" fill="#bebebe"/>
<circle cx="365.6" cy="453.8" r="1.75" fill="#bebebe"/>
<circle cx="371.2" cy="474.0" r="1.75" fill="#bebebe"/>
<circle cx="381.6" cy="469.2" r="1.75" fill="#bebebe"/>
<circle cx="343.3" cy="484.6" r="1.75" fill="#bebebe"/>
<circle cx="374.6" cy="463.6" r="1.75" fill="#bebebe"/>
<circle cx="373.9" cy="482.8" r="1.75" fill="#bebebe"/>
<circle cx="327.6" cy="490.6" r="1.75" fill="#bebebe"/>
<circle cx="361.2" cy="482.3" r="1.75" fill="#bebebe"/>
<circle cx="371.3" cy="466.3" r="1.75" fill="#bebebe"/>
<circle cx="377.9" cy="491.7" r="1.75" fill="#bebebe"/>
<circle cx="341.1" cy="501.3" r="1.75" fill="#bebebe"/>
<circle cx="380.6" cy="462.8" r="1.75" fill="#bebebe"/>
<circle cx="354.2" cy="446.9" r="1.75" fill="#bebebe"/>
<circle cx="372.2" cy="518.3" r="1.75" fill="#bebebe"/>
<circle cx="346.4" cy="480.4" r="1.75" fill="#bebebe"/>
<circle cx="349.4" cy="482.3" r="1.75" fill="#bebebe"/>
<circle cx="373.8" cy="470.6" r="1.75" fill="#bebebe"/>
<circle cx="345.0" cy="462.9" r="1.75" fill="#bebebe"/>
<circle cx="363.3" cy="484.1" r="1.75" fill="#bebebe"/>
<circle cx="366.5" cy="473.9" r="1.75" fill="#bebebe"/>
<circle cx="336.1" cy="486.0" r="1.75" fill="#bebebe"/>
<circle cx="363.3" cy="505.3" r="1.75" fill="#bebebe"/>
<circle cx="339.8" cy="468.0" r="1.75" fill="#bebebe"/>
<circle cx="354.2" cy="483.2" r="1.75" fill="#bebebe"/>
<circle cx="349.1" cy="426.6" r="1.9" fill="#bebebe"/>
<rect x="341.3" y="473.5" width="41.2" height="22.8" fill="#c3c3c8" fill-opacity="0.9" stroke="#7a7a7a" stroke-width="1"/>
<line x1="341.3" y1="484.5" x2="382.5" y2="484.5" stroke="#7a7a7a" stroke-width="1"/>
<line x1="362.1" y1="426.6" x2="362.1" y2="473.5" stroke="#7a7a7a" stroke-width="1"/>
<line x1="362.1" y1="496.3" x2="362.1" y2="537.5" stroke="#7a7a7a" stroke-width="1"/>
<line x1="352.2" y1="426.6" x2="372.4" y2="426.6" stroke="#7a7a7a" stroke-width="1"/>
<line x1="352.2" y1="537.5" x2="372.4" y2="537.5" stroke="#7a7a7a" stroke-width="1"/>
<circle cx="440.2" cy="502.7" r="1.75" fill="#2876a8"/>
<circle cx="472.3" cy="500.7" r="1.75" fill="#2876a8"/>
<circle cx="452.1" cy="459.7" r="1.75" fill="#2876a8"/>
<circle cx="467.9" cy="455.5" r="1.75" fill="#2876a8"/>
<circle cx="439.4" cy="489.4" r="1.75" fill="#2876a8"/>
<circle cx="444.4" cy="491.8" r="1.75" fill="#2876a8"/>
<circle cx="479.8" cy="477.6" r="1.75" fill="#2876a8"/>
<circle cx="473.3" cy="494.3" r="1.75" fill="#2876a8"/>
<circle cx="460.2" cy="472.3" r="1.75" fill="#2876a8"/>
<circle cx="468.3" cy="479.4" r="1.75" fill="#2876a8"/>
<circle cx="474.1" cy="469.3" r="1.75" fill="#2876a8"/>
<circle cx="450.5" cy="503.2" r="1.75" fill="#2876a8"/>
<circle cx="425.6" cy="478.7" r="1.75" fill="#2876a8"/>
<circle cx="466.6" cy="456.7" r="1.75" fill="#2876a8"/>
<circle cx="439.5" cy="473.5" r="1.75" fill="#2876a8"/>
<circle cx="476.2" cy="466.7" r="1.75" fill="#2876a8"/>
<circle cx="437.5" cy="497.5" r="1.75" fill="#2876a8"/>
<circle cx="444.3" cy="472.6" r="1.75" fill="#2876a8"/>
<circle cx="468.9" cy="489.6" r="1.75" fill="#2876a8"/>
<circle cx="452.9" cy="468.1" r="1.75" fill="#2876a8"/>
<circle cx="457.9" cy="467.8" r="1.75" fill="#2876a8"/>
<circle cx="452.3" cy="469.5" r="1.75" fill="#2876a8"/>
<circle cx="473.3" cy="476.6" r="1.75" fill="#2876a8"/>
<circle cx="471.9" cy="482.7" r="1.75" fill="#2876a8"/>
<circle cx="468.4" cy="455.6" r="1.75" fill="#2876a8"/>
<circle cx="430.7" cy="478.7" r="1.75" fill="#2876a8"/>
<circle cx="462.5" cy="463.5" r="1.75" fill="#2876a8"/>
<circle cx="473.1" cy="474.6" r="1.75" fill="#2876a8"/>
<circle cx="434.1" cy="485.5" r="1.75" fill="#2876a8"/>
<circle cx="458.0" cy="500.5" r="1.75" fill="#2876a8"/>
<circle cx="462.9" cy="476.5" r="1.75" fill="#2876a8"/>
<circle cx="453.5" cy="448.8" r="1.75" fill="#2876a8"/>
<circle cx="455.8" cy="466.9" r="1.75" fill="#2876a8"/>
<circle cx="471.2" cy="483.7" r="1.75" fill="#2876a8"/>
<circle cx="445.4" cy="461.5" r="1.75" fill="#2876a8"/>
<circle cx="482.5" cy="493.6" r="1.75" fill="#2876a8"/>
<circle cx="474.5" cy="465.5" r="1.75" fill="#2876a8"/>
<circle cx="477.5" cy="463.2" r="1.75" fill="#2876a8"/>
<circle cx="471.7" cy="469.0" r="1.75" fill="#2876a8"/>
<circle cx="475.1" cy="471.3" r="1.75" fill="#2876a8"/>
<circle cx="457.1" cy="483.6" r="1.75" fill="#2876a8"/>
<circle cx="429.9" cy="483.3" r="1.75" fill="#2876a8"/>
<circle cx="467.8" cy="501.8" r="1.75" fill="#2876a8"/>
<circle cx="434.3" cy="467.4" r="1.75" fill="#2876a8"/>
<circle cx="443.2" cy="512.8" r="1.75" fill="#2876a8"/>
<circle cx="475.8" cy="479.4" r="1.75" fill="#2876a8"/>
<circle cx="449.6" cy="466.4" r="1.75" fill="#2876a8"/>
<circle cx="460.2" cy="484.3" r="1.75" fill="#2876a8"/>
<circle cx="455.2" cy="488.0" r="1.75" fill="#2876a8"/>
<circle cx="460.8" cy="483.9" r="1.75" fill="#2876a8"/>
<circle cx="433.5" cy="484.9" r="1.75" fill="#2876a8"/>
<circle cx="464.6" cy="488.3" r="1.75" fill="#2876a8"/>
<circle cx="477.9" cy="458.9" r="1.75" fill="#2876a8"/>
<circle cx="451.0" cy="488.1" r="1.75" fill="#2876a8"/>
<circle cx="461.6" cy="462.2" r="1.75" fill="#2876a8"/>
<circle cx="464.3" cy="467.6" r="1.75" fill="#2876a8"/>
<circle cx="471.1" cy="464.4" r="1.75" fill="#2876a8"/>
<circle cx="460.1" cy="478.4" r="1.75" fill="#2876a8"/>
<circle cx="467.4" cy="477.2" r="1.75" fill="#2876a8"/>
<circle cx="479.2" cy="470.2" r="1.75" fill="#2876a8"/>
<circle cx="448.1" cy="457.7" r="1.75" fill="#2876a8"/>
<circle cx="433.3" cy="479.2" r="1.75" fill="#2876a8"/>
<circle cx="437.7" cy="470.9" r="1.75" fill="#2876a8"/>
<circle cx="447.5" cy="446.0" r="1.75" fill="#2876a8"/>
<circle cx="451.1" cy="428.5" r="1.75" fill="#2876a8"/>
<circle cx="453.5" cy="475.4" r="1.75" fill="#2876a8"/>
<circle cx="474.0" cy="477.6" r="1.75" fill="#2876a8"/>
<circle cx="436.9" cy="479.5" r="1.75" fill="#2876a8"/>
<circle cx="460.7" cy="495.4" r="1.75" fill="#2876a8"/>
<circle cx="477.1" cy="461.9" r="1.75" fill="#2876a8"/>
<circle cx="455.2" cy="484.7" r="1.75" fill="#2876a8"/>
<circle cx="476.8" cy="490.1" r="1.75" fill="#2876a8"/>
<circle cx="446.8" cy="478.5" r="1.75" fill="#2876a8"/>
<circle cx="467.9" cy="464.8" r="1.75" fill="#2876a8"/>
<circle cx="441.3" cy="455.0" r="1.75" fill="#2876a8"/>
<circle cx="450.5" cy="451.9" r="1.75" fill="#2876a8"/>
<circle cx="472.0" cy="455.1" r="1.75" fill="#2876a8"/>
<circle cx="452.5" cy="487.0" r="1.75" fill="#2876a8"/>
<circle cx="453.4" cy="491.4" r="1.75" fill="#2876a8"/>
<circle cx="453.8" cy="444.3" r="1.75" fill="#2876a8"/>
<circle cx="472.3" cy="461.1" r="1.75" fill="#2876a8"/>
<circle cx="476.8" cy="490.7" r="1.75" fill="#2876a8"/>
<circle cx="459.7" cy="496.2" r="1.75" fill="#2876a8"/>
<circle cx="435.7" cy="471.2" r="1.75" fill="#2876a8"/>
<circle cx="476.1" cy="478.5" r="1.75" fill="#2876a8"/>
<circle cx="472.6" cy="445.2" r="1.75" fill="#2876a8"/>
<circle cx="450.1" cy="467.7" r="1.75" fill="#2876a8"/>
<circle cx="474.4" cy="476.3" r="1.75" fill="#2876a8"/>
<circle cx="465.3" cy="454.1" r="1.75" fill="#2876a8"/>
<circle cx="454.6" cy="481.0" r="1.75" fill="#2876a8"/>
<circle cx="459.4" cy="439.7" r="1.75" fill="#2876a8"/>
<circle cx="430.6" cy="480.2" r="1.75" fill="#2876a8"/>
<circle cx="463.4" cy="471.0" r="1.75" fill="#2876a8"/>
<circle cx="454.7" cy="461.0" r="1.75" fill="#2876a8"/>
<circle cx="432.4" cy="490.2" r="1.75" fill="#2876a8"/>
<circle cx="468.7" cy="489.6" r="1.75" fill="#2876a8"/>
<circle cx="475.2" cy="453.8" r="1.75" fill="#2876a8"/>
<circle cx="466.8" cy="507.8" r="1.75" fill="#2876a8"/>
<circle cx="474.5" cy="480.1" r="1.75" fill="#2876a8"/>
<circle cx="470.2" cy="495.7" r="1.75" fill="#2876a8"/>
<circle cx="440.0" cy="447.9" r="1.75" fill="#2876a8"/>
<circle cx="452.5" cy="473.3" r="1.75" fill="#2876a8"/>
<circle cx="462.6" cy="484.8" r="1.75" fill="#2876a8"/>
<circle cx="435.1" cy="484.4" r="1.75" fill="#2876a8"/>
<circle cx="452.9" cy="452.9" r="1.75" fill="#2876a8"/>
<circle cx="442.7" cy="465.6" r="1.75" fill="#2876a8"/>
<circle cx="430.8" cy="486.2" r="1.75" fill="#2876a8"/>
<circle cx="447.2" cy="485.3" r="1.75" fill="#2876a8"/>
<circle cx="464.0" cy="472.2" r="1.75" fill="#2876a8"/>
<circle cx="468.2" cy="441.2" r="1.75" fill="#2876a8"/>
<circle cx="447.9" cy="440.1" r="1.75" fill="#2876a8"/>
<circle cx="438.6" cy="465.1" r="1.75" fill="#2876a8"/>
<circle cx="436.7" cy="482.6" r="1.75" fill="#2876a8"/>
<circle cx="460.0" cy="489.4" r="1.75" fill="#2876a8"/>
<circle cx="469.8" cy="490.5" r="1.75" fill="#2876a8"/>
<circle cx="450.2" cy="468.4" r="1.75" fill="#2876a8"/>
<circle cx="457.5" cy="479.5" r="1.75" fill="#2876a8"/>
<circle cx="461.1" cy="477.1" r="1.75" fill="#2876a8"/>
<circle cx="461.7" cy="460.0" r="1.75" fill="#2876a8"/>
<circle cx="468.2" cy="471.1" r="1.75" fill="#2876a8"/>
<circle cx="441.3" cy="468.2" r="1.75" fill="#2876a8"/>
<circle cx="455.8" cy="481.8" r="1.75" fill="#2876a8"/>
<circle cx="456.7" cy="485.9" r="1.75" fill="#2876a8"/>
<circle cx="470.4" cy="472.2" r="1.75" fill="#2876a8"/>
<circle cx="457.3" cy="454.3" r="1.75" fill="#2876a8"/>
<circle cx="450.5" cy="469.6" r="1.75" fill="#2876a8"/>
<circle cx="445.8" cy="464.5" r="1.75" fill="#2876a8"/>
<circle cx="461.9" cy="493.1" r="1.75" fill="#2876a8"/>
<circle cx="466.7" cy="494.0" r="1.75" fill="#2876a8"/>
<circle cx="440.7" cy="463.1" r="1.75" fill="#2876a8"/>
<circle cx="477.9" cy="464.3" r="1.75" fill="#2876a8"/>
<circle cx="458.4" cy="524.8" r="1.75" fill="#2876a8"/>
<circle cx="456.4" cy="477.1" r="1.75" fill="#2876a8"/>
<circle cx="466.8" cy="485.5" r="1.75" fill="#2876a8"/>
<circle cx="456.2" cy="486.1" r="1.75" fill="#2876a8"/>
<circle cx="444.8" cy="470.0" r="1.75" fill="#2876a8"/>
<circle cx="460.5" cy="461.8" r="1.75" fill="#2876a8"/>
<circle cx="465.9" cy="484.1" r="1.75" fill="#2876a8"/>
<circle cx="459.0" cy="501.2" r="1.75" fill="#2876a8"/>
<circle cx="444.2" cy="474.6" r="1.75" fill="#2876a8"/>
<circle cx="450.7" cy="500.0" r="1.75" fill="#2876a8"/>
<circle cx="441.3" cy="465.2" r="1.75" fill="#2876a8"/>
<circle cx="443.2" cy="513.1" r="1.75" fill="#2876a8"/>
<circle cx="437.5" cy="489.1" r="1.75" fill="#2876a8"/>
<circle cx="475.2" cy="475.5" r="1.75" fill="#2876a8"/>
<circle cx="481.6" cy="500.4" r="1.75" fill="#2876a8"/>
<circle cx="447.7" cy="462.2" r="1.75" fill="#2876a8"/>
<circle cx="465.7" cy="468.0" r="1.75" fill="#2876a8"/>
<circle cx="435.5" cy="495.1" r="1.75" fill="#2876a8"/>
<circle cx="468.1" cy="502.5" r="1.75" fill="#2876a8"/>
<circle cx="455.7" cy="491.2" r="1.75" fill="#2876a8"/>
<circle cx="442.2" cy="491.1" r="1.75" fill="#2876a8"/>
<circle cx="457.0" cy="483.6" r="1.75" fill="#2876a8"/>
<circle cx="452.2" cy="449.4" r="1.75" fill="#2876a8"/>
<circle cx="469.1" cy="503.9" r="1.75" fill="#2876a8"/>
<circle cx="445.8" cy="496.8" r="1.75" fill="#2876a8"/>
<circle cx="448.4" cy="481.2" r="1.75" fill="#2876a8"/>
<circle cx="472.2" cy="510.8" r="1.75" fill="#2876a8"/>
<circle cx="446.1" cy="448.2" r="1.75" fill="#2876a8"/>
<circle cx="435.7" cy="483.6" r="1.75" fill="#2876a8"/>
<circle cx="461.1" cy="474.3" r="1.75" fill="#2876a8"/>
<circle cx="469.5" cy="477.2" r="1.75" fill="#2876a8"/>
<circle cx="453.1" cy="489.1" r="1.75" fill="#2876a8"/>
<circle cx="475.3" cy="486.2" r="1.75" fill="#2876a8"/>
<circle cx="453.3" cy="474.4" r="1.75" fill="#2876a8"/>
<circle cx="438.5" cy="464.5" r="1.75" fill="#2876a8"/>
<circle cx="462.2" cy="510.2" r="1.75" fill="#2876a8"/>
<circle cx="445.3" cy="478.1" r="1.75" fill="#2876a8"/>
<circle cx="441.6" cy="472.2" r="1.75" fill="#2876a8"/>
<circle cx="463.3" cy="487.6" r="1.75" fill="#2876a8"/>
<circle cx="464.0" cy="506.2" r="1.75" fill="#2876a8"/>
<circle cx="464.8" cy="463.4" r="1.75" fill="#2876a8"/>
<circle cx="447.2" cy="469.8" r="1.75" fill="#2876a8"/>
<circle cx="459.3" cy="491.0" r="1.75" fill="#2876a8"/>
<circle cx="467.7" cy="475.4" r="1.75" fill="#2876a8"/>
<circle cx="469.7" cy="498.3" r="1.75" fill="#2876a8"/>
<circle cx="477.7" cy="480.5" r="1.75" fill="#2876a8"/>
<circle cx="448.9" cy="464.6" r="1.75" fill="#2876a8"/>
<circle cx="449.4" cy="497.6" r="1.75" fill="#2876a8"/>
<circle cx="472.4" cy="468.7" r="1.75" fill="#2876a8"/>
<circle cx="437.0" cy="478.3" r="1.75" fill="#2876a8"/>
<circle cx="463.3" cy="478.2" r="1.75" fill="#2876a8"/>
<circle cx="446.4" cy="473.2" r="1.75" fill="#2876a8"/>
<circle cx="450.4" cy="495.5" r="1.75" fill="#2876a8"/>
<circle cx="467.4" cy="453.2" r="1.75" fill="#2876a8"/>
<circle cx="438.3" cy="458.1" r="1.75" fill="#2876a8"/>
<circle cx="479.1" cy="473.3" r="1.75" fill="#2876a8"/>
<circle cx="457.6" cy="473.1" r="1.75" fill="#2876a8"/>
<circle cx="462.9" cy="449.6" r="1.75" fill="#2876a8"/>
<circle cx="452.4" cy="462.6" r="1.75" fill="#2876a8"/>
<circle cx="465.7" cy="509.6" r="1.75" fill="#2876a8"/>
<circle cx="440.8" cy="464.5" r="1.75" fill="#2876a8"/>
<circle cx="449.1" cy="461.7" r="1.75" fill="#2876a8"/>
<circle cx="457.7" cy="448.0" r="1.75" fill="#2876a8"/>
<circle cx="464.9" cy="485.3" r="1.75" fill="#2876a8"/>
<circle cx="431.1" cy="472.8" r="1.75" fill="#2876a8"/>
<circle cx="435.6" cy="480.3" r="1.75" fill="#2876a8"/>
<circle cx="437.0" cy="510.9" r="1.75" fill="#2876a8"/>
<circle cx="475.7" cy="481.4" r="1.75" fill="#2876a8"/>
<circle cx="458.9" cy="464.1" r="1.75" fill="#2876a8"/>
<circle cx="442.6" cy="497.8" r="1.75" fill="#2876a8"/>
<circle cx="472.9" cy="478.9" r="1.75" fill="#2876a8"/>
<circle cx="461.8" cy="478.2" r="1.75" fill="#2876a8"/>
<circle cx="472.0" cy="458.7" r="1.75" fill="#2876a8"/>
<circle cx="445.7" cy="472.6" r="1.75" fill="#2876a8"/>
<circle cx="445.2" cy="454.2" r="1.75" fill="#2876a8"/>
<circle cx="444.2" cy="510.0" r="1.75" fill="#2876a8"/>
<circle cx="438.4" cy="478.3" r="1.75" fill="#2876a8"/>
<circle cx="444.7" cy="462.4" r="1.75" fill="#2876a8"/>
<circle cx="449.8" cy="471.8" r="1.75" fill="#2876a8"/>
<circle cx="460.6" cy="481.6" r="1.75" fill="#2876a8"/>
<circle cx="459.7" cy="492.0" r="1.75" fill="#2876a8"/>
<circle cx="464.3" cy="483.7" r="1.75" fill="#2876a8"/>
<circle cx="473.7" cy="478.2" r="1.75" fill="#2876a8"/>
<circle cx="462.3" cy="485.9" r="1.75" fill="#2876a8"/>
<circle cx="466.3" cy="471.8" r="1.75" fill="#2876a8"/>
<circle cx="445.4" cy="497.1" r="1.75" fill="#2876a8"/>
<circle cx="447.8" cy="469.7" r="1.75" fill="#2876a8"/>
<circle cx="444.7" cy="472.6" r="1.75" fill="#2876a8"/>
<circle cx="440.3" cy="495.8" r="1.75" fill="#2876a8"/>
<circle cx="441.6" cy="516.3" r="1.75" fill="#2876a8"/>
<circle cx="465.6" cy="476.3" r="1.75" fill="#2876a8"/>
<circle cx="427.2" cy="511.1" r="1.75" fill="#2876a8"/>
<circle cx="475.5" cy="477.5" r="1.75" fill="#2876a8"/>
<circle cx="460.0" cy="478.7" r="1.75" fill="#2876a8"/>
<circle cx="469.8" cy="490.4" r="1.75" fill="#2876a8"/>
<circle cx="434.0" cy="477.6" r="1.75" fill="#2876a8"/>
<circle cx="442.0" cy="463.0" r="1.75" fill="#2876a8"/>
<circle cx="442.5" cy="491.5" r="1.75" fill="#2876a8"/>
<circle cx="464.2" cy="470.5" r="1.75" fill="#2876a8"/>
<circle cx="452.3" cy="499.7" r="1.75" fill="#2876a8"/>
<circle cx="460.7" cy="457.6" r="1.75" fill="#2876a8"/>
<circle cx="464.8" cy="474.0" r="1.75" fill="#2876a8"/>
<circle cx="457.3" cy="480.1" r="1.75" fill="#2876a8"/>
<circle cx="435.8" cy="489.6" r="1.75" fill="#2876a8"/>
<circle cx="453.3" cy="510.7" r="1.75" fill="#2876a8"/>
<circle cx="442.7" cy="494.0" r="1.75" fill="#2876a8"/>
<circle cx="444.5" cy="494.2" r="1.75" fill="#2876a8"/>
<circle cx="433.9" cy="469.2" r="1.75" fill="#2876a8"/>
<circle cx="461.7" cy="497.8" r="1.75" fill="#2876a8"/>
<circle cx="470.6" cy="522.3" r="1.75" fill="#2876a8"/>
<circle cx="440.5" cy="453.6" r="1.75" fill="#2876a8"/>
<circle cx="456.1" cy="487.9" r="1.75" fill="#2876a8"/>
<circle cx="475.3" cy="464.5" r="1.75" fill="#2876a8"/>
<circle cx="468.1" cy="505.1" r="1.75" fill="#2876a8"/>
<circle cx="443.8" cy="461.5" r="1.75" fill="#2876a8"/>
<circle cx="427.5" cy="500.6" r="1.75" fill="#2876a8"/>
<circle cx="460.4" cy="459.3" r="1.75" fill="#2876a8"/>
<circle cx="444.2" cy="505.2" r="1.75" fill="#2876a8"/>
<circle cx="440.2" cy="471.7" r="1.75" fill="#2876a8"/>
<circle cx="459.2" cy="497.1" r="1.75" fill="#2876a8"/>
<circle cx="451.2" cy="494.4" r="1.75" fill="#2876a8"/>
<circle cx="452.9" cy="454.0" r="1.75" fill="#2876a8"/>
<circle cx="475.1" cy="480.8" r="1.75" fill="#2876a8"/>
<circle cx="459.6" cy="467.6" r="1.75" fill="#2876a8"/>
<circle cx="457.8" cy="476.1" r="1.75" fill="#2876a8"/>
<circle cx="446.2" cy="481.2" r="1.75" fill="#2876a8"/>
<circle cx="474.4" cy="489.3" r="1.75" fill="#2876a8"/>
<circle cx="461.7" cy="510.9" r="1.75" fill="#2876a8"/>
<circle cx="455.5" cy="498.6" r="1.75" fill="#2876a8"/>
<circle cx="455.9" cy="488.4" r="1.75" fill="#2876a8"/>
<circle cx="469.9" cy="479.3" r="1.75" fill="#2876a8"/>
<circle cx="439.3" cy="462.6" r="1.75" fill="#2876a8"/>
<circle cx="445.3" cy="447.7" r="1.75" fill="#2876a8"/>
<circle cx="459.0" cy="486.7" r="1.75" fill="#2876a8"/>
<circle cx="443.0" cy="462.7" r="1.75" fill="#2876a8"/>
<circle cx="451.3" cy="486.1" r="1.75" fill="#2876a8"/>
<circle cx="469.0" cy="485.2" r="1.75" fill="#2876a8"/>
<circle cx="463.2" cy="470.7" r="1.75" fill="#2876a8"/>
<circle cx="461.6" cy="481.0" r="1.75" fill="#2876a8"/>
<circle cx="443.3" cy="477.7" r="1.75" fill="#2876a8"/>
<circle cx="454.5" cy="496.4" r="1.75" fill="#2876a8"/>
<circle cx="458.2" cy="483.2" r="1.75" fill="#2876a8"/>
<circle cx="438.2" cy="490.8" r="1.75" fill="#2876a8"/>
<circle cx="476.5" cy="462.2" r="1.75" fill="#2876a8"/>
<circle cx="470.9" cy="436.8" r="1.75" fill="#2876a8"/>
<circle cx="443.1" cy="451.2" r="1.75" fill="#2876a8"/>
<circle cx="460.8" cy="453.8" r="1.75" fill="#2876a8"/>
<circle cx="464.6" cy="470.6" r="1.75" fill="#2876a8"/>
<circle cx="436.6" cy="485.2" r="1.75" fill="#2876a8"/>
<circle cx="484.8" cy="476.4" r="1.75" fill="#2876a8"/>
<circle cx="462.3" cy="487.3" r="1.75" fill="#2876a8"/>
<circle cx="441.4" cy="475.1" r="1.75" fill="#2876a8"/>
<circle cx="469.3" cy="468.4" r="1.75" fill="#2876a8"/>
<circle cx="460.0" cy="481.8" r="1.75" fill="#2876a8"/>
<circle cx="432.8" cy="464.0" r="1.75" fill="#2876a8"/>
<circle cx="443.6" cy="450.9" r="1.75" fill="#2876a8"/>
<circle cx="452.6" cy="464.8" r="1.75" fill="#2876a8"/>
<circle cx="449.1" cy="501.0" r="1.75" fill="#2876a8"/>
<circle cx="441.9" cy="474.6" r="1.75" fill="#2876a8"/>
<circle cx="455.6" cy="466.8" r="1.75" fill="#2876a8"/>
<circle cx="469.2" cy="491.3" r="1.75" fill="#2876a8"/>
<circle cx="481.3" cy="481.1" r="1.75" fill="#2876a8"/>
<circle cx="439.5" cy="451.4" r="1.75" fill="#2876a8"/>
<circle cx="458.5" cy="490.8" r="1.75" fill="#2876a8"/>
<circle cx="477.5" cy="473.3" r="1.75" fill="#2876a8"/>
<circle cx="440.6" cy="465.5" r="1.75" fill="#2876a8"/>
<circle cx="469.7" cy="482.6" r="1.75" fill="#2876a8"/>
<circle cx="456.9" cy="484.9" r="1.75" fill="#2876a8"/>
<circle cx="457.9" cy="515.8" r="1.75" fill="#2876a8"/>
<circle cx="462.8" cy="494.3" r="1.75" fill="#2876a8"/>
<circle cx="478.6" cy="491.3" r="1.75" fill="#2876a8"/>
<circle cx="439.3" cy="488.5" r="1.75" fill="#2876a8"/>
<circle cx="447.1" cy="461.0" r="1.75" fill="#2876a8"/>
<circle cx="436.0" cy="478.2" r="1.75" fill="#2876a8"/>
<circle cx="430.0" cy="482.1" r="1.75" fill="#2876a8"/>
<circle cx="476.0" cy="469.9" r="1.75" fill="#2876a8"/>
<circle cx="445.8" cy="461.7" r="1.75" fill="#2876a8"/>
<circle cx="477.6" cy="475.7" r="1.75" fill="#2876a8"/>
<circle cx="441.1" cy="464.6" r="1.75" fill="#2876a8"/>
<circle cx="467.8" cy="488.3" r="1.75" fill="#2876a8"/>
<circle cx="444.7" cy="499.9" r="1.75" fill="#2876a8"/>
<circle cx="451.2" cy="460.1" r="1.75" fill="#2876a8"/>
<circle cx="458.0" cy="501.3" r="1.75" fill="#2876a8"/>
<circle cx="473.2" cy="457.1" r="1.75" fill="#2876a8"/>
<circle cx="450.4" cy="472.3" r="1.75" fill="#2876a8"/>
<circle cx="465.7" cy="494.7" r="1.75" fill="#2876a8"/>
<circle cx="454.7" cy="477.5" r="1.75" fill="#2876a8"/>
<circle cx="451.1" cy="521.5" r="1.75" fill="#2876a8"/>
<circle cx="470.1" cy="474.4" r="1.75" fill="#2876a8"/>
<circle cx="478.3" cy="480.5" r="1.75" fill="#2876a8"/>
<circle cx="459.0" cy="487.5" r="1.75" fill="#2876a8"/>
<circle cx="457.9" cy="467.8" r="1.75" fill="#2876a8"/>
<circle cx="434.2" cy="472.5" r="1.75" fill="#2876a8"/>
<circle cx="450.1" cy="511.0" r="1.75" fill="#2876a8"/>
<circle cx="494.4" cy="457.6" r="1.75" fill="#2876a8"/>
<circle cx="443.7" cy="460.0" r="1.75" fill="#2876a8"/>
<circle cx="433.7" cy="486.8" r="1.75" fill="#2876a8"/>
<circle cx="442.7" cy="503.8" r="1.75" fill="#2876a8"/>
<circle cx="472.5" cy="462.9" r="1.75" fill="#2876a8"/>
<circle cx="476.4" cy="478.2" r="1.75" fill="#2876a8"/>
<circle cx="445.7" cy="500.5" r="1.75" fill="#2876a8"/>
<circle cx="447.5" cy="500.5" r="1.75" fill="#2876a8"/>
<circle cx="456.0" cy="461.1" r="1.75" fill="#2876a8"/>
<circle cx="475.0" cy="473.3" r="1.75" fill="#2876a8"/>
<circle cx="442.9" cy="463.7" r="1.75" fill="#2876a8"/>
<circle cx="436.8" cy="490.3" r="1.75" fill="#2876a8"/>
<circle cx="447.2" cy="491.7" r="1.75" fill="#2876a8"/>
<circle cx="461.5" cy="459.7" r="1.75" fill="#2876a8"/>
<circle cx="466.4" cy="456.5" r="1.75" fill="#2876a8"/>
<circle cx="453.3" cy="486.8" r="1.75" fill="#2876a8"/>
<circle cx="452.1" cy="482.8" r="1.75" fill="#2876a8"/>
<circle cx="432.3" cy="471.9" r="1.75" fill="#2876a8"/>
<circle cx="456.3" cy="446.1" r="1.75" fill="#2876a8"/>
<circle cx="434.4" cy="471.6" r="1.75" fill="#2876a8"/>
<circle cx="443.6" cy="480.2" r="1.75" fill="#2876a8"/>
<circle cx="458.0" cy="468.8" r="1.75" fill="#2876a8"/>
<circle cx="443.1" cy="487.5" r="1.75" fill="#2876a8"/>
<circle cx="464.3" cy="486.7" r="1.75" fill="#2876a8"/>
<circle cx="442.4" cy="495.1" r="1.75" fill="#2876a8"/>
<circle cx="479.7" cy="490.6" r="1.75" fill="#2876a8"/>
<circle cx="450.4" cy="460.5" r="1.75" fill="#2876a8"/>
<circle cx="438.6" cy="460.2" r="1.75" fill="#2876a8"/>
<circle cx="454.0" cy="506.7" r="1.75" fill="#2876a8"/>
<circle cx="438.7" cy="495.0" r="1.75" fill="#2876a8"/>
<circle cx="449.0" cy="436.9" r="1.75" fill="#2876a8"/>
<circle cx="472.2" cy="491.3" r="1.75" fill="#2876a8"/>
<circle cx="462.3" cy="456.8" r="1.75" fill="#2876a8"/>
<circle cx="476.6" cy="456.1" r="1.75" fill="#2876a8"/>
<circle cx="464.9" cy="481.7" r="1.75" fill="#2876a8"/>
<circle cx="452.5" cy="491.4" r="1.75" fill="#2876a8"/>
<circle cx="439.6" cy="474.5" r="1.75" fill="#2876a8"/>
<circle cx="460.3" cy="449.3" r="1.75" fill="#2876a8"/>
<circle cx="439.8" cy="482.6" r="1.75" fill="#2876a8"/>
<circle cx="468.6" cy="488.7" r="1.75" fill="#2876a8"/>
<circle cx="459.3" cy="465.1" r="1.75" fill="#2876a8"/>
<circle cx="452.6" cy="449.4" r="1.75" fill="#2876a8"/>
<circle cx="451.6" cy="493.3" r="1.75" fill="#2876a8"/>
<circle cx="455.2" cy="481.9" r="1.75" fill="#2876a8"/>
<circle cx="442.6" cy="484.0" r="1.75" fill="#2876a8"/>
<circle cx="454.4" cy="465.7" r="1.75" fill="#2876a8"/>
<circle cx="467.5" cy="482.9" r="1.75" fill="#2876a8"/>
<circle cx="444.7" cy="451.9" r="1.75" fill="#2876a8"/>
<circle cx="444.6" cy="478.6" r="1.75" fill="#2876a8"/>
<circle cx="462.5" cy="479.0" r="1.75" fill="#2876a8"/>
<circle cx="438.8" cy="483.0" r="1.75" fill="#2876a8"/>
<circle cx="453.4" cy="446.4" r="1.75" fill="#2876a8"/>
<circle cx="439.3" cy="458.2" r="1.75" fill="#2876a8"/>
<circle cx="460.1" cy="453.4" r="1.75" fill="#2876a8"/>
<circle cx="475.7" cy="488.0" r="1.75" fill="#2876a8"/>
<circle cx="454.0" cy="467.4" r="1.75" fill="#2876a8"/>
<circle cx="454.6" cy="449.9" r="1.75" fill="#2876a8"/>
<circle cx="477.3" cy="464.1" r="1.75" fill="#2876a8"/>
<circle cx="468.3" cy="472.0" r="1.75" fill="#2876a8"/>
<circle cx="441.4" cy="498.6" r="1.75" fill="#2876a8"/>
<circle cx="470.0" cy="494.5" r="1.75" fill="#2876a8"/>
<circle cx="432.8" cy="477.4" r="1.75" fill="#2876a8"/>
<circle cx="444.4" cy="489.0" r="1.75" fill="#2876a8"/>
<circle cx="455.0" cy="459.6" r="1.75" fill="#2876a8"/>
<circle cx="441.4" cy="453.2" r="1.75" fill="#2876a8"/>
<circle cx="462.2" cy="488.9" r="1.75" fill="#2876a8"/>
<circle cx="437.2" cy="457.6" r="1.75" fill="#2876a8"/>
<circle cx="457.8" cy="467.0" r="1.75" fill="#2876a8"/>
<circle cx="457.5" cy="431.6" r="1.75" fill="#2876a8"/>
<circle cx="461.9" cy="481.9" r="1.75" fill="#2876a8"/>
<circle cx="442.7" cy="486.0" r="1.75" fill="#2876a8"/>
<circle cx="470.5" cy="506.7" r="1.75" fill="#2876a8"/>
<circle cx="462.4" cy="495.7" r="1.75" fill="#2876a8"/>
<circle cx="451.1" cy="459.3" r="1.75" fill="#2876a8"/>
<circle cx="451.2" cy="457.7" r="1.75" fill="#2876a8"/>
<circle cx="442.2" cy="452.5" r="1.75" fill="#2876a8"/>
<circle cx="448.2" cy="482.7" r="1.75" fill="#2876a8"/>
<circle cx="462.4" cy="503.7" r="1.75" fill="#2876a8"/>
<circle cx="428.0" cy="468.6" r="1.75" fill="#2876a8"/>
<circle cx="490.6" cy="470.9" r="1.75" fill="#2876a8"/>
<circle cx="443.5" cy="498.1" r="1.75" fill="#2876a8"/>
<circle cx="450.2" cy="471.2" r="1.75" fill="#2876a8"/>
<circle cx="459.1" cy="503.1" r="1.75" fill="#2876a8"/>
<circle cx="457.9" cy="478.1" r="1.75" fill="#2876a8"/>
<circle cx="475.9" cy="492.9" r="1.75" fill="#2876a8"/>
<circle cx="439.0" cy="465.7" r="1.75" fill="#2876a8"/>
<circle cx="484.7" cy="472.2" r="1.75" fill="#2876a8"/>
<circle cx="434.2" cy="480.6" r="1.75" fill="#2876a8"/>
<circle cx="435.0" cy="477.7" r="1.75" fill="#2876a8"/>
<circle cx="460.9" cy="462.1" r="1.75" fill="#2876a8"/>
<circle cx="451.7" cy="495.4" r="1.75" fill="#2876a8"/>
<circle cx="452.4" cy="436.2" r="1.75" fill="#2876a8"/>
<circle cx="472.8" cy="500.8" r="1.75" fill="#2876a8"/>
<circle cx="448.6" cy="470.1" r="1.75" fill="#2876a8"/>
<circle cx="463.6" cy="484.6" r="1.75" fill="#2876a8"/>
<circle cx="457.2" cy="464.2" r="1.75" fill="#2876a8"/>
<circle cx="439.2" cy="476.2" r="1.75" fill="#2876a8"/>
<circle cx="457.2" cy="496.3" r="1.75" fill="#2876a8"/>
<circle cx="458.0" cy="467.8" r="1.75" fill="#2876a8"/>
<circle cx="484.1" cy="482.9" r="1.75" fill="#2876a8"/>
<circle cx="443.5" cy="507.7" r="1.75" fill="#2876a8"/>
<circle cx="467.9" cy="479.2" r="1.75" fill="#2876a8"/>
<circle cx="420.6" cy="475.4" r="1.75" fill="#2876a8"/>
<circle cx="436.8" cy="470.2" r="1.75" fill="#2876a8"/>
<circle cx="449.9" cy="456.7" r="1.75" fill="#2876a8"/>
<circle cx="438.0" cy="457.8" r="1.75" fill="#2876a8"/>
<circle cx="457.5" cy="460.7" r="1.75" fill="#2876a8"/>
<circle cx="453.0" cy="462.2" r="1.75" fill="#2876a8"/>
<circle cx="475.9" cy="515.8" r="1.75" fill="#2876a8"/>
<circle cx="438.8" cy="488.0" r="1.75" fill="#2876a8"/>
<circle cx="461.2" cy="486.6" r="1.75" fill="#2876a8"/>
<circle cx="465.3" cy="499.7" r="1.75" fill="#2876a8"/>
<circle cx="438.5" cy="454.6" r="1.75" fill="#2876a8"/>
<circle cx="466.3" cy="500.8" r="1.75" fill="#2876a8"/>
<circle cx="438.5" cy="481.1" r="1.75" fill="#2876a8"/>
<circle cx="451.4" cy="488.0" r="1.75" fill="#2876a8"/>
<circle cx="450.3" cy="503.7" r="1.75" fill="#2876a8"/>
<circle cx="478.1" cy="451.5" r="1.75" fill="#2876a8"/>
<circle cx="462.3" cy="474.2" r="1.75" fill="#2876a8"/>
<circle cx="447.6" cy="476.4" r="1.75" fill="#2876a8"/>
<circle cx="476.7" cy="480.3" r="1.75" fill="#2876a8"/>
<circle cx="452.0" cy="462.9" r="1.75" fill="#2876a8"/>
<circle cx="470.0" cy="479.1" r="1.75" fill="#2876a8"/>
<circle cx="461.1" cy="478.8" r="1.75" fill="#2876a8"/>
<circle cx="432.7" cy="474.7" r="1.75" fill="#2876a8"/>
<circle cx="477.4" cy="465.2" r="1.75" fill="#2876a8"/>
<circle cx="448.9" cy="451.9" r="1.75" fill="#2876a8"/>
<circle cx="471.3" cy="494.5" r="1.75" fill="#2876a8"/>
<circle cx="484.5" cy="468.8" r="1.75" fill="#2876a8"/>
<circle cx="446.8" cy="456.5" r="1.75" fill="#2876a8"/>
<circle cx="438.1" cy="482.7" r="1.75" fill="#2876a8"/>
<circle cx="461.3" cy="473.1" r="1.75" fill="#2876a8"/>
<circle cx="467.5" cy="487.9" r="1.75" fill="#2876a8"/>
<circle cx="440.6" cy="467.9" r="1.75" fill="#2876a8"/>
<circle cx="465.5" cy="483.7" r="1.75" fill="#2876a8"/>
<circle cx="443.3" cy="452.1" r="1.75" fill="#2876a8"/>
<circle cx="467.5" cy="459.3" r="1.75" fill="#2876a8"/>
<circle cx="466.9" cy="482.3" r="1.75" fill="#2876a8"/>
<circle cx="444.3" cy="455.1" r="1.75" fill="#2876a8"/>
<circle cx="446.0" cy="454.8" r="1.75" fill="#2876a8"/>
<circle cx="437.9" cy="488.0" r="1.75" fill="#2876a8"/>
<circle cx="459.2" cy="494.4" r="1.75" fill="#2876a8"/>
<circle cx="461.1" cy="501.7" r="1.75" fill="#2876a8"/>
<circle cx="428.5" cy="464.9" r="1.75" fill="#2876a8"/>
<circle cx="448.2" cy="474.0" r="1.75" fill="#2876a8"/>
<circle cx="449.3" cy="453.2" r="1.75" fill="#2876a8"/>
<circle cx="463.5" cy="459.8" r="1.75" fill="#2876a8"/>
<circle cx="470.7" cy="478.1" r="1.75" fill="#2876a8"/>
<circle cx="462.7" cy="502.9" r="1.75" fill="#2876a8"/>
<circle cx="442.6" cy="467.6" r="1.75" fill="#2876a8"/>
<circle cx="450.6" cy="452.7" r="1.75" fill="#2876a8"/>
<circle cx="490.0" cy="476.9" r="1.75" fill="#2876a8"/>
<circle cx="441.7" cy="465.9" r="1.75" fill="#2876a8"/>
<circle cx="433.5" cy="484.2" r="1.75" fill="#2876a8"/>
<circle cx="458.1" cy="505.0" r="1.75" fill="#2876a8"/>
<circle cx="478.0" cy="466.9" r="1.75" fill="#2876a8"/>
<circle cx="445.6" cy="471.6" r="1.75" fill="#2876a8"/>
<circle cx="458.3" cy="493.9" r="1.75" fill="#2876a8"/>
<circle cx="458.1" cy="486.1" r="1.75" fill="#2876a8"/>
<circle cx="465.0" cy="463.5" r="1.75" fill="#2876a8"/>
<circle cx="434.0" cy="476.7" r="1.75" fill="#2876a8"/>
<circle cx="439.2" cy="488.5" r="1.75" fill="#2876a8"/>
<circle cx="456.8" cy="448.8" r="1.75" fill="#2876a8"/>
<circle cx="444.6" cy="450.3" r="1.75" fill="#2876a8"/>
<circle cx="444.9" cy="507.5" r="1.75" fill="#2876a8"/>
<circle cx="454.7" cy="476.3" r="1.75" fill="#2876a8"/>
<circle cx="461.3" cy="475.2" r="1.75" fill="#2876a8"/>
<circle cx="447.9" cy="492.3" r="1.75" fill="#2876a8"/>
<circle cx="452.3" cy="473.0" r="1.75" fill="#2876a8"/>
<circle cx="478.4" cy="477.0" r="1.75" fill="#2876a8"/>
<circle cx="445.7" cy="427.2" r="1.75" fill="#2876a8"/>
<circle cx="450.5" cy="466.4" r="1.75" fill="#2876a8"/>
<circle cx="456.3" cy="480.5" r="1.75" fill="#2876a8"/>
<circle cx="440.7" cy="460.3" r="1.75" fill="#2876a8"/>
<circle cx="465.6" cy="505.0" r="1.75" fill="#2876a8"/>
<circle cx="455.2" cy="477.8" r="1.75" fill="#2876a8"/>
<circle cx="465.0" cy="481.8" r="1.75" fill="#2876a8"/>
<circle cx="456.9" cy="497.6" r="1.75" fill="#2876a8"/>
<circle cx="448.1" cy="497.6" r="1.75" fill="#2876a8"/>
<circle cx="447.7" cy="503.6" r="1.75" fill="#2876a8"/>
<circle cx="467.3" cy="491.7" r="1.75" fill="#2876a8"/>
<circle cx="452.7" cy="513.6" r="1.75" fill="#2876a8"/>
<circle cx="439.5" cy="463.8" r="1.75" fill="#2876a8"/>
<circle cx="453.0" cy="460.8" r="1.75" fill="#2876a8"/>
<circle cx="431.7" cy="434.4" r="1.75" fill="#2876a8"/>
<circle cx="464.8" cy="500.0" r="1.75" fill="#2876a8"/>
<circle cx="480.2" cy="472.1" r="1.75" fill="#2876a8"/>
<circle cx="469.7" cy="461.9" r="1.75" fill="#2876a8"/>
<circle cx="443.7" cy="453.8" r="1.75" fill="#2876a8"/>
<circle cx="468.0" cy="481.2" r="1.75" fill="#2876a8"/>
<circle cx="439.9" cy="454.2" r="1.75" fill="#2876a8"/>
<circle cx="463.2" cy="456.9" r="1.75" fill="#2876a8"/>
<circle cx="444.7" cy="475.2" r="1.75" fill="#2876a8"/>
<circle cx="430.5" cy="475.6" r="1.75" fill="#2876a8"/>
<circle cx="429.5" cy="448.3" r="1.75" fill="#2876a8"/>
<circle cx="438.2" cy="485.2" r="1.75" fill="#2876a8"/>
<circle cx="488.3" cy="469.6" r="1.75" fill="#2876a8"/>
<circle cx="435.9" cy="473.0" r="1.75" fill="#2876a8"/>
<circle cx="461.0" cy="481.3" r="1.75" fill="#2876a8"/>
<circle cx="451.2" cy="452.7" r="1.75" fill="#2876a8"/>
<circle cx="475.7" cy="472.8" r="1.75" fill="#2876a8"/>
<circle cx="439.1" cy="455.1" r="1.75" fill="#2876a8"/>
<circle cx="454.5" cy="501.9" r="1.75" fill="#2876a8"/>
<circle cx="435.9" cy="484.6" r="1.75" fill="#2876a8"/>
<circle cx="455.0" cy="466.9" r="1.75" fill="#2876a8"/>
<circle cx="457.0" cy="467.3" r="1.75" fill="#2876a8"/>
<circle cx="416.3" cy="483.6" r="1.75" fill="#2876a8"/>
<circle cx="449.2" cy="478.6" r="1.75" fill="#2876a8"/>
<circle cx="434.4" cy="452.8" r="1.75" fill="#2876a8"/>
<circle cx="468.7" cy="506.2" r="1.75" fill="#2876a8"/>
<circle cx="469.9" cy="446.2" r="1.75" fill="#2876a8"/>
<circle cx="452.5" cy="486.7" r="1.75" fill="#2876a8"/>
<circle cx="434.4" cy="467.4" r="1.75" fill="#2876a8"/>
<circle cx="465.4" cy="474.5" r="1.75" fill="#2876a8"/>
<circle cx="468.7" cy="462.8" r="1.75" fill="#2876a8"/>
<circle cx="467.6" cy="458.9" r="1.75" fill="#2876a8"/>
<circle cx="466.0" cy="487.3" r="1.75" fill="#2876a8"/>
<circle cx="460.4" cy="459.7" r="1.75" fill="#2876a8"/>
<circle cx="433.6" cy="473.7" r="1.75" fill="#2876a8"/>
<circle cx="448.2" cy="477.4" r="1.75" fill="#2876a8"/>
<circle cx="438.7" cy="511.8" r="1.75" fill="#2876a8"/>
<circle cx="474.1" cy="492.4" r="1.75" fill="#2876a8"/>
<circle cx="478.2" cy="479.5" r="1.75" fill="#2876a8"/>
<circle cx="468.3" cy="499.2" r="1.75" fill="#2876a8"/>
<circle cx="450.4" cy="455.3" r="1.75" fill="#2876a8"/>
<circle cx="459.5" cy="475.1" r="1.75" fill="#2876a8"/>
<circle cx="427.3" cy="463.8" r="1.75" fill="#2876a8"/>
<circle cx="450.7" cy="480.8" r="1.75" fill="#2876a8"/>
<circle cx="448.6" cy="484.5" r="1.75" fill="#2876a8"/>
<circle cx="478.1" cy="473.6" r="1.75" fill="#2876a8"/>
<circle cx="457.4" cy="464.5" r="1.75" fill="#2876a8"/>
<circle cx="456.1" cy="466.1" r="1.75" fill="#2876a8"/>
<circle cx="472.9" cy="473.2" r="1.75" fill="#2876a8"/>
<circle cx="436.1" cy="474.9" r="1.75" fill="#2876a8"/>
<circle cx="452.9" cy="513.3" r="1.75" fill="#2876a8"/>
<circle cx="479.9" cy="477.0" r="1.75" fill="#2876a8"/>
<circle cx="457.4" cy="480.7" r="1.75" fill="#2876a8"/>
<circle cx="459.8" cy="433.8" r="1.75" fill="#2876a8"/>
<circle cx="458.8" cy="470.1" r="1.75" fill="#2876a8"/>
<circle cx="468.9" cy="472.4" r="1.75" fill="#2876a8"/>
<circle cx="481.1" cy="469.5" r="1.75" fill="#2876a8"/>
<circle cx="474.0" cy="465.8" r="1.75" fill="#2876a8"/>
<circle cx="459.3" cy="501.3" r="1.75" fill="#2876a8"/>
<circle cx="463.8" cy="450.2" r="1.75" fill="#2876a8"/>
<circle cx="477.9" cy="491.1" r="1.75" fill="#2876a8"/>
<circle cx="448.8" cy="471.5" r="1.75" fill="#2876a8"/>
<circle cx="442.1" cy="471.1" r="1.75" fill="#2876a8"/>
<circle cx="467.7" cy="464.6" r="1.75" fill="#2876a8"/>
<circle cx="443.2" cy="474.0" r="1.75" fill="#2876a8"/>
<circle cx="445.6" cy="473.2" r="1.75" fill="#2876a8"/>
<circle cx="469.9" cy="491.2" r="1.75" fill="#2876a8"/>
<circle cx="415.5" cy="460.2" r="1.75" fill="#2876a8"/>
<circle cx="469.0" cy="469.1" r="1.75" fill="#2876a8"/>
<circle cx="447.4" cy="471.8" r="1.75" fill="#2876a8"/>
<circle cx="470.1" cy="489.6" r="1.75" fill="#2876a8"/>
<circle cx="470.0" cy="443.1" r="1.75" fill="#2876a8"/>
<circle cx="441.8" cy="477.4" r="1.75" fill="#2876a8"/>
<circle cx="463.6" cy="500.9" r="1.75" fill="#2876a8"/>
<circle cx="458.7" cy="488.5" r="1.75" fill="#2876a8"/>
<circle cx="445.0" cy="503.7" r="1.75" fill="#2876a8"/>
<circle cx="430.8" cy="477.2" r="1.75" fill="#2876a8"/>
<circle cx="456.8" cy="469.5" r="1.75" fill="#2876a8"/>
<circle cx="468.7" cy="489.7" r="1.75" fill="#2876a8"/>
<circle cx="453.8" cy="510.3" r="1.75" fill="#2876a8"/>
<circle cx="435.8" cy="469.2" r="1.75" fill="#2876a8"/>
<circle cx="460.3" cy="495.9" r="1.75" fill="#2876a8"/>
<circle cx="466.4" cy="445.1" r="1.75" fill="#2876a8"/>
<circle cx="460.9" cy="483.7" r="1.75" fill="#2876a8"/>
<circle cx="467.7" cy="478.9" r="1.75" fill="#2876a8"/>
<circle cx="459.6" cy="455.5" r="1.75" fill="#2876a8"/>
<circle cx="436.1" cy="458.4" r="1.75" fill="#2876a8"/>
<circle cx="461.2" cy="448.5" r="1.75" fill="#2876a8"/>
<circle cx="443.7" cy="449.7" r="1.75" fill="#2876a8"/>
<circle cx="464.3" cy="469.4" r="1.75" fill="#2876a8"/>
<circle cx="437.9" cy="455.3" r="1.75" fill="#2876a8"/>
<circle cx="467.8" cy="464.8" r="1.75" fill="#2876a8"/>
<circle cx="465.9" cy="510.0" r="1.75" fill="#2876a8"/>
<circle cx="432.5" cy="494.1" r="1.75" fill="#2876a8"/>
<circle cx="456.7" cy="500.1" r="1.75" fill="#2876a8"/>
<circle cx="438.2" cy="489.4" r="1.75" fill="#2876a8"/>
<circle cx="458.1" cy="486.3" r="1.75" fill="#2876a8"/>
<circle cx="473.4" cy="504.7" r="1.75" fill="#2876a8"/>
<circle cx="439.2" cy="476.3" r="1.75" fill="#2876a8"/>
<circle cx="436.9" cy="459.5" r="1.75" fill="#2876a8"/>
<circle cx="475.4" cy="479.2" r="1.75" fill="#2876a8"/>
<circle cx="473.6" cy="490.9" r="1.75" fill="#2876a8"/>
<circle cx="444.8" cy="506.0" r="1.75" fill="#2876a8"/>
<circle cx="459.5" cy="464.1" r="1.75" fill="#2876a8"/>
<circle cx="440.1" cy="502.3" r="1.75" fill="#2876a8"/>
<circle cx="471.8" cy="482.9" r="1.75" fill="#2876a8"/>
<circle cx="466.9" cy="468.4" r="1.75" fill="#2876a8"/>
<circle cx="478.5" cy="471.3" r="1.75" fill="#2876a8"/>
<circle cx="446.2" cy="469.4" r="1.75" fill="#2876a8"/>
<circle cx="460.4" cy="484.4" r="1.75" fill="#2876a8"/>
<circle cx="467.6" cy="456.5" r="1.75" fill="#2876a8"/>
<circle cx="468.8" cy="461.3" r="1.75" fill="#2876a8"/>
<circle cx="446.8" cy="475.7" r="1.75" fill="#2876a8"/>
<circle cx="463.4" cy="477.9" r="1.75" fill="#2876a8"/>
<circle cx="444.9" cy="470.7" r="1.75" fill="#2876a8"/>
<circle cx="467.1" cy="463.3" r="1.75" fill="#2876a8"/>
<circle cx="469.2" cy="464.4" r="1.75" fill="#2876a8"/>
<circle cx="450.2" cy="477.9" r="1.75" fill="#2876a8"/>
<circle cx="451.1" cy="475.9" r="1.75" fill="#2876a8"/>
<circle cx="444.5" cy="457.6" r="1.75" fill="#2876a8"/>
<circle cx="433.6" cy="492.2" r="1.75" fill="#2876a8"/>
<circle cx="440.9" cy="499.2" r="1.75" fill="#2876a8"/>
<circle cx="446.5" cy="477.9" r="1.75" fill="#2876a8"/>
<circle cx="447.5" cy="455.2" r="1.75" fill="#2876a8"/>
<circle cx="427.8" cy="482.6" r="1.75" fill="#2876a8"/>
<circle cx="474.2" cy="479.9" r="1.75" fill="#2876a8"/>
<circle cx="431.8" cy="488.3" r="1.75" fill="#2876a8"/>
<circle cx="450.2" cy="508.3" r="1.75" fill="#2876a8"/>
<circle cx="448.6" cy="454.7" r="1.75" fill="#2876a8"/>
<circle cx="452.2" cy="497.2" r="1.75" fill="#2876a8"/>
<circle cx="442.3" cy="474.6" r="1.75" fill="#2876a8"/>
<circle cx="462.1" cy="477.0" r="1.75" fill="#2876a8"/>
<circle cx="457.8" cy="472.1" r="1.75" fill="#2876a8"/>
<circle cx="469.1" cy="501.2" r="1.75" fill="#2876a8"/>
<circle cx="432.3" cy="452.8" r="1.75" fill="#2876a8"/>
<circle cx="456.0" cy="456.0" r="1.75" fill="#2876a8"/>
<circle cx="443.5" cy="480.6" r="1.75" fill="#2876a8"/>
<circle cx="457.9" cy="501.0" r="1.75" fill="#2876a8"/>
<circle cx="462.9" cy="511.6" r="1.75" fill="#2876a8"/>
<circle cx="459.6" cy="506.7" r="1.75" fill="#2876a8"/>
<circle cx="469.3" cy="478.0" r="1.75" fill="#2876a8"/>
<circle cx="441.3" cy="489.0" r="1.75" fill="#2876a8"/>
<circle cx="481.0" cy="472.7" r="1.75" fill="#2876a8"/>
<circle cx="423.6" cy="478.3" r="1.75" fill="#2876a8"/>
<circle cx="464.2" cy="512.1" r="1.75" fill="#2876a8"/>
<circle cx="459.9" cy="506.4" r="1.75" fill="#2876a8"/>
<circle cx="480.0" cy="493.7" r="1.75" fill="#2876a8"/>
<circle cx="452.7" cy="485.0" r="1.75" fill="#2876a8"/>
<circle cx="436.4" cy="488.1" r="1.75" fill="#2876a8"/>
<circle cx="470.7" cy="483.6" r="1.75" fill="#2876a8"/>
<circle cx="476.2" cy="500.3" r="1.75" fill="#2876a8"/>
<circle cx="447.6" cy="490.7" r="1.75" fill="#2876a8"/>
<circle cx="427.4" cy="494.0" r="1.75" fill="#2876a8"/>
<circle cx="472.9" cy="475.9" r="1.75" fill="#2876a8"/>
<circle cx="468.1" cy="485.6" r="1.75" fill="#2876a8"/>
<circle cx="446.6" cy="482.4" r="1.75" fill="#2876a8"/>
<circle cx="488.1" cy="476.4" r="1.75" fill="#2876a8"/>
<circle cx="473.8" cy="481.2" r="1.75" fill="#2876a8"/>
<circle cx="468.8" cy="465.2" r="1.75" fill="#2876a8"/>
<circle cx="452.7" cy="487.0" r="1.75" fill="#2876a8"/>
<circle cx="450.6" cy="477.3" r="1.75" fill="#2876a8"/>
<circle cx="446.6" cy="465.3" r="1.75" fill="#2876a8"/>
<circle cx="432.8" cy="473.6" r="1.75" fill="#2876a8"/>
<circle cx="440.5" cy="492.8" r="1.75" fill="#2876a8"/>
<circle cx="467.0" cy="480.8" r="1.75" fill="#2876a8"/>
<circle cx="441.0" cy="471.3" r="1.75" fill="#2876a8"/>
<circle cx="472.7" cy="486.2" r="1.75" fill="#2876a8"/>
<circle cx="437.0" cy="473.5" r="1.75" fill="#2876a8"/>
<circle cx="493.5" cy="472.8" r="1.75" fill="#2876a8"/>
<circle cx="450.6" cy="452.2" r="1.75" fill="#2876a8"/>
<circle cx="476.1" cy="471.0" r="1.75" fill="#2876a8"/>
<circle cx="441.2" cy="462.1" r="1.75" fill="#2876a8"/>
<circle cx="438.8" cy="484.6" r="1.75" fill="#2876a8"/>
<circle cx="463.5" cy="473.2" r="1.75" fill="#2876a8"/>
<circle cx="458.4" cy="457.8" r="1.75" fill="#2876a8"/>
<circle cx="430.5" cy="470.6" r="1.75" fill="#2876a8"/>
<circle cx="450.6" cy="506.0" r="1.75" fill="#2876a8"/>
<circle cx="456.7" cy="470.9" r="1.75" fill="#2876a8"/>
<circle cx="475.7" cy="459.9" r="1.75" fill="#2876a8"/>
<circle cx="472.6" cy="475.6" r="1.75" fill="#2876a8"/>
<circle cx="479.5" cy="472.7" r="1.75" fill="#2876a8"/>
<circle cx="447.2" cy="478.9" r="1.75" fill="#2876a8"/>
<circle cx="462.7" cy="484.1" r="1.75" fill="#2876a8"/>
<circle cx="460.2" cy="483.9" r="1.75" fill="#2876a8"/>
<circle cx="444.1" cy="461.4" r="1.75" fill="#2876a8"/>
<circle cx="436.2" cy="487.8" r="1.75" fill="#2876a8"/>
<circle cx="443.4" cy="459.3" r="1.75" fill="#2876a8"/>
<circle cx="461.8" cy="466.9" r="1.75" fill="#2876a8"/>
<circle cx="460.2" cy="460.9" r="1.75" fill="#2876a8"/>
<circle cx="473.8" cy="489.6" r="1.75" fill="#2876a8"/>
<circle cx="464.4" cy="474.5" r="1.75" fill="#2876a8"/>
<circle cx="476.8" cy="475.1" r="1.75" fill="#2876a8"/>
<circle cx="483.0" cy="499.0" r="1.75" fill="#2876a8"/>
<circle cx="472.1" cy="460.4" r="1.75" fill="#2876a8"/>
<circle cx="439.2" cy="487.5" r="1.75" fill="#2876a8"/>
<circle cx="450.4" cy="462.5" r="1.75" fill="#2876a8"/>
<circle cx="462.6" cy="469.7" r="1.75" fill="#2876a8"/>
<circle cx="443.8" cy="471.6" r="1.75" fill="#2876a8"/>
<circle cx="455.7" cy="476.0" r="1.75" fill="#2876a8"/>
<circle cx="441.1" cy="476.0" r="1.75" fill="#2876a8"/>
<circle cx="448.4" cy="501.0" r="1.75" fill="#2876a8"/>
<circle cx="470.2" cy="480.4" r="1.75" fill="#2876a8"/>
<circle cx="445.9" cy="446.7" r="1.75" fill="#2876a8"/>
<circle cx="462.1" cy="460.1" r="1.75" fill="#2876a8"/>
<circle cx="460.1" cy="483.6" r="1.75" fill="#2876a8"/>
<circle cx="452.9" cy="458.3" r="1.75" fill="#2876a8"/>
<circle cx="434.3" cy="497.6" r="1.75" fill="#2876a8"/>
<circle cx="439.5" cy="474.9" r="1.75" fill="#2876a8"/>
<circle cx="477.2" cy="495.2" r="1.75" fill="#2876a8"/>
<circle cx="444.5" cy="449.6" r="1.75" fill="#2876a8"/>
<circle cx="461.1" cy="452.0" r="1.75" fill="#2876a8"/>
<circle cx="458.4" cy="445.2" r="1.75" fill="#2876a8"/>
<circle cx="438.7" cy="465.8" r="1.75" fill="#2876a8"/>
<circle cx="468.9" cy="491.6" r="1.75" fill="#2876a8"/>
<circle cx="466.6" cy="470.4" r="1.75" fill="#2876a8"/>
<circle cx="480.7" cy="483.9" r="1.75" fill="#2876a8"/>
<circle cx="458.5" cy="467.7" r="1.75" fill="#2876a8"/>
<circle cx="477.3" cy="484.9" r="1.75" fill="#2876a8"/>
<circle cx="453.7" cy="457.3" r="1.75" fill="#2876a8"/>
<circle cx="444.0" cy="475.4" r="1.75" fill="#2876a8"/>
<circle cx="465.8" cy="488.1" r="1.75" fill="#2876a8"/>
<circle cx="463.7" cy="486.8" r="1.75" fill="#2876a8"/>
<circle cx="437.0" cy="479.4" r="1.75" fill="#2876a8"/>
<circle cx="452.2" cy="479.5" r="1.75" fill="#2876a8"/>
<circle cx="458.6" cy="458.0" r="1.75" fill="#2876a8"/>
<circle cx="473.5" cy="489.4" r="1.75" fill="#2876a8"/>
<circle cx="442.1" cy="463.8" r="1.75" fill="#2876a8"/>
<circle cx="443.4" cy="503.3" r="1.75" fill="#2876a8"/>
<circle cx="467.6" cy="480.5" r="1.75" fill="#2876a8"/>
<circle cx="435.2" cy="470.0" r="1.75" fill="#2876a8"/>
<circle cx="472.3" cy="466.0" r="1.75" fill="#2876a8"/>
<circle cx="469.2" cy="480.5" r="1.75" fill="#2876a8"/>
<circle cx="468.3" cy="494.0" r="1.75" fill="#2876a8"/>
<circle cx="449.9" cy="477.9" r="1.75" fill="#2876a8"/>
<circle cx="438.0" cy="497.5" r="1.75" fill="#2876a8"/>
<circle cx="435.4" cy="471.4" r="1.75" fill="#2876a8"/>
<circle cx="437.0" cy="482.5" r="1.75" fill="#2876a8"/>
<circle cx="436.6" cy="490.2" r="1.75" fill="#2876a8"/>
<circle cx="458.9" cy="475.4" r="1.75" fill="#2876a8"/>
<circle cx="439.6" cy="455.4" r="1.75" fill="#2876a8"/>
<circle cx="455.9" cy="482.4" r="1.75" fill="#2876a8"/>
<circle cx="439.4" cy="475.7" r="1.75" fill="#2876a8"/>
<circle cx="464.7" cy="519.8" r="1.75" fill="#2876a8"/>
<circle cx="462.5" cy="477.2" r="1.75" fill="#2876a8"/>
<circle cx="470.4" cy="491.2" r="1.75" fill="#2876a8"/>
<circle cx="465.9" cy="494.2" r="1.75" fill="#2876a8"/>
<circle cx="439.8" cy="491.4" r="1.75" fill="#2876a8"/>
<circle cx="490.3" cy="463.6" r="1.75" fill="#2876a8"/>
<circle cx="438.5" cy="478.1" r="1.75" fill="#2876a8"/>
<circle cx="467.6" cy="506.2" r="1.75" fill="#2876a8"/>
<circle cx="444.8" cy="491.4" r="1.75" fill="#2876a8"/>
<circle cx="476.1" cy="471.6" r="1.75" fill="#2876a8"/>
<circle cx="451.2" cy="455.4" r="1.75" fill="#2876a8"/>
<circle cx="456.9" cy="462.7" r="1.75" fill="#2876a8"/>
<circle cx="435.1" cy="465.0" r="1.75" fill="#2876a8"/>
<circle cx="440.0" cy="485.7" r="1.75" fill="#2876a8"/>
<circle cx="457.6" cy="462.7" r="1.75" fill="#2876a8"/>
<circle cx="439.7" cy="489.0" r="1.75" fill="#2876a8"/>
<circle cx="465.6" cy="467.7" r="1.75" fill="#2876a8"/>
<circle cx="445.8" cy="467.2" r="1.75" fill="#2876a8"/>
<circle cx="476.7" cy="490.9" r="1.75" fill="#2876a8"/>
<circle cx="468.8" cy="471.3" r="1.75" fill="#2876a8"/>
<circle cx="448.9" cy="472.3" r="1.75" fill="#2876a8"/>
<circle cx="470.8" cy="470.5" r="1.75" fill="#2876a8"/>
<circle cx="489.5" cy="506.2" r="1.75" fill="#2876a8"/>
<circle cx="477.7" cy="476.8" r="1.75" fill="#2876a8"/>
<circle cx="455.0" cy="484.3" r="1.75" fill="#2876a8"/>
<circle cx="459.6" cy="483.4" r="1.75" fill="#2876a8"/>
<circle cx="433.0" cy="483.1" r="1.75" fill="#2876a8"/>
<circle cx="440.3" cy="495.1" r="1.75" fill="#2876a8"/>
<circle cx="469.9" cy="482.5" r="1.75" fill="#2876a8"/>
<circle cx="444.7" cy="477.0" r="1.75" fill="#2876a8"/>
<circle cx="434.0" cy="488.1" r="1.75" fill="#2876a8"/>
<circle cx="461.3" cy="444.0" r="1.75" fill="#2876a8"/>
<circle cx="437.3" cy="482.0" r="1.75" fill="#2876a8"/>
<circle cx="451.2" cy="465.0" r="1.75" fill="#2876a8"/>
<circle cx="458.2" cy="497.8" r="1.75" fill="#2876a8"/>
<circle cx="470.3" cy="484.9" r="1.75" fill="#2876a8"/>
<circle cx="456.8" cy="474.8" r="1.75" fill="#2876a8"/>
<circle cx="474.7" cy="470.6" r="1.75" fill="#2876a8"/>
<circle cx="468.4" cy="476.6" r="1.75" fill="#2876a8"/>
<circle cx="450.0" cy="492.6" r="1.75" fill="#2876a8"/>
<circle cx="451.1" cy="467.5" r="1.75" fill="#2876a8"/>
<circle cx="462.4" cy="504.3" r="1.75" fill="#2876a8"/>
<circle cx="477.7" cy="478.7" r="1.75" fill="#2876a8"/>
<circle cx="459.9" cy="481.2" r="1.75" fill="#2876a8"/>
<circle cx="434.1" cy="489.6" r="1.75" fill="#2876a8"/>
<circle cx="439.5" cy="490.8" r="1.75" fill="#2876a8"/>
<circle cx="476.2" cy="462.5" r="1.75" fill="#2876a8"/>
<circle cx="472.0" cy="478.0" r="1.75" fill="#2876a8"/>
<circle cx="468.9" cy="477.3" r="1.75" fill="#2876a8"/>
<circle cx="449.0" cy="468.5" r="1.75" fill="#2876a8"/>
<circle cx="456.7" cy="456.9" r="1.75" fill="#2876a8"/>
<circle cx="440.2" cy="472.2" r="1.75" fill="#2876a8"/>
<circle cx="455.5" cy="468.3" r="1.75" fill="#2876a8"/>
<circle cx="446.5" cy="446.5" r="1.75" fill="#2876a8"/>
<circle cx="453.8" cy="486.5" r="1.75" fill="#2876a8"/>
<circle cx="457.7" cy="482.5" r="1.75" fill="#2876a8"/>
<circle cx="457.1" cy="495.1" r="1.75" fill="#2876a8"/>
<circle cx="446.7" cy="441.8" r="1.75" fill="#2876a8"/>
<circle cx="449.8" cy="509.8" r="1.75" fill="#2876a8"/>
<circle cx="459.3" cy="470.8" r="1.75" fill="#2876a8"/>
<circle cx="441.0" cy="476.2" r="1.75" fill="#2876a8"/>
<circle cx="461.3" cy="489.7" r="1.75" fill="#2876a8"/>
<circle cx="475.2" cy="460.6" r="1.75" fill="#2876a8"/>
<circle cx="440.3" cy="494.9" r="1.75" fill="#2876a8"/>
<circle cx="436.9" cy="481.3" r="1.75" fill="#2876a8"/>
<circle cx="437.0" cy="490.1" r="1.75" fill="#2876a8"/>
<circle cx="467.2" cy="486.6" r="1.75" fill="#2876a8"/>
<circle cx="464.9" cy="475.0" r="1.75" fill="#2876a8"/>
<circle cx="474.4" cy="503.0" r="1.75" fill="#2876a8"/>
<circle cx="468.3" cy="491.4" r="1.75" fill="#2876a8"/>
<circle cx="437.7" cy="507.2" r="1.75" fill="#2876a8"/>
<circle cx="438.2" cy="482.2" r="1.75" fill="#2876a8"/>
<circle cx="435.2" cy="480.1" r="1.75" fill="#2876a8"/>
<circle cx="467.5" cy="470.1" r="1.75" fill="#2876a8"/>
<circle cx="446.1" cy="470.0" r="1.75" fill="#2876a8"/>
<circle cx="446.9" cy="467.1" r="1.75" fill="#2876a8"/>
<circle cx="455.1" cy="467.9" r="1.75" fill="#2876a8"/>
<circle cx="454.7" cy="505.4" r="1.75" fill="#2876a8"/>
<circle cx="457.4" cy="456.2" r="1.75" fill="#2876a8"/>
<circle cx="458.4" cy="471.2" r="1.75" fill="#2876a8"/>
<circle cx="441.9" cy="507.2" r="1.75" fill="#2876a8"/>
<circle cx="463.8" cy="482.5" r="1.75" fill="#2876a8"/>
<circle cx="442.2" cy="457.4" r="1.75" fill="#2876a8"/>
<circle cx="438.6" cy="503.1" r="1.75" fill="#2876a8"/>
<circle cx="481.4" cy="473.5" r="1.75" fill="#2876a8"/>
<circle cx="451.5" cy="497.8" r="1.75" fill="#2876a8"/>
<circle cx="472.6" cy="476.1" r="1.75" fill="#2876a8"/>
<circle cx="472.6" cy="458.9" r="1.75" fill="#2876a8"/>
<circle cx="480.2" cy="460.5" r="1.75" fill="#2876a8"/>
<circle cx="441.7" cy="470.8" r="1.75" fill="#2876a8"/>
<circle cx="446.9" cy="471.9" r="1.75" fill="#2876a8"/>
<circle cx="477.5" cy="483.2" r="1.75" fill="#2876a8"/>
<circle cx="449.0" cy="446.7" r="1.75" fill="#2876a8"/>
<circle cx="453.7" cy="479.0" r="1.75" fill="#2876a8"/>
<circle cx="450.7" cy="466.4" r="1.75" fill="#2876a8"/>
<circle cx="465.7" cy="489.2" r="1.75" fill="#2876a8"/>
<circle cx="445.2" cy="475.0" r="1.75" fill="#2876a8"/>
<circle cx="472.3" cy="462.9" r="1.75" fill="#2876a8"/>
<circle cx="461.3" cy="475.9" r="1.75" fill="#2876a8"/>
<circle cx="445.1" cy="515.0" r="1.75" fill="#2876a8"/>
<circle cx="474.1" cy="472.7" r="1.75" fill="#2876a8"/>
<circle cx="422.9" cy="477.4" r="1.75" fill="#2876a8"/>
<circle cx="455.5" cy="454.1" r="1.75" fill="#2876a8"/>
<circle cx="444.2" cy="463.9" r="1.75" fill="#2876a8"/>
<circle cx="437.3" cy="436.5" r="1.75" fill="#2876a8"/>
<circle cx="477.4" cy="458.2" r="1.75" fill="#2876a8"/>
<circle cx="471.1" cy="493.0" r="1.75" fill="#2876a8"/>
<circle cx="454.7" cy="461.0" r="1.75" fill="#2876a8"/>
<circle cx="438.9" cy="473.7" r="1.75" fill="#2876a8"/>
<circle cx="443.4" cy="493.4" r="1.75" fill="#2876a8"/>
<circle cx="469.5" cy="468.6" r="1.75" fill="#2876a8"/>
<circle cx="467.0" cy="465.2" r="1.75" fill="#2876a8"/>
<circle cx="468.5" cy="468.9" r="1.75" fill="#2876a8"/>
<circle cx="460.8" cy="467.6" r="1.75" fill="#2876a8"/>
<circle cx="469.0" cy="504.3" r="1.75" fill="#2876a8"/>
<circle cx="454.5" cy="468.3" r="1.75" fill="#2876a8"/>
<circle cx="451.5" cy="472.6" r="1.75" fill="#2876a8"/>
<circle cx="438.1" cy="488.6" r="1.75" fill="#2876a8"/>
<circle cx="444.7" cy="484.5" r="1.75" fill="#2876a8"/>
<circle cx="474.5" cy="455.4" r="1.75" fill="#2876a8"/>
<circle cx="453.7" cy="458.6" r="1.75" fill="#2876a8"/>
<circle cx="455.6" cy="502.7" r="1.75" fill="#2876a8"/>
<circle cx="434.4" cy="463.8" r="1.75" fill="#2876a8"/>
<circle cx="436.8" cy="481.2" r="1.75" fill="#2876a8"/>
<circle cx="472.1" cy="454.5" r="1.75" fill="#2876a8"/>
<circle cx="444.7" cy="483.0" r="1.75" fill="#2876a8"/>
<circle cx="451.8" cy="489.0" r="1.75" fill="#2876a8"/>
<circle cx="455.4" cy="527.6" r="1.75" fill="#2876a8"/>
<circle cx="460.3" cy="487.0" r="1.75" fill="#2876a8"/>
<circle cx="448.1" cy="458.3" r="1.75" fill="#2876a8"/>
<circle cx="448.6" cy="438.1" r="1.75" fill="#2876a8"/>
<circle cx="458.3" cy="465.5" r="1.75" fill="#2876a8"/>
<circle cx="471.5" cy="470.9" r="1.75" fill="#2876a8"/>
<circle cx="450.7" cy="476.1" r="1.75" fill="#2876a8"/>
<circle cx="473.4" cy="497.7" r="1.75" fill="#2876a8"/>
<circle cx="443.3" cy="465.1" r="1.75" fill="#2876a8"/>
<circle cx="464.1" cy="473.9" r="1.75" fill="#2876a8"/>
<circle cx="474.4" cy="475.2" r="1.75" fill="#2876a8"/>
<circle cx="475.9" cy="477.4" r="1.75" fill="#2876a8"/>
<circle cx="450.6" cy="484.8" r="1.75" fill="#2876a8"/>
<circle cx="439.8" cy="500.6" r="1.75" fill="#2876a8"/>
<circle cx="426.4" cy="488.4" r="1.75" fill="#2876a8"/>
<circle cx="471.7" cy="469.9" r="1.75" fill="#2876a8"/>
<circle cx="474.6" cy="461.7" r="1.75" fill="#2876a8"/>
<circle cx="445.2" cy="498.7" r="1.75" fill="#2876a8"/>
<circle cx="444.7" cy="481.8" r="1.75" fill="#2876a8"/>
<circle cx="463.9" cy="447.4" r="1.75" fill="#2876a8"/>
<circle cx="482.9" cy="458.9" r="1.75" fill="#2876a8"/>
<circle cx="477.5" cy="463.3" r="1.75" fill="#2876a8"/>
<circle cx="451.1" cy="471.3" r="1.75" fill="#2876a8"/>
<circle cx="470.2" cy="464.6" r="1.75" fill="#2876a8"/>
<circle cx="457.1" cy="435.9" r="1.75" fill="#2876a8"/>
<circle cx="447.8" cy="489.8" r="1.75" fill="#2876a8"/>
<circle cx="454.3" cy="470.8" r="1.75" fill="#2876a8"/>
<circle cx="459.4" cy="466.8" r="1.75" fill="#2876a8"/>
<circle cx="438.0" cy="463.1" r="1.75" fill="#2876a8"/>
<circle cx="481.3" cy="483.0" r="1.75" fill="#2876a8"/>
<circle cx="450.6" cy="508.2" r="1.75" fill="#2876a8"/>
<circle cx="470.2" cy="492.5" r="1.75" fill="#2876a8"/>
<circle cx="475.8" cy="472.0" r="1.75" fill="#2876a8"/>
<circle cx="445.9" cy="467.9" r="1.75" fill="#2876a8"/>
<circle cx="470.0" cy="487.1" r="1.75" fill="#2876a8"/>
<circle cx="457.5" cy="517.1" r="1.75" fill="#2876a8"/>
<circle cx="457.6" cy="462.8" r="1.75" fill="#2876a8"/>
<circle cx="463.9" cy="479.7" r="1.75" fill="#2876a8"/>
<circle cx="417.6" cy="462.9" r="1.75" fill="#2876a8"/>
<circle cx="431.0" cy="482.2" r="1.75" fill="#2876a8"/>
<circle cx="454.3" cy="487.4" r="1.75" fill="#2876a8"/>
<circle cx="465.9" cy="480.5" r="1.75" fill="#2876a8"/>
<circle cx="436.8" cy="474.3" r="1.75" fill="#2876a8"/>
<circle cx="460.4" cy="466.5" r="1.75" fill="#2876a8"/>
<circle cx="446.4" cy="455.9" r="1.75" fill="#2876a8"/>
<circle cx="437.5" cy="474.1" r="1.75" fill="#2876a8"/>
<circle cx="468.2" cy="469.3" r="1.75" fill="#2876a8"/>
<circle cx="433.1" cy="463.0" r="1.75" fill="#2876a8"/>
<circle cx="462.2" cy="473.9" r="1.75" fill="#2876a8"/>
<circle cx="439.9" cy="492.5" r="1.75" fill="#2876a8"/>
<circle cx="481.0" cy="476.6" r="1.75" fill="#2876a8"/>
<circle cx="466.6" cy="489.3" r="1.75" fill="#2876a8"/>
<circle cx="469.3" cy="485.4" r="1.75" fill="#2876a8"/>
<circle cx="435.2" cy="477.1" r="1.75" fill="#2876a8"/>
<circle cx="448.5" cy="497.9" r="1.75" fill="#2876a8"/>
<circle cx="453.9" cy="496.2" r="1.75" fill="#2876a8"/>
<circle cx="472.8" cy="454.6" r="1.75" fill="#2876a8"/>
<circle cx="459.8" cy="471.3" r="1.75" fill="#2876a8"/>
<circle cx="460.3" cy="480.8" r="1.75" fill="#2876a8"/>
<circle cx="459.8" cy="447.6" r="1.75" fill="#2876a8"/>
<circle cx="461.5" cy="464.8" r="1.75" fill="#2876a8"/>
<circle cx="460.9" cy="483.3" r="1.75" fill="#2876a8"/>
<circle cx="473.8" cy="464.0" r="1.75" fill="#2876a8"/>
<circle cx="458.0" cy="495.8" r="1.75" fill="#2876a8"/>
<circle cx="467.6" cy="498.1" r="1.75" fill="#2876a8"/>
<circle cx="453.1" cy="460.1" r="1.75" fill="#2876a8"/>
<circle cx="449.3" cy="466.4" r="1.75" fill="#2876a8"/>
<circle cx="454.6" cy="455.9" r="1.75" fill="#2876a8"/>
<circle cx="442.3" cy="452.7" r="1.75" fill="#2876a8"/>
<circle cx="442.2" cy="469.8" r="1.75" fill="#2876a8"/>
<circle cx="479.1" cy="470.3" r="1.75" fill="#2876a8"/>
<circle cx="492.6" cy="402.5" r="1.9" fill="#2876a8"/>
<circle cx="468.9" cy="580.4" r="1.9" fill="#2876a8"/>
<circle cx="449.0" cy="544.2" r="1.9" fill="#2876a8"/>
<circle cx="457.0" cy="539.5" r="1.9" fill="#2876a8"/>
<rect x="437.2" y="467.7" width="37" height="21.1" fill="#2b7aab" fill-opacity="0.55" stroke="#1d5a7e" stroke-width="1.1"/>
<line x1="437.2" y1="477.8" x2="474.2" y2="477.8" stroke="#1d5a7e" stroke-width="1.1"/>
<line x1="456.3" y1="402.6" x2="456.3" y2="467.7" stroke="#2a6787" stroke-width="1.1"/>
<line x1="456.3" y1="488.8" x2="456.3" y2="580.4" stroke="#2a6787" stroke-width="1.1"/>
<line x1="447.3" y1="402.6" x2="466.4" y2="402.6" stroke="#2a6787" stroke-width="1.1"/>
<line x1="447.3" y1="580.4" x2="466.4" y2="580.4" stroke="#2a6787" stroke-width="1.1"/>
<rect x="57.00" y="69.60" width="189.00" height="199.80" fill="none" stroke="#000" stroke-width="1.6"/>
<line x1="151.50" y1="69.60" x2="151.50" y2="269.40" stroke="#000" stroke-width="1.6"/>
<rect x="313.00" y="69.60" width="190.40" height="199.80" fill="none" stroke="#000" stroke-width="1.6"/>
<line x1="408.30" y1="69.60" x2="408.30" y2="269.40" stroke="#000" stroke-width="1.6"/>
<rect x="57.10" y="391.00" width="188.40" height="202.00" fill="none" stroke="#000" stroke-width="1.6"/>
<rect x="313.10" y="391.00" width="188.40" height="202.10" fill="none" stroke="#000" stroke-width="1.6"/>
<circle cx="64.7" cy="92.7" r="2.8" fill="#1d4a78"/>
<circle cx="64.7" cy="107.7" r="2.8" fill="#6a6a6a"/>
<circle cx="64.7" cy="122.4" r="2.8" fill="#2a9ad5"/>
<text transform="translate(72.60,95.70)" font-size="9.7" text-anchor="start" fill="#1e1b1c" textLength="44.2" lengthAdjust="spacingAndGlyphs" stroke="#1e1b1c" stroke-width="0.12">up (q&lt;0.1)</text>
<text transform="translate(72.60,110.60)" font-size="9.7" text-anchor="start" fill="#1e1b1c" textLength="60.2" lengthAdjust="spacingAndGlyphs" stroke="#1e1b1c" stroke-width="0.12">not significant</text>
<text transform="translate(72.60,125.40)" font-size="9.7" text-anchor="start" fill="#1e1b1c" textLength="56.9" lengthAdjust="spacingAndGlyphs" stroke="#1e1b1c" stroke-width="0.12">down (q&lt;0.1)</text>
<text transform="translate(86.00,79.50)" font-size="9.5" text-anchor="start" fill="#1e1b1c" textLength="31.4" lengthAdjust="spacingAndGlyphs" stroke="#1e1b1c" stroke-width="0.12">Female</text>
<text transform="translate(193.70,79.50)" font-size="9.5" text-anchor="start" fill="#1e1b1c" textLength="21.1" lengthAdjust="spacingAndGlyphs" stroke="#1e1b1c" stroke-width="0.12">Male</text>
<text transform="translate(191.90,88.50)" font-size="9.5" text-anchor="start" fill="#1e1b1c" textLength="43.9" lengthAdjust="spacingAndGlyphs" stroke="#1e1b1c" stroke-width="0.12">Creatinine</text>
<text transform="translate(192.80,159.00)" font-size="9.5" text-anchor="start" fill="#1e1b1c" textLength="22.5" lengthAdjust="spacingAndGlyphs" stroke="#1e1b1c" stroke-width="0.12">Urate</text>
<text transform="translate(187.50,256.20)" font-size="9.5" text-anchor="start" fill="#1e1b1c" textLength="46.7" lengthAdjust="spacingAndGlyphs" stroke="#1e1b1c" stroke-width="0.12">Kynurenine</text>
<circle cx="320.5" cy="92.9" r="2.8" fill="#1d4a78"/>
<circle cx="320.5" cy="107.8" r="2.8" fill="#6a6a6a"/>
<circle cx="320.5" cy="122.2" r="2.8" fill="#2a9ad5"/>
<text transform="translate(328.20,95.60)" font-size="9.7" text-anchor="start" fill="#1e1b1c" textLength="44.6" lengthAdjust="spacingAndGlyphs" stroke="#1e1b1c" stroke-width="0.12">up (q&lt;0.1)</text>
<text transform="translate(328.20,110.50)" font-size="9.7" text-anchor="start" fill="#1e1b1c" textLength="60.3" lengthAdjust="spacingAndGlyphs" stroke="#1e1b1c" stroke-width="0.12">not significant</text>
<text transform="translate(328.20,125.20)" font-size="9.7" text-anchor="start" fill="#1e1b1c" textLength="56.9" lengthAdjust="spacingAndGlyphs" stroke="#1e1b1c" stroke-width="0.12">down (q&lt;0.1)</text>
<text transform="translate(444.30,100.80)" font-size="9.5" text-anchor="start" fill="#1e1b1c" textLength="46.2" lengthAdjust="spacingAndGlyphs" stroke="#1e1b1c" stroke-width="0.12">kynurenine</text>
<text transform="translate(172.70,581.40)" font-size="9.7" text-anchor="start" fill="#2a2a2a" textLength="57.1" lengthAdjust="spacingAndGlyphs" stroke="none">q = 6.09 × 10</text>
<text transform="translate(230.60,576.60)" font-size="7" text-anchor="start" fill="#2a2a2a" textLength="8.8" lengthAdjust="spacingAndGlyphs" stroke="none">&#8722;21</text>
<text transform="translate(327.40,581.20)" font-size="9.7" text-anchor="start" fill="#2a2a2a" textLength="57.7" lengthAdjust="spacingAndGlyphs" stroke="none">q = 9.51 × 10</text>
<text transform="translate(385.90,576.40)" font-size="7" text-anchor="start" fill="#2a2a2a" textLength="8.8" lengthAdjust="spacingAndGlyphs" stroke="none">&#8722;12</text>
</svg>
</body></html>
